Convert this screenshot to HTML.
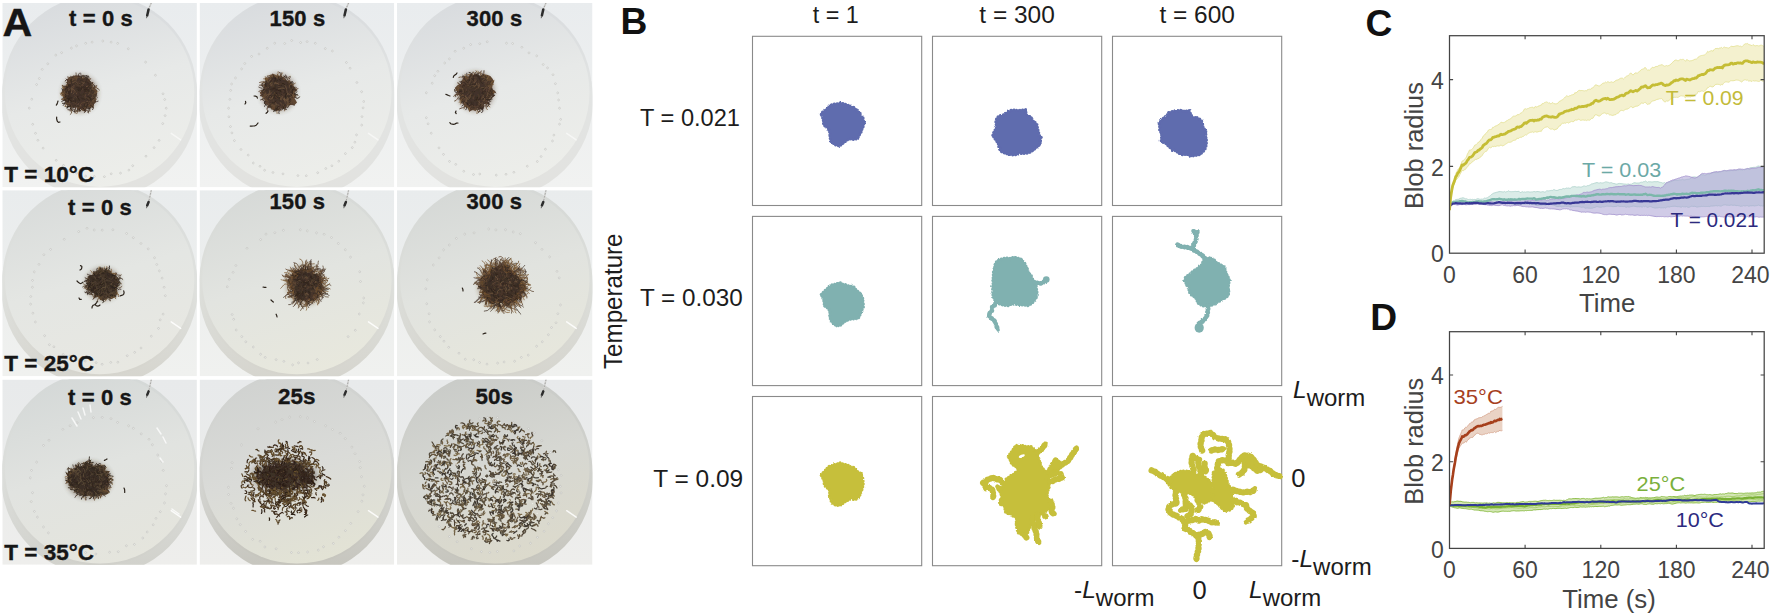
<!DOCTYPE html>
<html lang="en"><head><meta charset="utf-8"><title>Worm blob figure</title>
<style>
html,body{margin:0;padding:0;background:#fff;}
body{width:1772px;height:616px;overflow:hidden;}
svg{display:block;font-family:"Liberation Sans", Arial, Helvetica, sans-serif;}
</style></head><body>
<svg width="1772" height="616" viewBox="0 0 1772 616">
<defs>
<filter id="soft" x="-10%" y="-10%" width="120%" height="120%"><feGaussianBlur stdDeviation="0.45"/></filter>
<filter id="rough" x="0" y="0" width="100%" height="100%" filterUnits="userSpaceOnUse"><feTurbulence type="fractalNoise" baseFrequency="0.28" numOctaves="2" seed="4" result="n"/><feDisplacementMap in="SourceGraphic" in2="n" scale="2.2" xChannelSelector="R" yChannelSelector="G"/></filter>
<filter id="blur2" x="-30%" y="-30%" width="160%" height="160%"><feGaussianBlur stdDeviation="2"/></filter>
<filter id="blur3" x="-30%" y="-30%" width="160%" height="160%"><feGaussianBlur stdDeviation="5"/></filter>
<linearGradient id="cell0" x1="0.3" y1="0" x2="0.6" y2="1"><stop offset="0" stop-color="#d8dbde"/><stop offset="0.5" stop-color="#e7e9e8"/><stop offset="1" stop-color="#edeeea"/></linearGradient>
<linearGradient id="cell1" x1="0.3" y1="0" x2="0.6" y2="1"><stop offset="0" stop-color="#d8dbde"/><stop offset="0.5" stop-color="#e7e9e8"/><stop offset="1" stop-color="#edeeea"/></linearGradient>
<linearGradient id="cell2" x1="0.3" y1="0" x2="0.6" y2="1"><stop offset="0" stop-color="#d8dbde"/><stop offset="0.5" stop-color="#e7e9e8"/><stop offset="1" stop-color="#edeeea"/></linearGradient>
<linearGradient id="cell3" x1="0.3" y1="0" x2="0.6" y2="1"><stop offset="0" stop-color="#d8dbda"/><stop offset="0.5" stop-color="#e4e6e3"/><stop offset="1" stop-color="#e8e8e2"/></linearGradient>
<linearGradient id="cell4" x1="0.3" y1="0" x2="0.6" y2="1"><stop offset="0" stop-color="#d6d9d7"/><stop offset="0.5" stop-color="#e2e4e0"/><stop offset="1" stop-color="#e8e8dd"/></linearGradient>
<linearGradient id="cell5" x1="0.3" y1="0" x2="0.6" y2="1"><stop offset="0" stop-color="#d5d8d6"/><stop offset="0.5" stop-color="#e1e3df"/><stop offset="1" stop-color="#e7e7dc"/></linearGradient>
<linearGradient id="cell6" x1="0.3" y1="0" x2="0.6" y2="1"><stop offset="0" stop-color="#d4d8d7"/><stop offset="0.5" stop-color="#e1e3e0"/><stop offset="1" stop-color="#e5e5dd"/></linearGradient>
<linearGradient id="cell7" x1="0.3" y1="0" x2="0.6" y2="1"><stop offset="0" stop-color="#d0d2d0"/><stop offset="0.5" stop-color="#dadbd8"/><stop offset="1" stop-color="#e3e3d5"/></linearGradient>
<linearGradient id="cell8" x1="0.3" y1="0" x2="0.6" y2="1"><stop offset="0" stop-color="#c9cbc8"/><stop offset="0.5" stop-color="#d6d7d2"/><stop offset="1" stop-color="#dcdacc"/></linearGradient>
<linearGradient id="rim0" x1="0" y1="0" x2="0" y2="1"><stop offset="0" stop-color="#d8dbde"/><stop offset="0.5" stop-color="#e2e4e3"/><stop offset="1" stop-color="#e2e2df"/></linearGradient>
<linearGradient id="rim1" x1="0" y1="0" x2="0" y2="1"><stop offset="0" stop-color="#d8dbde"/><stop offset="0.5" stop-color="#e2e4e3"/><stop offset="1" stop-color="#e2e2df"/></linearGradient>
<linearGradient id="rim2" x1="0" y1="0" x2="0" y2="1"><stop offset="0" stop-color="#d8dbde"/><stop offset="0.5" stop-color="#e2e4e3"/><stop offset="1" stop-color="#e2e2df"/></linearGradient>
<linearGradient id="rim3" x1="0" y1="0" x2="0" y2="1"><stop offset="0" stop-color="#d8dbda"/><stop offset="0.5" stop-color="#dfe1de"/><stop offset="1" stop-color="#d5d4cd"/></linearGradient>
<linearGradient id="rim4" x1="0" y1="0" x2="0" y2="1"><stop offset="0" stop-color="#d6d9d7"/><stop offset="0.5" stop-color="#dddfdb"/><stop offset="1" stop-color="#d5d4cd"/></linearGradient>
<linearGradient id="rim5" x1="0" y1="0" x2="0" y2="1"><stop offset="0" stop-color="#d5d8d6"/><stop offset="0.5" stop-color="#dcdeda"/><stop offset="1" stop-color="#d5d4cd"/></linearGradient>
<linearGradient id="rim6" x1="0" y1="0" x2="0" y2="1"><stop offset="0" stop-color="#d4d8d7"/><stop offset="0.5" stop-color="#dcdedb"/><stop offset="1" stop-color="#d0d0ca"/></linearGradient>
<linearGradient id="rim7" x1="0" y1="0" x2="0" y2="1"><stop offset="0" stop-color="#d0d2d0"/><stop offset="0.5" stop-color="#d5d6d3"/><stop offset="1" stop-color="#c5c4bc"/></linearGradient>
<linearGradient id="rim8" x1="0" y1="0" x2="0" y2="1"><stop offset="0" stop-color="#c9cbc8"/><stop offset="0.5" stop-color="#d1d2cd"/><stop offset="1" stop-color="#c5c4bc"/></linearGradient>
<linearGradient id="bg0" x1="0" y1="0" x2="0" y2="1"><stop offset="0" stop-color="#e9ecee"/><stop offset="1" stop-color="#f1f2f1"/></linearGradient>
<linearGradient id="bg1" x1="0" y1="0" x2="0" y2="1"><stop offset="0" stop-color="#e9eced"/><stop offset="1" stop-color="#f0f1ef"/></linearGradient>
<linearGradient id="bg2" x1="0" y1="0" x2="0" y2="1"><stop offset="0" stop-color="#e8eaeb"/><stop offset="1" stop-color="#eeeeec"/></linearGradient>

<clipPath id="clip0"><rect x="2.3" y="2.9" width="194.6" height="184.3"/></clipPath>
<clipPath id="clip1"><rect x="199.6" y="2.9" width="194.6" height="184.3"/></clipPath>
<clipPath id="clip2"><rect x="397" y="2.9" width="195.5" height="184.3"/></clipPath>
<clipPath id="clip3"><rect x="2.3" y="190.2" width="194.6" height="186"/></clipPath>
<clipPath id="clip4"><rect x="199.6" y="190.2" width="194.6" height="186"/></clipPath>
<clipPath id="clip5"><rect x="397" y="190.2" width="195.5" height="186"/></clipPath>
<clipPath id="clip6"><rect x="2.3" y="379.6" width="194.6" height="185.2"/></clipPath>
<clipPath id="clip7"><rect x="199.6" y="379.6" width="194.6" height="185.2"/></clipPath>
<clipPath id="clip8"><rect x="397" y="379.6" width="195.5" height="185.2"/></clipPath>
</defs>
<g id="panelA">
<g clip-path="url(#clip0)">
<rect x="2.3" y="2.9" width="194.6" height="184.3" fill="url(#bg0)"/>
<circle cx="99.6" cy="100.5" r="98.3" fill="url(#rim0)"/>
<circle cx="99.6" cy="91.9" r="97.1" fill="url(#rim0)"/>
<circle cx="99.6" cy="92.2" r="94.7" fill="url(#cell0)"/>
<g fill="#f6f6f4" stroke="#b4b4b0" stroke-width="0.55" opacity="0.85"><circle cx="166.2" cy="108.2" r="0.9"/><circle cx="165.1" cy="115.6" r="0.9"/><circle cx="162.7" cy="123.6" r="0.9"/><circle cx="159.1" cy="140.4" r="0.9"/><circle cx="154.1" cy="147.6" r="0.9"/><circle cx="146" cy="156.2" r="0.9"/><circle cx="132.7" cy="165.7" r="0.9"/><circle cx="128.9" cy="170.1" r="0.9"/><circle cx="120.5" cy="173.1" r="0.9"/><circle cx="111.2" cy="173.8" r="0.9"/><circle cx="104.4" cy="176.7" r="0.9"/><circle cx="94.3" cy="176.5" r="0.9"/><circle cx="85.7" cy="176.1" r="0.9"/><circle cx="76.6" cy="173.1" r="0.9"/><circle cx="69.2" cy="170.6" r="0.9"/><circle cx="63.5" cy="165.4" r="0.9"/><circle cx="56.2" cy="160.3" r="0.9"/><circle cx="43.1" cy="148.1" r="0.9"/><circle cx="37.9" cy="140.3" r="0.9"/><circle cx="35.5" cy="133.3" r="0.9"/><circle cx="32.7" cy="124.3" r="0.9"/><circle cx="29.3" cy="108.1" r="0.9"/><circle cx="31.8" cy="99.2" r="0.9"/><circle cx="36.6" cy="84.6" r="0.9"/><circle cx="39.3" cy="78.5" r="0.9"/><circle cx="42.2" cy="69.4" r="0.9"/><circle cx="47.8" cy="63.8" r="0.9"/><circle cx="55.8" cy="55.1" r="0.9"/><circle cx="61.6" cy="52.7" r="0.9"/><circle cx="71.4" cy="48.1" r="0.9"/><circle cx="76.5" cy="45.9" r="0.9"/><circle cx="85.7" cy="43.3" r="0.9"/><circle cx="92.1" cy="42.1" r="0.9"/><circle cx="102.8" cy="41" r="0.9"/><circle cx="111.1" cy="42.1" r="0.9"/><circle cx="117.7" cy="43.4" r="0.9"/><circle cx="128.3" cy="48.8" r="0.9"/><circle cx="145.6" cy="62.1" r="0.9"/><circle cx="155.4" cy="75.2" r="0.9"/><circle cx="163" cy="93.8" r="0.9"/><circle cx="164.7" cy="99.5" r="0.9"/></g>
<path d="M151.3 2.9 L148.9 8.4" stroke="#d4d4d2" stroke-width="1.6" fill="none"/>
<path d="M151.3 2.9 L148.9 8.4" stroke="#9a9a98" stroke-width="0.8" fill="none" stroke-dasharray="1.5 1.5"/>
<path d="M148.6 9.4 L147.2 15.5" stroke="#2c2c2c" stroke-width="2.5" fill="none" stroke-linecap="round"/>
<path d="M147 16 l-0.5 2.2" stroke="#6a6a68" stroke-width="1" fill="none"/>
<path d="M171.2 133.4 l9.5 6.5" stroke="#ffffff" stroke-width="1.5" opacity="0.55" fill="none" stroke-linecap="round"/>
<g filter="url(#soft)">
<ellipse cx="80" cy="93.5" rx="18.3" ry="19.3" fill="#5e4632" opacity="0.4" filter="url(#blur2)"/>
<path d="M96.7 93.5 L95.8 96.1 L95.9 98.9 L96 102.1 L94 104.3 L93.6 107.9 L89.3 107.1 L86.8 107.6 L85.7 112.1 L82.6 110.8 L80 109 L77.6 109.7 L76 106.6 L73.5 107 L70.5 107.3 L68.3 105.8 L66.2 104.1 L65.3 101.4 L63.2 99.3 L63.2 96.3 L60.7 93.5 L62.5 90.6 L62.6 87.5 L65.5 85.7 L67.2 83.7 L67 79.8 L68.8 77.2 L71.8 76.4 L74.6 76 L77.3 75.8 L80 76 L82.3 78 L85.1 77.1 L87.3 78.3 L88.7 80.8 L90.3 82.6 L92.2 84.2 L92.9 86.5 L95.3 88.3 L97.3 90.6Z" fill="#5e4632"/>
<path d="M93.5 93.5 L93.3 95.7 L93 98 L91.9 99.9 L90.5 101.6 L89.7 103.8 L88.3 105.6 L86.3 106.5 L84 106.5 L82.2 107.9 L80 108.9 L78.1 106.4 L75.6 107.8 L73.1 107.8 L71.1 106.4 L68.9 105.2 L67.6 103.1 L66.9 100.6 L63.7 99.1 L65.3 96 L64.3 93.5 L65 91 L68.1 89.4 L69.2 87.7 L68.8 84.9 L70.5 83.4 L72.9 83.2 L74.5 82.1 L76.2 81.2 L77.7 78 L80 77.9 L82 79.9 L84.9 77.4 L87.7 77.4 L89.4 79.8 L90.3 82.6 L91.9 84.4 L91.3 87.4 L91.4 89.6 L95 91Z" fill="#42322a"/>
<path d="M70.7 80 70.4 78.5 69.7 77.2 M65.4 90.9 64.3 91.9 63.7 93.3 M70.7 108.4 70 109.7 70.2 111.2 M67.1 99.8 65.6 99.9 64.1 99.8 M76.1 75.9 76.2 74.4 76 72.9 M94.1 86.9 95.4 86.1 96.8 85.6" stroke="#5a4430" stroke-width="0.75" fill="none" stroke-linecap="round"/>
<path d="M63.7 88.6 62.8 87.4 62.2 86 M65.8 87.9 64.3 87.7 62.8 87.5 M78.6 108.4 79.2 109.7 79.7 111.2 M95.3 92.9 96.8 92.5 97.9 91.4 M63.2 93.4 61.7 93.3 60.2 93.2 M83 78.2 82.8 76.7 83 75.2" stroke="#86663f" stroke-width="0.75" fill="none" stroke-linecap="round"/>
<path d="M89.9 104.7 90 106.2 90.5 107.7 M75.5 78 74.7 76.7 73.8 75.5 M65.1 86 63.6 86 62.3 85.3 M68.5 83.7 67.2 83 66 82.1 M65.9 98.8 64.4 98.9 63 99.3 M67.9 106.6 66.4 106.6 64.9 106.4 M77.9 110.9 77.4 112.4 76.7 113.7 M90 108.5 89.8 110 90 111.5" stroke="#6a4c2c" stroke-width="0.75" fill="none" stroke-linecap="round"/>
<path d="M66.5 97.9 65.1 98.5 64.1 99.5 M89.1 80.9 89.9 79.7 90.7 78.4 M78 109.1 77.1 110.2 76.4 111.6 M93.8 88.1 95.2 87.6 96.2 86.5" stroke="#5e4228" stroke-width="0.75" fill="none" stroke-linecap="round"/>
<path d="M62.9 96 61.4 95.6 60.6 94.4 M70.5 80.8 69.4 79.8 68.3 78.9 M64.6 99.3 63.1 99.6 61.7 99.2 M93.2 87.4 94.7 87.2 96.1 87 M66.3 103.3 65.6 104.6 65.5 106.1 M75.1 110.3 75.2 111.7 75.2 113.2 M64.2 96.3 62.7 95.9 62 94.6" stroke="#7a5a36" stroke-width="0.75" fill="none" stroke-linecap="round"/>
<path d="M66.7 101.6 65.5 102.6 64.8 103.9 M78.3 75.8 78.7 74.3 79.5 73.1 M73.3 77.7 71.9 77.2 70.6 76.4 M65.4 90.4 64 89.9 62.6 90.4 M95.2 101.9 96.7 101.6 98.1 101.2" stroke="#3e3028" stroke-width="0.75" fill="none" stroke-linecap="round"/>
<path d="M88.2 107.4 89.5 108.1 91 107.9 M72.7 106.5 71.6 107.5 70.7 108.7 M94.9 95.7 96.2 96.5 97.4 97.5 M81.5 76.1 80.9 74.7 80.7 73.2 M78.8 77.8 78.1 76.5 78.3 75 M74.6 109.4 74.7 110.9 74.8 112.4 M63.7 97.3 62.5 98.2 61.8 99.5 M86.7 78.4 87.9 77.5 88.3 76 M92.5 102 93.1 103.3 93.6 104.8" stroke="#4a3a30" stroke-width="0.75" fill="none" stroke-linecap="round"/>
<path d="M88.7 85.2 87.5 86.2 86.1 86.7 M84.9 82.9 83.4 82.8 81.9 82.5 M73.5 89.2 72.1 89.6 71.6 91.1 71.5 92.6 M89.2 92.3 89.3 93.8 88.3 95 M87.9 81.4 89.2 80.8 89.6 79.3 88.8 78 M68.4 103.3 69.5 102.3 69.7 100.8 M84.3 103.3 85.7 102.7 86.8 101.7 88.1 100.9 M73 86.1 72 87.2 71.5 88.6 71.1 90.1 70.3 91.4 M71.5 108.9 71.4 110.4 71.6 111.9 71.4 113.3 70.2 114.4 M91.8 86 93 85.2 93.9 83.9 M89.9 82.3 89.9 83.8 89.5 85.3 M65.6 87.5 66.6 86.3 66.6 84.8 M91.5 97.8 92.5 96.6 92.7 95.1 91.7 94 90.4 93.3 M73.2 100.2 73.4 98.7 74 97.4 75.3 96.6 M92.9 82.4 92.2 83.8 91 84.7 M67.9 92.1 66.8 93.2 65.6 94 64.6 95.1 M86.6 90.6 87.8 89.8 89.3 89.4 M87.9 109 87.7 107.5 86.7 106.3 85.6 105.3 M78.7 102.8 78.4 104.3 77.3 105.3 75.9 105.8 M72.8 82.6 73.9 81.6 75.4 81.4 76.6 82.2" stroke="#6c543c" stroke-width="0.9" fill="none" stroke-linecap="round"/>
<path d="M87.1 97.7 85.9 98.6 84.8 99.6 84.4 101.1 M82.1 80.9 80.7 80.4 80.3 79 M82.8 100.1 82.6 98.6 82.8 97.1 83.9 96.1 85.4 96.6 M85.2 110.2 85.7 108.7 86.8 107.7 86.6 106.2 M94.1 98.2 94.5 96.7 95.7 95.9 96.5 94.6 96.7 93.1 M86.7 105.4 87.6 106.6 89 107.3 90.5 107.4 M69.8 84.4 69.8 82.9 70.2 81.4 70.3 79.9 M69.2 95.3 67.7 95.1 66.4 95.9 M79.4 88.3 79.5 86.8 80.9 86.1 81.5 84.8 M72.7 99.9 74.1 100.5 74.4 102 74 103.4 M72 100.5 70.7 99.7 69.9 98.5 70.2 97 M75.3 96.5 74 97.1 73.6 98.6 74.5 99.8 M83.9 105.5 83.4 106.9 82.5 108 81.7 109.3 M84.6 94.4 83.1 94.7 81.6 94.8 80.1 94.9 79 95.8 M86 97.4 87.2 98.2 88 99.4 88.2 100.9 M84.1 89 82.7 88.7 81.2 88.8 79.9 89.6 M85.2 91.1 85.8 89.8 87.3 89.3 88.6 90 89.9 90.8 M77 87.2 77.2 85.7 76.5 84.4 75.1 83.7 73.6 83.6 M77.3 89.4 78.7 88.9 80.2 88.7 81.7 89 M84.7 79.6 83.2 79.8 81.7 79.8 80.2 80.2 M85.4 98.5 83.9 98.4 82.7 99.3 81.4 100 80.3 101.1 M73.4 89.4 74.8 88.8 75.9 87.8 75.5 86.3 M81.1 76.7 82.3 75.7 83.8 75.8 85.1 76.4 85.9 77.7 M80.5 100.9 79.1 100.5 78.1 99.3 77.4 98 76 97.3 M87.8 95.4 88.2 96.8 89.3 97.8 90.8 97.7 M83.3 94.3 81.9 94.8 80.5 95.4 79 95.2 M79.4 111 79.3 109.5 80.4 108.4 M91.1 89.1 89.8 88.4 88.4 87.8 87.1 88.4 86.8 89.9 M75.9 86.3 76.6 85 76.8 83.5 M92.9 97.1 93.6 95.8 94.5 94.6 95.9 94.1" stroke="#3e3028" stroke-width="0.9" fill="none" stroke-linecap="round"/>
<path d="M84.6 110.5 84.2 109 83.1 108.1 M89.4 100.9 90.4 99.8 90.2 98.4 89.3 97.2 87.8 96.9 M63.8 91.2 62.9 90 61.8 89 M86.3 77.2 87.7 76.6 89.1 77.1 M65.7 90.5 66.6 89.4 66.8 87.9 66.3 86.4 M85.2 86.5 83.9 85.9 82.6 85.1 81.5 84.1 80.1 83.5 M77.8 96.3 77.8 97.8 78.9 98.8 79.3 100.3 M67.9 101.8 68.6 100.5 68.9 99 M81.2 90.7 79.8 90.2 78.3 90.4 M71.7 101.8 70.8 100.6 69.5 99.8 68.2 99.1 M67.3 101.2 65.9 100.7 64.4 100.3 63 100.7 61.7 101.5 M71.9 97.8 70.5 98.1 69 98.3 67.5 98.2 M78.7 76.1 80.2 76.1 81.5 76.9 81.8 78.3 M66.3 89.9 66.8 88.5 67.7 87.4 68.1 85.9 69.3 85 M89.6 108.1 89 109.5 88.9 111 88.2 112.3 M84.3 89.2 85.6 89.8 87.1 89.7 88.6 89.5 M65.9 96.9 64.9 95.8 65.5 94.4 66.9 93.8 M86.5 107.9 88 108.1 89.3 108.8 M65 93.8 64.9 92.3 65.6 90.9 66.1 89.5 66.6 88.1" stroke="#2e221b" stroke-width="0.9" fill="none" stroke-linecap="round"/>
<path d="M67.6 82.7 68.2 81.3 67.2 80.2 66.2 79 M79.8 77 80.5 78.3 80.6 79.8 80.3 81.3 M78 94.7 78.7 93.4 80 92.7 81.3 91.9 81.9 90.6 M82.6 96.5 83 95 83.5 93.6 M67.7 100.1 66.9 101.3 67.6 102.7 68.9 103.5 M69.2 79.8 67.7 79.5 66.3 79.8 65.2 80.9 M64.7 96.6 65.8 95.6 66.5 94.3 66.9 92.8 M79.6 86.1 79.5 84.6 80.1 83.3 79.7 81.8 M83.3 105.4 83.1 103.9 82.6 102.5 M70.4 82.8 71.8 83.2 73.2 83.9 74.4 84.7 M90.3 105 89.3 103.8 89.1 102.4 90.3 101.5 91.8 101.6 M69 95 68.4 93.6 67.2 92.8 66.1 91.8 M70.2 91.5 68.7 91.3 67.3 90.8 65.8 90.5 M68.2 88 66.8 87.5 65.4 87 63.9 86.7 62.7 85.8 M81.2 99.6 80.8 101.1 79.8 102.2 78.5 102.8 M67.1 83.4 68.2 84.4 69.7 84.4 71.1 83.9 72.4 84.6 M85 100.1 84.3 98.8 83.4 97.6 M83.2 90.9 82.4 92.2 81.1 92.8 80.1 93.9 M84.9 99.7 84.4 101.2 83 101.6 81.5 101.6 M73.4 103.3 74.1 104.6 74 106.1 73.4 107.5 M84.4 109.4 85.7 110.2 85.4 111.7 84.2 112.5 M88.7 97.5 89.6 98.7 89.4 100.2 M77.8 87.4 76.8 86.2 75.3 86.2 74.4 87.4 M85.2 95.6 86.7 95.9 88.1 95.4 89.5 95 90.8 94.1 M84.9 102.9 83.4 102.7 82 102.5 80.7 101.8 M86.2 76.8 85.4 78.1 84.1 78.9 M75.8 89.1 75.9 90.6 75.1 91.8 73.6 92 M82.4 94 83.1 95.3 84.3 96.3 85.6 96.9 M77.9 82.7 78.9 81.6 80.3 81.1 M75.3 85.8 73.9 85.6 72.9 86.7 72.9 88.2 73 89.7 M82.3 103.9 80.8 103.9 79.3 103.5 78.4 102.3 77.3 101.3" stroke="#46342a" stroke-width="0.9" fill="none" stroke-linecap="round"/>
<path d="M67.4 104.1 68.7 103.4 70.2 103.5 71 104.8 71.5 106.2 M69.2 94.7 67.9 94 66.4 94.2 65.4 93.1 64.8 91.7 M84 83 82.9 84 82 85.2 M85.6 94.7 85 96.1 85 97.6 86.4 98.2 M71.9 89.2 70.4 89.1 69.1 89.9 67.8 90.6 M80.5 104.8 80.6 106.3 79.8 107.6 78.3 107.7 M82.2 81.4 81.6 82.8 80.4 83.7 78.9 83.8 77.4 83.6 M71.1 104.4 69.7 105 68.3 105.5 67.1 106.4 M73.3 89.2 74 90.5 75.3 91.3 76.2 92.4 76.6 93.9 M94.5 86.8 95.9 87.3 97 88.2 98.3 89 99.4 90 M89.3 104.4 88.1 103.4 88.1 101.9 M64.6 91.8 65.4 90.5 66.8 89.8 M88.4 86 88 87.4 88.2 88.9 M80.3 86.4 79.5 85.2 78.5 84 77.9 82.6 M70.9 82.9 69.6 83.6 68.2 83.5 M74.5 90 74.1 91.4 74.1 92.9 73.1 94 M91.3 100.8 92.8 101.1 94.2 100.5 95.5 99.9 96.7 98.9 M63.8 96 64.5 94.6 64.6 93.1 64.5 91.7 63.5 90.5 M71.6 78.7 70.4 79.5 68.9 79.5 68.2 78.1 67.9 76.7 M68.6 89.1 70 89.7 71.4 90.3 72.7 89.5 M92.5 87.5 92.8 89 91.7 90.1 90.3 90 M71.8 88.8 73.2 88.2 73.8 86.8 74 85.3 M81 106.1 80.7 104.6 81.4 103.2 82.8 102.7 84.3 102.6" stroke="#624a36" stroke-width="0.9" fill="none" stroke-linecap="round"/>
<path d="M74.8 95.6 75.8 96.6 76.8 97.8 M82.6 88.3 81.3 87.5 80.8 86.1 79.7 85.1 M85.8 110.2 87.3 110.3 87.9 111.6 88.5 113 M79.8 106.6 79.2 105.3 78 104.4 76.5 104.4 75.3 103.6 M66.8 94.5 68.2 94.9 69.6 95.5 M72.1 101.9 73.4 102.5 74.8 103.1 76.2 103.6 77 104.9 M86.1 80.8 87.6 81.2 89.1 81 M81.9 90.2 82.6 88.8 82.8 87.4 82.5 85.9 82.7 84.4 M73.9 87.3 72.4 87.2 71.5 85.9 71.5 84.4 M86 103.7 86.2 105.2 85.5 106.5 84.4 107.5 M89.2 101.4 90.3 102.5 91.1 103.7 91.2 105.2 M84.6 86.6 83.5 85.6 82.3 84.8 80.8 85.1 M96.7 95.9 96.5 94.4 96 93 95 91.8 M75.6 83.7 76.3 85 77.6 85.6 79.1 85.8 M89.9 101.9 90.1 100.4 89.1 99.3 88 98.3 86.6 97.8 M66 88.7 67.5 89.1 69 89 70.4 89.6 70.9 91 M95 98.5 93.7 97.8 92.3 97.4" stroke="#584232" stroke-width="0.9" fill="none" stroke-linecap="round"/>
<path d="M83.1 94.3 84.3 93.4 84.8 92.1 M78.9 108.6 79.5 110 80.7 110.8 M76.8 110.3 78.3 109.9 79.6 109.2 M68.1 84 69.4 84.7 70.9 85 72.4 85 M83.5 86.8 82.3 87.7 81.4 88.9 M84.7 99.7 83.5 98.9 82 98.8 81.2 97.6 M71.1 101 72.5 101.4 74 101 M68.8 92 69 93.5 69 95 68.6 96.5 M87.7 104.3 87.1 105.7 86 106.7 84.5 106.9 M82.7 76.4 84.2 76.1 85.7 75.8 87.1 75.5 M75.7 102.7 75.5 101.2 75.7 99.7 M67.8 87.4 66.3 87.6 65.3 88.6 65.4 90.1 M81.6 89.4 80.2 88.8 78.7 88.7 77.3 89.3 M87.1 87.6 88.5 87.2 88.8 85.7 88.1 84.4 M84.7 105.7 84.3 104.2 85.1 103 86.5 102.5 88 102.7 M70.5 89.6 70.8 91 69.7 92.1 68.5 93.1 M70.1 91.6 68.6 91.7 67.7 90.6 67.1 89.2 M79.5 87.9 78.1 87.4 76.6 87.6 M84.6 92.2 85.9 91.5 87.1 90.7 88.6 90.4 89.7 91.5 M70.9 104.5 70.3 105.9 70.5 107.4 70.5 108.9 M87.4 89 86 89.5 84.7 90.2 M86.6 89.9 86.2 88.5 85 87.6 83.6 87.1 82.1 86.9 M66 88.3 67.4 88.1 68.3 86.8 69.6 86.1 71.1 86.1 M81.6 86.8 81.2 88.3 79.9 89 78.4 89.3" stroke="#36281f" stroke-width="0.9" fill="none" stroke-linecap="round"/>
<path d="M86.6 79.3 86.5 80.8 87.4 82 88.1 83.4 M68.9 85 70.4 85 71.6 84.1 M93.8 88.2 94.2 86.8 94.4 85.3 M91.7 90.1 91.2 91.5 90.8 92.9 91.2 94.4 M83.1 79.7 81.7 80.2 80.3 80.6 M69.5 93.4 69.7 94.9 69.7 96.4 69.9 97.9 70.7 99.1 M67.4 105.3 66.7 104 65.4 103.2 63.9 103.4 62.4 103.3 M81.9 82.5 82.8 81.4 84.3 81.4 85.8 81.5 M76.4 92.4 77.9 92.3 79.3 91.8 M91.6 87.3 90.4 88.2 89.6 89.5 M92.7 83.3 91.3 83.8 90.1 84.7 89.4 86 M87.9 84.7 88.5 83.3 87.6 82.1 86.1 82.2 84.8 83 M80.5 86 79.6 84.8 78.5 83.8 M78.6 99.2 77.5 100.3 77.6 101.8 78.6 102.8 M81.7 83.2 80.5 84.1 79.1 84.6 M91.2 100.5 89.7 100.4 88.3 100.3 87.2 99.2 86.2 98.1 M70.3 79.6 71.1 80.8 71.6 82.2 M79.9 88.1 80.1 89.5 80.2 91 M65.7 101.5 64.8 102.7 64.2 104.1 63.3 105.4 M83.1 88 84 86.8 85.5 86.6 86.6 87.6 M66.1 92.7 66.6 91.3 67.4 90 M79.1 106.7 78 105.8 76.6 105.2 75.1 105.7 73.8 106.3 M64.3 99.7 65.8 99.4 66.9 98.4 M88.3 81.6 89.3 82.8 89.7 84.2 89.4 85.7 89.1 87.1 M84.2 90.6 85.2 91.8 86.7 92 88.1 91.7 88.6 90.2 M81.3 95.5 80 94.7 79.2 93.5 M94.3 98 93 98.8 92 99.9 90.7 100.7 M88.3 80.3 89.6 80.9 90.7 82 90.7 83.5 89.6 84.6 M88.2 93.2 88.2 91.7 87.9 90.2 87.6 88.8 M72.4 107.9 71.7 109.2 72.3 110.5 73.6 111.3 75.1 111.6 M90.2 105.7 91.7 105.9 92.9 106.8 93.3 108.2 92.6 109.6 M72.4 81.7 73.6 80.8 75 80.2 M71.6 78.9 71.4 80.4 71.2 81.9 71.5 83.3" stroke="#3a2c24" stroke-width="0.9" fill="none" stroke-linecap="round"/>
<path d="M73.5 91.5 75 91.7 76.3 92.3 77.8 92.3 M74.8 106.4 75.5 107.7 75.5 109.2 74.9 110.5 M91.6 82.5 90.4 81.6 89.3 80.6 88.1 79.7 M89.5 86.7 91 86.4 92.3 85.8 M80.2 110.6 78.7 110.9 77.2 111.3 M77.9 84.5 76.4 84.4 75.3 83.3 74.4 82.2 M77.2 76 75.7 75.8 74.3 76.3 72.8 76.5 M82.8 104.5 82.6 103 83.4 101.8 84.7 101 M77.7 109.9 77.8 108.4 78.5 107 80 106.7 81.4 106.8 M92.7 95.7 92 94.3 90.9 93.3 M92.6 103.6 94.1 103.1 94.7 101.7 94.5 100.2 M77.2 81.7 75.8 81 74.3 81 72.9 81.4 M73.6 109.1 72.4 110 70.9 110 69.4 109.9 67.9 109.7 M74.9 78.6 75.2 80.1 74.2 81.2 M71.9 104.9 71.9 106.4 71.5 107.9 M83.3 77.5 82.9 79 83.4 80.4 84.6 81.2 M93.8 90.5 93 91.7 91.5 92 90 91.7 M79.2 80.7 78.3 81.9 78.1 83.4 78.2 84.9 M90.1 92.7 88.7 93.1 87.5 92.1 86 92.4 84.6 92.9 M91.3 103.1 90.7 101.8 90 100.4 M84 81.1 84.7 79.8 85.6 78.5 M76.8 102 75.9 103.2 74.5 103.7 73.2 104.4 M92.5 82.5 92.5 84 93.4 85.2" stroke="#4e3a2c" stroke-width="0.9" fill="none" stroke-linecap="round"/>
</g>
<path d="M58 101 57.6 102.4 57.1 103.9 56.3 105.1 M60 122 58.5 122.4 57.4 121.4 56.9 120 56.6 118.5 56.7 117 M67 108 67.8 106.7 69.3 106.6" stroke="#2c241c" stroke-width="1.2" fill="none" stroke-linecap="round"/>
</g>
<g clip-path="url(#clip1)">
<rect x="199.6" y="2.9" width="194.6" height="184.3" fill="url(#bg0)"/>
<circle cx="296.9" cy="100.5" r="98.3" fill="url(#rim1)"/>
<circle cx="296.9" cy="91.9" r="97.1" fill="url(#rim1)"/>
<circle cx="296.9" cy="92.2" r="94.7" fill="url(#cell1)"/>
<g fill="#f6f6f4" stroke="#b4b4b0" stroke-width="0.55" opacity="0.85"><circle cx="363.1" cy="107.9" r="0.9"/><circle cx="362" cy="116.6" r="0.9"/><circle cx="361.7" cy="125.1" r="0.9"/><circle cx="356.5" cy="134.9" r="0.9"/><circle cx="354.9" cy="142.2" r="0.9"/><circle cx="352.3" cy="147.6" r="0.9"/><circle cx="345.4" cy="153.6" r="0.9"/><circle cx="338.8" cy="161.2" r="0.9"/><circle cx="331.9" cy="165.8" r="0.9"/><circle cx="325.8" cy="168.5" r="0.9"/><circle cx="317.7" cy="172.7" r="0.9"/><circle cx="306.3" cy="175.8" r="0.9"/><circle cx="297.9" cy="175.6" r="0.9"/><circle cx="283" cy="173.9" r="0.9"/><circle cx="273" cy="172.5" r="0.9"/><circle cx="264.6" cy="170.2" r="0.9"/><circle cx="260" cy="166.3" r="0.9"/><circle cx="253.3" cy="163" r="0.9"/><circle cx="248.2" cy="155.1" r="0.9"/><circle cx="241" cy="149.5" r="0.9"/><circle cx="234.4" cy="140.6" r="0.9"/><circle cx="231.9" cy="132.9" r="0.9"/><circle cx="230.5" cy="126.6" r="0.9"/><circle cx="228.9" cy="116.8" r="0.9"/><circle cx="228.6" cy="108.2" r="0.9"/><circle cx="229.9" cy="99.4" r="0.9"/><circle cx="230.7" cy="90.4" r="0.9"/><circle cx="231.6" cy="84" r="0.9"/><circle cx="235.5" cy="78" r="0.9"/><circle cx="241.6" cy="68.9" r="0.9"/><circle cx="244.8" cy="63.5" r="0.9"/><circle cx="251.6" cy="56.4" r="0.9"/><circle cx="259" cy="54" r="0.9"/><circle cx="267.2" cy="48.3" r="0.9"/><circle cx="274.7" cy="43.2" r="0.9"/><circle cx="284.7" cy="43.5" r="0.9"/><circle cx="291.7" cy="40.5" r="0.9"/><circle cx="300.6" cy="42.6" r="0.9"/><circle cx="307.1" cy="41.6" r="0.9"/><circle cx="315.3" cy="43.3" r="0.9"/><circle cx="325.3" cy="48.6" r="0.9"/><circle cx="332.4" cy="51" r="0.9"/><circle cx="346.4" cy="62.5" r="0.9"/><circle cx="350.1" cy="68.2" r="0.9"/><circle cx="356.9" cy="82.5" r="0.9"/><circle cx="361.6" cy="91.7" r="0.9"/><circle cx="363.8" cy="101.5" r="0.9"/></g>
<path d="M348.6 2.9 L346.2 8.4" stroke="#d4d4d2" stroke-width="1.6" fill="none"/>
<path d="M348.6 2.9 L346.2 8.4" stroke="#9a9a98" stroke-width="0.8" fill="none" stroke-dasharray="1.5 1.5"/>
<path d="M345.9 9.4 L344.5 15.5" stroke="#2c2c2c" stroke-width="2.5" fill="none" stroke-linecap="round"/>
<path d="M344.3 16 l-0.5 2.2" stroke="#6a6a68" stroke-width="1" fill="none"/>
<path d="M368.5 133.4 l9.5 6.5" stroke="#ffffff" stroke-width="1.5" opacity="0.55" fill="none" stroke-linecap="round"/>
<g filter="url(#soft)">
<ellipse cx="278.5" cy="92.5" rx="18.3" ry="19.3" fill="#5e4632" opacity="0.4" filter="url(#blur2)"/>
<path d="M294.7 92.5 L295.7 95.4 L294.4 97.9 L297 102.5 L294.6 104.9 L290.2 104.9 L287.4 105.5 L285.7 107.4 L283.6 109.1 L280.8 108.2 L278.5 111 L275.8 110.6 L273 110.3 L270.9 108.3 L269 106.3 L267 104.7 L264.3 103.4 L264.6 100 L263 97.8 L261.2 95.4 L259.7 92.5 L263.4 90 L264.4 87.6 L263.4 84.4 L265.8 82.8 L264.6 77.8 L268.5 78 L270.3 75.5 L272.7 73.6 L275.9 75.3 L278.5 76.1 L281.1 75.4 L283 77.8 L285.3 78.4 L286.4 81 L289.8 80.6 L291.6 82.5 L293.2 84.6 L293.7 87.3 L297.3 89.4Z" fill="#5e4632"/>
<path d="M293.8 92.5 L291.7 94.7 L293.1 97.5 L290.8 99.1 L290.1 101.4 L287.8 102.4 L286.5 104.2 L286.1 108.2 L283.1 107.5 L280.9 108.3 L278.5 110.1 L276.4 106.4 L274.8 104.6 L273.2 103.5 L271.2 103.1 L268.5 103.1 L268.3 100.3 L266.6 98.9 L265.2 97.1 L267.1 94.4 L265.6 92.5 L264.5 90.2 L263.7 87.4 L265.4 85.4 L265.1 82.2 L267.1 80.5 L269.8 79.8 L271.3 77.5 L273.9 77.5 L276.3 78.1 L278.5 79.3 L280.7 77.8 L282.4 79.8 L284.3 80.5 L287 80.2 L286.9 83.6 L290.2 83.5 L289 86.9 L292.4 87.7 L293.3 90Z" fill="#42322a"/>
<path d="M277.8 74.9 278.1 73.4 278 71.9 M263.4 95.5 261.9 95.5 260.4 95.7 M292.4 96.1 293.9 95.8 295.4 95.5 M267.2 81.9 267.1 80.4 266.8 78.9 M281.2 75.6 281.8 74.2 282.5 72.9 M292.8 95.6 294 96.6 295.2 97.4 M263.2 97.3 262.6 98.7 262.8 100.2" stroke="#86663f" stroke-width="0.75" fill="none" stroke-linecap="round"/>
<path d="M275.8 77.7 275.4 76.3 275.1 74.8 M266.4 79.8 265.1 79 263.6 78.8 M267.4 78.6 266.1 77.9 265.3 76.6 M263.9 87.9 263.2 86.6 262.1 85.5 M292.7 84.7 294 84 295.3 83.2 M268.5 79.2 267.6 78 266.1 77.7 M272.7 77.2 271.8 76.1 270.6 75.1 M276.5 110.6 277 112 277.1 113.5 M264 94.3 262.6 94.9 261.1 95.2" stroke="#7a5a36" stroke-width="0.75" fill="none" stroke-linecap="round"/>
<path d="M264.7 86.1 263.2 85.6 261.7 85.6 M290 101.6 290.3 103.1 290.1 104.6 M295.3 89.8 296.5 89 298 88.6 M293.1 86.9 294.4 87.8 295.4 88.8 M293.6 95.4 295 95.8 296.2 96.7 M278.8 76.7 277.9 75.5 277.2 74.2 M272.7 106.8 273.3 108.2 274.6 108.9" stroke="#5e4228" stroke-width="0.75" fill="none" stroke-linecap="round"/>
<path d="M293.9 90.5 295.3 90.9 296.8 90.5 M262.5 93.1 261.8 94.4 261 95.7 M264.3 90.3 262.8 90 261.3 90.3 M287.5 80 287 78.6 286.1 77.4 M264.6 97.9 263.5 99 262.1 99.3 M291.8 104.2 293.1 105 294.6 105.2 M281.7 77.6 281.5 76.1 280.4 75" stroke="#4a3a30" stroke-width="0.75" fill="none" stroke-linecap="round"/>
<path d="M295.1 95.6 296.5 95 298 95.4 M287.6 79.2 288.4 77.9 289.1 76.6 M290 102.2 291 103.4 291.8 104.6 M290.2 103.5 291.7 103.6 293.1 103.4 M293.4 87.2 294.9 87.1 296.4 87.5" stroke="#5a4430" stroke-width="0.75" fill="none" stroke-linecap="round"/>
<path d="M266.4 104.3 265.1 105.1 264.5 106.5 M261.6 88.2 260.2 87.7 258.8 87.1 M263.3 99.1 261.9 99.4 260.5 99.9 M263 86.3 262.2 85.1 262.4 83.6 M280.8 75.4 281.3 74 281 72.5 M290.5 83.6 291.6 82.7 292.4 81.4" stroke="#3e3028" stroke-width="0.75" fill="none" stroke-linecap="round"/>
<path d="M264.6 82.6 263.1 82.6 261.8 83.3 M284.5 107.9 285 109.3 284.6 110.8 M280.5 77 279.2 76.1 277.8 75.6 M270.8 79.4 269.7 78.3 269.1 77" stroke="#6a4c2c" stroke-width="0.75" fill="none" stroke-linecap="round"/>
<path d="M272.1 106.5 271.1 107.7 271.4 109.1 M279.2 94.6 277.9 93.7 276.5 93.3 275.1 93.8 M265.9 81.9 264.4 82.3 263.1 83 262.2 84.2 261.3 85.4 M282 90.6 281.8 92.1 282.3 93.5 282.8 95 283.5 96.3 M282.4 93.5 283.6 94.4 285.1 94 M288.7 97.4 290.2 97.6 291.7 97.5 292.5 96.2 M269.9 78.4 268.9 77.4 267.4 77 M273 96.7 274.4 96.4 275.8 97 276.8 98.1 M277.8 108.7 276.9 109.9 275.4 110 273.9 109.7 M269.9 99.9 270.2 98.4 271.1 97.2 M274.7 77 273.4 76.1 272.1 75.4 M279.6 84.2 281 83.9 282.4 83.2 283.6 82.3 M287.9 81.9 288.1 83.4 289 84.6 290.1 85.6 291.6 85.8 M271.6 101.1 270.3 101.7 268.8 102.1 267.4 101.7 M270.9 91.1 269.7 92.1 268.4 92.7 M294.6 97.6 294.9 96.1 294.8 94.6 M271.1 81.9 271.9 83.1 273.4 83.5 M266.3 90 267.6 89.3 269.1 89.7 269.6 91.1" stroke="#4e3a2c" stroke-width="0.9" fill="none" stroke-linecap="round"/>
<path d="M289.1 79 290 77.8 290.1 76.3 M279 107 280.5 106.8 281.9 106.2 282.1 104.7 M292.7 95.4 291.7 96.6 290.3 97 M284.1 78.7 282.9 77.8 281.6 77 280.1 77.4 279 78.4 M265.5 87.9 264.9 89.2 263.5 89.6 M268 105.3 267.2 104.1 267.2 102.6 M290.4 88.1 291 89.5 290.4 90.9 289.9 92.3 288.7 93.1 M264 84.9 262.5 85.2 261.1 85 259.6 85.2 M294.3 88.4 293.7 87.1 292.4 86.3 M292 101.8 292.9 103 292.7 104.5 M276.6 92.9 275.2 93.5 273.7 93.9 272.4 94.6 M292 97.2 291.6 98.6 290.2 99.3 288.8 98.8 M283.3 106 283 107.5 281.5 107.8 280 107.6 M266.9 102.2 268.4 102.1 269.1 100.7 M270 103.2 270.9 104.3 272.4 103.9 M265.2 88.6 266.7 88.1 267.2 86.7 M273.6 96.8 273.3 98.3 273.2 99.8 273.2 101.3 M280.8 102.6 281.6 103.9 282.1 105.3 M284.6 100.4 286.1 100.3 287.1 99.2 287 97.7 M281.3 99.5 279.8 99.7 278.4 99.2 277.2 98.4 275.9 97.5 M277.8 86.4 279.3 86.5 280.3 85.3 281.1 84 282.4 83.4 M269.4 77.7 269.9 79.1 271.1 79.9 272.5 80.4 M283.2 91.1 282.5 89.8 282 88.4 282.2 86.9 M269.4 95.8 270 94.4 270.4 92.9 M285.6 106.9 286.9 106.2 288.4 105.9 M266.4 86.7 265.6 88 264.8 89.3 M287.6 98.5 287 97.1 287.3 95.6" stroke="#584232" stroke-width="0.9" fill="none" stroke-linecap="round"/>
<path d="M278.7 85 280.2 85.1 281.6 85.2 M275.6 83.8 275.1 82.4 275.6 81 275.6 79.5 275.1 78.1 M281.7 94.6 281 96 279.9 97 278.8 97.9 M263.8 89.6 265.3 90 266.7 90.3 M275.4 77.5 275.4 79 274.6 80.2 M280.7 90.9 279.3 90.5 277.9 89.9 M286.6 92.3 286 93.7 285.7 95.2 285.7 96.7 285.4 98.1 M282 83.5 283.5 83.4 284.6 84.4 285.6 85.5 M277.8 96 276.3 95.7 274.9 95.2 M279.4 109.1 278 109.2 276.5 109.2 M276.1 90.4 277.6 90.3 279.1 90.3 280.5 90.9 281.4 92.1 M264.6 101.6 264.3 103.1 265.2 104.3 266.4 105.2 M279.3 98.5 277.8 98.2 277 96.9 277.8 95.7 M285.2 96.5 286.2 95.4 286.9 94.1 286.3 92.7 285.1 91.8 M280.5 80.7 279.6 79.5 278.7 78.3 278.9 76.8 M276.3 93.2 274.8 93.1 274.2 91.7 274.1 90.2 M275 94.7 276.4 94.1 276.6 92.6 275.3 91.9 273.8 91.7 M282.8 109.2 283.5 107.9 283.3 106.4 M274 78.5 273.8 77 273.6 75.5 M266.3 86.4 265.9 84.9 265.3 83.6 M265.4 85.4 265.4 83.9 265.6 82.4 266.2 81.1 M294.5 93.9 295.8 94.8 297.3 94.5 M275.1 98.4 273.7 97.8 272.3 98 M261.7 91.1 263.1 90.6 263.9 89.3 M272.4 89.7 273.2 88.4 274.7 88.3 M278.1 107.5 276.9 108.4 275.5 109 274.7 110.3 273.6 111.3 M276.2 91.3 276.5 89.8 275.4 88.8 273.9 88.6" stroke="#2e221b" stroke-width="0.9" fill="none" stroke-linecap="round"/>
<path d="M271.7 83.5 270.7 84.6 269.7 85.6 268.2 85.8 266.7 85.7 M289.3 100.2 290 98.9 290.1 97.4 M288.7 88.1 287.7 86.9 286.8 85.8 285.9 84.6 M283.3 77.4 284.7 78.1 285.5 79.3 285.9 80.8 M289.6 92.3 290.6 91.2 291.9 90.5 293.4 90.3 M269 79.5 269.2 81 268.9 82.5 M269.4 103.5 270.4 104.6 270.7 106.1 269.9 107.3 268.4 107 M278.8 98 277.6 98.9 276.1 99.1 274.7 98.8 M266.6 92.3 266.3 90.8 267.4 89.8 M282.5 104.7 282 106.1 282.2 107.6 282.4 109.1 M283.7 108.6 285.1 109.3 286.6 109.3 M286.1 81.1 285.1 82.3 283.7 82.5 282.6 81.4 M272.7 79.1 271.9 80.3 271.5 81.7 271.2 83.2 M277.1 90.3 276.5 91.6 275.7 92.9 274.9 94.2 M285.5 82.8 284 82.7 282.5 82.3 282 80.9 282.1 79.4 M276.7 97.8 277.2 96.4 276.7 95 M287.1 77.4 286.5 76 285.4 75 M274.7 85.7 273.2 85.7 271.8 85.3 270.6 86.2 M275 94.6 274.7 96.1 274.1 97.4 272.8 98.1 271.3 98.2 M293.5 87.6 292.4 86.5 291 86.1 289.6 86.7 M273.7 78.9 274.9 79.8 275.6 81.2 275.2 82.6 M289.3 89.1 288.5 87.8 288.6 86.3 289 84.9" stroke="#46342a" stroke-width="0.9" fill="none" stroke-linecap="round"/>
<path d="M269.1 94.7 270.5 94.2 271.2 92.9 272.2 91.8 273.5 91 M284.1 98.6 285.3 99.4 286.8 99 M281.4 95.8 280.1 96.5 278.6 96.3 277.2 95.6 M280 99.3 281.5 99 282.2 97.7 282.6 96.3 M267.7 106.1 267.4 107.6 266.9 109 267.5 110.4 M274.3 102.6 275.8 102.8 276.4 104.1 M285 106.7 283.6 106.1 283.4 104.6 M281.8 97.4 283 98.1 284.4 98.9 285.5 99.9 286.7 100.7 M287.4 81.7 288.4 80.6 289.9 80.1 M272 99.3 272.4 97.9 273 96.5 274.1 95.5 M287.2 98.1 288.6 97.5 290.1 97.7 291.5 98.3 M276.5 95 275.6 93.8 274.7 92.6 273.6 91.6 273.2 90.1 M273.3 87 272.6 85.7 273.2 84.4 M279.3 77 280.5 76 280.7 74.6 280 73.2 279 72 M261.8 90.7 260.3 90.8 258.9 91.4 M268.3 96.3 269 95 270 93.8 M278.7 107.5 278.9 108.9 279.8 110.2 281.3 110.2 M274.5 83.8 276 83.7 277.5 83.6 278.8 82.9 M269.5 82.6 268.4 83.6 268.1 85.1 269.1 86.2 268.6 87.6 M287.1 104.6 287.2 103.1 287.1 101.6 286.9 100.1 M271.6 84.4 272.9 85.2 273.6 86.5 M265.2 89.6 264.6 90.9 263.6 92.1 M279.3 101.4 280.2 102.6 281.1 103.8 M271 96.8 269.8 96 268.3 95.9 267.1 96.8 267 98.3 M264.8 97.5 263.9 96.3 262.5 95.8 M285.3 103.3 285.1 101.9 286.1 100.8 287.6 100.5 288.9 101.3" stroke="#624a36" stroke-width="0.9" fill="none" stroke-linecap="round"/>
<path d="M269.5 87.5 268.6 88.7 267.8 90 266.4 90.3 M281.8 87 280.6 87.9 279.2 87.6 277.8 87.1 M287.6 89.7 289 89.2 290.3 88.4 291.6 87.7 M281.6 109 280.2 109.6 279.3 110.8 278.8 112.2 279.1 113.7 M285.4 88.7 284.6 87.4 284.8 86 M284.6 90.4 286 89.8 287.5 89.7 M272 92 272.4 90.6 272.3 89.1 M288.4 98.4 289.7 99.2 291 99.8 M289.6 84.7 290.1 83.3 290.9 82 292.4 81.9 293.4 83 M273.6 90.3 274.8 89.5 275.4 88.1 275.7 86.6 M276.8 110.1 275.5 110.9 274 111 M279.4 90.7 279.8 92.1 279.9 93.6 M286.6 97.5 287.9 96.8 289.4 96.5 290.7 97.3 M287.3 95.1 286.1 94.3 285 93.3 M276.2 82.1 274.7 81.8 273.4 82.6 M271.1 107 269.6 106.9 268.3 106.2 M279.2 97.9 278.3 96.7 277.6 95.4 277.4 93.9 278 92.5 M280.5 97.8 279.4 98.8 279.3 100.3 279.7 101.8 M289.4 102.7 290.2 101.5 289.6 100.1 M287.5 84.9 287.8 83.4 287.8 81.9 M273.7 88 273.3 86.6 272.6 85.2 272.4 83.8 271.7 82.4 M280.5 78.4 282 78.3 283.3 77.6 284.5 76.8 285.6 75.7 M262.1 92.1 263.5 92.6 264.7 91.7 M284.1 75.8 285.1 77 286.4 77.6 M272.7 89.2 274 88.4 274.8 87.1 275.4 85.8 M285.8 107.9 284.7 108.9 283.3 108.3 M272.9 95 273.6 96.3 273.8 97.8 273.1 99.2" stroke="#3a2c24" stroke-width="0.9" fill="none" stroke-linecap="round"/>
<path d="M270 81.4 271.4 80.7 272 79.4 272 77.9 M284.2 93.2 285.1 92 285 90.6 284 89.4 282.6 89.7 M294.8 93.9 295.9 92.8 296.8 91.7 M294.9 96.6 295.8 97.8 297.2 98.4 298.6 98 299.5 96.8 M276.4 89.3 274.9 89.2 273.4 88.8 271.9 88.9 270.5 89.5 M271.3 81.3 270.1 82.3 270.4 83.8 270.3 85.2 M294.3 93.6 292.8 93.4 291.5 94.1 291.6 95.6 M271.4 82.8 269.9 83 269 84.2 268.8 85.7 269.4 87 M271.7 96.4 270.4 95.6 269 95.9 M275.5 81.2 277 81.2 277.9 80 M290.3 104.1 289.2 105.1 288.4 106.4 287.6 107.7 M269.3 105.4 268.7 106.8 267.8 108 M269.6 82.4 270.9 83 272.1 84 273.6 84.1 275.1 84.3 M276.1 108.6 275.5 107.3 276.4 106.1 277.8 105.8 279.2 106.6 M291.9 93.7 292.1 92.2 292.6 90.8 292.6 89.3 M275.3 79.2 275.1 80.7 274.7 82.2 275.4 83.5 M289.4 85.5 290.9 85.8 292.2 86.6 293.5 87.3 294.8 88 M283.9 105.4 285 106.4 286 107.5 M275.9 100.7 275.2 102 273.9 102.9 272.5 102.6 M291.4 88.4 292.7 89.2 294.2 89.4 295.6 90.1 M292.9 83.5 292.7 85 291.7 86.1 290.3 86.4 M292.7 89.3 292.3 87.9 290.8 87.5 M275.8 98.7 274.9 97.6 274.5 96.2 274.7 94.7 275.7 93.5" stroke="#36281f" stroke-width="0.9" fill="none" stroke-linecap="round"/>
<path d="M294.4 95.9 292.9 95.4 291.8 94.4 290.8 93.3 M275.8 82.1 274.6 82.9 273.1 83 271.6 83.1 270.2 83.6 M284.1 79.4 284.1 77.9 283.3 76.6 M284.2 88.3 282.7 88.1 281.2 88.1 279.8 88.6 278.3 89 M269.7 94.1 268.2 94.3 266.9 95.1 266 96.3 M293.6 94.2 293.7 92.7 293.9 91.2 M268.8 82.2 269 80.7 270.4 80.1 271.2 78.8 M291.9 88.5 293.1 87.5 293.1 86 292.6 84.6 M273.3 83.7 272 84.3 271.7 85.8 M290.7 97 289.7 98.1 288.5 99 287.1 99.7 M287.8 101.9 287.7 100.4 288.2 99 287.8 97.5 M285 85.4 285.8 86.7 286.2 88.1 286.8 89.5 287.1 91 M281 100.2 280.7 98.7 281.1 97.3 M284.5 98.1 284.4 99.6 284.5 101.1 M277.5 75.6 276.1 76 274.6 75.6 M272.8 96.9 272.1 98.3 270.8 99.1 269.4 98.6 M265.3 82.4 264 81.6 262.5 81.8 261 82.1 259.6 82.5 M273.1 75.8 271.6 75.5 270.1 75.4 268.7 75.8 267.2 76.1 M272 81.9 270.7 82.6 269.9 83.8 270.4 85.2 M274 84.4 275.1 83.4 276.6 83.1 278 83.6 279 84.7 M286.4 100.1 285 99.6 283.5 99.5 M289.1 88 289.2 86.5 289.7 85.1 290.7 84 M275.8 104.1 277.1 104.9 277 106.4 275.9 107.4 M290.2 95.4 289.5 94.1 288 93.9 286.9 95 M275.9 104.8 277.4 104.9 278.9 105.2 M269.8 90.9 269.7 92.4 269.1 93.7 268.7 95.1 M288 93.7 286.9 92.7 286.7 91.2" stroke="#6c543c" stroke-width="0.9" fill="none" stroke-linecap="round"/>
<path d="M288.8 97.5 289.6 96.2 290.4 95 M285.9 93.6 285.2 92.2 284.3 91 M270.6 82 269.6 83.2 268.2 83.7 266.7 84.1 265.5 85 M273.5 93.2 273.7 91.7 273.1 90.4 271.7 90 270.6 91 M262.3 94.6 263.7 94.1 264.5 92.8 M281.3 101.2 280.4 100 278.9 99.6 277.4 99.7 276.2 100.7 M271.6 78.9 271.9 80.3 271.9 81.8 M263.1 89.1 263.4 87.6 262.7 86.3 M288 86.2 288.8 87.5 288.4 88.9 287.6 90.2 286.7 91.3 M283.5 80.3 284.8 81.1 286.2 81.6 287.5 82.2 M274.9 85.7 274 84.5 273.5 83.1 M277 105 277.1 106.5 276 107.5 275.6 108.9 275.4 110.4 M288.5 97.2 289.8 98.1 289.9 99.6 M275.1 91.7 274.6 90.3 275 88.9 M268.2 92.6 267.7 91.2 266.2 90.8 265 89.9 M294.2 88.9 292.9 88.1 293 86.6 M263.4 95.4 262.1 96.1 260.7 95.7 M285.7 98.7 285.9 97.2 287.2 96.5 288.7 96.3 M272.9 83.9 273.3 82.4 274.2 81.2 M275.7 91.5 274.2 91.5 272.9 92.3 M266 101.6 264.5 101.6 263.6 100.4 M270 104.4 271.3 103.8 272.8 103.5 274.1 104.2 M282.3 86.9 282.6 85.4 283.7 84.4" stroke="#3e3028" stroke-width="0.9" fill="none" stroke-linecap="round"/>
</g>
<path d="M245 104 245.8 102.8 245.5 101.3 M258 123 257.1 124.2 256.1 125.3 254.7 125.8 253.2 126 251.7 126.1 250.2 126.1 M254 96 255.5 96.2 256.9 96.7 257.4 98.1 M268 111 267.3 112.3 266.1 113.3" stroke="#2c241c" stroke-width="1.2" fill="none" stroke-linecap="round"/>
</g>
<g clip-path="url(#clip2)">
<rect x="397" y="2.9" width="195.5" height="184.3" fill="url(#bg0)"/>
<circle cx="494.8" cy="100.5" r="98.3" fill="url(#rim2)"/>
<circle cx="494.8" cy="91.9" r="97.1" fill="url(#rim2)"/>
<circle cx="494.8" cy="92.2" r="94.7" fill="url(#cell2)"/>
<g fill="#f6f6f4" stroke="#b4b4b0" stroke-width="0.55" opacity="0.85"><circle cx="559.5" cy="108.2" r="0.9"/><circle cx="560.7" cy="119.4" r="0.9"/><circle cx="559.5" cy="124.1" r="0.9"/><circle cx="553.9" cy="135.1" r="0.9"/><circle cx="552.5" cy="141" r="0.9"/><circle cx="545.4" cy="149.2" r="0.9"/><circle cx="541.1" cy="156.5" r="0.9"/><circle cx="537.3" cy="161.5" r="0.9"/><circle cx="527.3" cy="166.2" r="0.9"/><circle cx="513.9" cy="172.3" r="0.9"/><circle cx="506" cy="174.3" r="0.9"/><circle cx="496.3" cy="175.1" r="0.9"/><circle cx="479.8" cy="174" r="0.9"/><circle cx="473.5" cy="174.5" r="0.9"/><circle cx="463.8" cy="171.3" r="0.9"/><circle cx="455.8" cy="164.4" r="0.9"/><circle cx="449.5" cy="161.4" r="0.9"/><circle cx="443.5" cy="154.4" r="0.9"/><circle cx="439" cy="147.9" r="0.9"/><circle cx="431.2" cy="133.2" r="0.9"/><circle cx="428.1" cy="123.8" r="0.9"/><circle cx="426.3" cy="117.7" r="0.9"/><circle cx="426.3" cy="92.8" r="0.9"/><circle cx="432.2" cy="83.2" r="0.9"/><circle cx="434.7" cy="75.7" r="0.9"/><circle cx="437.9" cy="71.3" r="0.9"/><circle cx="444.7" cy="63" r="0.9"/><circle cx="449.4" cy="58.9" r="0.9"/><circle cx="455.1" cy="51.3" r="0.9"/><circle cx="463.7" cy="48.2" r="0.9"/><circle cx="470.6" cy="44.6" r="0.9"/><circle cx="479.8" cy="43.7" r="0.9"/><circle cx="487.2" cy="41.8" r="0.9"/><circle cx="506.5" cy="43.2" r="0.9"/><circle cx="512.6" cy="43.5" r="0.9"/><circle cx="521.9" cy="47.3" r="0.9"/><circle cx="529" cy="52.9" r="0.9"/><circle cx="536.7" cy="55.9" r="0.9"/><circle cx="543.2" cy="64.5" r="0.9"/><circle cx="547.5" cy="67.9" r="0.9"/><circle cx="553" cy="74.7" r="0.9"/><circle cx="555.4" cy="83.7" r="0.9"/><circle cx="557.7" cy="92.9" r="0.9"/><circle cx="558.6" cy="100" r="0.9"/></g>
<path d="M546 2.9 L543.6 8.4" stroke="#d4d4d2" stroke-width="1.6" fill="none"/>
<path d="M546 2.9 L543.6 8.4" stroke="#9a9a98" stroke-width="0.8" fill="none" stroke-dasharray="1.5 1.5"/>
<path d="M543.3 9.4 L541.9 15.5" stroke="#2c2c2c" stroke-width="2.5" fill="none" stroke-linecap="round"/>
<path d="M541.7 16 l-0.5 2.2" stroke="#6a6a68" stroke-width="1" fill="none"/>
<path d="M566.7 133.4 l9.5 6.5" stroke="#ffffff" stroke-width="1.5" opacity="0.55" fill="none" stroke-linecap="round"/>
<g filter="url(#soft)">
<ellipse cx="475.5" cy="91.5" rx="19.3" ry="20.3" fill="#5e4632" opacity="0.4" filter="url(#blur2)"/>
<path d="M495.5 91.5 L493.7 94.5 L490.2 96.5 L489.5 99 L488 101.1 L487.3 103.9 L484.1 103.9 L482.8 106.7 L480.6 108.1 L477.9 107.5 L475.5 111.3 L472.8 109.8 L469.3 111.8 L467.6 107.8 L464.9 106.9 L463.4 104.3 L462.6 101.3 L459.1 100.3 L460.5 96.7 L458.1 94.4 L457 91.5 L454.7 88 L457.5 85.3 L461 83.7 L461.9 81.1 L462.9 78.2 L464.7 75.8 L468.5 77 L470 73.6 L473 75.1 L475.5 75 L477.8 75.9 L480.2 76.1 L483.9 74.2 L487 74.8 L490.3 75.9 L492.4 78.5 L494.2 81.5 L492.5 85.7 L492 88.7Z" fill="#5e4632"/>
<path d="M487.6 91.5 L489.4 93.8 L488.2 95.9 L486.7 97.5 L487.4 100.6 L486.5 103.1 L484.2 104.1 L483.8 108.7 L481 109.2 L478.2 109.2 L475.5 106 L473.1 107.4 L471.2 105.4 L468.4 106.3 L466.5 104.6 L465.2 102.3 L464.2 100.2 L464.9 97.2 L464.2 95.4 L462.8 93.6 L459.3 91.5 L459.1 88.8 L460.8 86.5 L462.9 84.7 L462.6 81.6 L466.2 81.7 L467.3 79.5 L469.5 79 L470.1 74.1 L473.1 75.4 L475.5 73.8 L478.1 74.2 L480.3 76 L483.1 75.8 L484.9 77.9 L487.2 79.2 L489 81.2 L487.3 85.2 L489.7 86.6 L487.8 89.4Z" fill="#42322a"/>
<path d="M468.2 106.6 468.8 108 469.4 109.4 M489.6 84.8 490.5 83.7 491.1 82.3 M477.4 110.5 477.1 112 476.8 113.4 M480.4 75.7 481.1 74.4 481.6 73 M483.5 77 483.9 75.6 484.6 74.2 M461.1 100.3 460 101.2 459.2 102.5 M487.4 78.9 488 77.5 488.9 76.3 M484.7 77.9 485.2 76.5 486.5 75.7 M489.4 97.8 490.8 97.6 492.3 97.4 M488.1 104.7 488.7 106 489.9 106.9 M479.5 73.7 478.7 72.5 478 71.1" stroke="#86663f" stroke-width="0.75" fill="none" stroke-linecap="round"/>
<path d="M491 92.2 492.5 92.5 494 92.1 M461.3 101.2 461.2 102.7 460.5 104.1 M467.2 78 465.8 77.4 464.3 77.6 M461.9 99.8 461 101 460.5 102.4 M467.1 78.3 465.9 77.4 464.8 76.4 M490.5 84.7 491.9 84.2 493.4 84.6 M491.8 82.4 492.8 81.2 494.1 80.5 M477.5 73.3 476.9 72 476 70.7 M460.2 88.2 458.7 88.3 457.2 88.1 M469.3 108.2 469.4 109.7 469.5 111.1 M470.6 75.1 469.2 74.5 467.7 74.5 M465.9 77.1 465.4 75.7 465.1 74.3" stroke="#7a5a36" stroke-width="0.75" fill="none" stroke-linecap="round"/>
<path d="M490.4 95.2 491.8 95.6 493.2 96 M477.6 73.9 478.8 73.1 480.1 72.3 M489.3 82.1 490.7 81.6 491.7 80.6" stroke="#4a3a30" stroke-width="0.75" fill="none" stroke-linecap="round"/>
<path d="M466.8 76.2 466.6 74.7 466.8 73.2 M485 78.8 485.4 77.4 485.7 75.9 M483.1 106.4 482.5 107.8 481.2 108.6 M459.9 92.3 458.7 91.5 457.2 91.2 M464.4 104.2 463.1 105 461.9 106" stroke="#3e3028" stroke-width="0.75" fill="none" stroke-linecap="round"/>
<path d="M460.5 87.3 459.4 86.3 458.8 84.9 M482.1 76.9 482.8 75.6 483.7 74.4 M458.6 90.1 457.1 90.1 455.7 90.6 M488.1 80.3 489.5 79.7 491 79.5 M459.7 84.6 458.7 83.5 457.4 82.8 M474.6 74.8 474.2 73.4 473.5 72 M486.1 106.9 486.4 108.4 487.3 109.6 M488.2 99.6 489.7 99.5 491.1 98.9" stroke="#6a4c2c" stroke-width="0.75" fill="none" stroke-linecap="round"/>
<path d="M457.8 88.6 456.4 89.2 455.7 90.5 M464.8 77.6 463.9 76.4 462.8 75.4 M487.1 102.4 488.4 103.2 489.5 104.2 M468.4 105.6 468 107 468.5 108.4" stroke="#5a4430" stroke-width="0.75" fill="none" stroke-linecap="round"/>
<path d="M485.4 103.2 486.2 104.4 486.8 105.8 M464.8 106 464.4 107.5 464 108.9" stroke="#5e4228" stroke-width="0.75" fill="none" stroke-linecap="round"/>
<path d="M481.3 107.7 482.5 108.6 482.9 110.1 482.6 111.6 481.6 112.7 M490.4 99.6 491.4 98.4 492 97.1 492.6 95.7 M461.9 102.3 462 100.8 462.8 99.6 463.7 98.3 465 97.5 M481.4 88.2 482.9 88.1 484.2 88.9 485.6 89.3 M492.3 96.8 493.5 96 494.7 95 M484.5 76.3 483.4 75.2 482.7 73.9 M475.2 108.6 474.3 107.4 472.9 106.8 471.5 107.2 470.3 108.2 M476.3 79.3 474.8 79.5 473.6 80.4 M487.4 95.6 487.7 94.1 488.5 92.8 M472.5 75.4 472.3 76.9 471.7 78.3 470.5 79.1 M477.5 97.3 476.9 98.7 476.8 100.2 477.9 101.2 479.3 101.4 M461.4 97.8 459.9 97.9 458.7 98.8 M462.2 102.2 463 100.9 463.6 99.5 464.6 98.4 M466.2 102.2 467.4 103.1 467.8 104.6 M462.1 91 460.6 91.2 459.2 91.8 M476.3 88.6 477.5 87.8 479 87.6 480.5 87.6 M461.5 81.1 461.1 82.6 461.8 83.9 M472.1 91.4 473.5 92.1 474.8 91.4 M469.1 81 469.9 79.7 469.6 78.2" stroke="#2e221b" stroke-width="0.9" fill="none" stroke-linecap="round"/>
<path d="M479.6 87.2 480.9 87.9 482.4 87.6 483.8 87.2 M481.7 80.4 483.2 80.5 484.7 80.7 M471 109.7 472.4 109.3 473.5 108.3 M487.6 103.7 488.3 102.4 489.4 101.4 490.9 101.1 M479.3 89.6 477.8 89.6 476.5 90.4 475.5 91.5 M490.1 90.6 491.1 91.7 491.8 93 491.5 94.5 M484.7 97.8 486 97.2 487.5 97.5 488.9 97.1 490.3 97.7 M486.8 92.5 485.3 92.7 483.8 92.5 482.3 92.2 480.8 92.1 M471.8 91.1 470.6 92 470.1 93.4 M474.5 89.9 475 88.4 474.8 87 474.6 85.5 M487 84.1 488.4 84.6 489.8 84 490.3 82.6 490.2 81.1 M478.7 104.5 477.4 103.9 476.3 102.9 475.5 101.6 M482.7 85.9 484.2 86.1 485.7 85.9 487 85.1 M483.1 89.6 483.4 91.1 482.7 92.4 481.9 93.7 M464.6 77.6 463.9 76.2 462.4 76.4 M479.5 96 478 96 476.6 96.6 475.6 97.7 475.4 99.2 M467.6 92 466.3 91.4 464.8 91.8 463.4 92.3 462.1 93 M464.4 96.4 462.9 96.5 461.4 96.5 460.1 95.7 M473.5 81 474.2 79.6 473.6 78.2 472.4 77.3 470.9 77.5 M484.3 94.8 484.4 96.3 484.3 97.8 485.1 99 486.5 99.5 M479.7 79 478.4 78.2 477.8 76.8 478 75.4 M472.2 89.1 471.8 87.7 471.8 86.2 471.2 84.8 470.1 83.7 M489.7 99.1 488.8 100.3 487.3 100.7 486.1 99.8 M487 94 487.5 92.6 487.7 91.1 M469.5 95.2 469.5 93.7 469.3 92.2 469.8 90.8 470.8 89.7 M478.1 73.1 478 74.6 478.7 75.9 479.9 76.9 M476.9 85.4 476 86.6 475.4 88 474.7 89.3 M470.2 78.9 471.7 79 473 79.7 M479.9 95.6 479.7 94.1 479.4 92.7 478.2 91.7 477.7 90.4 M460.7 95.3 461.1 93.9 461.6 92.5 462.7 91.4 463.9 90.5 M482.3 74.7 481.3 75.8 480.6 77.2 480 78.5 479.7 80 M476.1 95.1 476.2 96.6 476.4 98.1 476.2 99.6" stroke="#3e3028" stroke-width="0.9" fill="none" stroke-linecap="round"/>
<path d="M466.7 89.1 466.2 90.5 465.5 91.8 M473 87.4 474.4 87 475.1 85.7 M471.4 85.3 470.3 86.3 468.8 86.3 467.6 85.5 467.4 84 M458.1 94.7 456.6 94.4 455.6 95.5 M478.4 105 479.7 104.3 480.7 103.2 M460.9 95.1 459.6 94.4 458.1 94.1 456.7 94.7 M485.2 106.7 484.1 105.6 482.6 106 481.2 105.6 479.7 105.4 M473.1 106.2 471.6 106.1 470.1 105.7 469.5 104.3 M457.9 92.3 457.1 93.6 455.7 94 454.7 95.2 453.7 96.3 M489.8 87.4 489 86.1 489.5 84.7 M477.8 108.9 477.4 110.4 478.4 111.5 479.9 111.5 481 110.5 M466.3 76.9 467.5 76 469 76.3 469.7 77.6 470.2 79.1 M474 96.1 473.2 97.4 473.2 98.9 M475.1 79.4 474.4 80.7 474.1 82.2 M478.9 87.6 478.9 86.1 478 85 476.5 84.9 M471 94.7 469.6 95.4 468.9 96.7 468.8 98.2 M458.7 96.8 457.9 98.1 457 99.3 456 100.5 454.6 101 M477.3 106.6 477.8 105.2 478 103.7 M480.3 106.7 478.8 106.8 477.3 106.5 475.8 106.5 M480.9 75.2 480.6 73.7 480.6 72.2 481.4 70.9 M482.3 81.2 483 79.9 484.4 79.4 485.4 78.3 M489 96.6 487.7 95.8 486.3 96.5 M464.3 87.6 462.9 86.9 462 85.8 M470.6 78.2 469.1 78.3 467.9 77.5 466.8 76.5 M482.7 96.2 483.7 95 484.8 94 486.2 94.6 M481.8 77.4 483.3 77.3 484.7 77.1 M469.9 81.4 469.5 82.8 468.8 84.1 468.5 85.6 469.1 87 M479.7 103.9 479.6 102.4 478.3 101.7 477.6 100.3 477.6 98.8" stroke="#624a36" stroke-width="0.9" fill="none" stroke-linecap="round"/>
<path d="M489.9 96.2 488.4 96 486.9 95.8 485.8 94.7 M476.9 87.1 476.1 85.9 475.2 84.6 M457.9 91.3 456.9 92.4 455.4 92.2 454.6 90.9 454.7 89.4 M478 80.4 477.6 81.8 476.5 82.9 475.3 83.7 M486.5 94.7 488 94.6 489.3 95.4 490.6 96.2 491.3 97.5 M470.9 75.2 469.9 76.4 469.4 77.8 M463.7 90.3 463.8 88.8 463.3 87.4 461.8 87.2 M476.9 104.5 478.3 103.9 479.5 103 M474.2 91.6 473.9 93 473.2 94.3 472.2 95.4 470.7 95.8 M476.6 100.2 477.4 99 477 97.5 475.5 97.4 M491.4 88.8 492.3 89.9 491.7 91.3 M463.4 81.3 464.2 82.5 465.7 82.4 466.6 81.2 M464.3 92.4 465.7 91.7 467.1 91.5 468.6 91.2 M472.9 79.8 471.4 79.8 470.5 78.5 469.2 77.9 M473.2 102.5 473.1 104 473.8 105.3 474.6 106.6 M473.6 96.2 472.4 95.2 471.3 94.3 469.8 93.9 468.4 93.6 M471.3 98.1 469.9 98.3 468.7 99.3 467.8 100.5 M464.4 86.4 464.3 84.9 465.2 83.8 466.7 83.8 468.2 84.3 M464.8 90.9 463.9 92.2 462.9 93.3 461.6 94.1 460.4 94.9 M473.3 76.1 473 74.7 471.8 73.7 470.6 72.9 469.1 72.5 M470.3 84.2 470.1 85.6 468.8 86.4 467.3 86.5 M471.9 80.6 471.8 82.1 472.4 83.5 472.7 85 M480.8 106.3 480.5 107.8 481 109.2 482.5 109.4 M470.3 98.8 469 99.4 467.8 100.4 M478.9 77.8 480.1 78.8 481.2 79.7 M470.2 100.9 470.2 102.4 471.4 103.3 M474 86.1 473.5 87.5 472.9 88.9 M475.2 107.2 476.6 106.8 477 105.3 477 103.8 477.4 102.4 M488.6 97.9 487.3 98.7 486 99.4 M481.6 98.2 480.7 99.4 479.2 99.4 M486.2 77.5 486.2 79 486.5 80.4 487.5 81.6" stroke="#3a2c24" stroke-width="0.9" fill="none" stroke-linecap="round"/>
<path d="M460.7 85.9 460.7 87.4 461.5 88.7 463 88.7 M482.8 76.6 483.1 75.1 483.7 73.7 483.9 72.2 484 70.7 M479.4 102.3 480.2 103.6 481.1 104.8 M484.3 87.2 485 85.9 485.6 84.5 486.4 83.3 M465.2 88.5 466 89.8 467.1 90.8 M487.9 86 486.7 87 485.8 88.2 484.8 89.3 483.7 90.3 M491 95.1 489.9 94.1 488.5 93.6 487.2 94.5 M490.7 93.8 490.9 95.3 492 96.4 493.4 96.1 494.8 95.4 M479.5 79.8 478.6 81 478.5 82.5 479.3 83.8 M471.2 88.8 469.7 88.7 468.4 88 467.7 86.7 M463.4 86.1 461.9 86.2 460.9 85.1 M487.8 94.2 489 93.4 490.1 92.4 M463.9 99.5 464.5 100.9 463.8 102.2 463.7 103.7 M459.4 94.4 458.1 93.7 456.7 94.3 455.6 95.3 455.2 96.8 M481.2 92.6 481.2 91.1 480.3 89.9 M471.8 94.3 470.9 93.1 470.2 91.7 468.8 91.2 M481.3 94.2 482.3 95.4 482 96.8 481 98 M480.7 103.8 480.8 105.3 481 106.8 482.1 107.8 M486.9 90.5 486.2 91.8 485.9 93.3 486.5 94.6 M469.3 92.9 469 91.4 468.5 90 M459.9 89.3 460.2 87.9 459.8 86.4 M466.5 85.8 465.6 87 464.5 87.9 463.5 89 462.2 89.8 M486 84.3 487.5 83.9 488.7 83 490 82.3 M482.9 102.8 484 101.8 484.1 100.4 483.9 98.9 483.3 97.5 M487.3 83.2 485.8 83.1 484.5 83.8" stroke="#4e3a2c" stroke-width="0.9" fill="none" stroke-linecap="round"/>
<path d="M461.6 88.4 460.1 88 459.3 86.8 457.9 86.2 M478.2 87.8 479 86.5 479.3 85 478.7 83.7 M485.9 87.2 485.1 88.4 484.1 89.5 483.4 90.9 M459 93.7 457.9 94.8 457.1 96 M483.2 104.1 481.7 104 480.3 103.4 479.3 102.2 479.2 100.8 M483.7 87.6 482.2 87.7 480.8 88 M463 92.6 463.2 91.1 462.8 89.6 462.5 88.2 M466.6 101.5 466.6 100 466.2 98.6 467 97.3 M467.7 99.1 466.2 99.2 465.7 100.6 466.2 102 M464.7 103.7 464.5 102.2 465.3 101 466.8 100.9 M490.7 84.2 491 85.7 490.5 87.1 489 87.3 488.3 86 M485.1 100.5 485.6 99.1 486.9 98.3 488.2 99.1 488.9 100.4 M473.5 76.3 473.1 74.9 471.9 74 M471.7 74.3 473 75 473.7 76.3 M465.2 96.2 466.4 97.2 467.3 98.4 468.4 99.4 M469.6 98.3 470.1 96.9 470.5 95.4 471 94 M471.9 83.5 473.4 83.1 474.7 82.4 475.6 81.2 476.2 79.9 M482.8 100.9 484.3 100.6 484.7 99.2 484.2 97.8 483.1 96.8 M487.1 95.9 487.7 94.6 487.7 93.1 M476.7 82.9 476.6 84.4 475.7 85.6 474.3 86.1 472.9 85.7 M483.6 96.9 482.6 97.9 481.4 98.9 M486.1 82.2 487.3 81.4 487.2 80 486.4 78.6 M463.8 99.1 465.2 98.5 466 97.3 465.6 95.9 M470.5 79.1 471.1 77.7 471.9 76.4 472 74.9 M464.3 78.3 462.8 78 461.8 77 460.3 77 458.9 77.5" stroke="#6c543c" stroke-width="0.9" fill="none" stroke-linecap="round"/>
<path d="M472.7 76.5 474 75.9 475.1 74.8 476 73.7 M492 93.8 492.5 92.4 492.2 90.9 M485.1 105.3 486.5 104.9 487.6 103.8 M473.9 107.8 474.7 106.6 476.1 106 477.6 106.1 478.8 107 M470.4 106.5 471.1 105.2 472.5 104.6 473.8 105.3 474 106.7 M474.1 76.1 472.7 76.5 471.4 75.6 471.1 74.2 M473.4 87.3 473.1 88.8 472.5 90.2 471.3 91 M479.1 105.6 477.7 106.1 476.6 107.1 475.8 108.3 M489.1 83.2 489.6 84.6 491.1 84.8 M476.6 82.5 477.6 81.4 479 81.2 480.5 81.2 482 81.4 M487.6 99.2 487 97.8 485.8 97 M462.6 82.7 461.3 82.1 459.8 81.7 M460.1 89.9 459 90.9 458.4 92.3 459.1 93.6 460.5 94.3 M488 87.7 487.8 89.2 486.6 90 485.1 89.9 M484.1 87.9 483.8 86.4 482.8 85.3 482.9 83.8 M474.4 89.2 473.5 90.4 473.1 91.8 474.2 92.9 M471.2 75.3 471.6 73.9 472.5 72.7 M488.9 101.8 488.7 103.3 488.4 104.8 488.1 106.2 486.7 106.7 M479.3 107.6 479.8 109.1 479.6 110.5 479 111.9 477.9 113 M479.3 109.8 477.9 109.2 476.4 109.3 M466.5 88.9 465 89 463.9 88 464 86.5 465.1 85.5 M481 90.9 482.5 91 483.9 91.4 M482.7 102.6 482.6 101.1 481.3 100.4 480 101.1 M471.8 109 472.4 107.7 471.9 106.2 470.6 105.5 469.3 106.3 M460 87 460.4 85.6 459.7 84.2 458.6 83.2 M488.9 89.8 487.4 89.3 486 89.1 M485.7 100.5 486.4 101.8 487.7 102.6 489.2 103" stroke="#46342a" stroke-width="0.9" fill="none" stroke-linecap="round"/>
<path d="M458.4 94.3 459.9 94.1 461.2 93.4 M474.7 106 475.1 107.4 475.7 108.8 M474.7 90.1 475.9 89.1 477 88.1 478.5 88.1 M475.4 74.6 474.8 73.3 476 72.3 M466.9 81 467.2 82.5 467 83.9 M472.1 76.6 473 77.8 474.5 77.7 M476 77.2 475.8 78.7 474.9 79.9 473.5 80.5 472.1 80.9 M463 83.4 464.4 84 465.2 85.3 M468.6 92.8 467.9 94.1 466.9 95.2 M469.3 83.4 470.2 82.2 471 80.9 471.1 79.4 470.2 78.2 M486.5 82.6 485.3 81.6 483.9 81.3 M472.6 105.6 474 106.1 475.3 106.9 476.8 106.8 478.3 106.6 M466 99.4 464.5 99.3 463.1 98.6 M462 89.3 461.4 87.9 461.1 86.5 M471.2 79.9 470.1 80.9 468.9 81.7 M464 79.3 465.4 78.7 466.7 78 M492.7 89.9 493.9 90.8 495.1 91.7 495.8 93 M459 90.9 457.8 91.8 458.1 93.3 459.6 93.5 460.5 94.7 M484.6 102.5 485.3 101.1 486.8 101 487.6 102.3 M486.4 100 486.8 101.5 487.1 102.9 488.2 103.9 M462.4 103.8 461.5 102.5 462 101.1 463.3 100.2 464.6 99.5 M462.6 97.6 461.3 97 459.9 96.5 M478.1 94.6 479 95.7 479 97.2 478.1 98.4 M482.6 102.5 481.2 103.2 479.8 103.7 478.3 103.8 M486.5 90.5 486.8 89 487.1 87.5 486.5 86.2 485.6 85 M465.1 106.4 463.8 107.2 462.5 107.8 461 108.2 459.7 108.8 M474.3 109.4 472.9 109.9 471.7 109.1 470.7 107.9 470.5 106.4 M484.9 88.2 486.1 87.3 487.6 87.6 488.6 88.7 M485.4 91.4 486.8 92 488.1 92.8 488.9 94.1 M485.8 80.5 485.1 81.9 485 83.4 M463.1 81.4 464.5 81.7 465.8 82.5 467.1 83.3" stroke="#584232" stroke-width="0.9" fill="none" stroke-linecap="round"/>
<path d="M465 84.9 463.7 85.5 462.4 86.3 M489.6 100.6 488.4 99.7 487 99.1 485.6 99.7 M459.8 90.8 459.7 92.3 460.7 93.4 M492.2 93.8 493.5 94.6 493.3 96 M466.6 107.1 466.6 108.6 465.7 109.8 M482.4 92.6 482.8 91.2 484.2 91 485.7 91.5 M462.3 102.1 463.8 102.2 464.6 101 M487.6 103 489 103.6 490 104.7 M468.9 106.1 470.2 105.3 471.4 104.4 M473.8 105.6 472.5 104.7 471.6 103.6 471.6 102.1 M476 75.6 477.4 76 478.8 76.7 479.5 78 479.4 79.5 M480.8 104.3 480.3 105.7 479.1 106.6 M474.4 84.7 473.4 83.6 471.9 84 M482.6 83.8 481.5 82.7 480.7 81.5 480 80.1 M476.5 99.7 478 99.8 479.4 99.5 480.2 98.2 480.6 96.7 M483.1 98.9 484 97.7 485.2 96.8 M492.1 88.5 491.1 89.5 490.2 90.8 489.8 92.2 490 93.7 M481.5 93 483 93.5 484.3 94.1 485.5 94.9 M487.6 99.7 489.1 99.6 490.6 99.1 492.1 99.1 M467.5 82.6 466.4 81.5 465.7 80.2 464.5 79.3 463.8 78 M474.3 100.8 475.5 99.9 476.7 99 477.9 98.1 M473.4 80.6 473.3 79.1 473.5 77.6 473.7 76.2 474.2 74.7" stroke="#36281f" stroke-width="0.9" fill="none" stroke-linecap="round"/>
</g>
<path d="M450 96 448.6 95.5 447.2 94.9 445.8 94.3 M458 123 456.5 123.2 455.2 123.9 453.7 124.3 452.2 124.2 450.8 123.7 449.8 122.6 M457 73 456.1 74.2 454.9 75.1 453.7 76 453.3 77.4 M456 111 455.4 112.4 456.2 113.6" stroke="#2c241c" stroke-width="1.2" fill="none" stroke-linecap="round"/>
</g>
<g clip-path="url(#clip3)">
<rect x="2.3" y="190.2" width="194.6" height="186" fill="url(#bg1)"/>
<circle cx="99.6" cy="287.8" r="98.3" fill="url(#rim3)"/>
<circle cx="99.6" cy="279.2" r="97.1" fill="url(#rim3)"/>
<circle cx="99.6" cy="279.5" r="94.7" fill="url(#cell3)"/>
<g fill="#f6f6f4" stroke="#b4b4b0" stroke-width="0.55" opacity="0.85"><circle cx="165.3" cy="295.7" r="0.9"/><circle cx="163.1" cy="314.1" r="0.9"/><circle cx="160.2" cy="319.9" r="0.9"/><circle cx="158.5" cy="328.4" r="0.9"/><circle cx="151.3" cy="336.2" r="0.9"/><circle cx="141" cy="348" r="0.9"/><circle cx="134.7" cy="352.4" r="0.9"/><circle cx="127.2" cy="355.7" r="0.9"/><circle cx="117.9" cy="362.2" r="0.9"/><circle cx="110.8" cy="362.4" r="0.9"/><circle cx="102.1" cy="364.3" r="0.9"/><circle cx="96.1" cy="362.6" r="0.9"/><circle cx="85.2" cy="361.1" r="0.9"/><circle cx="79.3" cy="360.4" r="0.9"/><circle cx="69.7" cy="356.2" r="0.9"/><circle cx="63.2" cy="354.4" r="0.9"/><circle cx="53.9" cy="346.8" r="0.9"/><circle cx="49.4" cy="344.7" r="0.9"/><circle cx="44.6" cy="335.7" r="0.9"/><circle cx="35.4" cy="322" r="0.9"/><circle cx="32.9" cy="313.2" r="0.9"/><circle cx="30.6" cy="304.1" r="0.9"/><circle cx="30.8" cy="296.5" r="0.9"/><circle cx="32.4" cy="287.2" r="0.9"/><circle cx="32.5" cy="280.4" r="0.9"/><circle cx="34.3" cy="271.9" r="0.9"/><circle cx="39" cy="264.4" r="0.9"/><circle cx="43.9" cy="254.7" r="0.9"/><circle cx="50.6" cy="249.4" r="0.9"/><circle cx="64.2" cy="239.3" r="0.9"/><circle cx="78.7" cy="231.6" r="0.9"/><circle cx="87" cy="228.3" r="0.9"/><circle cx="94.2" cy="230" r="0.9"/><circle cx="102.2" cy="230.1" r="0.9"/><circle cx="112.9" cy="229.8" r="0.9"/><circle cx="126.6" cy="233.5" r="0.9"/><circle cx="133.3" cy="237.7" r="0.9"/><circle cx="141" cy="243.5" r="0.9"/><circle cx="148.2" cy="248.9" r="0.9"/><circle cx="154.5" cy="257.8" r="0.9"/><circle cx="156.8" cy="264.5" r="0.9"/><circle cx="159.4" cy="270.9" r="0.9"/><circle cx="162.1" cy="278.1" r="0.9"/><circle cx="164.1" cy="287.3" r="0.9"/></g>
<path d="M151.3 190.2 L148.9 201" stroke="#d4d4d2" stroke-width="1.6" fill="none"/>
<path d="M151.3 190.2 L148.9 201" stroke="#9a9a98" stroke-width="0.8" fill="none" stroke-dasharray="1.5 1.5"/>
<path d="M148.6 202 L147.2 205.5" stroke="#2c2c2c" stroke-width="2.5" fill="none" stroke-linecap="round"/>
<path d="M147 206 l-0.5 2.2" stroke="#6a6a68" stroke-width="1" fill="none"/>
<path d="M171.2 321.9 l9.5 6.5" stroke="#ffffff" stroke-width="1.5" opacity="0.85" fill="none" stroke-linecap="round"/>
<g filter="url(#soft)">
<ellipse cx="103" cy="284" rx="18.2" ry="16.7" fill="#54422f" opacity="0.4" filter="url(#blur2)"/>
<path d="M117 284 L118.8 286.3 L116.2 287.9 L117.3 290.7 L117.3 293.5 L116.2 296.1 L113.9 297.7 L111.4 299 L107.9 297.8 L105.7 299.7 L103 300.6 L100.2 300 L98.5 296.7 L95.5 297.4 L94.3 294.9 L93.6 292.5 L92.4 291 L90.7 289.7 L90 287.8 L88.4 286.1 L86.7 284 L87.5 281.8 L87.5 279.4 L87.8 276.9 L90.5 275.7 L92.6 274.5 L93.5 272.1 L95.8 271.2 L98.1 270.1 L100.1 267 L103 269.7 L105.5 269.6 L108.1 269.7 L110.5 270.6 L111.9 272.9 L113.6 274.3 L115.7 275.6 L116 277.9 L117.3 279.8 L117.9 281.8Z" fill="#54422f"/>
<path d="M118.5 284 L117.9 286.2 L114.8 287.5 L113.4 288.8 L114.5 291.6 L112.6 292.8 L111.2 294.3 L109.5 295.6 L107 295.3 L104.9 294.9 L103 295.5 L100.9 296.3 L99.1 295 L96.7 295.2 L96.2 292.5 L92.9 293.2 L90.9 292 L89.2 290.4 L88.5 288.3 L88.5 286.1 L87 284 L89 282 L88.4 279.7 L87.8 276.9 L89.8 275.2 L93.1 274.9 L95.7 274.8 L97.5 274.2 L99.6 274.6 L101.2 273.5 L103 271.9 L104.8 273.5 L107.3 271.8 L109.1 273.1 L111.2 273.7 L113.4 274.5 L114.4 276.5 L116.7 277.6 L116.1 280.1 L118.2 281.8Z" fill="#3a2e26"/>
<path d="M118 289.7 119.4 289.1 120.9 289.3 M114.5 275.2 115.7 274.3 116.8 273.3 M87.6 279.3 86.4 278.4 85.1 277.7 M91.3 276.2 90 275.5 88.7 274.8 87.3 274.2 M110 296.4 110 297.9 109.9 299.4 110.2 300.9 M115.3 277.1 115.6 275.6 115.4 274.1" stroke="#3e3028" stroke-width="0.75" fill="none" stroke-linecap="round"/>
<path d="M88 291.2 87.4 292.6 87.4 294.1 M88.2 287.7 87.2 288.7 86.1 289.8 M102.8 270 102.3 268.6 101.1 267.6 M115.6 275 117.1 274.9 118.6 275.1 120.1 275.2 M104.1 270.6 103.2 269.4 102.8 267.9 M114.4 294.9 114.7 296.4 115.9 297.3 M89.4 292.3 88.5 293.4 87.8 294.8 M114.3 276.7 115.1 275.5 115.8 274.1 115.9 272.6" stroke="#4a3a30" stroke-width="0.75" fill="none" stroke-linecap="round"/>
<path d="M111.4 272 111.6 270.5 111.2 269.1 M112.7 295.5 113.8 296.5 114.7 297.7 115.8 298.7 M112.5 273.4 114 273.3 115.5 273.6 116.8 274.3 M115.8 277.6 117.2 278 118.4 279 M107 271.1 106.9 269.6 106.6 268.1 106.8 266.6 M89.9 290.5 88.4 290.3 87.3 289.3" stroke="#7a5a36" stroke-width="0.75" fill="none" stroke-linecap="round"/>
<path d="M104.5 269.7 105.8 268.9 107.1 268.2 108.6 267.8 M107.9 296.7 109.1 297.6 110.5 298.1 112 298.2 M108.1 298.4 108.9 299.7 110.3 300.3 M117.6 277.5 118.8 276.6 120 275.7 121.3 274.9 M102.8 297.2 103.1 298.6 103.3 300.1" stroke="#5a4430" stroke-width="0.75" fill="none" stroke-linecap="round"/>
<path d="M115.3 278.6 116.7 278.4 118.2 278.9 M100.8 271.1 100.4 269.7 99.9 268.3 99.2 267 M110.4 295.3 111.3 296.6 111.9 297.9 M98.4 269.4 98.7 267.9 99.7 266.8 M103.6 271.4 103.9 269.9 104.1 268.4 104.4 267 M111.2 294.3 112.3 295.4 113.7 295.8 M92.4 273.1 91.7 271.8 90.7 270.7 M116.9 292.3 117.7 293.6 118.7 294.7 M112.8 295.9 113.9 296.8 115.4 297.1" stroke="#86663f" stroke-width="0.75" fill="none" stroke-linecap="round"/>
<path d="M119.3 287.9 120.7 287.3 121.9 286.4 M89 281.5 87.5 281.4 86.2 282 M98.9 297.6 98.1 298.9 97.5 300.3 97.7 301.8 M98.6 295.9 98.9 297.4 99.7 298.7 100.7 299.8 M100.3 270.2 101.5 269.3 102.6 268.3 M116.8 282.4 118.3 282.4 119.7 282 M89.7 287.1 88.4 287.9 87.2 288.7" stroke="#5e4228" stroke-width="0.75" fill="none" stroke-linecap="round"/>
<path d="M94.8 295.6 94.1 297 93.7 298.4 M118.9 282.3 120.2 283 121.5 283.8 M92.9 295.5 93.4 296.9 94.7 297.7 M87.9 288.4 86.5 288.8 85.1 288.2 M88.4 287.6 86.9 287.7 85.4 287.7 84 288.1 M113 273.6 114.5 273.9 115.8 274.7 M87.5 285.8 86 285.4 84.7 284.8 83.5 283.9 M116.7 292.5 117.3 293.9 118.2 295.1 118.4 296.6 M107 298.9 106.2 300.2 105 301.1" stroke="#6a4c2c" stroke-width="0.75" fill="none" stroke-linecap="round"/>
<path d="M104 296.2 104.6 297.6 106.1 297.7 M108.4 290.2 107.3 291.2 106.7 292.6 107 294.1 M95.2 280 94 280.9 92.9 282 92.3 283.3 92.1 284.8 M97.5 295.4 96.8 294.1 95.5 293.2 M103.2 298.6 103.2 300.1 103.6 301.5 102.8 302.8 M98.5 271.2 100 270.8 100.5 269.4 100.2 268 M112 295.9 113 294.8 114.2 293.9 M99.1 284.5 99.7 285.9 100 287.3 99.8 288.8 99.1 290.1 M105.6 290.3 106.9 289.5 107.4 288.1 108.8 287.6 109.8 286.5 M107.2 294.5 107.7 295.9 108.5 297.2 109.9 297.8 M91.5 289.6 91 288.2 90.1 287 89.2 285.8 M101.1 271.4 99.8 272.2 98.7 273.2 M110 280.1 111.2 280.9 112.3 282 112.8 283.4 113 284.9 M112.3 294.5 110.8 294.5 109.4 293.9 M112.4 275.4 113.8 276.1 114.8 277.2 114.3 278.6 M87.9 286.9 86.5 287.2 85.1 286.5 M95.3 282.1 94.8 280.6 95.3 279.2 96.6 278.4 98 278.2 M101.7 274.7 100.4 275.4 99 275.6 97.9 274.6 96.9 273.5 M88.3 286.9 89.7 286.2 91 287 M100.9 284.6 99.5 285 98 284.8 96.5 284.4 M107.6 296.5 109.1 296.6 110.5 296 M93.6 289.7 93.5 288.3 93.6 286.8 93 285.3 M107.5 274 107.7 275.5 109.2 275.9 M102.5 284.6 103 283.1 104.2 282.3 M113.6 293.9 114.6 292.8 116 292.2 M94.1 284.6 95.3 285.4 96.8 285.6 98.3 286 M89.2 284.3 87.9 283.7 86.4 283.6 M95.9 279.9 94.4 280.1 93 279.4 92.2 278.1 M88.6 284.4 87.3 285.3 85.8 285.3 M93.4 273.3 94.5 274.3 95.1 275.7 M93.7 281 92.5 281.8 92.4 283.3 91.9 284.7 M96.5 293.1 95.9 294.5 95.2 295.8 95.6 297.2" stroke="#30261e" stroke-width="0.9" fill="none" stroke-linecap="round"/>
<path d="M100.3 290.3 101 288.9 102.2 288.1 103.6 287.4 105.1 287.3 M105.5 287.9 106.1 286.5 105.9 285.1 105.7 283.6 M102.6 279.3 104.1 279.4 105.4 278.7 106.2 277.4 M102.9 285.1 103.6 283.8 104.8 282.8 M88.6 278.9 87.1 278.5 85.7 278.9 M104.9 276.2 104.9 277.7 103.8 278.7 102.3 278.9 M102.5 289.9 103.9 289.5 105.2 288.8 M110.3 296.2 108.9 296.6 107.8 297.6 M113.7 294.3 112.3 293.6 110.8 293.6 109.4 294.1 108 294.7 M107.5 294.7 108.9 294.3 110.3 293.6 M101.6 284.4 101.9 283 103.1 282.2 M112.2 285.5 113.6 285 114.8 285.8 115.9 286.8 M105.5 286.5 106.9 285.8 108.3 285.4 109.8 285.8 M94.2 281 95.5 281.8 96.9 282.3 97.6 283.7 98 285.1 M104.5 293.9 105.5 292.7 106.9 292.3 M111.4 283.9 112 285.2 113.2 286.2 114.5 286.9 M101.3 294.4 102.4 293.3 103 291.9 103.5 290.5 M86.9 286.4 85.4 286.2 83.9 286.1 82.7 286.9 M104.3 287.8 102.8 287.4 101.3 287.7 100 288.5 99 289.6 M106.5 279 105.4 279.9 103.9 279.8 M110.8 284.4 111.5 283 113 282.6 M92.4 287.9 91.3 286.9 90.6 285.5 91.3 284.2 92.5 283.4 M87.8 283.2 87 281.9 86.8 280.5 M90.2 288.5 88.7 288.5 87.3 287.9 M108.3 288.5 107.6 287.2 106.6 286.1 M92.4 294.6 91 294.1 89.5 294.4 M100.2 279.7 101.7 279.6 102.9 280.4 M103 270.6 104.5 270.4 105.8 271.1 M97.9 289.9 97 288.7 96.5 287.2 96.6 285.7 96.7 284.2 M113 292.6 111.6 291.9 110.2 291.6 109.1 290.6 108.8 289.1 M96.2 273.9 95.1 272.9 94.1 271.7 M93.9 276.6 95.2 277.4 95.8 278.8 96.5 280.1 M104.3 276.7 103 277.4 102.1 278.6 M112.7 289.1 111.7 290.3 110.3 290.8" stroke="#5c4c38" stroke-width="0.9" fill="none" stroke-linecap="round"/>
<path d="M111.8 277.5 111.7 276 110.7 274.9 109.7 273.8 108.3 273.2 M111.5 282.5 110 282.8 108.7 282 M114.1 284.5 113.2 283.3 113.9 282 115.4 281.6 M104.1 280.2 102.7 279.6 101.3 280 M107.1 294 107.8 292.6 108.5 291.3 108.9 289.8 109.4 288.4 M98.5 275.7 97.1 276.2 96 275.2 M97.5 271.2 96.6 272.4 95.1 272.5 93.8 271.8 M102.8 277.2 104.2 277.6 105.7 277.5 M100.5 274.8 101.7 273.8 103.1 274.3 103.4 275.7 104.6 276.7 M100.3 296.2 101.7 295.7 102.3 294.3 M116.5 288.4 116.4 286.9 116.8 285.4 117.7 284.2 118.2 282.8 M113.5 282.5 113.7 284 113.1 285.4 112.5 286.8 M101.6 284.9 100.6 283.9 99.9 282.5 M91 286.2 89.9 285.2 90 283.7 90.3 282.2 M94.1 285.3 94.3 283.8 93.4 282.6 92.6 281.3 M99.2 293.7 100.6 293.4 102.1 293.3 103.2 292.2 M98.1 288 98.7 289.4 99.4 290.7 99.9 292.1 100.7 293.4 M118 279.7 118.8 278.5 120 277.6 M94.9 281.3 96.2 282 97.7 282.3 M92.7 276.9 93.1 278.4 92.6 279.8 M90.8 290.7 91 292.2 91.6 293.6 M101.5 292.3 102.4 291.2 103.3 290 104.3 288.8 M106.6 281.7 107.7 282.7 108.2 284.2 107.6 285.5 106.3 286.2 M99.4 274.6 98 274.9 96.5 275.3 96 276.7 M110.7 291.6 109.5 292.4 108.5 293.5 M89.8 280.4 88.5 279.6 87 279.9 M118.5 283 117.8 284.3 117.8 285.8 M117 278.4 117.2 279.9 117.3 281.4 116.3 282.5 M115.5 289.4 116.9 289 117.8 287.8 M104 290.6 102.6 291.1 101.9 292.4 101.8 293.9 M104.2 273.4 102.7 274 101.4 273.2 M94.9 289.3 95.8 290.4 96.5 291.7 96.9 293.2 97.3 294.6 M94.4 291.9 94.9 293.3 96.3 293.9 M88.3 281.3 87.1 280.4 85.6 280.7 84.3 281.5 M104.7 280.6 103.2 281 102.3 282.2 101 282.9" stroke="#362a20" stroke-width="0.9" fill="none" stroke-linecap="round"/>
<path d="M115.1 278.9 114 277.9 112.8 277 M90.9 285.1 90.5 283.7 90.5 282.2 90.2 280.7 89.4 279.5 M114.1 289.5 113.2 290.7 112 291.5 110.5 291.6 M102.6 292.1 102.1 293.5 100.7 294.1 99.2 294 98 293.1 M96.1 272.1 95.1 273.2 94.5 274.5 M95.5 287.9 94.8 289.2 93.5 289.9 92 290.3 M103 273.8 103.5 272.3 104.5 271.2 105.9 271.4 107.2 272.3 M112 274.8 113.3 275.5 114.8 275.7 M104 273.5 102.9 274.5 102.8 276 M108.3 270.1 109.3 269 109.5 267.5 109.4 266 M106.4 282.5 105.3 281.4 105.5 279.9 106.3 278.7 M97.6 285.2 96.2 284.6 94.8 284 93.7 283 92.6 282 M102 289.6 100.6 289.2 99.1 289.5 97.6 289.4 M118.5 280.5 119.5 281.7 120.1 283 119.7 284.5 118.8 285.7 M115.9 287.3 114.6 288 113.1 288.2 111.8 287.4 M106.8 278.4 105.8 277.3 104.6 276.3 104 275 M101.9 287.1 100.9 288.3 99.4 288.2 98.6 286.9 M104.4 283.4 103 284.1 101.6 284.5 100.1 284.3 M114.6 288.7 114.1 287.4 112.8 286.5 111.4 286.1 109.9 285.9 M90 292.6 88.6 293.1 87.3 293.8 M116.5 280 117.3 278.7 117.1 277.2 115.9 276.3 M110.1 295.3 111.5 295.9 113 295.9 114.5 295.9 115.9 296.3 M107.8 292.6 106.9 291.3 105.7 290.5 M96.7 278.8 98.1 279.1 99 280.3 M96.3 284.6 96.2 286.1 95.2 287.2 94.3 288.3 92.8 288.6 M114.7 290.7 113.2 291.1 112 290.2 M91.1 290.6 92.6 290.6 94.1 290.4 M100.5 290.6 101.5 291.7 101.8 293.1 101.3 294.6 100 295.2 M88.8 286.8 88.4 288.3 88.8 289.7 M93 287.8 94.2 288.6 95.6 289.1 M101.7 278.2 101 279.4 99.5 279.7 98.2 278.8 M105.4 272.2 105 270.7 105.5 269.3 106.8 268.7" stroke="#28201a" stroke-width="0.9" fill="none" stroke-linecap="round"/>
<path d="M97.9 272.4 97.1 271.1 96.8 269.7 97.3 268.2 M95.3 290 95.3 291.5 94.8 292.9 M92.1 291.5 93 290.3 94.2 289.5 95.7 289.2 97.2 289.2 M113 277 114.4 277.5 115.3 278.7 114.6 280.1 M109.9 286.7 110.9 285.6 112.4 285.4 M109.1 288.8 110.6 288.9 112 289.3 113.4 289.9 114.7 290.5 M104.2 275.6 102.8 275 101.3 274.6 M96.5 280 98 279.7 99.4 279.1 M103.5 288.8 102.9 290.2 101.6 291 M117.1 280.1 118.5 279.6 119.1 278.2 120.4 277.3 M98 278.9 97.3 280.2 95.9 280.7 94.4 280.8 M118.2 278.9 118.7 280.3 118.4 281.8 118.7 283.2 M99.2 282.4 97.9 283.1 96.5 283.6 95.5 284.7 94 284.7 M109.4 284.5 108.8 285.9 109.2 287.3 M101.8 286.2 100.3 286.4 98.9 285.9 98.7 284.4 99.4 283 M107.5 294.4 106.1 295 104.6 294.8 M98.7 272.6 98.5 274.1 99.7 275 M97.7 282.9 99.2 282.5 100 281.3 100.9 280.1 M95.2 280.4 96.4 281.3 96.6 282.8 M107.3 275.2 105.9 275.5 104.5 276.2 103.1 276.8 M105.2 272.1 104 273.1 102.5 272.9 102 271.5 101 270.4 M93.7 278.6 92.2 278.4 90.7 278 89.8 276.8 90.6 275.5 M87.5 288.8 87.3 290.3 86.7 291.7 85.6 292.7 M94.1 288.4 94.4 289.8 95.9 290.3 97.4 290.3 M115 282.6 114.3 283.9 113.2 284.9 M107.8 271.8 106.9 270.7 106.2 269.3 M103.2 281.7 104.2 282.9 104.6 284.3 M88.7 285.4 88.4 284 87.5 282.8 86.3 282 85.4 280.8 M95 287.5 95.2 286 96.3 285.1 97.6 284.2" stroke="#3a2e24" stroke-width="0.9" fill="none" stroke-linecap="round"/>
<path d="M117.3 282.5 116.3 281.4 114.8 280.9 M107.3 280.3 108.6 280.9 110.1 280.8 M109.7 294.6 110.7 293.4 111.1 292 111.2 290.5 111.2 289 M100.9 274.7 100.8 276.2 99.8 277.3 98.3 277.2 M101.8 289.2 102.2 290.6 101.5 291.9 101.4 293.4 100.3 294.5 M91.4 282.8 92.9 282.5 94.3 282.8 M102.1 275 103.6 275.1 104.7 276.1 M89.3 281.7 90 280.4 89.3 279 88.5 277.7 88.2 276.3 M98.2 282.9 97.2 283.9 96.1 284.9 M102 280.6 102.5 279.2 102.3 277.7 101.4 276.5 99.9 276.4 M104.8 280.6 104.3 279.2 103.6 277.8 102.3 277.1 M104.4 293.6 105.5 292.5 106.3 291.3 106.1 289.8 M100.3 270.1 98.9 270.4 97.7 271.3 96.3 271.9 95.1 272.8 M93.9 282.2 94 283.7 93.7 285.1 92.6 286.2 M114.2 293.9 114.8 292.5 116.1 291.7 M91.4 293.3 91.1 291.8 90.3 290.5 88.9 290 87.7 289.1 M109.9 291.7 111.2 292.5 112.6 292.1 114 291.5 M109.1 295.2 108.2 294 106.9 293.2 M95.6 281.5 96.1 282.9 95.3 284.2 M103.8 292.6 102.3 292.7 101 293.5 M107.5 294.3 108.8 295.1 109.8 296.2 110.1 297.7 M97.2 291.8 98.1 293 99.1 294.1 98.4 295.5 M113.2 276.7 112.8 278.1 111.9 279.3 110.4 279 109.1 278.4 M93.6 272.2 94.9 272.8 96.1 271.8 M105 297.6 106.3 296.8 106.9 295.5 106.9 294 106 292.8 M93 294.6 91.5 294.5 90.2 293.7 89.1 292.7 M100 289 99.4 290.4 98.9 291.8 99.8 293 M99.4 287.5 98.2 288.4 96.8 288.8 95.5 289.6 94.3 290.4 M103.9 281.5 105.3 281 106.6 280.2" stroke="#524232" stroke-width="0.9" fill="none" stroke-linecap="round"/>
<path d="M96.3 287 95.9 285.5 96.7 284.3 M95.5 286 96.9 286.5 98.4 286.8 99.8 286.4 100.6 285.1 M107 292.6 107.8 293.8 109 294.7 110.5 294.6 M97.5 283.3 96.2 283.9 95.1 285 M110.4 281.5 111.9 281.5 113.3 282.1 114.4 283.1 M94.2 276.7 92.7 276.9 91.3 276.2 90.4 275 M107.4 286 107.9 287.4 108.5 288.8 109.4 289.9 110.9 290 M113.5 289.9 112.4 290.9 111 291.5 109.6 291.3 108.4 290.4 M105.6 278.3 104.1 278.5 103.1 277.4 103.6 276 104.2 274.6 M110.4 289.6 109.5 288.4 109.4 286.9 M98.2 284.3 99 283 99.9 281.8 101.1 280.9 M89.1 291.8 87.7 292.3 86.3 292.6 84.8 292.1 M105.1 296.2 105.9 297.5 107.4 297.9 108.6 296.9 109.3 295.6 M90.2 293.2 89.1 292.2 88.7 290.7 88.5 289.2 M94.4 295.6 94.8 297 94.1 298.4 92.9 299.2 M104 297.8 103.4 299.2 103 300.7 M100.3 273.9 101 275.2 102.3 276.1 103.8 276.3 M118.4 281 119.1 279.7 120.2 278.6 121.7 278.5 122.8 279.4 M101.7 278.7 102.4 280 102.7 281.5 M113.4 276.5 112.5 277.7 111.8 279 110.9 280.2 M88.5 284.5 89.6 283.5 90.7 282.5 91.4 281.2 M105.5 282.8 105.7 281.3 104.9 280.1 103.9 279 M105.4 292.1 105 293.5 104 294.6 M107.7 279.9 108.9 280.9 110.3 281.4 111.8 281.3 M103 297.5 102.6 299 102.9 300.5 103.9 301.6 M104 271.5 103.2 270.3 102 269.4 M87.4 285.7 86.3 286.7 84.9 287.3 M118.7 285.1 117.2 285 116.3 283.8 116 282.3 117 281.2 M108.8 272.6 107.4 272 106.7 270.7 105.7 269.6 104.6 268.5" stroke="#46382c" stroke-width="0.9" fill="none" stroke-linecap="round"/>
</g>
<path d="M92 308 92.2 306.5 93.1 305.3 94.5 304.7 95.7 303.8 96.6 302.6 97.3 301.3 M100 305 98.8 305.9 97.3 306.1 96 305.5 95.1 304.3 M77 281 78 282.1 79.3 283 80.5 283.7 81.9 283.1 83 282.1 M80 270 81.3 269.2 81.8 267.8 81.8 266.3 80.5 265.6 M120 296 121.4 295.4 122.8 295 123.8 293.9 124.1 292.4 123.7 290.9 M79 298 79.7 299.3 81.2 299.4" stroke="#2c241c" stroke-width="1.2" fill="none" stroke-linecap="round"/>
</g>
<g clip-path="url(#clip4)">
<rect x="199.6" y="190.2" width="194.6" height="186" fill="url(#bg1)"/>
<circle cx="296.9" cy="287.8" r="98.3" fill="url(#rim4)"/>
<circle cx="296.9" cy="279.2" r="97.1" fill="url(#rim4)"/>
<circle cx="296.9" cy="279.5" r="94.7" fill="url(#cell4)"/>
<g fill="#f6f6f4" stroke="#b4b4b0" stroke-width="0.55" opacity="0.85"><circle cx="363.7" cy="298" r="0.9"/><circle cx="363.4" cy="302.9" r="0.9"/><circle cx="359.3" cy="314" r="0.9"/><circle cx="355.3" cy="330.3" r="0.9"/><circle cx="348.1" cy="336.6" r="0.9"/><circle cx="317.2" cy="359.5" r="0.9"/><circle cx="308" cy="363" r="0.9"/><circle cx="298.5" cy="362.9" r="0.9"/><circle cx="292.6" cy="364.9" r="0.9"/><circle cx="283.9" cy="361.4" r="0.9"/><circle cx="276.1" cy="359.6" r="0.9"/><circle cx="265.2" cy="357.4" r="0.9"/><circle cx="260.6" cy="354.2" r="0.9"/><circle cx="253.3" cy="347" r="0.9"/><circle cx="245.8" cy="341.8" r="0.9"/><circle cx="241.8" cy="336.6" r="0.9"/><circle cx="236.2" cy="330" r="0.9"/><circle cx="233.7" cy="319.3" r="0.9"/><circle cx="232.1" cy="314.5" r="0.9"/><circle cx="227.2" cy="286.8" r="0.9"/><circle cx="229.2" cy="279.3" r="0.9"/><circle cx="233.1" cy="272.4" r="0.9"/><circle cx="235.9" cy="265.5" r="0.9"/><circle cx="247" cy="248.3" r="0.9"/><circle cx="260.6" cy="239.6" r="0.9"/><circle cx="266" cy="234.1" r="0.9"/><circle cx="274.9" cy="232.7" r="0.9"/><circle cx="283.4" cy="230.3" r="0.9"/><circle cx="300.3" cy="229.8" r="0.9"/><circle cx="307.3" cy="230.9" r="0.9"/><circle cx="316.5" cy="232.9" r="0.9"/><circle cx="324.1" cy="234.3" r="0.9"/><circle cx="331.5" cy="237.5" r="0.9"/><circle cx="338.3" cy="243.5" r="0.9"/><circle cx="345.3" cy="249.8" r="0.9"/><circle cx="350.5" cy="257.1" r="0.9"/><circle cx="359.7" cy="271.8" r="0.9"/><circle cx="360.5" cy="281.5" r="0.9"/></g>
<path d="M348.6 190.2 L346.2 201" stroke="#d4d4d2" stroke-width="1.6" fill="none"/>
<path d="M348.6 190.2 L346.2 201" stroke="#9a9a98" stroke-width="0.8" fill="none" stroke-dasharray="1.5 1.5"/>
<path d="M345.9 202 L344.5 205.5" stroke="#2c2c2c" stroke-width="2.5" fill="none" stroke-linecap="round"/>
<path d="M344.3 206 l-0.5 2.2" stroke="#6a6a68" stroke-width="1" fill="none"/>
<path d="M368.5 321.9 l9.5 6.5" stroke="#ffffff" stroke-width="1.5" opacity="0.85" fill="none" stroke-linecap="round"/>
<g filter="url(#soft)">
<ellipse cx="305.5" cy="284.7" rx="19.3" ry="20.3" fill="#66482c" opacity="0.4" filter="url(#blur2)"/>
<path d="M321.5 284.7 L323.6 287.7 L323 290.7 L321.8 293.5 L319.1 295.2 L317.9 297.8 L315.8 299.8 L313.2 300.8 L310.1 299.7 L307.9 300.5 L305.5 300.9 L303.5 298.2 L301.3 298.2 L299.7 296.8 L296.2 298.2 L295.2 295.6 L292.4 294.8 L292.1 291.9 L291.8 289.4 L288.8 287.5 L290.8 284.7 L288.4 281.8 L289.3 279.1 L290.4 276.5 L292 274.3 L293.3 271.8 L295.2 269.7 L298.8 270.8 L300.6 268.6 L303.2 269 L305.5 269.1 L307.8 269.3 L310.6 268.1 L312.8 269.4 L313.5 273 L314.3 275.4 L315.7 276.8 L317.7 278.1 L319.8 279.8 L323.4 281.7Z" fill="#66482c"/>
<path d="M317.8 284.7 L317.2 286.7 L315.4 288.1 L315.5 290.1 L315.4 292.3 L314.4 294.2 L312.4 294.8 L310.6 295.4 L309.5 297.8 L307.4 297.3 L305.5 297.4 L303 301.3 L300.7 300.3 L298.1 300 L297.5 296.4 L295.2 295.6 L294.1 293.5 L293.9 291 L294.8 288.4 L293.3 286.7 L292.5 284.7 L292.3 282.5 L292.5 280.2 L294.8 278.9 L296 277.4 L297.8 276.6 L298.5 274.4 L300.4 274 L301.8 272.6 L303.7 272.6 L305.5 269.7 L307.4 272 L309.5 271.5 L311.7 271.8 L312.8 274.1 L315.9 273.7 L318.5 274.7 L318.1 277.9 L319.8 279.8 L319.7 282.3Z" fill="#3a2e26"/>
<path d="M292.2 279 291.1 278 290.2 276.8 288.9 276 287.6 275.2 286.1 275.2 M313.8 297 314.7 298.2 315.6 299.3 316.1 300.8 316.8 302.1 317.5 303.4 317.6 304.9 M306.1 301.2 305.8 302.6 305.8 304.1 305.4 305.6 M291.6 283.9 290.1 283.9 288.8 283.1 287.6 282.2 286.5 281.2 285.1 280.6 M313.4 272.4 314.6 271.6 316.1 271.3 317.6 271.1 319.1 271.3 M317.4 274.8 317.9 273.4 319.1 272.5 320.1 271.4 321.4 270.6 322.9 270.6 324 271.7 M311.4 298.2 311.8 299.6 311.7 301.1 312 302.6 312.8 303.8 M319.6 289.7 321 290.2 322.5 290.5 323.6 291.4 324.3 292.8 325.6 293.6 M317.2 291.6 318.6 292.3 319.6 293.3 320.9 294.2 M307.3 267.9 307.5 266.4 308.5 265.2 309.9 264.6 311.3 264.1 312.8 263.9 314.3 263.8 M319.3 277.7 320 276.4 320.6 275 320.9 273.5 321.5 272.1 321.7 270.7 M319.8 285.5 321.2 286 322.7 285.6 323.8 284.7 325.1 283.9 326.3 282.9 327.2 281.7 327.6 280.3 M314.4 299.3 315.7 300.1 317.1 300.4 318.5 301.1 M291.8 277.3 290.3 277 289 276.2 288.3 274.9 M318.4 279.7 319.7 279.1 321.2 279.3 322.3 280.3 322.6 281.8 323.5 283 324.7 283.9 325.4 285.2 M318.2 295.1 319.3 296 320.8 296.1 322.1 295.4 322.9 294.1 323.3 292.7 M294.1 273.4 293.2 272.2 292.7 270.8 292.3 269.3 291.3 268.1 290.2 267.1 M291.7 288.5 290.5 289.3 289.4 290.3 288.9 291.7 288.2 293 287.9 294.5 M317.6 293.6 319.1 293.8 320.6 293.7 322.1 293.7 M299.7 297.6 299 299 298.1 300.2 297.3 301.4 297.2 302.9 297.9 304.3 298.7 305.5 299.4 306.9 M289.2 284.8 287.8 284.6 286.4 284.1 284.9 284 283.7 285 282.7 286.1 281.8 287.3 280.7 288.3 M307.1 299.8 307.3 301.3 307.1 302.8 306.2 304 305.2 305.1 M316.9 294.4 318.1 295.3 319.1 296.4 319.3 297.9 319.3 299.4 319 300.9 318.8 302.3 318.4 303.8 M303.4 268.1 303.5 266.6 303.2 265.1 302.7 263.7 302.7 262.2 302 260.9 301.2 259.6 299.8 259.1 M320.1 286.4 321.6 286.2 323.1 286.1 324.6 286.2 326 285.8 327.3 285 328.7 284.4 329.8 283.4 M297.3 297 296.1 297.8 294.6 298.2 293.1 298.2 291.8 297.6 290.5 296.7 289.8 295.4 M300.2 299.5 300.7 300.9 301.6 302.2 302.4 303.4 303.6 304.3 304.8 305.2 M313.4 296.8 313.7 298.3 313.4 299.8 312.3 300.7 310.8 300.8 309.5 300 308.1 299.4" stroke="#7a5a36" stroke-width="0.75" fill="none" stroke-linecap="round"/>
<path d="M318.1 276.9 318.8 275.6 319.5 274.2 320 272.8 320.6 271.4 320.1 270 M296 271.6 294.5 271.1 293 271 291.7 270.4 290.2 270.4 288.7 270.6 287.4 271.3 M294.4 294.2 293.2 295.1 291.8 295.8 290.3 295.6 289 295 288.1 293.8 287.5 292.4 M307.2 299.5 307.8 300.9 308 302.4 308.1 303.9 307.3 305.2 306.3 306.2 M314.1 273.8 314.4 272.3 314.4 270.8 313.8 269.4 313.3 268 312.3 266.9 M320.2 287.3 321.5 288.1 322.8 288.8 324.3 288.9 325.7 288.3 327.2 288.2 328.7 288.2 330.1 288.9 M317 295.5 318.5 295.7 320 296.2 321.4 296.7 322.5 297.7 M305.9 270.6 305.8 269.1 305.5 267.6 305.2 266.2 304.7 264.7 M321.3 280.1 322.8 280.1 324.1 280.7 325.4 281.5 M290.4 278.3 289.1 277.7 287.9 276.7 286.5 276.2 285 276.3 283.6 275.8 M319 279.6 320.2 278.6 321.7 278.7 323.2 278.7 324.6 278.4 326 278.9 327.5 278.9 328.9 278.3 M296.1 272.9 294.9 272 293.4 271.7 291.9 271.5 M290.2 281.3 288.7 281.3 287.3 280.7 285.9 280.2 284.9 279 M320.3 281.3 321.8 281.4 323.3 281.1 324.6 280.5 326.1 280.3 327.6 280.5 M291.9 283.2 290.7 282.3 289.3 281.8 287.8 281.3 286.4 280.9 285 280.4 283.5 280 M292.2 292 290.7 292.4 289.3 292.9 288.2 293.9 286.8 294.6 285.8 295.7 285.5 297.2 285.9 298.6 M312.6 297.6 313.3 299 313.6 300.4 312.8 301.7 311.5 302.4 310 302.6 M292.2 292 290.8 292.5 289.3 292.7 287.8 292.6 M294.4 275.7 293.9 274.3 292.7 273.3 291.7 272.2 M298 273 298 271.5 298.4 270.1 298.9 268.7 299.1 267.2 300.1 266.1 301.6 265.8" stroke="#6a4c2c" stroke-width="0.75" fill="none" stroke-linecap="round"/>
<path d="M294.7 274.5 293.3 273.8 292.2 272.8 M291.6 279.2 290.2 278.7 289.1 277.7 287.8 276.8 286.8 275.7 285.9 274.5 M296.6 296.2 296.3 297.6 295.7 299 294.8 300.2 294.4 301.6 293.8 303 292.6 304 M304.8 268.1 305.5 266.8 306.8 266 307.9 265 309.2 264.2 M306.9 301.4 306.7 302.9 306.5 304.3 306.4 305.8 306.6 307.3 306.8 308.8 306.3 310.2 M289.5 282.5 288.1 282 286.6 281.7 285.4 280.9 283.9 280.7 282.5 280.1 281.1 279.7 M294 295.9 293.3 297.2 293.2 298.7 293.4 300.2 293.3 301.7 M317.9 277.2 319.3 276.7 320.8 277 322.2 277.4 323.7 277.5 325.2 277.8 326.6 277.3 M305 270.2 304.8 268.8 303.9 267.5 303.1 266.3 301.8 265.5 M294.6 294.1 293.4 295 292.4 296.2 291.1 296.8 289.6 297.2 288.1 297 M312.3 298.8 312.7 300.3 313.6 301.4 314.7 302.4 M320.9 290.4 322.4 290.5 323.6 291.4 325.1 291.6 326.6 291.6 328.1 291.6 M293.7 291.9 292.3 292.6 290.8 292.8 289.6 291.9 288.5 290.9 M294 276.3 292.7 275.8 291.5 274.9 290.2 274.1 288.8 273.5 287.5 272.7 286 272.6 284.5 272.7 M293.5 272.8 292.5 271.8 291 271.3 289.6 271.8 288.5 272.8 288 274.2 287.3 275.6 286.2 276.6 M311.1 269.3 312 268 313.1 267.1 M318.4 292.8 319.8 293.4 321 294.2 322.5 294.3 M296.1 271.5 295.6 270.1 295.8 268.6 295.8 267.1 295.4 265.7 M305.1 267.3 305.3 265.8 305.8 264.4 306.7 263.2 307.6 262 M292.2 285.1 290.8 284.6 290 283.3 289.6 281.8 289.7 280.3 290.3 279 290.8 277.5" stroke="#86663f" stroke-width="0.75" fill="none" stroke-linecap="round"/>
<path d="M321.1 289.3 322.3 290.1 323.2 291.3 324.4 292.1 325.6 293.1 326.8 293.9 328.2 294.6 329.1 295.7 M318.5 288.4 320 288.8 321.3 289.5 322.7 290.1 324.2 290.4 325.7 290.4 327 289.8 328.5 289.3 M291.7 293.3 291.3 294.7 291.1 296.2 291.9 297.5 M318.4 279.6 319.6 278.8 321.1 278.9 322.3 279.8 322.9 281.2 M319.3 291.4 320.7 292.1 321.9 293 323.3 293.6 324.7 294.2 326.2 294.2 327.6 293.7 M313.8 269.9 315.2 269.4 316.6 269 318 269.6 319.5 270 320.9 270.1 322.3 269.6 323.7 268.9 M311.8 297.7 313.3 297.9 314.6 298.6 315.8 299.5 M312.5 297.3 312.9 298.7 313.4 300.2 313.3 301.6 312.6 303 311.3 303.8 310.4 304.9 309.1 305.8 M320 282.1 321 283.2 321.8 284.5 322.6 285.8 323.3 287.1 323.3 288.6 323.1 290.1 M294.6 294.7 293.1 295 291.7 295.6 M296.4 272.2 296.1 270.8 295.2 269.5 294.1 268.5 292.7 268 M310.7 269.8 310.3 268.4 309.9 266.9 310.1 265.5 310.7 264.1 310.5 262.6 310.5 261.1 311.1 259.7 M296.6 299.1 295.5 300.1 294.7 301.3 293.3 302 291.8 302.2 M308.3 269.9 308 268.5 307 267.3 306.1 266.2 304.8 265.5 303.3 265.1 301.8 264.9 M305.8 300.3 306.2 301.8 307 303 307.7 304.3" stroke="#3e3028" stroke-width="0.75" fill="none" stroke-linecap="round"/>
<path d="M292.1 287.4 290.7 287.9 289.4 288.6 288.4 289.8 M316.2 275.2 317.6 275.6 318.9 276.4 320.1 277.3 321.5 277.7 322.7 278.7 323.8 279.7 324.8 280.8 M305.6 267.3 305.7 265.8 305.7 264.3 305.6 262.8 305.7 261.3 306.4 260 M295.8 271.7 294.4 271.2 292.9 271.1 291.4 271.1 290.1 270.4 288.6 270 287.1 269.8 285.8 269.1 M305.6 269.7 305.5 268.3 305.5 266.8 305.8 265.3 306.3 263.9 305.9 262.4 306.4 261 M318 277.7 319.5 278 321 278.2 322.5 278 323.9 278.3 325.3 278.9 326.5 279.8 M308.7 269.6 308.4 268.2 308.4 266.7 308.2 265.2 308 263.7 307.8 262.2 M319.4 277.9 320.7 277.1 322.1 276.5 323.3 275.6 324 274.3 M319.8 277.2 320.6 276 321 274.5 321.1 273 321.6 271.6 322.8 270.7 323.9 269.7 325 268.7 M290.4 281.2 289.2 282.1 288.3 283.3 287.7 284.7 287.7 286.2 287.7 287.7 M309.5 271 309.4 269.6 308.9 268.1 M292 285.1 290.6 285.4 289.2 286.1 288.1 287.1 287.7 288.5 288.1 289.9 289 291.1 289.5 292.5 M309 269.4 309.2 267.9 309.4 266.4 M291.5 277.8 290 277.7 288.6 277.2 287.1 276.7 285.6 276.7 284.2 277 282.9 276.3 282.2 274.9 M314.5 295.5 315.2 296.9 316.1 298.1 317.1 299.1 318.2 300.2 318.8 301.5 318.9 303 M311.2 298.1 312.5 298.9 314 299.3 M289.5 280.8 288.1 280.3 286.7 279.7 286 278.3 285.8 276.9 285.5 275.4 286.1 274 M321.1 289.9 322.5 290.1 324 289.9 325.3 289.2 326.6 288.4 M295 272.8 294 271.8 292.8 270.8 291.5 270.1 290.7 268.8 M292.7 280.2 291.3 279.7 289.8 279.6 288.4 279.4 M292.9 277.9 291.5 277.5 290 277.8 288.5 277.9 287.2 277.2" stroke="#5e4228" stroke-width="0.75" fill="none" stroke-linecap="round"/>
<path d="M295.9 272.7 295.4 271.3 294.4 270.1 M318 290.6 319 291.7 320 292.8 321 294 321.7 295.3 322.4 296.6 322.3 298.1 321.7 299.4 M299.3 299.4 299.2 300.9 299.7 302.3 300.3 303.7 301.2 304.9 302.3 305.9 M298.9 299.4 297.7 300.3 296.8 301.6 296.1 302.9 295.2 304 294.5 305.4 M311.5 272.1 312.9 271.6 314.3 271.2 315.3 270.1 316.6 269.3 317.9 268.6 319.4 268.4 320.7 269.1 M295 293.6 293.8 294.5 292.8 295.6 291.3 296.1 290.1 296.9 288.6 297.1 M317.6 275.1 319 274.6 320.5 274.2 321.8 273.5 323.2 272.9 324.2 271.8 324.6 270.3 325.5 269.1 M295.6 297.9 295.1 299.3 294.6 300.7 293.9 302.1 292.8 303.1 291.5 303.8 290.2 304.6 288.7 304.6 M291.2 292.9 289.9 293.8 288.5 294.3 287 294.6 285.8 295.4 284.7 296.5 283.5 297.4 M320 278 321.3 277.3 321.8 275.9 322.2 274.4 321.8 272.9 322.4 271.6 323.3 270.4 324.8 270.1 M309.3 269.8 309.9 268.5 310.3 267 310.9 265.6 311.2 264.2 311.1 262.7 311.2 261.2 M316.5 292.7 317.5 293.8 317.9 295.3 317.4 296.7 317 298.2 316.3 299.5 M292.9 279.7 291.5 279.1 290.1 278.5 289.1 277.4 288 276.4 287 275.3 286.4 273.9 M318.8 287.4 320.3 287.7 321.8 288.1 323.2 288.4 324.6 289.1 326.1 289.2 327.3 288.3 M316 296.4 317.4 296.9 318.3 298.1 319.4 299.1 320.6 300.1 321.1 301.5 M318.9 294.1 320.4 294.4 321.7 295.1 322.8 296.2 323.4 297.5 M317 295 318.5 295.3 319.9 294.8 321.4 294.3 322.8 294 324.1 293.3 325.5 292.6 M291.8 281.2 290.5 280.3 289.8 279 289.9 277.5 290 276" stroke="#4a3a30" stroke-width="0.75" fill="none" stroke-linecap="round"/>
<path d="M315.1 271 315.7 269.6 316.2 268.1 316.6 266.7 317.4 265.4 318.1 264.1 318.1 262.6 318.4 261.1 M320 280.3 321.4 280.2 322.8 279.6 M317.6 273.4 318.7 272.3 320 271.7 321.5 271.4 322.6 270.4 323 268.9 323.3 267.5 322.9 266 M319.9 289.2 321.4 289.1 322.8 288.9 324.3 288.8 M299.2 300.1 298.5 301.5 297.3 302.4 296.2 303.4 295.3 304.6 294.1 305.6 293.2 306.7 M290.9 284.2 289.5 284.1 288 283.6 286.8 282.8 M306.9 302.1 307.3 303.5 307.5 305 307.9 306.5 308.8 307.7 M295.2 295.9 293.7 296 292.2 296.4 290.7 296.2 289.3 296.4 287.8 296.9 M309 270.9 309.6 269.6 310.8 268.7 312.1 267.8 M311.7 299.4 310.7 300.5 309.4 301.3 308 301.7 306.5 301.4 305 301.4 303.8 300.5 302.4 300.1 M310.8 271.4 311.2 270 311.2 268.5 311.6 267 311.4 265.5 310.5 264.4 309.9 263 309.7 261.5 M316.6 271.8 317.2 270.4 317.6 269 317.3 267.5 316.9 266.1 316.4 264.7 M300.3 300.4 300.5 301.9 301.3 303.2 301.7 304.6 301.9 306.1 302.6 307.4 303.2 308.8 M321.6 287.3 323.1 287.4 324.6 287.5 326 286.8 327 285.7 328.1 284.7 329.6 284.6 330.9 285.4 M307.4 301 307.4 302.5 306.9 303.9 306.4 305.4 305.4 306.5 303.9 306.7 302.4 306.8 301.1 306.1 M305.6 270.3 305.6 268.8 305.7 267.3 305.4 265.8 M319.6 281.3 320.8 280.4 322.1 279.6 323.3 278.8 324.3 277.6 324.4 276.1 M311.1 270.2 312.2 269.2 313.1 267.9 314.2 266.9 315.5 266.2 317 266.1 318.4 266.7 M319.4 286.6 320.6 287.4 322 287.9 323.5 287.5 324.9 287 M319.9 284.1 321.4 284 322.9 283.8 324.2 283.1 325.5 282.3 M306.6 301.9 305.9 303.3 304.9 304.4 303.8 305.4 303.2 306.8 302.3 308 301.4 309.2 300.6 310.5 M317.7 274.6 319 274 320.3 273.2 321.8 273.3 322.8 274.4 323.9 275.4 324.8 276.6 M308.1 269.2 308.2 267.7 308.4 266.3 308.5 264.8 309.3 263.5 310.8 263.2 M299.9 271.1 298.9 270 297.6 269.3 296.3 268.5 295.6 267.2 294.6 266 294.4 264.5 294.8 263.1 M301 269.8 300.2 268.5 299.3 267.3 298.3 266.2 297.6 264.9 296.7 263.6 295.3 263.2 293.8 262.7 M291 284.5 289.5 284.5 288.3 283.6 287.8 282.2 288.1 280.7 288.7 279.3 289.9 278.5 M318.9 292.8 320.1 293.7 321.4 294.5 322.7 295.1 324.2 295.6 325.3 296.6 326.8 296.9 328.3 297 M302.5 300.2 301.6 301.4 300.9 302.7 299.9 303.8 299.1 305.1 298.7 306.5 298.3 308" stroke="#5a4430" stroke-width="0.75" fill="none" stroke-linecap="round"/>
<path d="M297.4 290.1 298.9 290.2 300 289.2 300.5 287.8 M319 286.7 317.5 286.2 317.3 284.7 M305.1 289.4 303.7 288.7 302.2 288.7 301.5 290 302.1 291.4 M292.8 283 294.3 282.8 295.8 283 M296.9 280.1 295.6 280.8 294.1 280.6 M297.5 292.6 296.1 293.2 295.5 294.6 M293.9 288.5 294.7 289.7 295.2 291.2 295.4 292.7 294.2 293.6 M313.1 290 312.9 291.4 311.8 292.5 M300.5 277.1 299.3 278.1 298.1 279 296.7 278.6 296 277.3 M295.6 277.9 296.8 277 298 276.1 M320.1 286.2 320.8 287.6 322.2 288.2 323.7 287.9 M293 282.3 293.7 283.6 294.1 285 293.7 286.5 293.2 287.9 M306.3 291.8 307.2 293 307.7 294.4 307.2 295.8 M309.3 272.5 310.8 272.9 311.8 274 312.4 275.4 M315.6 287.3 314.5 286.2 313.1 286 M305.9 277.2 304.8 278.3 303.6 279.1 M303.3 287 304.8 286.6 305.9 285.6 306.1 284.2 M315.4 288.6 315.3 290.1 315.6 291.5 M308 286.6 308.1 288.1 307.2 289.3 M320.8 283.8 319.4 284.2 318.1 285 M319.9 282.3 320.1 280.8 320.1 279.3 318.9 278.4" stroke="#584232" stroke-width="0.9" fill="none" stroke-linecap="round"/>
<path d="M295.3 275.4 294.6 274.1 294.4 272.6 M306.5 297.1 305.8 298.5 304.5 299.1 303 299.4 M304.9 300.2 305.2 301.7 306.3 302.7 306.5 304.2 M292.7 294.5 292 293.2 291.8 291.7 M296 298.3 297.3 297.6 298.7 296.9 M305.5 294.2 306.7 295.1 306.9 296.6 307.4 298 M309.7 295 308.3 294.3 307 293.6 305.5 293.5 M313.2 280.4 314.5 281.2 315.9 281.7 317.2 282.5 M308.3 278.9 309.4 277.8 310.1 276.5 M317.3 292.7 317.2 294.2 315.9 294.9 M305.5 281.7 306.2 283 305.9 284.5 M311.7 297.6 313.2 297.8 314.4 297 M295.9 274.2 294.7 273.3 294.1 271.9 M310 284.2 311.5 284.1 312.6 283 M307.3 295.1 308.8 295.3 309.8 296.5 311.3 296.8 M311.1 291.1 311.5 292.6 311.9 294 M290.8 281.6 291.1 280.2 291.6 278.8 291.4 277.3 291.8 275.8 M315.1 296.4 316.1 297.5 317.2 298.6 318.4 299.3 319.9 299.5 M305.2 299.2 306.7 299.1 308 299.8 M302.8 273.5 301.3 273.5 299.8 273.5 298.3 273.5 M315.2 289.6 314.4 288.3 314 286.9 313.9 285.4 312.5 284.8 M299.6 283.2 299.8 284.7 300.5 286 301.7 286.9 M290.3 283.8 288.8 284 287.9 282.8 287.5 281.3 287 279.9 M306 276.7 307.3 277.5 308.7 276.9 M309.1 280.8 308.2 279.6 306.9 278.8 M299.3 293.4 298.7 294.8 298.4 296.3 M299.7 298.2 299.4 299.6 298.3 300.7 M302.4 282.7 301.5 281.5 300.4 280.5 298.9 280.4 297.7 281.3 M304.3 278.2 305.8 277.9 307.2 278.5 M308.3 272.4 306.8 272.3 305.7 271.2" stroke="#6c543c" stroke-width="0.9" fill="none" stroke-linecap="round"/>
<path d="M308.4 275.2 309.8 275.6 311 276.6 311.5 278 M299.1 286.9 300.4 287.6 301.2 288.9 M309.5 279.8 309.8 278.3 309.9 276.8 310.6 275.5 M300.9 297.6 300.1 296.3 298.8 295.5 297.5 294.8 M306.2 279 306.7 280.4 306.7 281.9 306 283.3 M301.2 288.5 300.2 287.4 300.2 285.9 M305.4 269.2 306.6 270 308.1 269.6 M298.3 271.6 296.8 271.5 295.5 272.2 294 272.2 M295.3 280.7 296.3 279.6 297.8 279.3 299.3 279.4 300.7 278.8 M312.6 298.9 313.8 299.8 314.7 301 M297.6 295.1 298.1 296.5 298.3 298 297.2 298.9 M297 285.7 297.4 287.2 298.3 288.3 299.5 289.3 M304.1 282.6 302.9 283.6 302 284.8 300.8 285.6 299.3 286.1 M309.2 280 310.2 281.1 310.6 282.5 M301.8 271.7 302.6 273 303.8 273.8 305.3 273.8 306.5 272.8 M303 279.5 301.7 280.1 300.2 279.9 298.7 279.7 297.5 278.8 M308.5 301.3 309.4 302.5 308.5 303.7 M293.1 290.2 291.9 291.1 290.4 291.5 M297.8 299.3 296.4 298.8 294.9 298.7 M312.7 288 313.5 289.3 314.3 290.6 314.2 292.1 M308.6 273.8 308.6 275.3 308.8 276.8 309.7 278 311.2 278 M305.7 279.7 304.7 280.8 303.3 281.3 M306.2 301.3 305.1 300.2 303.9 299.4 M315.5 280.5 315.6 279 316.8 278.2 318.1 279.1 M295.6 296.3 294.8 297.6 295.1 299.1 295.2 300.6 M302.4 301 301.2 301.9 300.4 303.2 300.5 304.7 M299.7 289.7 301.1 290 302.1 291.1 M305.3 292.5 303.9 292.9 303 294.1 302.4 295.5 M311.2 286.1 312.4 287 313.7 286.2" stroke="#3a2c24" stroke-width="0.9" fill="none" stroke-linecap="round"/>
<path d="M316 282.6 314.5 282.4 313.8 281.1 313.3 279.7 314.3 278.6 M312.9 291.3 314.4 291.1 315.8 291.7 M314.4 296.9 312.9 296.6 311.4 296.5 M315.9 285 316.8 283.8 318.3 283.4 319.8 283.6 320.9 284.5 M302.9 272.6 302.3 274 302.1 275.5 302.2 276.9 302.9 278.3 M318.3 279 319.3 280.1 320 281.5 M308.6 287.7 309.9 286.9 311.3 286.3 312.8 286.3 M293.5 282 294.1 283.4 295.3 284.3 M314.2 291.7 315.5 292.4 316.9 291.8 318 290.8 318.9 289.6 M305 292.7 305 294.2 305.4 295.6 M318.1 291 319.6 290.7 321 290.2 322.4 289.5 322.9 288.1 M306.8 288.3 305.7 287.2 305.2 285.8 M303.5 272.5 303.7 271 304.8 270 306.3 269.6 307.5 270.5 M309.7 285.2 310.5 283.9 310.2 282.5 309.1 281.5 M310.2 300.6 309.7 302.1 309.2 303.4 307.8 304.1 M295.9 282 294.4 281.9 293.3 280.9 292.2 279.9 290.9 279.2 M306.6 278.2 306.9 279.7 306.9 281.2 M299.1 272.5 300.6 272.6 301.6 271.5 302.3 270.1 M297.5 270.4 296 270.4 294.5 270.3 293.3 269.5 M321.1 285.4 320.1 284.3 318.9 283.4 317.4 283.5 316.3 284.5 M298.7 281.9 297.9 283.1 296.9 284.2 M294.9 284 296 285 297.5 284.9 298.7 284 M311.8 282.6 311.8 281.1 312.3 279.7 M293.7 273.3 294.6 274.5 295.9 275.2 M313.5 298.5 313.3 297 312.5 295.7 M293.3 288.2 294.3 287 295.1 285.8 295.5 284.3 295.8 282.8 M294.1 287.1 293.1 286 292.3 284.7" stroke="#624a36" stroke-width="0.9" fill="none" stroke-linecap="round"/>
<path d="M301 271 301.9 269.7 301.8 268.2 301.4 266.8 300.2 265.9 M310.7 296.3 311.6 295.2 312.1 293.7 312.2 292.2 M302.5 290.7 301.9 292.1 301.2 293.4 299.8 294 298.4 293.4 M302.4 288 301 288.3 299.7 289.1 M311.8 296.3 310.4 296.9 308.9 297.2 307.4 297.4 306.1 296.7 M312 287.7 310.5 287.6 309.1 287 307.6 286.8 306.1 286.5 M297.5 296.9 296.1 296.6 294.6 296.4 293.5 295.4 M320.3 279.3 319.9 277.8 319.9 276.3 320 274.8 319.4 273.4 M311.4 299.3 310.6 300.6 309.2 301.2 307.7 301.1 306.6 300 M311.6 298.6 313.1 298.2 314.6 298.2 M319.9 279 320.5 280.4 321.2 281.6 M320.6 283.3 320.6 284.8 321.1 286.2 322.4 287 323.9 287.3 M314.7 291.9 313.3 291.8 312.2 290.7 310.8 290.1 M301 269 301.4 270.4 302.1 271.8 M302.7 291.7 302.2 290.3 302.3 288.8 303.3 287.7 M300.3 298.1 301.8 298.5 303 297.6 303.1 296.2 M306.2 279.5 304.9 280.1 303.7 281 302.3 281.4 300.8 281.3" stroke="#4e3a2c" stroke-width="0.9" fill="none" stroke-linecap="round"/>
<path d="M296.3 295.1 297.3 296.2 297 297.7 M317.7 280.3 318.6 279.1 318.7 277.6 318.3 276.2 M316.9 282.9 315.8 283.9 314.6 284.8 M308 279.4 309.4 278.8 310.5 277.8 311.4 276.6 M308.8 291.3 309.3 292.8 309.4 294.2 309.4 295.7 309.7 297.2 M307.6 269.1 307.1 267.7 307.9 266.4 M308.6 297.2 310 297.8 310.8 299 311.1 300.5 M317.3 277.9 316.7 279.3 317.5 280.6 319 280.6 M313.7 280.2 312.6 279.2 311.6 278.1 310.9 276.7 309.7 275.9 M302.8 268.5 303.1 267.1 303.9 265.8 M295.1 296.3 295.7 294.9 296.8 293.9 298.3 293.7 299.8 293.5 M293.2 274.9 294 276.2 294.1 277.7 293.8 279.2 M292.3 288.6 291.1 289.6 290 290.5 M295.4 275.6 296.8 275 298 274 298.9 272.8 M298.7 282.2 299.8 283.2 299.7 284.7 298.3 285.1 296.9 284.6 M298.4 294.7 298.1 293.2 297.2 292 M305.7 282.9 307.2 282.6 308.5 281.9 309.5 280.8 M303.4 284.9 302.7 286.3 303.3 287.7 304.6 288.3 305.9 287.6 M303 296.1 301.8 295.2 300.3 294.9 M316.7 284.7 315.2 284.5 313.9 283.8 313.7 282.3 314.9 281.4 M309.2 284.3 307.7 284.1 306.3 283.7 M299.9 298.7 298.5 299.4 297 299.6 296.5 301 M315.2 284.7 313.8 285 312.3 285.4 310.8 285.7 309.4 285.2 M305.8 282.5 304.3 282.5 302.8 282.2 301.4 282.4 M305.3 293.1 306 291.7 305.5 290.3 304.2 289.6 M302.7 291.3 302.8 292.8 301.8 293.9 M298.8 279.7 297.6 280.5 296.1 280.8" stroke="#2e221b" stroke-width="0.9" fill="none" stroke-linecap="round"/>
<path d="M317.7 284.8 316.2 285.1 315 286 313.7 285.4 313.1 284 M299.4 275.4 300.1 274 300.2 272.5 299.8 271.1 300.4 269.7 M311 296.7 311 298.2 310.8 299.7 310.2 301 M299 271.5 297.5 271.5 296 271.5 M312 295.9 311.8 297.4 312.1 298.9 312.6 300.3 M308.4 298 307.4 299.1 305.9 299.4 304.5 300 M308.5 295.7 307 295.5 305.7 296.2 304.3 296.7 M310.5 296.3 310.7 294.8 309.7 293.7 308.2 293.4 M299.5 271.4 300.2 272.8 301.5 273.5 302.9 273 M304.5 290.3 304.3 288.8 305.4 287.7 306.6 286.8 M317.5 280.8 318.1 282.2 317.7 283.6 316.5 284.5 315 284.8 M302 288.1 301.5 289.5 300.1 290.1 M298.6 275.8 298.6 274.3 297.5 273.4 M297.8 290.3 297.3 288.9 296.8 287.5 297.1 286 M301 293.9 301.4 295.3 302.4 296.5 M308.6 296.8 307.8 298 306.3 298.4 304.8 298.6 303.3 298.4 M308.8 297 310 296 310.2 294.6 311.1 293.4 311.9 292.1 M301.6 283.9 300.2 283.4 298.8 283.7 297.4 284.2 295.9 284.6 M312.6 283.3 311.3 284.1 310 284.7 308.5 285.2 M304.4 275.7 302.9 275.5 301.4 275.7 300.1 276.5 M298.4 273.3 299.9 273.3 301.4 273.1 302.6 274.1 302.3 275.5" stroke="#3e3028" stroke-width="0.9" fill="none" stroke-linecap="round"/>
<path d="M316.2 293.6 317.2 294.7 318 296 317.8 297.5 M298 294.9 297.5 293.4 298.4 292.2 299.8 291.7 M317.9 283.6 319.2 282.8 320.4 282 M301.4 271 302 272.4 301.7 273.8 300.6 274.9 299.2 274.4 M305.4 269.2 305.4 267.7 304.4 266.6 M298.9 296.3 299.6 297.6 300.9 298.4 302.1 299.2 303.6 299.4 M309.2 301.1 308.1 302.1 308.4 303.6 309.7 304.3 M295.9 276.4 294.5 276.1 293 275.6 291.6 275.3 290.1 275 M298.1 269.8 299 271.1 300 272.2 301.5 272.1 M296.8 279.7 295.4 280 293.9 279.9 M311.8 285.7 312.5 287 312.6 288.5 M318.9 291.9 320 292.9 320.8 294.2 M299.2 275.1 297.9 274.2 296.8 273.3 295.4 272.7 M320.9 287.3 320.7 285.8 321.6 284.5 M301.7 271.3 302.6 270.1 304.1 269.9 305.6 269.9 M290.1 283.7 289.2 282.5 289 281 288.3 279.7 M307 282.1 307.7 283.4 308.6 284.6 309.3 285.9 M319.5 284.1 319 285.5 319.4 287 320.7 287.8 321.2 289.2 M305.6 284.8 305.4 283.3 304.4 282.1 303.4 281 302 280.7 M297.6 279.6 297.5 278.1 297.8 276.6 M303.1 286.3 304.4 285.4 304.7 284 303.6 282.9 M306.6 274.8 305.2 274.4 304.2 273.2 304.9 271.9 M301.9 281.4 303.3 280.9 304.7 280.5 M299.1 299.1 299.2 297.6 298.6 296.2 297.6 295.2 296.4 294.2 M302.9 293.9 301.5 293.4 300.1 292.7 298.9 292 M314.9 275.2 316.2 276 317.5 276.6 319 276.4 320.1 275.3 M304.7 272.6 304 273.9 303.1 275.1 M315.2 294 316.6 293.4 317.6 292.4 318 290.9" stroke="#36281f" stroke-width="0.9" fill="none" stroke-linecap="round"/>
<path d="M314.1 292.4 312.7 292.9 311.9 294.2 312 295.7 M304.6 272.6 303.2 272.9 301.7 272.9 M314.9 295.1 315.1 296.6 316.2 297.6 317.7 297.4 319.1 297.1 M298 270.3 299.5 270.4 300.5 271.5 M314.8 277.2 313.6 276.3 312.3 277 M306.3 280.4 307.5 279.5 308.9 279 310.3 278.7 M293.5 288.5 294.9 288.2 296.4 288.1 297.9 287.8 299.3 287.2 M310.7 272.5 312.1 271.9 313.6 271.7 M317.7 294.1 316.3 293.6 315.2 292.6 314.1 291.7 M310.9 272 312 271 313.5 271 314.3 272.3 M318.3 285.9 316.8 285.8 315.7 284.8 314.6 283.7 M316.2 273.3 317.2 274.4 317.4 275.9 317.1 277.3 316.9 278.8 M291.4 283 290.8 284.4 289.6 285.2 288.2 285.8 M301.8 278.7 303 277.9 303.8 276.6 305 275.6 M311.1 273 312.4 273.8 313.2 275 313.2 276.5 M309.9 287.9 310 286.4 310.9 285.2 M296.8 298.3 297.9 299.3 298.4 300.7 298.7 302.2 M293.3 279 293.8 277.6 293.8 276.1 293.1 274.8 292.4 273.5 M313.8 279 315.3 279.1 316.8 279.3 M294.2 281.1 295.6 280.8 296.9 281.5 298 282.5 M316.1 279 317.1 277.9 318.4 277.1 M302.6 283.7 301.7 284.9 301.9 286.4 300.8 287.4 299.3 287.4 M303.2 278.4 304.7 278.7 306.2 278.8 M303.6 268.4 302.1 268.2 301 269.1 300.1 270.4 M311.3 296.5 312.8 296.1 313.2 294.6 M299.9 292.5 300 291 298.7 290.1 297.2 290.3 296 291.2 M291.3 288.2 291.9 286.8 292.6 285.5 M311.2 298 309.7 298.1 308.4 298.9 306.9 299.1 305.4 298.8 M299.1 272 300.6 271.5 302 271.7 303.5 271.9 M307.9 279.7 308.3 278.2 308.4 276.7 309.5 275.7" stroke="#46342a" stroke-width="0.9" fill="none" stroke-linecap="round"/>
</g>
<path d="M263 287 264.5 287.3 266 287.3 M271 300 272.1 301 273.3 302 M277 317 276.7 315.5 276.1 314.2" stroke="#2c241c" stroke-width="1.2" fill="none" stroke-linecap="round"/>
</g>
<g clip-path="url(#clip5)">
<rect x="397" y="190.2" width="195.5" height="186" fill="url(#bg1)"/>
<circle cx="494.8" cy="287.8" r="98.3" fill="url(#rim5)"/>
<circle cx="494.8" cy="279.2" r="97.1" fill="url(#rim5)"/>
<circle cx="494.8" cy="279.5" r="94.7" fill="url(#cell5)"/>
<g fill="#f6f6f4" stroke="#b4b4b0" stroke-width="0.55" opacity="0.85"><circle cx="560.5" cy="305" r="0.9"/><circle cx="557.9" cy="313.7" r="0.9"/><circle cx="556" cy="322.7" r="0.9"/><circle cx="551.5" cy="327.5" r="0.9"/><circle cx="548.4" cy="334.8" r="0.9"/><circle cx="542.3" cy="341.8" r="0.9"/><circle cx="536.6" cy="346.2" r="0.9"/><circle cx="528.3" cy="355.1" r="0.9"/><circle cx="521.3" cy="357.4" r="0.9"/><circle cx="514.6" cy="361.2" r="0.9"/><circle cx="504.1" cy="362" r="0.9"/><circle cx="497.6" cy="363.1" r="0.9"/><circle cx="487" cy="364.1" r="0.9"/><circle cx="479.6" cy="362.5" r="0.9"/><circle cx="473.7" cy="359.8" r="0.9"/><circle cx="465.3" cy="359.2" r="0.9"/><circle cx="459" cy="353.2" r="0.9"/><circle cx="448.7" cy="347.3" r="0.9"/><circle cx="444" cy="341.2" r="0.9"/><circle cx="440.3" cy="336.6" r="0.9"/><circle cx="434.7" cy="329.9" r="0.9"/><circle cx="429.5" cy="321.9" r="0.9"/><circle cx="429.1" cy="313.8" r="0.9"/><circle cx="426.7" cy="303.8" r="0.9"/><circle cx="425.8" cy="288.8" r="0.9"/><circle cx="427.3" cy="279.9" r="0.9"/><circle cx="433.3" cy="265" r="0.9"/><circle cx="439.1" cy="257.9" r="0.9"/><circle cx="443.6" cy="249.9" r="0.9"/><circle cx="449.3" cy="245" r="0.9"/><circle cx="456.4" cy="238.4" r="0.9"/><circle cx="464.7" cy="234.1" r="0.9"/><circle cx="474.1" cy="232.9" r="0.9"/><circle cx="488.7" cy="229" r="0.9"/><circle cx="495.9" cy="229.9" r="0.9"/><circle cx="505.5" cy="229.8" r="0.9"/><circle cx="513.2" cy="232" r="0.9"/><circle cx="520.3" cy="233.7" r="0.9"/><circle cx="535.5" cy="242.7" r="0.9"/><circle cx="542" cy="249.4" r="0.9"/><circle cx="549.6" cy="256.9" r="0.9"/><circle cx="557" cy="271.4" r="0.9"/><circle cx="559.2" cy="277.9" r="0.9"/></g>
<path d="M546 190.2 L543.6 201" stroke="#d4d4d2" stroke-width="1.6" fill="none"/>
<path d="M546 190.2 L543.6 201" stroke="#9a9a98" stroke-width="0.8" fill="none" stroke-dasharray="1.5 1.5"/>
<path d="M543.3 202 L541.9 205.5" stroke="#2c2c2c" stroke-width="2.5" fill="none" stroke-linecap="round"/>
<path d="M541.7 206 l-0.5 2.2" stroke="#6a6a68" stroke-width="1" fill="none"/>
<path d="M566.7 321.9 l9.5 6.5" stroke="#ffffff" stroke-width="1.5" opacity="0.85" fill="none" stroke-linecap="round"/>
<g filter="url(#soft)">
<ellipse cx="502" cy="285.5" rx="24.3" ry="24.3" fill="#66482c" opacity="0.4" filter="url(#blur2)"/>
<path d="M525.6 285.5 L526.2 289.3 L523.8 292.6 L521 295.2 L520.5 298.9 L515.6 299.1 L514.7 302.9 L510.7 302.5 L508.5 305.5 L505.2 305.6 L502 302.2 L499.2 303 L496.4 302.7 L492.7 303.8 L489.1 303.2 L486.9 300.6 L484 298.6 L483.6 294.9 L481.2 292.3 L483.7 288.4 L481 285.5 L481.3 282.2 L480.2 278.4 L482.9 275.8 L486.8 274.5 L487.9 271.4 L489.5 268.2 L493.7 269.2 L496.1 267.4 L498.8 265.1 L502 266.1 L505.5 263.6 L508.4 265.9 L510.8 268.3 L513 270.4 L515.7 271.8 L516.5 274.9 L517.6 277.6 L522.5 278.9 L521 282.5Z" fill="#66482c"/>
<path d="M518.2 285.5 L521 288.5 L519.6 291.2 L517.1 293.2 L514.5 294.6 L513.5 297 L511.1 298 L507.8 297 L506.4 298.9 L504.2 299.5 L502 303.1 L499.2 303 L496.9 301.1 L493.5 302.1 L490.7 301.1 L490.8 296.7 L489.8 294.4 L486.7 293.3 L485.4 290.9 L484.8 288.2 L484.9 285.5 L484.5 282.7 L486.2 280.4 L488.6 278.7 L490.1 276.8 L491.1 274.6 L491 270.3 L493.9 269.6 L496.3 267.9 L499.3 268.4 L502 269.9 L504.2 271.8 L506.1 273 L508.1 273.5 L511.2 272.8 L513.1 274.4 L515.4 275.7 L518.8 276.9 L519.3 279.9 L522.1 282.3Z" fill="#3a2e26"/>
<path d="M505.6 303 504.9 304.3 504.4 305.7 503.8 307.1 502.7 308.1 502.3 309.5 502.7 311 503.7 312.1 504 313.6 M498.9 302.9 498.9 304.4 499.3 305.8 499.4 307.3 499.2 308.8 499 310.3 498.6 311.7 M518.3 291.6 519.8 291.5 521.3 291.6 522.8 291.8 524.1 292.6 524.7 293.9 525.7 295 526.3 296.4 M519.6 284.9 520.6 283.8 521.3 282.5 522.5 281.5 523.5 280.4 524.2 279.1 525.1 277.9 526 276.7 527.3 275.9 M501.4 266.5 501.9 265.1 502.2 263.6 502.9 262.3 503.1 260.8 503.1 259.3 502.8 257.8 501.6 256.9 500.2 256.5 498.8 257 M520.2 284.2 521.7 283.9 522.9 283.1 524.3 282.4 525.7 282.8 M485.7 277 484.9 275.7 484.1 274.5 483.9 273 483.5 271.5 483.4 270.1 483 268.6 M513.3 298.6 514.7 299 516.2 299.4 517.7 299.4 519.1 298.9 520.5 299.4 521.3 300.7 521.7 302.1 M484.5 293.8 483.5 295 482.8 296.3 482.2 297.7 481.3 298.8 480.6 300.2 479.7 301.4 479.2 302.8 M485.8 274.8 484.4 274.3 482.9 274.4 481.8 275.4 M505.6 268.8 505.2 267.4 505 265.9 505.1 264.4 504.7 263 504.1 261.6 M521.8 291.3 523.2 292 524.5 292.7 525.2 294 526 295.3 526.9 296.5 526.9 298 M487.7 299.8 486.7 300.9 485.9 302.2 485.4 303.6 485 305 M490.1 271.3 490.2 269.8 490.8 268.4 491.4 267.1 491.8 265.6 492.6 264.4 494 263.9 495.5 263.8 497 263.7 M499.3 265.6 499.2 264.1 499.4 262.6 500 261.2 501 260.1 501.4 258.7 M484.2 292.7 482.8 292.3 481.3 292.1 479.9 292.5 M486.4 278.8 484.9 278.8 483.4 278.6 481.9 279 481 280.2 480.6 281.7 480.4 283.1 480.2 284.6 479.8 286.1 M522.3 281.8 523.2 283.1 523.9 284.3 524.9 285.5 526.1 286.3 M495.1 269.8 495.9 268.5 497.3 268 498.7 267.5 500.2 267.3 501.7 267.1 502.9 266.2 504.2 265.4 M482 288.6 480.7 287.8 479.6 286.7 478.5 285.7 477.6 284.5 477.2 283.1 476.5 281.8 M518.2 297.3 519.3 298.4 519.8 299.7 520.8 300.9 521.4 302.3 522.2 303.5 522.7 305 M502.7 267 503.5 265.7 504.4 264.6 505 263.2 506 262.1 507.5 261.7 M521.6 284.6 523.1 284.8 524.6 284.7 526.1 284.6 527.6 284.3 529 284.5 M484 282.6 482.5 282.6 481.1 282.1 480.1 281 479.3 279.7 M517 293.9 517.8 295.2 517.5 296.7 517.4 298.2 M512.1 301.6 513.4 302.3 514.8 302.7 516.3 303.1 M500.6 266.3 500.8 264.8 501.3 263.4 502.5 262.5 504 262.2 505.4 262.5 506.9 262.9 508.3 263.4 M513.1 299.7 514.2 300.7 515.6 301.2 517.1 301.6 518.2 302.6 518.8 304 519.5 305.3 520 306.7 520.9 307.9 M518.1 292.6 519.6 292.7 521.1 292.8 522.6 292.9 524.1 292.9 M508.7 269.1 507.9 267.8 507.7 266.3 507.8 264.8 507.8 263.3 508.3 261.8 508.9 260.5 509.6 259.2 511 258.5 M490.9 268.3 490.4 266.9 490 265.4 490.3 263.9 490.8 262.5 491.4 261.1 492.4 260.1 493.5 259 494.8 258.3 496.2 257.7" stroke="#5e4228" stroke-width="0.75" fill="none" stroke-linecap="round"/>
<path d="M489.5 298.3 488 298.8 486.7 299.4 485.5 300.3 484.1 300.9 482.8 301.7 481.3 301.7 479.8 301.7 478.5 302.5 M519.9 287.8 521.3 288.2 522.8 288.1 524.3 288.3 525.8 288.1 527.2 288.6 M521.3 287.2 522.7 287.6 524.2 288 525.5 288.5 526.9 289.3 M519.1 293 520.1 294.1 521.2 295.1 521.6 296.5 521.4 298 520.7 299.3 519.9 300.6 M482 287.4 480.7 288.2 479.2 288.5 477.7 288.7 M506.7 302.1 507.5 303.4 508.5 304.4 509.1 305.8 510.2 306.9 511.4 307.8 M484.9 296.7 483.4 296.6 482.1 297.4 481 298.4 M494.1 304.9 492.9 305.7 491.8 306.7 490.6 307.7 489.5 308.6 488.5 309.8 487.3 310.6 485.8 310.8 484.3 311.1 M520.8 291 522.1 291.7 523.5 292.3 524.9 293 M513.2 302.9 512.5 304.2 511.1 304.8 509.6 305 508.4 305.8 507.3 306.9 506.4 308.1 505.3 309.1 504.2 310.2 502.9 310.8 M483.3 293.4 481.9 293.9 480.8 295 480.4 296.4 479.5 297.7 478.5 298.7 477.3 299.6 476.2 300.6 475.1 301.7 M513.3 298.8 514.5 299.7 515.8 300.5 517.3 300.8 518.8 301 520.1 301.7 M509.1 267 510.4 266.2 511.5 265.2 512.8 264.4 514.2 263.9 515.6 263.3 517.1 263.4 M493.9 270.7 492.7 269.8 491.7 268.7 491.4 267.2 491.2 265.7 491.1 264.2 491.4 262.8 491.5 261.3 491.4 259.8 M496.3 304.7 496.7 306.2 497.2 307.6 497.7 309 497.7 310.5 497.8 312 M513.5 303 514.4 304.2 514.9 305.7 515.2 307.1 516 308.4 517.1 309.5 517.9 310.7 518.9 311.9 519.7 313.1 520.8 314.1 M511.4 301.1 512.5 302 513.3 303.3 514.2 304.5 515.3 305.6 516.6 306.4 M521.2 289.8 522.1 290.9 522.9 292.2 523.7 293.5 524.2 294.9 M485.2 295.1 484.1 296 483.2 297.2 482.8 298.7 481.8 299.8 480.9 301 480.6 302.5 479.6 303.6 M485.4 288.3 484.1 287.4 482.8 286.7 481.4 286.3 479.9 286.6 478.4 286.9 M487.1 296.3 485.9 297.2 484.5 297.7 483 297.8 481.5 297.6 480.1 297.3 478.6 297.1 M483.9 290 482.5 289.6 481.5 288.4 481.1 287 480.9 285.5 481.1 284 M514.8 301.9 515.7 303 516.8 304 518.3 304.2 519.7 304.9 521.1 305.4 522.4 306.1 523.5 307.1 M496.8 269.3 497.3 267.9 498 266.5 498.2 265.1 497.5 263.7 496.8 262.4 496.4 261 M508.7 269.5 508.8 268 509 266.5 509.6 265.1 510.6 264.1 511.3 262.7 512.3 261.6 M515.3 271.7 516 270.4 517.3 269.6 518.8 269.6 520.2 269.1 521.7 268.8 522.7 267.7 523.7 266.5 524.7 265.4" stroke="#3e3028" stroke-width="0.75" fill="none" stroke-linecap="round"/>
<path d="M486.3 278.4 484.8 278.5 483.5 279.2 482.1 279.6 480.6 279.7 M485.1 288.7 483.6 288.9 482.3 288.2 481.3 287.1 481 285.6 480.4 284.2 M493 300.4 492.6 301.8 492.9 303.3 493.6 304.6 494.9 305.4 496.3 305.5 497.8 305.1 M515 270.8 516.1 269.8 517.4 268.9 518.6 268.1 M502.7 265.9 502.1 264.5 500.9 263.6 499.7 262.7 M484.2 275.7 483.3 274.6 482.3 273.4 481.2 272.4 480.8 271 479.9 269.7 478.8 268.7 477.5 268 M517.1 297 517.1 298.5 516.8 300 516.1 301.3 515 302.3 513.9 303.3 513 304.5 511.9 305.5 510.5 306 M501.9 264.6 501 263.4 500.4 262 499.2 261.1 497.9 260.5 496.6 259.6 495.3 259 M522.6 284.7 524 284.2 525.2 283.4 526.2 282.3 527.6 281.6 M484 275.6 483.9 274.1 483.7 272.6 483.8 271.1 484.4 269.8 485.1 268.4 485.9 267.2 486.1 265.7 486.7 264.3 M484.4 283.1 483.1 282.4 481.9 281.4 481 280.2 479.6 279.6 478.2 279.1 476.9 278.4 475.4 278.1 474 277.7 M512.4 299.4 512.1 300.9 511.7 302.3 511.3 303.8 511.4 305.3 M495.2 265.9 495.1 264.4 495.5 262.9 495.4 261.4 495.6 260 495.4 258.5 M519.8 275.7 520.6 274.4 520.6 272.9 520.3 271.5 520.1 270 519.3 268.8 518.2 267.7 M487 296.9 486.8 298.4 486.1 299.7 486 301.2 485.5 302.6 485.5 304.1 486.1 305.5 M520.8 285 522.3 285.2 523.7 284.6 524.8 283.5 526.1 282.9 527.5 282.3 M496.8 269 496 267.7 494.9 266.6 493.5 266.1 492 265.9 M492.1 300.1 490.7 300.6 489.2 300.6 487.9 299.9 486.4 299.6 485.1 300.2 483.6 300.6 482.3 301.3 M518.8 292.2 520.1 292.8 521.6 293.2 522.7 294.2 523.6 295.4 M484.3 284 482.9 283.8 481.6 283 480.1 282.5 478.6 282.4 M518.7 296.1 520.2 296.2 521.5 296.9 523 296.9 524.2 296 524.8 294.6 525.2 293.1 M516.9 272.3 517.9 271.2 519.2 270.4 520.7 270.6 522.1 271.1 523.6 271 525.1 271.4 526.5 271.9 M518.5 280.7 520 280.7 521.5 280.8 523 281 524.5 281.3 525.9 280.6 527.2 280.1 M483.7 293.4 482.5 294.4 481.7 295.6 481.2 297 480.3 298.2 479 299 478 300.2 476.9 301.2 475.8 302.2 474.3 302.5 M485.3 279 483.8 279.1 482.4 279.7 481.1 280.4 479.6 280.7 478.1 280.6 476.8 281.3 M502.8 265.4 503.1 263.9 503.4 262.4 504.4 261.3 505.5 260.3 506.7 259.4 507.9 258.5 508.9 257.4 M505.5 302.7 504.6 303.9 503.5 304.9 502.3 305.9 501.5 307.1 500.7 308.4 500 309.7 499.6 311.2 M483.8 278.9 482.8 277.7 481.5 276.9 480.4 275.9 479.2 275 478.3 273.9 477.1 273 475.9 272.1 474.4 271.8 M484.9 282.4 483.7 281.5 482.8 280.3 482.3 278.9 482 277.4 482.1 275.9 M496.9 303.1 496.2 304.4 494.8 305.1 493.7 306 492.3 306.6 490.8 306.6 489.4 305.9 M507.4 301.8 507.5 303.3 508.3 304.6 509.1 305.9 M484.3 281.1 483 280.4 481.7 279.7 480.3 279.2 478.9 278.6 477.7 277.7 M518.9 276.3 520.2 275.6 521.7 275.2 523.1 274.8 524.5 274.3 525.4 273.1 525.7 271.6 525.4 270.2 524.7 268.9 M494.4 303.4 494.3 304.9 494 306.4 493.3 307.7 492.7 309.1 491.7 310.2 490.7 311.3" stroke="#4a3a30" stroke-width="0.75" fill="none" stroke-linecap="round"/>
<path d="M521.1 285.6 522.2 284.6 522.5 283.1 522.7 281.6 522.1 280.2 521.9 278.7 521 277.5 519.5 277.1 M520.9 287.3 522.4 287.6 523.9 287.6 525.3 287.9 526.7 288.5 528.1 289.1 529.4 289.8 530.7 290.6 532 291.3 533.5 291.5 M482.4 284.4 480.9 283.9 479.5 283.6 478 283.9 476.5 283.7 475.1 283.4 473.7 284 M504.3 266.2 503.1 265.3 501.8 264.5 500.5 263.8 499.4 262.8 M496.6 268.9 496.4 267.4 496.1 266 496.2 264.5 497 263.2 497.2 261.7 496.9 260.2 497.2 258.8 M513.6 269.5 513.9 268 514.4 266.6 515.1 265.3 M518 278.5 519.3 279.4 520.7 279.9 521.9 280.8 522.8 282 523 283.5 M505.4 267.7 505.6 266.2 505.3 264.7 505.4 263.2 506.2 262 507 260.7 M488.9 298.1 487.6 298.9 486.1 299.1 484.8 298.5 M509.6 304.6 510.3 305.9 510.7 307.4 511.1 308.8 511.7 310.2 511.7 311.7 511.5 313.2 M485.1 283.3 483.6 283.4 482.1 283.8 480.6 283.9 479.2 284.4 477.8 284.7 476.3 284.5 M497.3 268.3 497.6 266.8 498.5 265.6 499.9 265.1 501.4 265.2 M486 274.9 484.9 273.8 484.1 272.5 484.2 271 484.8 269.6 485.8 268.5 M506.3 305.6 507.6 306.3 508.5 307.5 510 307.8 511.4 308.3 M521.9 288.3 523.4 288.2 524.9 288.3 526.4 288.1 527.9 287.8 M483.5 283.6 482 283.7 480.6 283.1 479.6 281.9 479.8 280.4 480.1 279 480.9 277.7 M482.1 280.1 480.6 280 479.1 279.7 477.7 280.1 476.5 281 475.5 282.1 474.8 283.4 473.7 284.5 M504.5 267.1 504.7 265.6 505.2 264.2 504.9 262.7 504.3 261.4 503 260.6 501.6 260.1 500.3 259.3 M514.3 272.5 515.6 271.8 517 271.2 518.3 270.5 519.8 270.3 521.1 269.5 522.5 269 M517.6 272.1 519.1 271.9 520.6 272.2 522.1 272.1 523.5 272.5 524.7 273.3 525.6 274.6 M484.3 293.8 482.8 293.6 481.7 292.6 480.3 291.9 M501 306.3 501.4 307.7 501.6 309.2 502.1 310.6 M484.8 283.2 483.5 282.3 482 282.4 480.6 282.7 479.1 282.9 477.6 283 476.1 282.6 474.7 282.4 M518.6 277.5 520 277.1 521.5 277.3 523 276.8 524.5 276.9 525.8 277.6 527.2 278 M508.3 305.3 508.9 306.7 510.1 307.5 511.6 308 512.9 308.6 514.4 309 515.7 309.8 517.1 310.1" stroke="#5a4430" stroke-width="0.75" fill="none" stroke-linecap="round"/>
<path d="M484.1 287.7 482.9 286.7 482.5 285.3 481.9 283.9 482 282.4 482.8 281.2 M485 289.5 483.5 289.5 482.1 289.2 480.9 288.2 480.1 287 479.7 285.5 479.8 284 480.1 282.6 M522.5 283.1 524 283.3 525.4 282.8 526.5 281.8 527.1 280.4 527.4 279 527.2 277.5 M492.4 301.9 491.8 303.2 491.8 304.7 491.9 306.2 491.5 307.6 490.6 308.9 M520.1 285.5 521.5 285.9 523 286.1 524.4 286.6 M511.4 268 512.3 266.8 513.4 265.8 514.8 265.3 516.2 264.7 517.4 263.9 518.4 262.7 518.6 261.2 M502.5 303.7 503.6 304.8 505 305.4 506.3 306.1 507.8 306.3 509.3 306.3 M520.7 294.9 522 295.6 523.2 296.5 524.7 296.5 525.8 295.4 526.8 294.3 527.6 293 M510 269.6 511 268.4 511.9 267.2 512.7 266 M519.9 289.8 521.4 289.9 522.8 289.7 524.1 288.9 525.2 287.9 526.6 287.2 527.5 286 528.8 285.3 530.3 285 M518.7 277.4 519.4 276.1 519.6 274.6 519.2 273.2 518.5 271.9 517 271.4 M515.4 298.6 516.2 299.8 516.4 301.3 516.1 302.8 516.2 304.3 517.1 305.5 518.5 305.9 519.9 306.5 M492.4 303.1 492.1 304.5 491.3 305.8 490.4 307 M513.7 269.3 514.9 268.3 516.3 268 517.8 268.3 519.1 269.1 520.5 269.6 521.8 270.3 523.1 271 M516.6 293.9 518 294.5 518.9 295.7 519.2 297.2 519.9 298.5 M520.3 283.6 521.7 283.7 523.2 284.1 524.7 284.3 526.2 284.2 527.7 284.1 529 284.7 M489.4 297.1 489.2 298.5 488.6 299.9 487.6 301.1 486.6 302.1 485.8 303.4 M500 305.1 500.3 306.6 500.5 308.1 500.8 309.5 501.8 310.7 502.3 312.1 M496.5 302.7 496.3 304.1 497.2 305.4 498.6 305.9 500.1 306 M520.8 278.3 522.3 277.9 523.8 278 525.3 278.1 M503.8 265.5 503.4 264 503.1 262.5 503.8 261.2 505.1 260.5 506.6 260.4 508.1 260.2 M482.4 289.6 481 290 480.1 291.2 479.9 292.7 M521.2 289 522.5 289.8 523.7 290.6 525.2 291 526.7 291 528.2 290.8 529.4 289.9 530.2 288.7 531 287.4 M485.6 272.9 485 271.6 484.9 270.1 485.5 268.7 486.7 267.9 488.2 267.6 489.6 267 490.7 266 M488.1 274.6 486.9 273.6 485.6 272.8 484.6 271.8 483.7 270.6 483.2 269.1 482.2 268 481.3 266.8 480.3 265.7 M483.4 286 481.9 286.1 480.4 286.4 479.1 287 477.8 287.8" stroke="#6a4c2c" stroke-width="0.75" fill="none" stroke-linecap="round"/>
<path d="M498.7 302.1 498.7 303.6 499 305.1 499 306.6 498.2 307.9 497.4 309.1 496.5 310.4 M488.4 298.9 486.9 298.7 485.4 298.7 483.9 298.8 482.4 298.7 480.9 298.8 M485.8 295.9 484.4 296.3 482.9 296.4 481.7 297.4 M508.7 269.9 509.1 268.5 509.7 267.1 510.3 265.7 511.1 264.5 511.8 263.1 511.9 261.6 511.3 260.3 510.9 258.8 M518.2 275.1 519.7 274.9 521.1 274.5 522.5 273.7 523.6 272.7 523.9 271.3 523.9 269.8 M486.1 275.5 484.9 274.6 484 273.4 483 272.3 M509.3 268.2 509.8 266.8 509.4 265.3 508.9 263.9 507.9 262.8 506.8 261.8 505.5 261 M498.8 303.3 498.3 304.7 498 306.2 498.1 307.7 498.2 309.1 M520.3 289.7 521.8 289.5 523.2 290.2 524.6 290.5 526.1 290.5 527.4 291.3 528.4 292.4 529.3 293.6 M499.3 268.2 498.7 266.8 498.5 265.3 497.4 264.3 496.2 263.4 494.7 263 493.4 262.2 M520.2 281.9 521.3 282.9 521.5 284.4 521 285.8 520.6 287.3 520.2 288.7 M520.6 293.4 521.6 294.5 522.7 295.5 523 297 523.5 298.4 524.2 299.8 M503.4 306.3 503.7 307.8 504.2 309.2 504.5 310.7 505.3 312 506.7 312.5 508.2 312.6 509.6 312.1 M489.7 272.4 488.2 272.2 486.7 272.2 485.2 272.1 M495.7 301.2 494.7 302.3 493.6 303.3 492.2 303.8 491 304.8 489.9 305.8 488.5 306.2 487 306.3 485.5 306.6 484.1 306.1 M494.1 304.2 493.2 305.4 491.9 306.2 490.5 305.8 M498.6 303.2 497.8 304.5 497.4 305.9 496.4 307 494.9 307.2 M514.4 269.3 515.9 269 517.3 268.8 518.8 268.3 520.3 268.3 521.7 268.1 M512.6 270.9 513.8 270 514.7 268.7 515.8 267.7 516.3 266.3 516.4 264.8 516.8 263.4 M502.4 305.8 503.2 307.1 504.4 307.9 505.6 308.8 506.7 309.8 508.1 310.4 509.6 310.5 M486.6 296.5 486.1 297.9 485.5 299.3 485.2 300.8 485.9 302.1 486.4 303.5 486.5 305 M483.4 276.9 481.9 276.9 480.4 277.1 479 277.7 477.5 277.6 476 277.3 M514.4 301.4 515.6 302.2 517 302.8 518.5 302.8 520 302.7 521.5 302.6 M521.3 281.4 522.8 281.6 524.3 281.5 525.8 281.9 527 282.7 528.1 283.7 529.5 284.3 530.7 285.1 M494.5 268.3 494.6 266.8 495.3 265.5 495.7 264 495.5 262.6 495 261.2 494.2 259.9 M498.4 306.2 498.4 307.7 498.4 309.2 499.1 310.5 498.9 312 498.1 313.2 M485.4 276.5 484.5 275.3 483.2 274.6 482.1 273.5 481.9 272 481.9 270.5 480.9 269.4 479.9 268.3 478.9 267.2 M517.4 278.5 518 277.1 517.6 275.6 516.8 274.4 515.5 273.6 514.1 273.2 512.7 272.5 M515.2 301.2 516.4 302 517.5 303.1 518.4 304.3 519.4 305.4" stroke="#86663f" stroke-width="0.75" fill="none" stroke-linecap="round"/>
<path d="M484.4 291.7 483.4 292.9 482.7 294.2 482.6 295.7 482 297.1 481.4 298.5 481.1 300 480.2 301.2 478.9 301.8 477.4 302.3 M485.4 273.1 485.4 271.6 485.7 270.2 485.8 268.7 485.4 267.2 485 265.7 485 264.2 484.4 262.9 483.4 261.8 482.1 260.9 M514.4 269.5 514.9 268.1 514.8 266.6 514.6 265.1 513.4 264.2 512 263.9 510.6 263.3 509.1 263 507.6 262.8 M512.9 300.7 514.4 300.6 515.9 301 517.1 301.8 M513 268.9 514.1 267.9 515.6 267.5 517 267.1 518.2 266.2 519.2 265 519.8 263.7 M516.9 295.8 518.1 296.8 519.2 297.8 520.3 298.8 521.7 299.3 M492 271.9 491.3 270.6 490 269.8 488.7 269.1 487.3 268.4 486.2 267.4 486.2 265.9 485.9 264.5 M513.4 303 514 304.4 514.2 305.8 514.5 307.3 514.7 308.8 515 310.3 515.2 311.8 516 313 M489.8 273.9 488.4 273.3 487.3 272.2 486.2 271.2 485.2 270.1 M502.1 304.5 502 306 502.8 307.3 503.7 308.4 M504.6 266.1 505 264.7 506.2 263.7 507.1 262.6 508.4 261.8 M518.2 290.8 519.7 291.2 521.1 290.8 522.6 290.8 M485.4 293.8 483.9 293.6 482.5 293.2 481.2 292.4 M510.6 269.3 510.7 267.8 509.9 266.5 509.5 265.1 508.9 263.7 508.5 262.3 508.7 260.8 509.7 259.7 510.8 258.7 M504.9 268.3 505.2 266.8 504.8 265.4 504.7 263.9 505 262.4 505.2 260.9 505.1 259.4 505.2 257.9 M496.2 265.9 494.9 265.1 493.9 263.9 492.6 263.3 491.2 262.8 489.9 262 488.7 261.1 487.8 259.9 M491.9 269.2 491.4 267.8 490.6 266.5 490.5 265 490.5 263.5 M509.1 301.7 510.3 302.6 511.1 303.9 511.3 305.3 511.4 306.8 511.4 308.3 511.7 309.8 512.3 311.2 513.4 312.1 M495.3 269 494.7 267.6 493.6 266.7 492.1 266.3 490.7 265.9 489.2 265.6 487.7 265.3 486.2 265.5 484.8 265.8 M497 268 495.9 267.1 494.5 266.4 493 266.4 491.6 266 490.2 265.3 488.8 264.9 487.3 264.7 M489.8 298.2 489.4 299.7 489.1 301.2 488.8 302.6 488.4 304.1 488.2 305.6 487.7 307 M520.6 279.1 521.9 278.4 523.2 277.6 524.7 277.7 526.2 277.9 527.4 278.8 M518.5 276.8 519.8 276 521.2 275.6 522.7 275.2 524.1 275.5 525.6 275.4 527.1 275 528.5 274.6 M485.8 280 484.3 279.9 483 279.2 481.5 279 480.2 278.2 478.8 277.7 478 276.5 477.2 275.2 476.6 273.8 476.2 272.4 M508 302.7 509.2 303.6 510.6 303.9 512.1 304 513.6 304.5 515.1 304.5 M488 275.9 486.8 275 485.6 274.1 484.1 273.9 M489.5 270.9 489.6 269.4 489.3 268 489 266.5 488.5 265.1 487.3 264.1 486.7 262.8 485.6 261.8 M487.4 271.6 486.5 270.4 485.2 269.8 483.9 269.1 482.4 269.3 M498.4 304.1 498.3 305.6 498 307.1 497.8 308.6 496.8 309.7 496 311" stroke="#7a5a36" stroke-width="0.75" fill="none" stroke-linecap="round"/>
<path d="M497.9 284.8 499.4 285 500.7 285.7 502.1 286.1 503.5 286.8 M495.5 283.5 494.1 283.9 492.8 283.1 M508.2 280.1 509.6 279.6 511 279.1 512 278 512.8 276.8 M487.1 276.6 488.1 277.7 489.6 278 M505 299.3 506.4 298.9 507.1 297.5 507.1 296 M508.1 268.1 507.8 269.5 507.4 271 508.3 272.2 M505.1 285.1 503.8 285.7 502.8 286.9 M498.2 305.3 499.6 306 500.8 306.9 M493.4 292 493.6 290.5 494.1 289.1 495.2 288 495.3 286.5 M500.3 275.1 501.8 275.3 503.2 274.9 M497.6 274.7 497.4 276.2 496.7 277.6 495.6 278.6 M497.9 287.5 499.4 287.7 500.2 289 501.2 290.1 501.6 291.5 M500.3 279.1 498.9 278.5 497.4 278.9 496.1 279.6 M484.6 275.2 484.6 276.7 484.2 278.2 M490.4 300.3 489.8 298.9 490.3 297.6 491.8 297.1 493.3 297.1 M501.6 290.4 502.7 289.3 504 288.7 505.5 288.7 M511.7 296.9 513.1 297.6 514.4 298.3 M501.2 284.4 500.1 283.3 498.9 282.5 M502.3 272.8 501.4 271.6 500 271.3 498.5 271.4 497 271.7 M508 303.1 506.7 302.3 505.8 301.1 504.9 300 M484.8 296 483.4 295.4 481.9 295.6 480.5 295.1 479.3 294.1 M504.5 275.6 504.8 277 506.2 277.6 M499 269.1 500.5 269 502 269.1 M510.4 290.8 508.9 290.7 507.4 291 506 290.7 504.7 289.9 M494.3 299.2 494.2 297.7 495.2 296.6 496.6 296 M495.7 268.5 494.5 269.4 493.9 270.8 493.5 272.2 M514.1 276.1 513.7 277.6 513.4 279 M495.5 292 494.1 291.8 492.6 291.3 M495.9 279.2 494.7 280.2 493.3 280.8 491.9 280.4 M508.9 285.9 508.5 284.4 507.4 283.4 506.9 282 M492 271.3 492.7 270 493.6 268.8 494.8 267.9 M498 273.8 496.5 273.8 495.1 273.4 M496 271.3 495.7 272.8 494.3 273.4 M519.4 295 519.5 296.5 519.5 298 520.2 299.3 M490.2 294.2 489.2 293.1 487.8 292.5 486.7 293.4 M505.6 275.8 504.8 277 504.3 278.5 503 279.3 501.5 279.2 M516.6 293.3 515.3 292.6 514 291.8 512.5 291.8 M498.9 265.6 500.1 264.7 500.1 263.2 M496.1 285.4 497.4 284.7 498.9 284.6 500.1 285.5 501.1 286.6 M517.5 290.5 518.7 289.6 519.4 288.3 520.1 287 M499.2 299.1 500.7 299.2 502.1 298.7 M498.8 286.3 500.3 286 501.8 286.2 503.3 286.1" stroke="#584232" stroke-width="0.9" fill="none" stroke-linecap="round"/>
<path d="M493.3 281.8 494.7 282.2 495.1 283.7 495.6 285.1 M493 282.6 494.1 283.7 495.3 284.5 495.7 285.9 M511.8 280 510.4 279.6 509.5 278.4 508.9 277 M495.4 268.1 495.9 266.7 496 265.2 495.7 263.7 495.6 262.2 M517.4 288.1 516.6 289.3 515.6 290.4 515 291.8 514.5 293.2 M511.5 287.2 512.2 288.5 511.8 289.9 M510.6 302.4 509.2 302.7 507.9 303.4 506.6 304.3 M502.4 301.1 502.2 302.6 502.8 304 503.8 305.1 504.3 306.5 M518 282 519.4 281.4 520.7 280.8 M495.7 269.8 494.2 269.7 492.9 269 M498.2 299.8 499.4 300.6 499.6 302.1 499.2 303.6 497.7 303.9 M493.7 280.4 495.2 280.6 496 279.4 497.3 278.7 M517.4 277.5 518.5 278.5 519.2 279.8 M488.9 276.8 487.6 277.7 487.1 279.1 M495.3 283.2 496.7 282.8 497.7 281.6 499 280.9 500.5 280.6 M499.3 301.8 499.5 303.3 500.1 304.7 500.5 306.1 500.3 307.6 M517.7 296.1 518.3 294.7 519.6 293.9 521 293.4 M496.7 304.9 497.9 304.1 499.4 304.4 M488.7 289.5 489 288.1 489 286.6 M501.1 295.6 500.7 297.1 500.2 298.5 500.7 299.9 M505.4 305 506.7 305.7 508.2 305.5 509.3 304.4 M491.9 284.2 492.9 283 494.1 282.1 M515.8 270.9 517.2 270.4 518.2 269.2 518.9 267.9 519.5 266.6 M487.6 278 488.2 276.7 489.3 275.6 490.8 276.1 492 276.9 M495.2 303.3 494.2 302.2 493.1 301.1 492.2 299.9 491.1 298.8 M498.1 266.8 496.7 267.3 495.5 268.2 M495.3 280.6 494.4 281.8 493.3 282.8 M495.5 270.2 496.2 268.8 497.2 267.7 M502.3 267.3 501.6 266 501.2 264.6 M511.3 279.3 509.8 279.1 509 277.8 509.4 276.4 M503.8 267.6 505 266.7 506.3 267.6 506.8 269 505.9 270.2 M507.6 267.7 507.7 269.2 506.9 270.5 505.5 271 M484.4 287.2 482.9 287.5 481.4 287.4 480 287.2 478.6 286.6 M512.1 300.8 511.5 302.2 510.3 303.1 508.9 303.7 M496.6 280.9 497.7 279.9 499.1 279.3 500.6 279.3 M499.7 293.9 501 294.7 502 295.8 503.4 296.3 504.8 296.8 M512.1 296 512 294.5 511 293.3 M500.4 295.5 501.4 296.6 501.3 298.1 M486.7 274.8 485.8 276 484.4 276.6 M511.1 272.3 510 271.3 508.7 270.6 M496.9 267.7 495.6 268.4 494.2 268.9 M486.5 273.9 485.5 272.9 484.6 271.6 483.3 270.9" stroke="#3e3028" stroke-width="0.9" fill="none" stroke-linecap="round"/>
<path d="M506.8 281.7 507.1 283.2 508.2 284.2 509.6 283.7 M519.9 291.9 519.4 293.3 518.8 294.7 518.9 296.2 517.7 297 M505.4 297 504.2 296.1 503.3 295 502.5 293.7 501.7 292.5 M483.3 277.7 484 279.1 485.1 280.1 486.3 280.9 M507.1 270.4 505.6 270.7 504.3 271.5 503.9 272.9 M483.5 278 484 279.4 485.3 280.2 486.8 280 M484.3 280.5 485.7 280.8 486.7 281.9 M507.1 277.2 508.5 276.7 509.6 275.7 M515.5 279.7 516 281.1 516.6 282.4 M511.6 299.1 510.2 299.6 509.9 301.1 M506.5 303.2 507.3 304.5 508.2 305.7 M506.1 281.6 507.4 282.4 508.8 283 510.2 282.5 510.8 281.1 M488.1 272.9 486.8 272.1 486.8 270.6 487.7 269.4 M506.2 285.6 506.3 284.1 507.3 283 M508.2 299.6 509.5 300.4 511 300.1 511.9 298.9 M497.2 292.3 497.2 293.8 495.9 294.6 494.5 294.3 493.1 293.7 M501.8 275 501.6 273.5 501.6 272 M491.5 292.4 492.9 291.8 494.1 290.9 M494.9 269.1 496.4 268.7 497.3 267.5 M506.2 300.7 507.4 301.7 508 303.1 M498 281.7 496.5 281.7 495.1 282.3 493.9 283.2 492.6 283.8 M482.7 289.7 481.2 289.5 480.1 288.5 M516.1 288.2 517.6 288.3 518.9 287.6 M509.7 269 508.2 268.6 506.8 269 505.3 269 503.8 269.4 M508.5 279.1 510 279 511.5 279.1 M519.9 293.9 518.9 294.9 519.2 296.4 519.6 297.9 521 298.4 M505.4 287.1 504.6 285.8 504.4 284.4 504.9 283 M521.3 284.5 522.7 284.8 524.1 285.5 525.4 286.1 M509.8 281.4 509.8 282.9 509 284.1 507.5 284.4 506 284 M497.6 297.1 497.1 298.5 496.5 299.8 M504.9 297 506.2 297.7 507.6 298.4" stroke="#624a36" stroke-width="0.9" fill="none" stroke-linecap="round"/>
<path d="M510 301.4 508.9 300.3 507.4 300.3 M515.4 294.8 515.5 293.3 515.5 291.8 M499.3 277.4 500.4 278.5 501.5 279.4 M515.8 286.1 514.3 286.1 512.8 285.7 511.5 285 M513.4 300.5 512.2 299.6 511.6 298.2 511.8 296.8 511.6 295.3 M493.5 287.3 493.2 288.8 493.9 290.1 495.3 290.6 M506.3 290.9 506.9 292.3 507.5 293.7 M493.9 294.8 494.1 293.3 494 291.8 492.6 291.2 M514.5 300.1 515.9 299.5 515.9 298 515.1 296.7 M487.2 286.9 486.4 285.6 485.6 284.3 M518.8 297.1 520.3 297.2 520.6 298.7 519.7 299.9 M514.2 286 513.8 284.6 513.1 283.2 M502.5 293.8 503.8 293.1 504.4 291.7 505.9 291.4 M499.7 298.1 500.8 297 501.7 295.8 M507.7 272.1 506.8 270.9 507.5 269.6 M498.8 273.5 497.9 274.6 496.4 274.7 495.4 273.6 495.8 272.2 M518.6 289.3 518.7 287.8 518.4 286.3 518 284.9 M496.9 268.9 495.4 268.9 494 269.4 492.6 268.9 492.6 267.4 M495 297.7 493.9 296.7 493.5 295.2 M489.2 301.2 490.4 302.1 491.5 303.1 492.9 303.6 494.3 303 M502.7 299.8 501.2 299.6 499.9 298.8 498.6 298.1 M521.3 279.8 522.8 280 524.1 280.6 525.3 281.5 526.5 282.4 M508.2 298.6 509.5 299.2 511 299.3 M507.9 297.8 507.9 296.3 507.5 294.9 M492.8 276.8 492.9 278.3 492.3 279.7 491.2 280.7 489.9 281.3 M507.9 278.7 506.9 277.6 506.1 276.3 M500.2 301.9 499.4 303.2 499.2 304.7 499.5 306.2 M510.2 273.4 511.5 274.2 512.9 273.7 M495.7 296.7 496.5 298 497.4 299.2 M490.9 299.4 490 298.1 488.5 297.8 M483.8 289.9 485.3 290 486.6 289.2 M516.7 293.9 517 295.4 516.8 296.8 516.8 298.3 517.5 299.7 M487.6 298.7 487.4 297.2 485.9 296.9 M489.4 291.8 490.6 290.9 491.4 289.6 490.5 288.4 M491.7 271.1 492.2 269.6 493.3 268.6 M510.4 290 511.7 290.8 512.8 291.8 M489 293.6 488.8 292.2 488.2 290.8 M492.3 289 491.8 290.4 492.6 291.7 493.9 292.3 M503.8 289.8 503.9 291.3 503.4 292.7 502 293.4 500.5 293.4" stroke="#2e221b" stroke-width="0.9" fill="none" stroke-linecap="round"/>
<path d="M504.5 301.6 505.7 302.5 506.8 303.5 508.2 304.1 M509.5 284.2 508.1 284 506.7 283.3 505.2 283.2 M488.3 278.1 487 278.7 485.7 279.5 M485.7 280.7 484.9 279.5 483.5 278.8 M512.7 300.1 511.4 299.3 510.1 298.6 M490.1 292.6 491.5 293.1 492.1 294.5 M490.8 273.1 490.9 271.6 491.5 270.2 492.2 268.9 493.2 267.8 M506.7 270.9 508.2 270.6 509.7 270.8 511.2 271.2 M514.8 279.3 514.9 277.8 513.9 276.7 M501.2 275.9 501.6 274.4 502.8 273.5 M507.5 282.9 506.5 281.8 506.3 280.3 506.3 278.8 M520.5 285.4 521.9 285 523.4 285.3 524.6 286.2 M483.8 288.2 482.3 288.3 481.1 287.5 479.7 286.8 478.4 286.1 M487.7 299 488.9 300 489.8 301.2 490.2 302.6 490 304.1 M502.2 280.2 500.7 280.1 499.4 279.4 499.1 277.9 M488.9 290.5 489.4 289.1 490.5 288.1 M519.2 280.1 520.4 281 521.8 280.9 M501.9 283 502.2 284.5 502.5 286 502.3 287.5 M494.7 273.1 493.3 273.4 492.1 274.3 491.6 275.7 491.7 277.2 M507.1 290.7 506.4 292.1 505.8 293.5 506.5 294.8 506.1 296.3 M489.6 291.4 488.2 291.8 486.7 292.2 485.2 291.9 484 291.1 M502.7 268.1 501.3 268.7 500.5 269.9 M503.3 279.9 504.8 280.2 506.2 280.6 M489.4 288 489.4 286.5 489.2 285 M518.4 286.5 518.9 287.9 519.3 289.4 M494.4 285.4 495.5 286.4 497 286 M502.1 296 501.1 294.9 500.1 293.8 499.4 292.4 500.3 291.2 M495 294.1 496.4 293.6 497.4 292.5 497.4 291 M503.6 295 504.7 296 506 296.7 507.1 297.7 508.6 297.6 M497.9 298.3 499.1 299.2 499.1 300.7 M485 274.7 484 275.8 482.8 276.8 482 278 480.9 279.1 M487.5 289.8 488.9 290.2 490.4 290.4 491.4 291.5 490.6 292.8 M483.2 291.8 483 293.3 483.4 294.7 M517.4 276.4 516 276.1 514.5 276.3 513.5 277.4 M492.7 298.2 491.2 298.3 489.9 298.9 M496.9 268.9 498.4 268.4 499.6 267.5 500.9 266.9 M486.8 276 488.2 275.5 489.4 274.5 M518.8 274.3 517.4 274.8 515.9 275.1 M501.3 273.8 500.7 275.2 500.2 276.6 M503.8 272.4 503.4 271 501.9 270.5 500.4 270.6 M518.1 290.4 518.6 291.7 520.1 292.1 521.6 292 523 291.6 M507.5 267.7 509 267.6 509.7 266.3 508.6 265.2 507.1 265 M510.3 296.2 511.7 295.9 513.2 295.6 514.6 296.3" stroke="#3a2c24" stroke-width="0.9" fill="none" stroke-linecap="round"/>
<path d="M500.2 305.4 499 306.3 497.5 306.1 M522.3 286.9 521.8 288.3 522.8 289.5 523.4 290.8 M516.5 286.4 515.1 286.9 513.8 286.2 513.2 284.8 513.2 283.3 M500.9 300.4 499.6 299.7 498.2 299 M494.4 272.4 495.6 273.4 497 273.8 498.5 273.6 499.9 273 M482.8 288.9 481.3 289 480.2 287.9 479.9 286.5 481.1 285.5 M495.8 304.4 495 305.6 494.1 306.9 493.9 308.4 M495.4 301.9 496.5 302.9 497.6 303.9 M494.9 300.2 495.1 298.8 494.7 297.3 M494.8 298.7 496 297.7 497.4 298.1 498.7 298.9 M496.6 299.6 497.9 299 499.4 298.8 500.9 299.2 502.2 300 M509.3 278.3 510.3 279.5 511 280.8 M503.1 295.1 504.4 294.3 505.6 293.5 507 292.9 508.5 293.2 M501.4 283.7 500.4 282.6 500.4 281.1 501.6 280.2 M512.1 295.2 510.6 294.8 509.3 295.3 508.2 296.4 506.9 297.2 M515.7 277.9 515.4 276.5 515.9 275 516 273.5 M518.4 277.3 517 277 515.6 276.3 M502.4 284.1 503.9 283.9 505.4 284.3 M483 286.1 483.7 284.8 484.9 283.8 486.3 283.3 487.8 283 M492.9 285.5 494.2 286.2 495.5 286.9 497 286.7 498.5 286.4 M512.1 274.4 511.3 275.7 509.8 275.7 509.1 274.4 M515.8 282.3 514.4 281.7 512.9 281.5 511.6 282.2 M510.8 299.5 512.2 300.1 513.3 301.1 M498.3 296.4 499.7 296.6 501.2 296.5 M509.8 273 508.3 273.2 507 274 505.8 274.8 M504.9 271.7 505.2 270.3 505.6 268.8 506 267.4 504.9 266.3 M498.7 266.2 498.9 267.7 500.1 268.5 501.5 268 502.2 266.7 M500.6 266.4 500.7 267.9 501.5 269.2 503 269.6 M495.3 293.2 494.1 294 492.6 294.1 M508.2 285.2 507.3 284 506 283.3 504.5 283.2 503.2 284 M499.5 298.3 498.8 297 497.5 296.1 496 295.9 494.8 295.1" stroke="#36281f" stroke-width="0.9" fill="none" stroke-linecap="round"/>
<path d="M495.2 284.3 493.7 284.4 492.2 284.6 491 285.5 M498.4 270.6 498.5 269.1 499.2 267.8 499.9 266.4 499.9 264.9 M495.3 285.7 494.1 286.7 493.2 287.8 492.8 289.3 M503.3 305.2 502.4 306.4 501.1 307.2 500.2 308.4 M486.5 298 486.4 299.5 486.9 300.9 486.6 302.4 486.4 303.8 M486.3 286.6 484.9 287.2 483.5 287.7 482.2 288.4 480.8 288.9 M504.5 278.7 504.4 277.2 504.4 275.7 M497.8 268.6 497.6 267.1 497 265.7 M488.5 279.6 487.9 281 486.8 281.9 486.7 283.4 486 284.7 M506.2 293.8 505.5 292.5 506 291.1 M504.8 292.8 503.3 293 501.9 293.6 501.1 294.8 M498 284.4 498.5 283 498.9 281.5 499.2 280 499.7 278.6 M508.8 284.9 509.2 286.4 509.3 287.9 509.9 289.2 509.6 290.7 M512.7 297 513.8 296 515.2 295.7 M498.3 287 498.1 285.5 497.2 284.3 M500.6 267.5 500.4 266.1 501.4 265 M502.7 290.8 502.9 292.3 501.9 293.4 500.4 293.3 M515.3 289 514.9 287.5 513.6 286.8 M494.1 294.8 495.5 294.4 496.4 293.2 M490 298.6 491.5 298.9 492.6 297.9 M486 284.5 484.5 284.8 483.2 285.5 481.9 286.2 M517.1 295 515.8 295.8 514.3 296.2 513.2 295.2 M506.1 304.3 506.3 302.8 505.8 301.4 505.3 300 M489.5 295.7 488 295.5 486.5 295.4 485.2 296.1 483.7 296.5 M499.2 283 500.2 284.1 500.4 285.6 M498.8 298.1 500.1 297.4 501 296.1 501.2 294.6 500.5 293.3 M492.7 284.7 494 285.5 494 287 M513.8 296.2 515 297.1 516.4 297.5 M514.5 276.8 516 277 517.5 277.1 M487 272.3 485.7 271.7 484.2 271.8 482.9 272.6 M497.1 299.5 497.8 300.9 499 301.8 500.4 302.1 501.9 301.7 M503.2 270.1 502.2 268.9 500.8 268.5 499.3 268.3 M508 286 509.4 286.4 510.8 287.1 511.7 288.2 511.5 289.7 M495.9 276.9 495 278.1 495.2 279.6 496 280.9 M512.1 294.4 513.6 294.3 515 294.9 M488.8 288 487.7 289 486.4 289.7 484.9 289.9 M518.1 282 516.6 282.5 515.3 283.2 514.2 284.2" stroke="#4e3a2c" stroke-width="0.9" fill="none" stroke-linecap="round"/>
<path d="M521.5 289.7 522.1 288.4 523.1 287.3 522.9 285.8 M497.2 299.5 498.3 298.5 499.7 298.1 501.2 297.8 M498 293 497.5 291.6 498.3 290.3 499.7 289.6 501.2 289.5 M517.3 280.9 516 281.6 514.5 281.9 M495.8 271.6 495 270.3 493.6 269.7 492.2 269.2 M497.5 279.7 497.5 278.2 496.2 277.5 495.4 276.2 M508 290.1 509.4 289.4 510.7 288.7 511.6 287.5 M488.2 293.1 489.7 293.1 491.2 293.4 492.6 293.7 M512 288.1 510.5 288.1 509.2 287.2 508.7 285.8 M508.3 297.2 506.9 296.5 505.4 296.6 504 296.3 M511.5 301.9 512.9 302.4 514.2 303.2 513.9 304.6 512.8 305.6 M514.9 274.8 515.8 273.6 516.1 272.1 516.3 270.6 M503.4 281.4 502.1 282 500.9 282.9 500.6 284.4 501.1 285.8 M501.3 267 500.6 268.3 499.2 268.8 M496.3 302.7 496 301.2 496.4 299.8 495.2 298.8 M510.9 270.8 511.5 269.4 511.7 267.9 512.2 266.5 M506.8 292.7 505.7 291.6 505.9 290.1 506.6 288.8 505.9 287.5 M509.9 298.7 511.4 298.5 512.4 299.6 512.9 301 M505.3 301.4 506.8 301.2 507.5 299.9 M511.1 283.8 510.6 282.4 509.4 281.5 M504.7 271.4 505.7 272.4 506.7 273.6 507.1 275 506.8 276.5 M488.1 289.6 487.2 288.4 487.5 286.9" stroke="#6c543c" stroke-width="0.9" fill="none" stroke-linecap="round"/>
<path d="M518.7 294.4 520.1 294.8 521.2 295.8 M506.5 298.4 507.5 299.6 507.6 301.1 506.3 301.8 504.8 301.8 M493.3 276.7 492.7 275.3 492.3 273.9 M503.7 271.8 502.2 271.9 500.7 271.8 499.2 272.2 M484.4 285.9 485.2 284.6 486.3 283.6 487.8 283.3 M517.2 291 518.2 289.8 519.7 289.7 521.2 289.6 M514.4 297.7 513.6 298.9 512.5 300 512.7 301.5 M512.7 274.2 511.6 273.2 511.2 271.8 510.7 270.4 M498.8 279.6 499.7 278.5 500.6 277.2 500.7 275.7 499.6 274.7 M498.2 271.2 498.9 272.5 498.7 274 M504.6 267.1 504.6 265.6 503.7 264.4 502.7 263.2 M499.8 279.3 498.9 278.1 498.7 276.6 499.1 275.2 M490.7 273.9 492.1 273.3 493.5 272.8 494.8 272 496.3 272.2 M499.6 291.7 499.3 293.2 500.1 294.4 500.2 295.9 499.9 297.4 M490.1 289.7 490.6 291.1 489.7 292.3 488.3 293 M513.3 284.6 512.5 283.3 511.6 282.1 511 280.7 511.1 279.2 M504.2 273.8 503.2 272.6 502.3 271.4 502.2 269.9 M500.1 274.7 500 276.2 500.4 277.7 501.1 279 M514.4 270.7 514.3 272.2 513.4 273.4 511.9 273.4 M509.2 286.3 510.2 287.4 510.7 288.8 M500.9 290.1 501.4 291.5 502.1 292.9 M519.3 294 520.3 295.1 521.2 296.3 M512.3 298.6 512.1 297.1 511.1 296 M519.2 290.5 520.1 289.2 520.5 287.8 520.2 286.3 519.3 285.1 M502.7 292.3 504.2 292.2 505.7 292 M503.8 287 502.5 286.4 501 286.4 499.7 287.3 M512.9 281.6 513.9 282.8 514.2 284.2 M512.5 285.3 513.2 286.7 514.2 287.7 515.7 288.2 516.8 287.2 M509.1 267.4 508.1 268.6 507.3 269.8 M507.4 294.4 505.9 294.7 504.8 295.7 504.6 297.2 505.9 298 M515.1 291.6 513.8 290.8 512.6 291.7 M508.8 292.3 510.3 292.6 511.7 293.1 513.2 293 M496.4 271.3 497.7 272 499.2 272 500.7 271.5 502 270.9 M490.9 302.2 489.9 301.2 489.1 299.9 488.6 298.5 M486.7 274.3 486.1 273 485.4 271.6 485.1 270.1 M508.2 276.9 508.3 275.4 509.6 274.7 511.1 274.5 511.7 273.1 M485.1 288.1 485.3 289.5 486.4 290.5 487.7 291.4 M499.3 299.3 500.8 299.3 502.3 299 503.4 297.9 M500.3 296.3 499.5 295 499.5 293.5 500.8 292.7 502.3 292.7 M506.4 280.6 505.3 279.6 504.4 278.3 503.5 277.2 502 276.8 M507.7 276.6 508.1 275.1 508 273.6 M512.3 289.3 513 288.1 513.3 286.6 M498.9 274.9 499.6 273.6 499.8 272.1 499.2 270.7" stroke="#46342a" stroke-width="0.9" fill="none" stroke-linecap="round"/>
</g>
<path d="M463 291 462.9 289.5 462.3 288.1 M483 334 484.4 333.4 485.9 333.2" stroke="#2c241c" stroke-width="1.2" fill="none" stroke-linecap="round"/>
</g>
<g clip-path="url(#clip6)">
<rect x="2.3" y="379.6" width="194.6" height="185.2" fill="url(#bg2)"/>
<circle cx="99.6" cy="477.2" r="98.3" fill="url(#rim6)"/>
<circle cx="99.6" cy="468.6" r="97.1" fill="url(#rim6)"/>
<circle cx="99.6" cy="468.9" r="94.7" fill="url(#cell6)"/>
<g fill="#f6f6f4" stroke="#b4b4b0" stroke-width="0.55" opacity="0.85"><circle cx="166.5" cy="485.7" r="0.9"/><circle cx="165.5" cy="493.9" r="0.9"/><circle cx="164.5" cy="503" r="0.9"/><circle cx="160.3" cy="511.7" r="0.9"/><circle cx="156" cy="518.4" r="0.9"/><circle cx="153.2" cy="524.8" r="0.9"/><circle cx="147.2" cy="532" r="0.9"/><circle cx="142.8" cy="538" r="0.9"/><circle cx="134.4" cy="544.4" r="0.9"/><circle cx="126.4" cy="545.8" r="0.9"/><circle cx="118.2" cy="551.7" r="0.9"/><circle cx="109.6" cy="552.2" r="0.9"/><circle cx="95.9" cy="554" r="0.9"/><circle cx="85.7" cy="552.5" r="0.9"/><circle cx="76.3" cy="549.3" r="0.9"/><circle cx="69.1" cy="546.4" r="0.9"/><circle cx="48.4" cy="532.9" r="0.9"/><circle cx="43.5" cy="527" r="0.9"/><circle cx="37.4" cy="517.1" r="0.9"/><circle cx="34.4" cy="511.4" r="0.9"/><circle cx="31.2" cy="501.6" r="0.9"/><circle cx="32.5" cy="492.7" r="0.9"/><circle cx="30.3" cy="477.9" r="0.9"/><circle cx="31.5" cy="470.4" r="0.9"/><circle cx="36.6" cy="462.1" r="0.9"/><circle cx="43.5" cy="445.4" r="0.9"/><circle cx="49" cy="440.2" r="0.9"/><circle cx="62.9" cy="429.4" r="0.9"/><circle cx="70.1" cy="425.8" r="0.9"/><circle cx="77" cy="422.6" r="0.9"/><circle cx="93.4" cy="417.7" r="0.9"/><circle cx="102.2" cy="417.4" r="0.9"/><circle cx="111" cy="418.6" r="0.9"/><circle cx="117.6" cy="422.4" r="0.9"/><circle cx="128.6" cy="425.8" r="0.9"/><circle cx="133.4" cy="428.3" r="0.9"/><circle cx="141.2" cy="433.9" r="0.9"/><circle cx="149" cy="439.3" r="0.9"/><circle cx="152.4" cy="444.8" r="0.9"/><circle cx="157.8" cy="455" r="0.9"/><circle cx="161.7" cy="461.1" r="0.9"/><circle cx="163.2" cy="470.4" r="0.9"/></g>
<path d="M151.3 379.6 L148.9 390.4" stroke="#d4d4d2" stroke-width="1.6" fill="none"/>
<path d="M151.3 379.6 L148.9 390.4" stroke="#9a9a98" stroke-width="0.8" fill="none" stroke-dasharray="1.5 1.5"/>
<path d="M148.6 391.4 L147.2 394.9" stroke="#2c2c2c" stroke-width="2.5" fill="none" stroke-linecap="round"/>
<path d="M147 395.4 l-0.5 2.2" stroke="#6a6a68" stroke-width="1" fill="none"/>
<path d="M171.2 510.7 l9.5 6.5" stroke="#ffffff" stroke-width="1.5" opacity="0.85" fill="none" stroke-linecap="round"/>
<g filter="url(#soft)">
<ellipse cx="89" cy="480" rx="23.1" ry="19.1" fill="#54422f" opacity="0.4" filter="url(#blur2)"/>
<path d="M110.2 480 L108.4 482.5 L108.2 485.1 L107.3 487.6 L109.8 492.4 L106.7 494.5 L102.5 495.2 L98.4 495.2 L95.1 495.4 L92.3 497 L89 495.8 L85.9 496.1 L82.8 495.6 L80.4 493.9 L77.8 492.6 L74.1 492.2 L74.7 488.5 L71.4 487.3 L68.4 485.5 L68.6 482.6 L67.7 480 L67.8 477.3 L67.5 474.3 L68.1 471.3 L73.2 470.6 L76 469.3 L78.5 468.2 L80.6 466.4 L83.3 465.7 L85.5 461.7 L89 463.8 L91.8 465.7 L94.8 465.4 L98.2 465.3 L101.5 465.9 L105.3 466.7 L105.1 470.4 L110 471.3 L107.3 475.1 L108.5 477.5Z" fill="#54422f"/>
<path d="M106.6 480 L109.1 482.6 L108.8 485.3 L104.7 486.6 L102.8 488.2 L100.6 489.5 L99 491.2 L97.3 493.2 L95.1 495.3 L91.8 494.3 L89 494.9 L86.5 493.1 L84.3 491.8 L81.6 491.9 L81.1 488.9 L77.2 489.6 L77.5 486.8 L74.1 486.2 L70.1 485 L70.7 482.4 L70.8 480 L72.3 477.8 L70 474.9 L73.5 473.5 L73.9 471 L75.1 468.6 L79 468.8 L80.5 466.4 L83.7 466.5 L86.3 466 L89 467.5 L91.3 467.9 L94.2 467 L97.6 466.3 L99.5 468.2 L100.9 470.3 L103.4 471.4 L105.2 473.3 L105.3 475.7 L108.2 477.5Z" fill="#3a2e26"/>
<path d="M76.4 468.6 75.7 467.3 75.1 465.9 M106.5 475.7 107.7 474.8 109 474.2 M84.7 465.3 84.1 463.9 83.5 462.5 M94 497.2 94.2 498.7 94.4 500.2 M76.5 469.1 75.1 468.6 73.7 469.1 M67.8 479.2 66.3 478.7 65.1 477.8 M99.4 495 100.1 496.3 100.3 497.8 M68.1 475.7 67.2 474.5 66.4 473.3 M100 467.1 100.5 465.7 100.8 464.3 M73.7 470.2 72.4 469.5 71.6 468.2 M100.7 493.6 101.3 494.9 101.9 496.3 M91 464.8 91.6 463.4 93 462.8" stroke="#5e4228" stroke-width="0.75" fill="none" stroke-linecap="round"/>
<path d="M69.8 481.8 68.3 481.4 67.1 480.6 M105.5 485.9 106.9 486.6 108.3 486.9 M68.5 482.1 67.2 482.9 65.8 483.4 M90.9 495.6 90.9 497.1 90.4 498.6 M76.6 490.8 75.4 491.7 74 492.3 M106 483.7 107.4 483.2 108.9 483 M68.1 474.7 67.2 473.5 66.1 472.5 M79.4 467.2 78.4 466.1 77.9 464.7 M72.7 473.2 71.7 472 71.3 470.5 M69.9 482.2 68.4 482 66.9 482.1 M80.2 464.9 79.7 463.5 78.5 462.6 M72.6 488.7 71.1 488.7 69.7 488.1" stroke="#5a4430" stroke-width="0.75" fill="none" stroke-linecap="round"/>
<path d="M72.9 469.9 71.4 469.8 70 469.2 M104.8 469.9 105.5 468.5 106.3 467.3 M83 495 83.2 496.5 83.8 497.8 M90.9 463.3 90.6 461.8 90.2 460.4 M89.7 462.9 88.6 461.9 87.2 461.5 M108.9 480.3 110.1 479.4 110.9 478.1 M104.6 489 105.5 490.2 106.6 491.1 M95.2 495.9 95.4 497.4 95.2 498.9 M98.3 495.4 98.4 496.9 98.2 498.4 M71 474.1 70 472.9 69.4 471.5 M102.9 490 104.2 490.7 105.7 491 M109.9 479.2 111.3 479.6 112.8 479.8 M107.5 476.3 109 476.4 110.5 476.3 M70.2 472.5 68.8 473 67.4 473.4 M110.5 482.2 111.8 483 112.4 484.4 M109 482.6 110.5 482.2 111.9 481.6" stroke="#7a5a36" stroke-width="0.75" fill="none" stroke-linecap="round"/>
<path d="M68.4 481.9 67 481.7 65.8 480.7 M70.3 480.6 68.9 480 67.4 480.1 M101.1 494.8 100.8 496.3 100.5 497.8 M78.5 467.5 77.1 467 76.3 465.7 M71.8 472.9 71.1 471.6 70.7 470.1 M107 488.3 108.5 488.5 110 488.9 M68.6 480.8 67.6 481.8 66.3 482.6 M109.4 477.9 110.9 478.3 112 479.2" stroke="#6a4c2c" stroke-width="0.75" fill="none" stroke-linecap="round"/>
<path d="M78.4 467.2 77.8 465.9 78 464.4 M85.5 497 85.3 498.5 85.4 500 M68.2 477.1 66.9 476.5 65.4 476.7 M77.5 468.7 76.6 467.6 75.4 466.6 M90.4 463 89.4 461.8 88.1 461.2 M106.8 490.5 107.8 491.7 108.8 492.8 M110.6 479.3 111.6 478.2 112.3 476.9 M100.6 467.7 101.1 466.3 101.9 465 M108.2 486.9 109.7 486.9 111.1 487.3 M74.7 470.2 73.3 469.8 71.9 469.3 M101.5 466 102.8 465.3 104.3 465.1" stroke="#86663f" stroke-width="0.75" fill="none" stroke-linecap="round"/>
<path d="M89.2 462.6 88.8 461.2 88.9 459.7 M76.8 494.9 75.8 496.1 75 497.4 M107.6 481.6 109.1 481.9 110.6 481.6 M73.3 472.9 71.9 472.3 70.8 471.3" stroke="#3e3028" stroke-width="0.75" fill="none" stroke-linecap="round"/>
<path d="M86.5 497 85.9 498.4 86.1 499.9 M80.3 492.7 80 494.2 80.1 495.6 M98.1 495.2 99.5 495.7 100.8 496.3 M74.1 467.5 73.2 466.3 72.9 464.8 M108.6 485.2 109.9 486.1 111 487 M103.8 468.3 104.8 467.2 104.9 465.7 M106.5 490 107.8 490.7 109.2 491.3" stroke="#4a3a30" stroke-width="0.75" fill="none" stroke-linecap="round"/>
<path d="M97.7 473.1 99.1 473.7 99.8 475 M95.2 493.5 96.7 493.9 98.1 494.4 99.4 495.1 M103.7 481.6 104.8 480.5 105 479.1 M86.5 463.3 85.8 464.6 85.5 466.1 84.9 467.5 M87.6 476.8 86.1 477 84.6 476.8 M94.2 479.8 93.7 481.2 94.2 482.6 95.6 483.2 M100.8 476.6 99.8 475.4 100.6 474.1 M78.3 483.6 76.8 483.7 75.5 482.9 74.3 482.1 M101.7 466.1 103.2 465.9 104.7 465.7 105.6 466.9 M78.7 468.2 80 467.5 81.3 466.7 82.5 465.8 M95.1 484.8 96.3 483.9 96.7 482.5 M92.9 480.7 91.9 479.5 90.9 478.4 M68.7 481.9 69.1 480.5 68.6 479 68.8 477.6 69.2 476.1 M84.8 481.9 84.6 480.4 84.3 478.9 M69.4 482.7 68.4 481.5 67.2 480.7 65.7 480.2 M83.9 495.5 83 496.7 81.8 497.6 81.5 499.1 M76.4 482.5 75.7 481.3 74.5 480.3 74.7 478.8 75.2 477.4 M74.7 490.6 73.4 489.9 72 489.5 70.5 489.4 M72.2 469.8 71.6 471.2 72.4 472.5 73.3 473.7 74.4 474.7 M84.2 467.5 84.7 468.9 85.3 470.3 86.7 470.8 M107.6 480.4 107.4 481.9 108.2 483.1 109.3 484.2 110.3 485.3 M100.7 485.7 101.4 487 102.9 487.5 104.3 487.1 M86.2 480.5 87.1 481.8 87.3 483.3 86.8 484.7 M84.2 489 84.2 490.5 83.1 491.6 M74 479 73.9 477.5 74.1 476 74.4 474.5 M100.8 479.1 100.4 477.7 99.8 476.3 M83.9 490.1 85.4 490.3 86.8 489.8 88.2 489.4 89.7 489.1 M73.4 485.9 72.1 485.2 70.7 484.7 69.8 483.5 69.5 482 M97.8 481.2 99.3 481.8 100.8 481.8 102.2 481.9 M90.3 466.4 91.6 467.1 92.5 468.3 M91.4 482.6 91.2 481.1 90.3 479.9 89.4 478.7 89.2 477.2 M96.8 476.3 97.7 475.1 98.3 473.7 98.1 472.2 98.3 470.7" stroke="#28201a" stroke-width="0.9" fill="none" stroke-linecap="round"/>
<path d="M81.4 475.2 80.7 473.9 81.5 472.6 82.9 472 M79.5 486.6 78.8 485.2 77.3 485.1 75.9 485.4 M72.5 473.3 73.9 473.6 75 474.6 75.7 476 74.9 477.2 M77.7 482.7 76.4 483.4 74.9 483.5 74 484.7 M73.6 478.1 74.9 477.3 75.6 476 M101.4 484.2 101.3 485.7 100.2 486.7 M102.2 479.9 101.5 481.3 101.9 482.7 102.5 484.1 M85.6 465.6 85.4 467.1 86.2 468.3 87.3 469.4 88.7 469.9 M94.1 469.4 94.7 468 95.8 466.9 97.3 466.7 M95.9 485.3 94.6 484.6 94.1 483.2 M87.8 492.4 88.2 490.9 89.4 490 M87.2 495.5 85.8 495.1 84.4 494.6 M101.1 479.8 99.7 480.4 98.9 481.6 M91.7 466.4 91.1 465.1 89.6 465 M99 465.6 100.5 465.9 101.8 466.7 M86 471.6 86.7 472.9 88.2 473 M91.5 492.4 91.6 493.9 92.8 494.8 94.3 495.2 M74.7 481.9 76.1 481.7 77.4 480.8 M98.4 466.7 97.9 465.2 98.7 463.9 100.2 463.6 M100.3 469.9 101.7 470.5 103.1 470 104.5 469.3 105.1 468 M84.9 466.7 83.4 466.4 81.9 466.5 M79.1 467.9 80 469.1 80.5 470.5 80.5 472 M93.7 490.2 93.3 488.8 93.8 487.3 M77.8 489.5 79.1 490.3 79.2 491.8 M68.5 476.3 67.6 475.2 67 473.8 65.9 472.7 M103.5 477.6 102 477.8 100.5 477.5 M101.4 486.2 100.1 485.5 98.6 485.1 M100.8 466.3 99.3 465.9 98.3 464.8 96.9 464.3 M84.7 465.2 85.1 463.8 85.5 462.4 86.7 461.4 88.1 460.9 M69.2 476.4 70.5 477.2 71.9 477.5 M84.4 479.1 85.6 480 86.7 480.9 M107.3 478.8 107.9 477.4 108.7 476.2 M108.7 475.5 110.2 475.6 111.6 476 113.1 476.3 M76.4 472.4 75.1 471.5 74.9 470 75.4 468.6 76.6 467.8 M78 493.9 79.5 494.3 80.9 493.9 M96.6 493.3 96 494.7 95 495.8 93.5 496 92 495.9 M79.1 469.3 78.8 467.8 77.8 466.7 76.5 466 75.9 464.6 M81.7 475.9 82.2 477.3 82.3 478.8 M97.9 482.5 96.7 481.7 96.2 480.2 96.2 478.7 95.6 477.4 M69.8 473.1 68.9 471.9 68.3 470.5 68.1 469 68.4 467.6 M87.6 478.2 88.1 479.7 88.7 481 89.9 481.9 91 482.9 M87.6 462.7 88.3 464 89.8 464.1 91.3 464.4 92.7 464.8 M87.2 484.3 88.7 484.5 90.2 484.2 91.7 484.1 92.7 485.2 M92.7 481.4 93.2 479.9 94.4 479.1 95.5 478.1 M99.1 479.4 100 478.1 101.3 477.4 M101.9 470.2 100.7 471.1 99.2 471 M95.3 474.9 95.6 473.4 95.1 472 94.3 470.7 M110 478.6 111.5 478.9 112.9 479.4 M82.6 481 83.2 482.4 84.5 483.2 85.9 483.8 87.4 483.8 M98 484.4 99.5 484.4 101 484 M107.6 486.7 108 485.3 108.6 483.9" stroke="#3a2e24" stroke-width="0.9" fill="none" stroke-linecap="round"/>
<path d="M76.2 474.8 77.3 473.8 78 472.5 M92.7 478.8 94.2 478.8 95.6 479.5 M93.1 467.8 94.3 468.7 95.5 469.6 M95.3 494.8 95.4 493.3 95.8 491.9 96.6 490.6 M84.7 485.8 84.1 484.5 84.7 483.1 M90.8 465.2 91.9 466.2 93.1 467.1 M96.6 485.4 96.9 483.9 97.4 482.5 M89.4 494.2 89.4 492.7 88 492.1 86.6 492.6 85.5 493.6 M96.8 474.7 96.3 473.3 95.3 472.2 94.8 470.7 M88 489.2 87.7 487.7 86.5 486.8 85 487.1 M96.4 494 96 492.6 96.6 491.2 97.8 490.3 M84.1 494.6 85.4 494 86.5 492.9 M78 480.4 78.9 481.6 78.3 482.9 M72.1 470.8 71.4 469.4 70.1 468.6 68.6 468.5 67.2 469.1 M79.1 477 78.5 475.7 77.2 474.8 M88.7 477.4 87.2 477.1 86.3 478.3 86.5 479.8 87.6 480.8 M87.2 476.5 85.8 477 84.3 477.4 M83.5 489 83.4 490.5 82.7 491.8 82.2 493.2 82.1 494.7 M89.6 480.9 91 481.4 92.4 481.9 93.8 482.5 M71.8 489.9 72.2 488.5 71.5 487.1 70.4 486.1 M103.2 472.3 104.7 472.6 106.2 472.7 107.2 473.9 108.7 473.9 M78.9 488.3 77.7 489.2 76.6 490.2 M74.2 478.7 74.9 477.4 75.6 476 75.3 474.6 M73.3 473.4 72.4 472.2 71.9 470.8 71.6 469.3 M100.4 482.7 101 484.1 102 485.2 102.7 486.5 103.3 487.9 M102.1 480.8 101.9 479.3 102.2 477.8 M88.7 479.4 87.8 480.6 87.4 482.1 M80 478.7 80.4 477.2 79.4 476.1 78 475.5 76.6 476.1 M82 480.6 83.5 480.3 85 480.5 86.4 481 M82.4 493.4 83.5 492.3 84.3 491.1 85.8 490.6 M98.7 471.8 99.2 470.4 100.7 470 102 470.7 M105.2 479.2 103.9 480 102.4 479.9 101.3 478.9 100.7 477.5 M102.1 471.4 103.3 470.5 103.6 469 103.8 467.5 102.8 466.3 M101.8 493.4 102.7 494.6 104 495.4 105.3 496.1 M103.7 483.4 103.8 484.9 103.4 486.3 103.1 487.8 104 489 M100.6 488 99.4 489 98.7 490.3 98.3 491.8 M73.6 484.9 74.9 485.6 76.4 485.9 77.2 487.2 M100.1 485.3 101 484.1 101.4 482.6 101.1 481.1 100 480.2 M99.8 488.7 100.6 487.4 99.9 486.1 98.4 485.8 97.2 486.6 M85.8 488.8 84.9 490 83.8 491 82.7 492.1 81.3 492.6" stroke="#524232" stroke-width="0.9" fill="none" stroke-linecap="round"/>
<path d="M90.4 478.8 91.3 477.6 92.7 477.1 94 477.8 M102.2 474.5 103.7 474.6 105.1 474.1 106.2 473.2 106.9 471.8 M88.7 467.7 87.5 466.7 86.2 466.1 M87.4 477.4 86 477 85.1 475.8 84.6 474.4 84.3 472.9 M95.3 485.9 95.1 487.4 93.8 488.2 92.6 487.4 M80.2 468.9 79.2 467.8 78.5 466.4 78.6 464.9 78 463.5 M99.7 471.4 101.2 471.2 102.2 472.3 103.2 473.4 M72.8 486.6 74.3 486.3 75.4 485.3 76.5 484.3 78 484.1 M92.1 483.7 92.4 485.2 92.3 486.7 M77.3 492.6 78.7 492.3 79.7 491.2 80 489.7 M106.9 484.8 105.5 484.2 104.6 483 M101.3 480.3 100.5 479 99.2 478.2 M98.6 495 97.2 495.5 95.7 495.9 M101.1 474.1 99.8 474.9 98.5 475.5 M102.7 472.1 102.1 470.7 101.8 469.2 M84.7 495.4 84.8 493.9 84.1 492.6 M91.6 497.1 90.7 498.3 89.3 498.7 M91 465 91.1 466.5 92 467.7 93 468.8 93.9 470 M80.2 467.7 81.6 467.2 83.1 467.2 M94.6 467.6 93.4 466.7 92.2 465.8 90.7 465.9 M102.4 467.8 101 467.3 99.5 467.6 M94.2 493.5 95.3 492.5 95.7 491.1 95.1 489.7 M86.9 466.6 85.7 465.8 84.7 464.6 83.8 463.5 M100.2 488.8 98.9 489.7 98.1 491 98.7 492.4 M86.4 468.3 87.9 468.4 89.3 467.9 90.6 467.1 M78.3 466.3 79.6 466.8 80.9 467.6 M93.9 468.8 93 467.6 92.1 466.4 90.7 465.8 M79.6 476.9 78.2 477.4 76.9 476.7 M93.8 489.4 92.4 489.1 90.9 489.1 M78.8 477.6 78.2 476.3 77 475.4 M109.2 482.9 110.7 482.9 112.2 482.9 M83.9 463.4 84.9 464.5 86.2 465.2 M69.4 482 70.9 482.2 71.9 483.4 71.2 484.7 70.3 485.9 M89.6 487.5 90.4 488.8 90.7 490.2 91 491.7 M88.4 471.1 89 469.8 89.5 468.3 91 468.3 92.3 468.9 M91.7 465.8 93 466.5 94.2 467.4 94.6 468.9 94.5 470.4 M79.7 495.6 81 494.9 82.5 494.7 83.8 495.5 85 496.4 M85.1 466.9 84.6 468.3 84.2 469.7 83.5 471.1 82.5 472.2 M76.9 474.1 78.4 474.3 79.9 474.3 81.4 474.5 M98.1 479.6 99.2 480.5 100.5 481.3 101.9 481 M104.7 476.7 103.2 476.7 101.7 476.8 100.2 476.7 98.8 476.3 M96.2 494.9 96.4 496.4 96.2 497.9 M97.3 492.7 98.7 493.2 100.2 492.9 101.7 492.6 103 493.3 M91.4 472.3 90 472.4 88.6 473 M78.2 465.6 77.7 467 76.9 468.3 75.4 468.3 74.3 469.2 M96.5 492.8 97.2 494.1 98.7 493.8 99.9 492.9 M76.9 486.4 76.7 487.9 77.6 489.2 79.1 489.2 M84.4 493.4 85.7 492.6 87 491.9 87.5 490.4" stroke="#362a20" stroke-width="0.9" fill="none" stroke-linecap="round"/>
<path d="M96.9 479.9 95.6 480.7 94.2 481.3 93.3 482.5 M97 495.5 97.6 496.9 98.7 497.9 M80.2 466.3 80.3 464.8 81.3 463.7 82.8 463.5 M104.2 475.3 103.8 476.8 103.2 478.1 102.6 479.5 102.1 480.9 M85.9 466 87.4 466.5 88.2 467.7 88.3 469.2 M73.5 468.4 74.9 469 76.1 470 M102.7 484.5 104.1 485 105 486.2 106.2 487 107.7 487.1 M108.2 484 108.3 485.5 107.9 486.9 106.9 488.1 106.3 489.5 M102.9 475.8 102.9 477.3 104 478.4 105.4 478.8 M102.8 493.3 104.3 493.7 105.8 493.8 107.1 493.1 M86.5 481.4 87.8 482 89.3 482.3 90.3 481.1 90.7 479.7 M99.1 483.8 97.7 484.1 96.2 484.2 M82.9 484.2 84.3 483.6 85.8 483.7 87.2 484.3 88.4 483.5 M81.3 495.3 80 494.5 79.2 493.2 79.6 491.8 80.6 490.6 M101.4 475.1 101.6 473.6 101.9 472.1 M85.6 478.3 86.5 477.1 88 477 89.4 477.4 90.4 478.5 M90.2 483.4 91.3 484.4 92.7 484.7 M95 465.9 95.5 464.5 96.7 463.5 M79 482.3 78 481.2 77.1 480 77.6 478.6 78.4 477.3 M94.2 494.4 95.6 493.8 97.1 493.5 97.8 492.2 M94.6 480.9 94 479.5 93 478.4 91.5 478.8 M85.2 463.3 84.2 464.4 83.4 465.7 M90.9 494.2 92.1 493.2 93.2 492.2 94.5 491.5 M86.1 469.7 86.5 471.2 87.5 472.3 88.9 472.7 M72.3 483.3 73.6 482.6 74.7 481.5 75.3 480.2 M86.6 477.5 87.4 478.8 88.7 479.6 89.7 480.6 90.3 482 M82 467.9 82.2 469.4 82.4 470.9 81.7 472.2 81.2 473.6 M72.7 487.4 71.3 487.6 69.8 487.8 68.3 487.7 M76.6 475.6 75.2 474.9 73.8 474.7 72.7 473.6 M77.5 488 78 489.4 79.2 490.3 80.3 491.3 81.8 491.7 M96.6 484.9 95.2 485.2 93.7 485.1 92.2 485.2 90.9 486 M94.7 492.9 94.1 494.2 95.2 495.3 M94.1 482.6 93.3 481.3 93.8 479.8" stroke="#46382c" stroke-width="0.9" fill="none" stroke-linecap="round"/>
<path d="M84.4 482.4 83.8 483.7 82.6 484.6 81.1 484.8 M78 474.4 78.3 472.9 79.5 472.1 80.8 471.2 M73.2 471.9 74.1 470.8 75.6 470.4 M77.9 493.3 77.7 494.7 76.3 495.4 M92.5 480 92.3 481.4 91.2 482.5 90.8 483.9 90.9 485.4 M79 469.2 77.7 470 76.2 470 75 470.8 M109.4 482.6 110.6 481.7 111.6 480.5 113 480.3 M93.8 491.1 94.6 492.4 96 493 96.8 494.3 M80.2 478.7 80.8 477.3 80.6 475.9 80.2 474.4 M85 472.4 84.7 470.9 84.4 469.5 83.5 468.3 M101.3 488.6 99.8 488.2 98.4 487.8 M97.9 487.1 96.4 487 94.9 486.6 M91.5 472.9 90.7 471.7 89.6 470.7 M101.5 483.9 100.1 484.5 98.8 483.8 M80.4 472.1 80 470.7 78.6 470.1 77.1 470.1 76.5 471.5 M98.1 494.3 97.9 495.8 98 497.3 98.5 498.7 M83.7 473 83.5 474.5 83.5 476 84.1 477.4 M95.5 484.2 96 482.8 97 481.6 M101.2 476.4 101.9 475.1 101.5 473.7 100.4 472.7 M76.9 490.9 76.7 489.4 75.6 488.5 74.2 489.1 72.7 489.3 M105.4 489.5 104 489.2 102.5 488.9 M80.8 479.3 80.8 480.8 80.1 482.2 78.9 483 78 484.2 M90.4 481.2 88.9 481.4 88.3 482.8 88 484.3 M72.9 482.4 71.7 481.6 70.6 480.5 M107.9 486.2 109 487.2 110.4 487.6 M104.5 472.7 103.1 473.4 101.9 474.3 101.1 475.5 M87.8 495.4 87.8 493.9 87.9 492.4 88.7 491.1 M95.4 467 93.9 466.7 92.4 466.7 90.9 467 M75.6 491.6 75.5 490.1 76.3 488.8 77.6 488.1 79 488.7 M89.9 492 91.3 492.6 92.1 493.9 M100.4 466.9 99 467.6 97.6 468.1 96.3 467.5 M86.1 470.2 87.1 469.1 87.4 467.6 87.6 466.2 M98 490.3 99.4 490.5 100.9 490.3 M89.5 476.2 90.5 475.1 91.6 474.1 93.1 474 M82.5 467.1 82.3 465.7 83 464.4 84 463.2 85.2 462.3 M101.2 474.7 99.7 474.5 98.2 474.3 96.8 474.8 M99.2 480.1 99.8 478.7 99.6 477.2 99.1 475.8 M107.7 473 106.5 474 105 474 103.5 473.9 M90.4 465.8 90.5 467.3 89.2 468.1 87.9 467.4 M74.2 470.1 74.7 471.5 75.3 472.9 76.4 473.9 77.6 474.8 M85.2 482.9 83.7 483.1 82.6 482.1 81.6 481 81.5 479.5 M100.2 471 99.5 469.7 99.6 468.2 M73.9 469.6 74.5 471 75.6 472 76.7 473 78 473.8" stroke="#5c4c38" stroke-width="0.9" fill="none" stroke-linecap="round"/>
<path d="M84.3 483 85.5 482.1 85.8 480.6 85 479.3 M96.1 482.5 96.9 481.3 97.6 479.9 M82 468 83.4 467.4 84.8 467 M94.8 472.6 93.3 472.8 91.8 472.5 M102.1 489 101.5 487.6 101.9 486.2 M94.2 492.6 94.4 494.1 94.3 495.6 93.7 497 93.4 498.4 M104.5 483.7 103 484 101.8 484.8 101.1 486.2 101.3 487.6 M68.8 478.1 70.3 477.8 71.7 477.2 71.8 475.7 71.2 474.4 M86.2 478.5 87.4 479.4 88.5 480.4 89.2 481.7 90.1 482.9 M88.4 463.8 87.5 462.6 86.1 462 85 463 M82.8 480.8 82.2 479.5 82.7 478.1 84.2 477.9 M90.9 480.8 91.8 482 93.2 482.2 94.6 481.6 M90.5 471.1 89.6 472.3 89 473.7 88.2 475 87.2 476 M104.4 489.6 104.1 488.2 103.3 486.9 M89.8 462.8 89.8 461.3 89.3 459.9 89.3 458.4 89.4 456.9 M83.8 471.9 83 473.2 82.4 474.6 81 475.2 M105.4 482.1 105 483.5 103.9 484.6 102.7 485.4 101.3 486.1 M91.6 488.6 90.6 489.7 89.1 490 87.6 489.9 86.4 489 M75.1 469.6 76.6 469.3 77.1 467.9 76.6 466.5 75.4 465.6 M72.6 482.1 74.1 481.7 75 480.6 74.9 479.1 M81.9 485.3 80.7 484.3 79.2 484.6 78.5 485.8 M85.5 496 86 494.6 86.2 493.2 85.4 491.9 83.9 491.8 M77.5 489.2 76.1 489.9 74.6 490.1 M95.1 467.7 93.6 467.8 92.2 467.4 90.9 466.7 89.4 466.6 M94.2 492.2 93 491.3 91.7 490.4 90.5 489.6 89 489.7 M86.2 487.5 87.1 486.3 87.5 484.8 87.3 483.4 86.6 482 M77.8 494.2 76.4 493.5 76.2 492.1 76.2 490.6 76.8 489.2 M107.8 475 106.9 476.2 107.3 477.7 106.8 479.1 M90.1 462.8 91.6 462.4 93.1 462.4 M77.4 481.6 77.5 483.1 77.4 484.6 M93.1 479.6 93.4 478.2 93.8 476.7 94.2 475.3 94.7 473.9 M107.4 474.8 108.8 474.4 110.2 473.9 M84.8 477.4 86 478.3 87.5 478.6 88.6 477.6 M89.9 473.7 89.7 475.2 89.4 476.6 89.4 478.1 M72.6 479.5 73 481 72.6 482.4 71.3 483.2 M96.5 489.7 96.3 491.2 97 492.5 98.3 493.4 M97.5 473 97.1 471.6 97.1 470.1 M92.6 485.6 92.2 484.2 93.1 482.9 M95.8 479.2 95.3 480.7 95.9 482 97.4 482.2 98.7 482.9 M71 476.7 70.2 477.9 68.8 478.3 67.3 477.8 M98.6 485.7 97.1 485.5 95.7 486.1 95.1 487.5 M104 475.2 104 473.7 103.2 472.5 101.7 472.6 M86.2 472.9 87.5 472.1 89 472.1 90.1 473.1 M83.5 496.4 84.5 495.3 85.8 494.6 M87.1 488.9 85.9 488 85.6 486.5 85.5 485 86.6 484 M88.4 483.5 89.8 483.4 91.2 482.8 92.1 481.6 92 480.1 M78.8 487.5 77.4 487.1 75.9 487 74.4 487.1 M93.5 487.8 92.7 486.5 92.6 485 92.6 483.5 M86.5 463.5 87.2 464.8 88.2 465.9 88.6 467.4 89.2 468.7 M71.5 484.2 72.9 484.7 74.4 485 M108 479.8 109.5 480 110.3 478.7 M71.4 472.2 70 471.7 68.7 472.3 68.1 473.7 68.1 475.2 M89.6 464.2 89.6 462.7 90 461.3 90.9 460.1" stroke="#30261e" stroke-width="0.9" fill="none" stroke-linecap="round"/>
</g>
<path d="M124 488 124.6 489.4 124.7 490.9 124.7 492.4 M107 459 105.7 459.8 104.4 460.4" stroke="#2c241c" stroke-width="1.2" fill="none" stroke-linecap="round"/>
<path d="M72 418 l5 8 M78 412 l3 7 M83 408 l2 7 M90 405 l1 7 M157 428 l4 6 M163 437 l3 6 M160 458 l3 4 M172 509 l7 5" stroke="#ffffff" stroke-width="1.5" opacity="0.75" fill="none" stroke-linecap="round"/>
</g>
<g clip-path="url(#clip7)">
<rect x="199.6" y="379.6" width="194.6" height="185.2" fill="url(#bg2)"/>
<circle cx="296.9" cy="477.2" r="98.3" fill="url(#rim7)"/>
<circle cx="296.9" cy="468.6" r="97.1" fill="url(#rim7)"/>
<circle cx="296.9" cy="468.9" r="94.7" fill="url(#cell7)"/>
<g fill="#f6f6f4" stroke="#b4b4b0" stroke-width="0.55" opacity="0.85"><circle cx="364.3" cy="486.2" r="0.9"/><circle cx="363" cy="494.9" r="0.9"/><circle cx="361.9" cy="501.2" r="0.9"/><circle cx="358.1" cy="511.6" r="0.9"/><circle cx="350.8" cy="523.4" r="0.9"/><circle cx="345.4" cy="530.7" r="0.9"/><circle cx="338.9" cy="537.2" r="0.9"/><circle cx="333.3" cy="543.4" r="0.9"/><circle cx="323.5" cy="546.8" r="0.9"/><circle cx="318.3" cy="550.1" r="0.9"/><circle cx="307.6" cy="552" r="0.9"/><circle cx="298.5" cy="552.8" r="0.9"/><circle cx="291.4" cy="552.5" r="0.9"/><circle cx="276.1" cy="548.8" r="0.9"/><circle cx="264.9" cy="547" r="0.9"/><circle cx="260.1" cy="541.3" r="0.9"/><circle cx="252.7" cy="539.4" r="0.9"/><circle cx="245.6" cy="531.4" r="0.9"/><circle cx="240.2" cy="524.6" r="0.9"/><circle cx="236.8" cy="518.8" r="0.9"/><circle cx="233.5" cy="508.2" r="0.9"/><circle cx="231" cy="503.4" r="0.9"/><circle cx="228.6" cy="494.5" r="0.9"/><circle cx="228.4" cy="487.2" r="0.9"/><circle cx="231.5" cy="468.3" r="0.9"/><circle cx="232.1" cy="462.6" r="0.9"/><circle cx="241.5" cy="445" r="0.9"/><circle cx="258" cy="428.8" r="0.9"/><circle cx="275.6" cy="422.1" r="0.9"/><circle cx="282" cy="419.6" r="0.9"/><circle cx="289.6" cy="417.1" r="0.9"/><circle cx="300.3" cy="416.8" r="0.9"/><circle cx="307.5" cy="418" r="0.9"/><circle cx="314.4" cy="421.5" r="0.9"/><circle cx="325.6" cy="425.8" r="0.9"/><circle cx="332.5" cy="429.5" r="0.9"/><circle cx="340.1" cy="433.3" r="0.9"/><circle cx="345.2" cy="438.6" r="0.9"/><circle cx="351.9" cy="447.1" r="0.9"/><circle cx="355" cy="453.7" r="0.9"/><circle cx="359.7" cy="461.5" r="0.9"/><circle cx="360.2" cy="467.6" r="0.9"/><circle cx="361.5" cy="476.8" r="0.9"/></g>
<path d="M348.6 379.6 L346.2 390.4" stroke="#d4d4d2" stroke-width="1.6" fill="none"/>
<path d="M348.6 379.6 L346.2 390.4" stroke="#9a9a98" stroke-width="0.8" fill="none" stroke-dasharray="1.5 1.5"/>
<path d="M345.9 391.4 L344.5 394.9" stroke="#2c2c2c" stroke-width="2.5" fill="none" stroke-linecap="round"/>
<path d="M344.3 395.4 l-0.5 2.2" stroke="#6a6a68" stroke-width="1" fill="none"/>
<path d="M368.5 510.7 l9.5 6.5" stroke="#ffffff" stroke-width="1.5" opacity="0.85" fill="none" stroke-linecap="round"/>
<g filter="url(#soft)"><ellipse cx="285" cy="476" rx="30" ry="13" fill="#33261e" opacity="0.85" filter="url(#blur3)"/>
<path d="M303.2 506.4 302.8 505.2 302.9 503.9 303.7 502.8 304.9 502.3 M291.2 469.6 290.3 468.7 289.8 467.5 289 466.5 287.7 466 M310.8 495.5 309.9 496.5 309.1 497.5 308.2 498.4 307 498.8 M287.1 482.4 288.4 482.1 289.5 482.9 290.1 484 289.7 485.3 M282.5 448.9 283.2 449.9 284.5 450 285.4 451 285.2 452.2 M270.5 491.6 270.2 490.3 269 489.7 267.8 490.1 266.8 490.9 M275.2 494.4 275.3 495.7 274.3 496.5 273.1 496 M310.2 469.1 310.8 468 310.8 466.7 309.9 465.8 M292.3 479.9 291.8 478.7 291 477.7 M325.7 488.1 325.2 486.9 323.9 487.1 323.4 488.3 322.5 489.3 M267.9 507 266.6 507.1 265.4 506.5 264.4 505.7 M254 496.5 253.2 495.5 252.1 494.8 251.8 493.5 M285.4 458.8 284.8 459.9 284.5 461.2 283.5 462 M283.3 473.5 282.2 472.8 281.8 471.5 M254.7 461.8 253.6 461.1 252.5 461.8 251.8 462.9 M321.6 471.5 322.4 470.4 323.6 470.2 324.9 469.8 M251.1 498.1 251.9 499.2 252.7 500.1 253.9 500.8 255 501.4 M269.5 464.2 268.8 463.1 268.2 462 267.2 461.1 265.9 460.9 M305.6 480.3 304.3 480.7 303.1 480.3 M285.6 480.4 284.7 481.4 284 482.4 283.3 483.5 282.8 484.7 M260.2 492.8 260.5 491.5 261.7 491 262.7 491.9 263.5 492.8 M280.3 449.9 279.1 449.4 277.8 449.1 276.8 449.8 M296.2 496.4 294.9 496.4 293.7 496.8 292.7 497.6 M293.4 454.8 294.3 455.6 295.6 455.9 296.9 455.6 298.1 456 M309.7 474 310.6 473 311.6 472.2 312.5 471.3 313 470.1 M293.7 504.5 295 504.4 296.3 504.3 297.6 504 M257 481.2 258 481.9 258.6 483.1 259.5 484.1 260.6 484.7 M301.5 469 302.8 468.7 304 469.2 304.1 470.5 M250.4 476.9 249.7 475.9 248.6 475.1 247.5 474.4 246.4 473.8 M251.1 490.7 251.1 492 250 492.6 248.7 492.3 M289.1 511.5 287.9 511.1 286.8 510.4 286.7 509.1 287.3 508 M311 489.9 309.7 489.8 309.2 491 309.8 492.1 311.1 492.4 M275.6 483 276.7 483.7 277.7 482.9 279 482.8 280.3 482.8 M259 451 257.8 450.5 257.1 449.4 255.9 449.7 M283.9 448.5 282.6 448.5 282.1 447.3 282.6 446.1 M291.6 476.5 292.7 477.2 294 477.2 294.7 476.1 294.7 474.8 M293.8 469.1 292.9 468.2 292.6 466.9 292.5 465.6 M302.8 463.2 303.8 462.4 304.2 461.2 304.2 459.9 M275.3 500.8 276.1 501.8 276.8 502.9 M275.3 514.4 276.5 514 277.7 514.4 278.8 515.1 279.5 516.2 M262 480 262.7 481.1 263.2 482.3 263.5 483.5 M271 483.1 272.3 483.2 273.5 482.9 274.7 482.4 M304 497.8 305.3 497.6 306.4 496.8 M269.2 467 268.1 466.3 266.8 466.1 266.3 464.9 M273 463.8 273.5 462.6 274.6 461.8 275.8 461.4 277.1 461.7 M291.8 494.1 290.5 493.8 289.6 494.8 288.6 495.6 287.3 495.3 M307.8 463.7 309 464.1 310.2 464.6 311.5 464.3 312.7 463.9 M289.3 495.5 288.1 496.1 287 496.7 285.7 496.7 M294.8 497.1 294.5 495.9 294.5 494.6 294.4 493.3 M256 463.6 254.8 463.2 254 462.1 254.2 460.8 255.3 460.2 M263.5 501 264.7 501.4 266 501.4 267.1 500.6 268.4 500.6 M278.8 499.6 279.4 500.7 279.7 502 279 503 277.7 502.9 M280.6 488.9 280.4 490.2 279.1 490.5 M278.9 469.3 278.4 470.5 277.2 471 M295.3 469.6 294 469.3 292.9 468.7 292.2 467.6 M294 495.7 293.2 496.7 293.2 498 292.3 499 291 499.1 M265.7 506.5 265.9 505.3 266.1 504 266.5 502.7 M268.2 499.2 269.1 500.2 269.1 501.5 267.9 502 267.2 500.9 M253.5 459.2 254.7 459.6 255.6 460.5 255.4 461.8 M253 487.7 254.2 488.2 254.8 489.3 254.1 490.4 252.8 490.6 M312.7 466.6 311.6 467.3 311.2 468.6 312 469.6 M310.6 483.1 311.4 482.1 312.7 482.2 313.4 483.3 M305.6 496.3 306.5 495.3 306.1 494 305.4 492.9 M252.7 477.3 254 477.2 255.2 477.8 255.9 479 M282.5 473.9 282 472.7 282 471.4 283 470.5 M277.6 476.4 276.7 477.4 276.4 478.6 M325.2 485.3 324.4 484.2 324.4 482.9 325 481.8 326.2 481.3 M318.8 464.8 318.5 463.5 317.5 462.6 316.8 461.5 315.5 461.1 M272 493.3 270.7 493 269.5 493.5 268.5 494.3 M305.5 504.1 304.2 503.9 303.1 503.3 302.3 502.3 M262.7 461.1 261.4 461.2 260.1 460.8 258.9 461.2 M292.5 517.8 291.2 517.6 290.3 518.5 M284.4 474.1 283.2 473.5 282.5 472.5 283.1 471.3 284.1 470.5 M275.8 483.4 274.5 483.2 273.2 483.5 272.1 484.2 M305.2 463.5 305.8 464.6 306 465.9 306.7 467 307.3 468.2 M294.3 488.3 293.1 487.9 292.2 488.9 291.9 490.2 M277.4 502.9 277.6 504.2 278.5 505.2 279.7 505.6 M267.8 484.3 269.1 484.3 270.2 483.6 270.6 482.4 M266.9 451.4 268.1 450.7 269.3 451 270.5 450.5 271.6 449.7 M277.8 464.3 279.1 464.6 280.4 464.5 281.6 464.3 282.7 463.6 M276.7 470.2 275.5 469.6 274.4 469 273.4 468.1 273.1 466.9 M268.9 481 270.2 480.9 271.3 481.6 271.5 482.9 M284.3 461.8 284.2 463.1 284.3 464.4 284.6 465.7 285.8 466.2 M292.7 508 292.1 506.8 290.9 506.2 289.9 507 289.1 508 M280 520 278.9 520.7 279.1 522 278.2 522.9 278 524.2 M286.5 457.8 286.6 459.1 287.6 459.9 288.9 460 M264.3 505.2 263.9 506.4 262.8 507.2 261.5 507 260.4 506.4 M273.9 477.5 275.2 477.8 276.5 477.9 277.5 478.8 278.7 478.9 M285.1 511.8 286.4 511.7 286.9 512.9 287.1 514.2 286.2 515.1 M305.5 459.6 305.5 460.9 305.1 462.1 304.1 463 303.2 464 M287.3 476.1 286.2 475.4 285 475 283.9 475.6 283.7 476.9 M302.3 496.8 303.4 497.4 303.6 498.7 303.5 500 M269.9 491 269.5 492.2 269.2 493.5 268.8 494.7 M272.6 471.2 271.3 471 270 471 269.1 471.9 268.2 472.8 M286.6 477.1 286.3 475.8 285.4 474.9 284.3 475.4 M258.8 495.4 257.6 495.9 256.3 495.9 255.5 494.9 M262.3 458.5 263 457.4 263.9 456.4 264.7 455.4 265.8 454.7 M286.3 491.5 286.2 492.8 285.8 494 286.9 494.6 M271.5 511 272.8 511.1 273.7 512 274.3 513.2 275.2 514.2 M324.8 479.6 324.2 480.7 324.5 482 325.6 482.6 326.9 482.3 M304.7 493.8 303.8 492.9 303.2 491.8 M251.2 496.1 250.6 494.9 249.5 494.2 248.2 494.2 M284.3 488.4 285.5 488.8 286.7 489.2 287.7 490 M281.6 487.5 282.4 486.5 283.1 485.4 284.3 484.9 M268.8 474.5 267.5 474.7 266.2 474.8 265.1 475.5 264.6 476.7 M242.1 488.1 241.3 487 241.2 485.7 242.1 484.8 243.4 484.7 M285.9 479.7 284.9 480.5 284.7 481.8" stroke="#4a3822" stroke-width="1.2" fill="none" stroke-linecap="round"/>
<path d="M273.6 492.3 274.9 492.1 276.2 492.5 M297.5 503.4 298.7 503.1 300 502.9 301 502.1 M292.4 449.4 293.5 450.1 294.4 449.2 294.7 448 M261.5 480.5 262.6 479.9 263.3 478.7 M298.4 473.8 297.7 474.9 297.1 476 296.1 476.9 M291.9 482.3 293.2 482.2 294.3 481.6 294.6 480.4 M310.9 488.1 309.9 487.3 308.9 486.5 307.7 486.1 306.6 485.4 M272.9 488.9 273.6 490 274.6 490.8 M285.6 498.6 286.1 499.8 287.4 499.9 288.5 500.6 M256.8 458 255.5 458.2 255 459.4 254.6 460.6 M293.5 472.7 294.7 472.2 295.9 471.7 296.8 470.8 297.7 469.8 M284.4 484.4 284.5 483.1 283.7 482.1 282.6 481.4 281.4 480.9 M279.3 470 280.6 469.8 281.9 470 283.1 470.5 M316.7 490.3 315.8 489.4 314.7 488.8 M312.5 481.7 313.1 482.9 313.2 484.2 M260 500.1 259.8 498.8 259.7 497.5 260.4 496.4 M263.7 469.3 264.6 468.4 265.9 468.2 266.5 469.4 M323.8 486 323 487 321.7 486.7 321 485.6 M281.5 497.6 280.2 497.3 278.9 497.4 M270.2 473.5 270.6 472.3 270.4 471 M264.3 504.9 263 504.8 261.8 504.2 260.7 503.5 259.8 502.5 M248.8 470.3 248.3 471.4 247.3 472.3 246.2 471.6 244.9 471.9 M288.3 500.2 287.4 501.2 287.2 502.5 M291.3 503 290 503.3 288.7 503.1 M302.5 502.5 303.7 502.7 305 502.2 M295.1 465.9 296.3 466.3 297.5 467 M265.6 493.3 264.3 493.7 263.3 494.6 262.8 495.7 263.4 496.9 M300.7 492.1 301.9 492.5 303.2 492.8 M265.3 492 265.3 490.7 265.7 489.4 265.8 488.1 265 487.1 M267.3 475.6 267.9 476.7 267.7 478 267.3 479.2 266.9 480.4 M257.4 474.1 258.7 474.3 259.8 474.9 260.7 475.9 261.7 476.7 M265.4 494.9 265.9 493.7 267.2 493.4 268.4 493.9 269.1 495 M281.9 494.9 283.2 495.3 283 496.6 281.7 496.9 280.5 496.4 M272.7 463.5 273.7 464.3 274.9 463.8 274.9 462.5 273.7 462 M307.2 465.2 306.3 464.3 306.8 463.1 307.9 462.4 309.2 462.7 M302.8 469.7 301.6 469.5 300.5 468.8 M321.1 499.8 321.7 498.7 321.3 497.4 M260.9 478.4 261.1 479.7 262.4 480 263.6 479.5 M310.3 473.9 309 474.1 308.4 475.2 308.3 476.5 M260.8 501.9 259.5 501.9 258.6 500.9 258.3 499.7 M294.6 457.6 295.9 457.7 297.2 457.3 297.9 456.2 M297.8 442.9 299 442.4 299.8 441.4 301 441.9 M276.4 468.5 276.9 469.7 277.9 470.5 279.2 470.9 M288.4 499.1 287.6 500.1 287.1 501.3 286.7 502.5 M296.9 499.8 297.1 498.5 296.7 497.2 295.7 496.5 294.4 496.6 M248.8 468 247.6 467.6 246.4 468 245.3 468.7 M316 492.7 315.8 494 316.5 495 M273.3 491.4 272.5 490.4 271.3 490.9 M285.1 463.7 286.1 464.6 287.4 464.6 288.7 464.5 M258.5 472.4 258.3 473.7 258.5 474.9 258.1 476.2 M287.7 471.3 287.4 470.1 286.2 470.2 M274.9 479 273.7 479.7 272.5 479.3 272.4 478 M297.4 478.6 298.1 477.5 299.4 477.2 299.9 476 M306.3 513.8 306.5 512.5 306.7 511.2 306.6 509.9 M278.7 455.2 279.2 454 279.9 452.9 M263.4 465 264.1 466.1 265.1 466.9 266.2 466.2 266 464.9 M274.6 450 275.9 449.8 276.9 450.6 276.4 451.8 275.1 451.6 M257.6 483.1 257.4 481.8 256.7 480.7 255.6 480 M303.1 486.5 303.7 487.7 302.7 488.6 M251.2 480.1 250.2 479.4 249.2 478.5 248.1 477.8 M280.4 505.6 279.1 505.4 277.9 504.9 276.7 504.5 M304.4 474 303.3 473.2 302.2 472.7 M266.5 496.1 266.9 494.8 265.8 494.2 264.7 493.5 263.6 492.8 M303.1 482.4 303.6 483.6 304.6 484.4 305.9 484.7 M253.8 498.4 254.6 499.4 254.4 500.7 254.8 501.9 M288.9 459.7 289.1 461 288.5 462.1 287.2 461.9 286.2 461 M304.2 486.9 302.9 487 302.2 485.9 302 484.6 302.8 483.6 M308.2 496.4 307.1 495.7 306.5 494.5 306.5 493.2 305.6 492.4 M298.2 477.9 299.1 477 298.8 475.7 297.7 475.1 M305.8 513.5 305.4 512.3 305.9 511.1 305.4 509.9 304.7 508.8 M289.1 482.7 290.2 481.9 291.4 482.2 291.2 483.5 289.9 483.4 M283.9 499.9 284.3 501.1 285.4 501.8 286.5 501.1 M274.2 474.6 274.6 475.9 273.8 476.9 272.5 477.2 M288.7 494.3 289.5 495.3 289.6 496.6 M276 488.9 277.1 489.7 277.2 491 276 491.5 275.2 490.4 M284.7 499.8 284 498.7 282.7 498.8 281.9 499.8 M311.9 457.5 313.1 458 314.2 458.7 315 459.7 315.1 461 M272 495.4 271.2 496.3 270.5 497.5 M278.7 478.3 279.1 477 278.4 475.9 277.3 475.3 M290.7 457.7 290 458.8 289.7 460.1 288.9 461.1 288.4 462.3 M299.2 468.3 300.2 467.4 301.4 467 302.4 466.1 M295.1 463.1 294.1 463.9 293.2 464.8 292.6 466 292.9 467.2 M256.4 470.6 255.5 469.7 255.5 468.4 256.2 467.3 256.7 466.1 M298.9 466.7 297.8 466.1 297.4 464.9 298.4 464 M277.4 471.5 276.4 472.4 275.2 472.7 274.1 472 273.7 470.8 M281.8 479.8 280.6 479.3 279.4 479.7 278.4 480.6 M260.4 464.8 261 463.7 260.6 462.4 M272.3 472.6 271.5 471.6 271.3 470.3 270.6 469.2 270.1 468 M290.1 475 289.3 474 288.2 473.3 287.4 472.3 M286.6 475.2 286.7 476.5 286.3 477.7 287.4 478.3 M289.7 463.5 288.5 462.9 287.9 461.8 287.3 460.6 M288.2 491.3 289.4 491.8 290 493 291.2 493.5 292.5 493.8 M301 507.7 299.8 508.3 299.7 509.6 300.6 510.5 M273.1 474.6 272.7 473.4 271.7 472.6 270.4 472.9 269.5 473.9 M283.3 499.3 282 499.6 280.7 499.9 279.8 500.8 279.2 502 M269.2 467.9 268.1 468.5 267.1 469.3 267.1 470.6 M290.7 465 290.2 463.8 288.9 463.9 M293.2 472 294.3 471.3 294.3 470 294.6 468.7 295.7 467.9 M276.5 474.2 277.8 474.2 278.4 475.3 277.6 476.4 276.7 477.3 M281.8 486 282.5 487.1 283 488.3 284 489.1 285 489.9 M266.8 477.6 268.1 477.7 269.2 478.5 270.1 479.4 271.4 479.7 M281.8 489.4 283 489.8 284.3 490.1 285.6 490 M268.4 469.6 267.9 470.8 268.6 471.9 269.5 472.9 270.7 473.3 M259.1 478.3 260.4 478.1 261.7 478 262.7 477.1 M320.5 478.6 319.6 477.7 320.2 476.6 321.1 475.6 M244.1 476.8 245.2 476.1 246.4 476.5 247.2 477.6 M282.4 479.8 282.1 478.5 281.9 477.2 280.6 476.8 M278.8 468.2 280 468.7 280.5 470 280.1 471.2 M279.2 449.3 280.1 448.3 281.4 448.6 281.5 449.8 280.5 450.7 M302 487.5 303.3 487.3 304.2 486.4 304.9 485.3 M269 460.3 267.9 459.6 267.3 458.5 267.1 457.2 267.5 456 M326.2 476.6 327.4 477 328.6 477.6 329.8 478.2 330.7 479 M309.6 460.6 308.6 459.7 308.5 458.4 309.1 457.2 M277.9 504.8 279.1 504.2 279.1 502.9 278.2 501.9" stroke="#44301c" stroke-width="1.2" fill="none" stroke-linecap="round"/>
<path d="M278.2 476 276.9 476 275.6 476.4 274.7 477.3 M302 490.6 300.7 490.6 299.7 489.9 299.2 488.7 299.9 487.6 M312.4 472.5 311.2 471.9 310 471.5 309 470.7 M262.1 488.5 261.5 489.7 260.2 489.9 259 489.5 258.4 488.3 M280.7 485.6 282 485.2 283 484.4 283.7 483.3 284.3 482.2 M292.2 488.1 293.4 487.7 294.1 488.8 294.1 490.1 M293.5 477.3 292.3 477.7 291.1 477.2 290.3 476.2 289.4 475.3 M319.9 485.6 319.1 486.7 318.3 487.7 317.1 488.3 315.9 488.5 M264.8 470.3 264 469.2 264.6 468 265.9 468 266 466.7 M308.9 459.4 309.9 458.6 309.8 457.3 308.8 456.4 M269 493.8 269.9 492.9 269.8 491.6 270 490.3 271.3 490.1 M304.2 481.9 303.9 483.2 302.9 484 302.1 483 M280.8 489.2 281.6 488.2 282.9 488.2 284.1 488.7 284.9 489.8 M268.9 460.5 269.3 461.8 269.9 463 270.8 463.9 272.1 464.1 M278.8 502.6 280 502.2 280 500.9 M300.1 449 301.3 448.5 302.4 449.2 M279.7 478.6 279.4 479.9 278.8 481.1 277.8 482 276.6 482.5 M279.6 493.9 279.6 495.2 280.4 496.2 281.7 496.3 282.6 495.4 M266.4 484.1 265.2 483.5 265.2 482.2 266.2 481.3 M285.5 473.6 284.3 473.2 283.2 473.8 282.3 474.7 M271.2 494.2 271.2 492.9 270.5 491.8 269.4 491.1 268.1 491.1 M291.6 473.9 292.9 474.1 293.9 474.8 294.8 475.8 M285.5 493.3 286.6 492.6 287.6 493.4 288.1 494.6 288.1 495.9 M328.8 484.2 329.1 485.4 327.9 486 326.6 485.9 325.4 485.6 M321.1 502.2 321.8 501.1 322.1 499.9 321.9 498.6 321.8 497.3 M322.3 466.7 323 467.8 322.9 469.1 M288.7 467.6 289.8 466.8 291 467.2 M261.7 509.7 261.9 511 261.9 512.3 261.4 513.4 M255.9 481.7 257.2 481.8 258 480.8 M283.8 446.6 283.4 445.3 282.3 444.7 281.1 445 M280.9 470.2 282.1 469.7 283.4 469.6 284.1 470.7 M274 483.6 274.6 482.5 274.5 481.2 274.1 479.9 274 478.6 M291.3 490.3 291.2 491.6 290.1 492.1 289 491.4 M262 460.4 263.2 460 264.1 459.1 264.2 457.8 M283.4 486.2 282.1 486.2 281.5 487.4 280.6 488.3 279.5 488.9 M279.9 484.6 279 485.5 279.5 486.7 280.7 487 281.9 486.5 M278.3 499.8 279.6 499.8 279.9 501 281.1 501.5 282.2 500.9 M306.5 468.8 307.7 469.3 309 469.7 310.1 470.2 M304.5 517 305.5 516.2 306.5 515.4 307.7 515 M304.4 475.6 304.8 474.4 304.3 473.2 303.5 472.1 302.2 472.1 M290.9 504.1 290.9 505.4 290.2 506.5 M290.5 501.7 289.5 502.5 288.8 503.7 288.2 504.8 287.1 505.6 M287.2 443.2 287.1 441.9 285.9 441.3 M280 492.4 278.7 492.4 278.5 493.7 279.7 494.1 281 493.7 M280.3 483.7 281.5 484.3 282.7 483.9 283.8 483.1 M270.7 478.4 269.8 479.4 268.8 480.2 267.6 480.8 266.3 480.9 M288.8 484.5 289 485.8 288.1 486.7 287 487.5 M287.1 462.5 286.5 461.4 285.2 461.3 284.7 462.5 285.1 463.7 M291.4 514.3 292.7 514.1 294 514.3 295 515 M286.1 494.3 285.7 495.5 285.7 496.8 284.6 497.5 283.3 497.1 M273 490.7 272.2 489.6 271.5 488.6 270.5 487.7 269.9 486.6 M283.1 481.1 281.8 481 280.6 481.6 279.9 482.7 280.4 483.9 M287.7 492.3 286.4 492.2 285.1 492.4 284.1 491.7 M282.8 503.4 283.9 504.1 284.2 505.4 285 506.4 286.3 506.5 M299.7 472.6 298.7 473.4 297.8 474.3 M302.8 484.1 303.7 485 304.2 486.2 M251.4 480.8 251.3 479.5 250.2 478.9 249.1 479.5 M308.3 480.9 307 480.5 306.8 479.2 M284.8 474.5 284.5 473.3 285.4 472.4 286.7 472.2 M258.3 482.5 258.3 483.8 259.6 484.1 260.2 483 259.1 482.3 M270.1 482.8 270.9 483.8 271.6 484.9 272.6 485.7 M280.4 475.8 280.8 477 281.3 478.2 282.4 479 M299 452.7 298.6 451.5 298.3 450.2 298.6 449 M289.6 448.5 288.4 448.1 287.1 447.7 285.9 448 M307 493.4 307.9 492.4 307.7 491.1 306.9 490.1 305.6 490.4 M271.4 507.7 270.2 508.3 268.9 508.1 267.6 507.7 M303.3 486.8 304.3 487.6 305.6 487.4 306.7 488 M274.1 482.8 272.8 482.4 271.6 482.7 270.6 483.5 270.1 484.7 M285.1 487.7 284.9 486.4 284.1 485.3 M308.3 461 308.7 459.7 309 458.4 309.3 457.2 M244.8 482.9 244 481.8 244.7 480.7 245.9 480.2 247 480.9 M283.3 459.4 283.5 458.1 284.2 457 284.1 455.7 M275 485.9 273.8 486.2 272.6 485.6 271.8 484.6 M302.1 477 303.3 476.7 304.5 476.2 305.8 476 M267.3 452.6 266 452.3 265.2 451.4 264.9 450.1 M272 480.9 271.7 482.1 271.4 483.4 M322.4 489.6 321.8 488.4 321.2 487.2 320.1 486.6 318.9 486 M322 473 322.5 474.2 323.8 474.5 324.8 475.3 M281 501.4 281.1 500.1 281.6 498.9 282.7 498.2 283.9 498.8 M268.9 476.6 268.8 477.9 268.2 479 267.4 480 M311.3 475.7 312.3 474.7 312.9 473.6 313.7 472.6 314 471.3 M279.7 495.8 279.3 494.6 278 494.2 276.7 494.1 M277.7 480.4 276.7 479.7 275.4 479.9 274.3 480.6 M287.2 474.8 288.1 473.9 288.4 472.6 288.2 471.4 288.4 470.1 M288 490.4 288.3 491.6 289.2 492.5 290.2 493.4 M279.9 473.8 281 474.4 282.2 475.1 283.3 474.5 M294.1 511.9 293.2 512.9 292 513.3 291.1 512.3 291.5 511.1 M269.3 517.8 269.6 519.1 269.3 520.4 M306.7 484.7 307 485.9 306.9 487.2 306.8 488.5 307.1 489.8 M278 452.2 278.1 450.9 278.8 449.8 280 449.3 M286.9 454.5 287.7 453.5 287.9 452.3 288.1 451 287.8 449.7 M293.6 489.6 294.5 488.7 294.7 487.4 M253.1 507 253.1 505.7 253.3 504.4 252.9 503.2 253.2 501.9 M299.3 459.3 300.4 460.1 301.4 460.9 302.7 461.1 303.9 461.6 M314.2 483.1 315 484.1 314.4 485.3 313.2 485.7" stroke="#2e2218" stroke-width="1.2" fill="none" stroke-linecap="round"/>
<path d="M265 471.1 265.5 469.9 265.6 468.6 265.5 467.3 265.5 466 M301 479.4 301.2 480.6 302.2 481.5 303.3 480.7 M295.7 505.6 295.1 506.8 295.4 508.1 296.7 508 M296.2 493.3 297.5 493.7 297.7 495 296.5 495.4 295.4 494.6 M270.2 492.5 271.4 493 272.4 493.9 273.5 494.5 274.8 494.5 M315.1 498 314 497.4 312.7 497.6 311.4 497.6 M289.7 461.7 288.5 461.6 287.3 461 286.8 459.8 286.6 458.5 M290 474.7 289.1 475.7 288.5 476.8 M268.9 460.8 270.1 461.1 271.4 461.2 272.6 460.6 M303.7 484.6 304.1 483.4 305.4 483.2 306.2 484.2 306.2 485.5 M262.5 457 261.3 456.4 260.1 456.1 258.8 455.8 M303.3 460.3 303.5 459.1 304.3 458 303.9 456.8 302.6 456.4 M304.3 514.5 305.6 514.4 305.8 513.1 304.9 512.1 M285.7 465.6 285.8 464.3 286.7 463.3 287.8 462.6 M287.3 461.3 288.1 460.2 288.5 459 289.6 458.2 290.9 458 M288.4 499.4 289.6 498.9 290.8 499.3 291.7 500.3 M284.8 467.9 283.7 468.6 282.9 469.6 282.2 470.7 M263 459.5 264.2 460 265.2 460.9 265.8 462 M315.4 461.2 314.2 461.7 313.7 462.9 313.3 464.1 314.4 464.8 M253.1 495.6 253.8 494.6 253.8 493.3 254 492 M285.2 460.9 286.4 461.1 287.7 461.5 288.5 462.5 M287.6 490.7 288.3 491.8 289.3 492.7 M282.6 459.1 282.8 460.4 282.8 461.7 282.2 462.9 M296.2 452.7 294.9 452.5 293.8 451.8 292.6 451.3 291.5 450.6 M260 458.7 261.1 459.4 262 460.3 262.9 461.3 264.2 461.7 M284.9 461.2 285.9 460.3 286.7 459.4 287.8 458.6 288.8 457.9 M264.7 451.9 265.2 453.1 266.4 453.6 267.5 454.4 268.4 455.3 M285 497.3 286.1 496.7 285.5 495.5 284.4 496.1 283.2 495.4 M283.9 477 282.8 476.2 281.9 475.2 280.8 474.5 M249.3 477.8 248.1 478.3 247.5 479.5 248.3 480.5 M309 474.6 307.9 475.4 307.4 476.6 307.7 477.9 M284.8 460.1 286 460.4 287.3 460.6 288.4 461.3 M277.1 475.2 275.8 475.6 274.8 476.4 274.2 477.6 273.5 478.7 M305.9 473.3 304.8 473.9 303.5 474.1 M301.9 455.9 302 454.6 302.3 453.3 301.4 452.3 M275.5 474.4 275.8 475.7 275.1 476.8 274 477.4 M277.1 461.8 276.5 460.6 276 459.4 275.1 458.5 273.8 458.2 M281.8 487.2 281.5 488.4 282.6 489.1 283.9 488.8 284.1 487.5 M293.2 475.7 293.2 474.4 293.5 473.1 293.1 471.8 292.1 471 M286.7 463.9 285.4 463.9 284.5 464.8 284.6 466.1 285 467.3 M280.2 467.3 280.1 466 279.1 465.2 278.8 463.9 279.7 463 M273.5 445.8 274.5 444.9 275.8 445.1 277 445.6 277.4 446.8 M311.6 481.5 311.6 480.2 312.5 479.2 312.5 477.9 312.3 476.6 M302.9 454.4 302.6 453.2 303.6 452.4 304.6 453.2 M269.1 498.6 268.3 499.6 268.4 500.9 269.6 501.3 M304.3 494.7 304.2 493.4 304 492.1 304.2 490.8 305 489.8 M263.1 508 264.2 508.6 264.8 509.7 264.2 510.9 264.8 512 M270.2 459.4 269.3 458.5 268.2 458 266.9 458.4 265.9 457.6 M283 448.2 282.7 446.9 282.4 445.6 282.1 444.4 282.4 443.1 M298.1 446.7 296.9 446.4 295.6 446.2 294.3 445.8 M280.3 503 280.1 501.7 278.9 501.3 277.7 501.6 M297.7 512.8 297 511.7 297.3 510.5 298.6 510.2 299.9 510.4 M248.6 487 247.4 486.5 247.7 485.3 248.9 485 M306.2 502.6 305 502 303.7 502.1 302.7 502.9 301.8 503.8 M290.1 465.8 288.8 466 287.9 466.9 287.4 468.1 M287.4 482.5 287.1 481.3 286.8 480 287.3 478.8 M288.3 483.1 287.3 482.4 286 482.4 M299.2 505.2 300.2 504.4 300 503.2 298.7 502.9 M263.3 480.6 264.2 479.6 265.3 478.9 266.5 478.7 M281.8 493.3 280.6 493.9 279.3 494 278.1 493.7 277.4 492.6 M248.5 481 247.6 480 246.6 479.2 245.4 478.8 244.1 478.8 M269.7 472.7 270.6 471.9 271.8 472.4 272 473.7 M309.3 493.8 308.1 493.3 307.4 492.2 307.9 491 308.3 489.8 M275.5 472 275.2 470.8 273.9 470.5 273.3 471.6 M271.4 459.6 272.7 459.3 274 459.7 275.1 460.4 M262.4 481 263 482.2 261.9 482.9 260.7 482.5 M247.3 481.3 248.5 480.8 249.8 481.2 250.6 482.2 250.8 483.5 M275.9 504.8 275.3 503.6 275.9 502.5 M289.8 482.7 289.9 481.4 290 480.2 289.6 478.9 288.9 477.8 M264.3 507.5 265.6 507.4 266.8 507.9 268.1 508.3 M290.1 466.5 291.1 465.6 290.5 464.4 M278.7 499.1 279.9 499.4 280.7 500.4 280.8 501.7 M283.2 513.1 282.2 512.3 281.1 513 280 513.7 279.1 514.7 M300.8 467.3 301.7 468.3 302.1 469.5 302.5 470.7 M298.1 455.3 298.6 454.1 299.4 453 299.5 451.8 300.7 451.2 M271.5 501.6 272.7 502.1 273.1 503.4 M294.8 482.2 295.2 480.9 294.6 479.7 293.3 479.6 292.2 480.2 M316.8 477.3 317.9 476.6 319.1 476.2 M263.4 472.3 262.5 473.3 262.7 474.5 263.6 475.5 M245 493.5 246.3 493.5 246.8 492.3 246.4 491.1 245.2 490.7 M304.4 498.4 305 497.2 306.1 496.4 M263.2 474.6 261.9 474.3 260.6 474.4 M278.4 515.4 277.5 516.3 276.7 517.3 M308.3 506.3 307.1 506 306 505.2 M289.4 485.7 288.2 485.9 287.5 484.8 287.8 483.5 M294.9 457.9 296 458.6 295.4 459.7 294.1 459.9 M280.6 487.9 281.5 488.8 282.2 489.9 283.2 490.7 283.7 491.9 M286.8 473.9 285.6 474.2 284.7 475.2 285.1 476.5 M276.4 504.1 276.3 505.4 277 506.5 277.6 507.7 M304.7 495.6 304.6 496.9 304 498.1 304.2 499.4 304.6 500.6 M287.7 505.1 288.2 503.9 288.7 502.7 289.1 501.4 288.9 500.1 M296.2 449.2 296.3 450.5 295.7 451.6 294.4 452 293.3 451.3 M277.9 481.6 279 482.1 280.3 482.4 281.5 482 M303.4 507.4 304.3 508.4 304.7 509.6 305.5 510.6 306.8 510.4 M277.1 473.9 276.2 474.8 275.2 475.7 274.1 476.4 M271.1 504.8 271.2 506.1 271.5 507.4 M292 484.3 293.1 485.1 294.4 485.4 295.6 485.7 296.3 486.8 M267.1 491.6 266.1 492.4 265.9 493.7 266.8 494.6 M284.5 495.2 283.2 495.4 282.2 496.3 281.1 496.9 279.9 496.4 M247.2 462.7 247.2 461.4 247.5 460.1 248.4 459.3 M277.5 473.2 277.2 471.9 276.8 470.7 277.1 469.5 M269.9 446.5 268.9 447.3 267.7 446.9 M267.5 472.9 268.7 473.3 270 473 270.9 473.9 M286.1 466.5 284.9 466 283.7 466.4 M312 479.3 312.9 480.3 313.3 481.5 313.2 482.8 312.5 483.9 M269 464.1 268.8 465.4 268.9 466.7 268 467.6 M267.9 482.3 266.8 483 266 481.9 267 481.1 268.2 480.6 M292.8 474.6 293.8 473.7 294.5 472.6 294.4 471.3 293.8 470.1 M266.2 486.5 266 485.2 265.7 483.9 265.6 482.6 266.7 481.9 M283.1 448.7 283.2 447.4 283.6 446.2 M320.5 475.5 321 476.7 320.4 477.9 M263.1 473.7 264.3 473 265.6 473.2 M289.7 478.2 289.3 476.9 289.9 475.8 M308 462.6 308.3 463.9 309.4 464.7 309.1 465.9 308 466.6 M275.2 506.2 274.1 506.9 273.5 508.1 274.3 509.1 275.4 508.4 M262.2 485.6 262.7 486.8 262.1 488 260.9 488.3 259.7 487.7 M286.7 457.9 286.5 456.6 287.3 455.5 287.9 454.4 287.1 453.4 M273.2 474.2 272.1 473.4 272.3 472.2 272.1 470.9 272.5 469.6 M282.8 492.5 283.8 493.3 284.9 494 286.1 494.4 M276.8 511.8 275.6 511.4 274.3 511.8 274.1 513 274.6 514.2 M264.3 502.9 263.3 503.8 262.5 504.7 261.6 505.7 M282 467 280.8 467.7 279.7 467.1 279.5 465.9 M276.8 461 275.7 461.7 275 462.8 275.2 464.1 M263.3 477.6 263.6 478.9 263.1 480.1 M281.9 476.6 281.1 475.6 280.6 474.4 280.6 473.1 280.9 471.9 M286 501.5 284.9 500.7 283.6 500.6 282.8 501.7 M292.2 481.9 293.5 482 294.7 481.7 296 481.5 M291.4 475.9 292.6 475.5 292.8 474.2 292.4 473 M277 455.1 275.7 454.8 274.4 455 273.2 455.4 272.2 456.3 M275.1 480.1 274.2 481 273.1 480.4 273.3 479.1 274.6 479" stroke="#3a2a1c" stroke-width="1.2" fill="none" stroke-linecap="round"/>
<path d="M279.9 460.7 280.4 461.9 281.7 461.6 282.2 460.5 282 459.2 M280.5 485 279.4 485.7 278.6 486.7 277.6 487.6 M262.8 485.5 261.9 484.5 262.6 483.4 263.5 482.5 M302.7 488 302.9 489.3 303.5 490.4 304.6 491.1 M285.8 490.1 284.8 489.3 283.6 488.8 M295.1 479.9 296 478.9 296.1 477.6 295 477 M289.4 468.9 288.1 469 286.8 468.7 285.8 467.8 285.4 466.6 M265.9 469.9 264.6 470 263.3 470.2 262.6 471.3 M287.8 498.4 287.3 499.6 286.2 500.3 285.3 501.2 284 501.2 M267.3 479.8 267.1 478.6 266.3 477.5 265.1 477.1 264 477.8 M267.1 482.4 265.8 482.2 264.5 482.2 263.6 483.2 263.7 484.5 M291.6 500.5 290.4 501.1 289.7 502.2 290.1 503.4 M258.9 490.4 259.2 489.1 258.9 487.8 258.6 486.6 M279.5 485.9 278.4 486.7 278 487.9 276.9 488.4 275.8 487.7 M308.1 494.3 309.4 494.2 310.7 494.2 311.9 493.8 M271.5 473.7 270.8 474.8 270.8 476.1 271.6 477.1 M252.5 486.7 251.4 487.5 250.1 487.6 248.9 487.2 M288.4 472.7 289.1 473.8 290.3 474.2 291 473.1 M281.3 447.7 280.6 446.6 281 445.3 M279.8 471.2 280.4 470 281.4 469.2 282.6 468.6 283.9 468.7 M296.2 473.7 296 475 294.9 475.7 293.6 475.5 M289.1 492.3 290.3 491.7 290.6 490.4 290.1 489.2 M278 472.8 277 472 275.9 472.7 275.3 473.9 276.1 474.9 M269.6 447.4 270.9 447.2 272.2 447.3 273.5 447.2 M295.6 480.5 296.1 479.3 295.2 478.5 293.9 478.1 M290.3 496.3 289 496.4 287.8 496.6 286.6 496 287.1 494.8 M270.5 495.3 271.3 494.3 272.6 494.1 273.9 494.3 275.2 494.2 M278.1 509.7 278.4 508.4 278.7 507.2 279.1 506 280.4 505.5 M272.4 481.6 271.1 481.7 269.8 481.6 268.5 481.6 M287.3 464.5 288.6 464.7 289.9 464.8 291.2 464.8 292.4 464.2 M270.6 451.6 269.5 452.3 268.3 452.7 267 452.5 266.2 451.4 M269.6 478 270.8 478.3 271.9 479 272.8 479.9 M292.1 463.2 291.8 464.5 291.1 465.6 M266.5 491.2 266.3 492.5 267.1 493.5 268.1 494.2 268.9 495.3 M278.8 477.6 277.7 478.1 276.4 478.3 M289.9 500.7 289.4 499.5 288.1 499.1 286.8 499.1 M285.3 485.9 284.8 487.1 285 488.4 284.7 489.7 M292.2 481.4 290.9 481.1 290.6 479.9 291 478.6 M282.9 485.2 283.9 484.4 284.8 483.5 285.2 482.2 284.3 481.2 M303.5 470.9 302.5 470 302.1 468.8 302.5 467.5 303.6 466.9 M268.7 452.3 267.4 452.1 266.3 452.8 266.4 454 267.1 455.1 M290 500.2 290.7 499.1 291 497.9 291 496.6 290.6 495.3 M314.2 473.4 313.5 472.3 312.2 472.1 310.9 471.9 309.6 471.6 M263.3 479.5 263.2 480.8 261.9 480.9 261.1 479.9 M278 483.6 278.8 484.6 277.9 485.5 276.9 484.7 M269.1 496.2 270.1 497 270.9 498 271.6 499.1 272.5 500 M292.8 483.9 292.6 485.2 291.8 486.2 290.5 486.4 M288.6 506.7 289.7 506.1 291 506.5 291.4 507.7 M287.7 473.4 286.8 472.5 285.5 472.5 284.2 472.8 M291.7 470.7 292 471.9 292.4 473.2 292.3 474.4 M287.7 479.4 289 479 290 478.2 290.6 477.1 M304 480.7 303.1 481.6 302.3 482.6 301.7 483.8 300.6 484.4 M289.9 461.7 290.5 462.9 289.6 463.9 288.4 463.7 287.8 462.5 M287.6 489.6 286.5 490.4 285.3 490.1 284.3 489.2 M292.1 505.7 292 507 292.9 508 294.2 508.2 M289 465.4 290.3 465.8 291.5 465.3 292.6 464.6 M283.9 502 285 502.6 286.2 503 287.4 503.5 M287.8 486.9 289 486.5 290.3 486.1 M267.8 471.1 267.1 472.1 267 473.4 268.2 474.1 M289.8 453.3 288.8 452.5 287.8 451.7 286.6 451.1 M300.2 468.1 299.6 467 298.3 467.3 297.5 468.2 297.5 469.5 M270.8 492.1 271.7 493.1 272.9 493.3 274.2 493 275.4 492.5 M262.8 496.7 261.6 496.2 260.8 495.2 259.9 494.2 M294 466.2 295.1 467 296.3 467.3 297.6 467.8 M294 460.5 292.9 461.2 291.6 461.2 290.3 461 M292.9 469.4 291.6 469.6 290.3 469.4 290 468.2 M294.7 487.4 293.4 487.4 292.2 487.8 291.1 488.4 290.6 489.7 M269.5 468.7 270.5 469.5 271.8 469.6 M302.7 448.9 302.6 447.6 302.2 446.3 301.1 445.6 299.9 446 M263.1 492.5 263.5 491.3 263 490.1 262 489.4 261.1 490.4 M266.8 481.8 265.6 481.2 264.3 481 263.1 480.7 262.4 481.8 M280.4 453.1 279.5 454 278.5 454.9 277.3 455.2 M299.9 474.2 300.3 475.4 299.5 476.4 298.2 476.1 M261.7 459.1 261.2 460.3 260.5 461.3 260.2 462.6 259.5 463.7 M282.7 469.8 282.1 470.9 280.9 471.3 279.6 471.3 M268.1 480.8 269.4 480.8 270 479.7 269.7 478.4 M283.4 449.4 283.5 448.1 282.5 447.3 281.3 446.8 280 446.6 M287 475.5 285.7 475.3 284.9 474.3 283.7 474.6 282.9 475.6 M279.4 491.6 280.6 492 281.7 491.2 281.2 490 M282.7 486 281.8 486.9 280.5 487.2 279.6 486.3 M271.8 463.6 272.6 462.6 273.7 461.9 274.4 460.8 274.6 459.5 M270.1 451.6 270.9 452.6 272.1 452.1 272.5 450.8 M266.3 507.5 267.6 507.8 268.7 508.4 269.9 508.9 271.2 508.5 M305.4 459.5 305.6 460.8 304.6 461.7 303.4 462.1 M303.4 482.1 302.6 483.1 301.3 483.2 300.6 482.2 M254.2 461.8 255.4 461.3 255.6 460 M299.7 478.9 301 478.9 301.6 477.7 301.1 476.5 300.1 475.7 M287.2 516.8 288.3 516.2 289.5 516.7 289.5 518 289.6 519.3 M301.5 469.8 300.3 470.2 299.8 471.4 300.1 472.7 301.1 473.5 M290.6 475.5 289.3 475.5 288.1 475.6 287.6 476.9 287.8 478.1 M297.6 458.8 298.9 458.8 300.1 458.2 300.1 456.9 299 456.1 M294.9 480.5 295.1 481.8 295.2 483.1 296.1 484 M278.6 450.9 277.5 450.3 276.5 449.5 275.8 448.4 M305.8 462.5 305.2 463.7 304.9 464.9 304.8 466.2 304.8 467.5 M286.7 500.8 287.6 501.8 288.6 502.6 M308.2 497.2 307.6 496 306.6 495.2 305.9 494.1 M307.9 462.5 306.8 463.2 305.6 463.7 305.5 465 M301.3 462.4 300.5 461.3 299.2 461.5 298.8 462.7 M284 474.2 282.7 474.2 281.8 475.1 280.8 474.2 280.7 472.9 M319.1 475.1 320.4 475.2 321.7 475.2 322.7 475.9 M270.6 505.1 271.5 505.9 272.8 506 M272.3 459.2 273.5 458.6 274.8 458.5 M277.5 495.8 276.6 494.8 275.7 493.9 274.9 492.8 275.7 491.8 M266.9 495.5 268.2 495.5 269.5 495.3 270.8 495.3 M252.5 476.9 252.8 475.7 252.1 474.6 251.3 473.5" stroke="#54422a" stroke-width="1.2" fill="none" stroke-linecap="round"/>
<path d="M269.1 482.5 270.4 482.7 271.7 482.8 M290.5 472.6 289.3 472 289.1 470.7 288.1 469.9 287.1 470.7 M266.7 479.8 266.1 478.7 265.3 477.7 264.2 477 M294.1 511.7 294.6 510.5 295.6 509.6 M282.4 510.3 282.4 509 282.8 507.8 283.9 507 M264.8 465.4 264.4 464.1 265.1 463 M280.5 451.3 281.8 451.4 282.7 452.4 282.1 453.5 M285.5 485.7 284.2 486 283 486.5 281.7 486.4 M296.2 498.2 295 497.6 294.1 498.4 294.6 499.6 295.9 499.5 M308.5 464.9 307.6 464 308.5 463 309.8 463.1 M283.2 490.2 282.7 489 282.3 487.7 281.2 487 M281.9 501.5 280.9 500.6 280.3 499.5 280.5 498.2 280.7 496.9 M289.9 466.7 291.2 467 292.4 466.6 293.5 465.8 M302.9 464 302 463 300.8 463.4 299.7 464.1 M287.7 481.6 287.6 480.3 288.6 479.6 289.9 479.9 290.2 481.2 M297.4 492.6 298.5 491.9 299.8 491.9 300.9 491.2 300.2 490.1 M260.4 471.2 259.1 471 257.8 470.9 M270.9 489.9 270.5 488.6 270.5 487.3 270.8 486.1 271.3 484.9 M251.8 496.8 253.1 497.1 253.1 498.4 252.1 499.4 M288.7 464 288 462.9 287.3 461.8 286 461.7 284.7 461.6 M290.1 471.8 290.8 470.7 290.2 469.5 289.3 468.5 288.3 467.7 M297.4 451.6 298.6 452.2 299.9 452 300.2 450.8 M277 458.6 278.3 458.9 279 460 279.2 461.3 M307.9 472.9 307.5 471.7 307.6 470.4 308.5 469.4 M328.4 485.9 327.6 484.9 326.6 484 325.9 482.9 325 482 M269.3 503.5 269.5 502.2 270.6 501.6 M307 466.8 305.7 466.6 304.5 466.1 303.3 465.6 302 465.6 M308.9 492.1 309.6 493.2 309.9 494.4 310.1 495.7 M298 489.5 297.6 488.2 297.2 487 M300.4 491 299.6 489.9 299.5 488.6 299 487.4 298.1 486.5 M260.5 487.9 259.3 487.4 258.5 486.4 258.7 485.1 M277 475.5 275.7 475.9 274.8 476.7 274.2 477.9 M274.2 487.1 275.5 486.8 276.7 486.3 277.4 485.2 M311.4 489.2 311.8 490.4 311.3 491.6 310.4 492.5 M295.5 496.2 295.6 494.9 295.9 493.6 296.6 492.5 296.9 491.3 M265.4 477.4 264.2 477.9 262.9 477.6 M306.3 460.2 307.1 461.3 307.9 462.3 308.5 463.5 M286.2 442.7 287.1 443.6 287.7 444.8 287.5 446 288.5 446.9 M270.7 498.3 271.3 499.4 271.2 500.7 271.5 502 271.2 503.3 M246.3 465.6 246.8 466.8 248.1 467 249 466 249.4 464.8 M258 460.7 257.1 461.7 256.8 462.9 257.5 464 M280.1 477.7 278.9 477.2 277.8 477.8 276.7 478.5 275.7 479.3 M288.2 502.9 288.9 501.8 289.9 501.1 291.2 501.1 M300.7 485.6 299.6 484.9 298.3 484.7 297 484.5 295.7 484.2 M286.2 462.9 287.4 463.3 287.8 464.5 287.6 465.8 M256.8 479.2 256.6 477.9 257 476.7 258 475.9 M282.9 484 284.1 484.2 284.9 485.3 284.6 486.6 M292.7 500.3 293.9 500.8 295.2 501.2 M299.3 490.9 300.3 491.8 301 492.8 302.3 493.3 303.6 493.3 M274.8 506.9 274.1 505.7 272.9 505.2 271.7 505.7 M278 460.8 276.9 460.2 275.6 460.7 275.1 461.9 M264.8 482.5 266.1 482.5 267.4 482.3 268.5 482.8 269.2 484 M274.4 473.1 275.2 472 275.2 470.7 274.4 469.7 273.4 469 M291.8 482.2 291.5 483.5 291.4 484.8 291.5 486.1 M278.7 480 278.4 478.7 278.9 477.5 M286.7 460.2 286 459.1 285.3 457.9 285 456.7 M299.4 497.4 299.9 498.6 299.1 499.6 298.3 500.6 M278.8 480.8 279.7 479.8 281 480.1 282 480.9 281.4 482.1 M277.1 463.3 278.3 462.8 278.9 461.6 279.3 460.4 279.2 459.1 M274.9 468.6 275 467.3 276.2 466.8 277.5 466.7 278 467.9 M264.3 456.3 263.1 456.6 262.2 457.6 260.9 457.6 259.6 457.3 M246 496.1 245.5 497.3 245.2 498.6 245 499.9 245.8 500.9 M264 475.4 263.2 476.4 262.4 477.4 261.3 478.2 M285.4 444.4 285.7 445.7 285.6 447 285.1 448.2 M323.3 501.4 323.6 500.1 322.9 499.1 M293.9 476.5 295.2 476.2 296.3 475.6 296.7 474.4 296.5 473.1 M299.5 485.6 298.6 486.5 298.3 487.8 297.5 488.8 297 490 M253 476.1 254 475.2 253.5 474 252.4 473.2 M282.8 472.7 281.7 473.5 280.5 473.4 279.6 474.3 M294.8 469.9 296 470.4 297.2 471 298.3 471.7 M266.9 459.3 266 460.2 265.7 461.5 266.2 462.7 266.3 464 M289.3 469.4 288.4 468.5 287.3 467.8 M309.9 480.3 308.7 479.8 307.8 478.8 306.6 478.5 M314.4 460.9 315.4 460 316.6 459.5 317.9 459.8 318.9 460.7 M245.4 468.9 246.5 468.4 247.5 467.5 248.8 467.8 248.9 469.1 M281.5 473.4 280.2 473.1 278.9 473.1 278.6 471.8 279.8 471.2 M250.1 475.1 250.2 473.8 251.3 473.1 252.5 473.4 252.6 474.7 M279.7 495.7 279 494.7 279.4 493.4 278.6 492.4 M291.6 506.4 292.4 507.4 293.6 508 293.6 509.3 M275 496.2 276.1 495.5 276.9 494.5 276.7 493.2 275.4 492.8 M288.8 461.6 288.1 462.7 288.8 463.8 290.1 463.6 M264.6 477.4 263.3 477.4 262.5 476.4 262.6 475.1 263.6 474.3 M264.9 460.4 263.8 459.8 262.5 460.1 261.3 460.6 M267.4 473.7 268.5 474.4 269.3 473.4 M284.6 479.2 283.8 480.2 283.4 481.4 283.3 482.7 283 484 M289.4 464.1 290.1 463 289.9 461.7 288.9 460.9 M294.8 476.5 294.6 475.2 294.8 473.9 293.6 473.5 293.1 474.8 M286.3 479.1 285 478.8 284.4 479.9 284.4 481.2 M267.3 481.6 268.3 480.8 269.5 480.3 270.8 480.2 272.1 480 M264.6 492.6 265.8 493.1 266.9 493.8 268 494.5 268.3 495.7 M280.9 465.3 282.1 465.9 282.6 467.1 M311.9 479.6 312.7 480.6 313.3 481.7 313.1 483 M303.3 499.4 304.1 500.4 303.9 501.7 302.7 502.2 M293.2 505.6 294.3 504.8 295.5 504.2 296.7 504.6 297.7 505.4 M299.9 464 298.8 463.3 297.9 462.3 296.7 462 295.4 462.1 M265.1 487.3 266.4 487.5 267.1 486.4 267.1 485.1 267.6 483.9 M303.7 483.8 303 482.7 302.1 481.7 301.3 480.7 M287.8 487.9 287.6 486.6 288.6 485.9 M283.8 494.1 283.5 492.9 284 491.7 284.9 490.7 285.3 489.5 M276.4 488 275.3 488.7 274.1 489.3 M310.7 455 311.6 454.1 311.7 452.8 310.7 451.9 309.5 452.1 M266.3 490.8 266.4 489.5 266.8 488.3 267.2 487 268.2 486.2 M295.3 489.8 296.6 489.9 297.6 490.7 297.5 492 296.7 493 M277.6 482.8 276.3 483.1 275.1 483.7 274.1 484.5 274.2 485.8 M283 471.3 282 472.1 280.9 472.8 279.6 472.8 M301.4 464 300.7 462.9 299.4 463 299.3 464.3 300.5 464.8 M273.2 476.2 273.9 475.1 274.7 474 274.4 472.8 273.4 471.9 M286 479.1 286.8 480.1 287 481.4 287 482.7 286.7 483.9 M281.2 494.2 280.1 493.5 279 492.8 278.1 491.9 M241.9 473.9 242.4 475.1 242.8 476.3 M266.7 470.3 266.7 471.6 267.5 472.6 267.8 473.9 M289.8 463.5 289.5 464.7 289.7 466 289.8 467.3 290.2 468.5 M301.2 471.7 302.3 472.5 303.5 472.7 304.8 472.6 M270.7 468.7 269.5 468.1 268.3 468.5 268.4 469.8 M292.6 481.3 291.8 480.3 290.7 479.6 289.5 479 M290.4 492.1 290.4 493.4 289.4 494.2 288.1 494 286.9 493.7 M259.4 469.2 258.7 468.1 259.7 467.2 260.7 468 261.1 469.2 M294 456.3 293 457.1 291.7 456.7 290.8 455.7 290.7 454.4 M300.7 483.5 300.3 484.7 300.8 485.9 301.9 486.6 303.1 486 M282.3 468.5 283.5 469.2 284 470.3 284.4 471.6 284.7 472.8 M279.6 468.3 280.5 467.3 280.9 466.1 281.4 464.9 M299.3 512.7 300.5 512.1 301.6 511.4 301.8 510.1 301.7 508.8 M314.2 486.2 313.1 486.9 311.8 486.7 310.8 485.8 309.9 484.9 M267.6 475 268.4 476.1 269.7 476.4 270.8 475.7 271.3 474.5 M268.2 483.8 267.1 483 266 482.4 265.2 481.3 264 480.8 M299.7 472.4 298.5 472.8 297.2 472.6 M298.1 486.2 297.4 485.1 296.5 484.2 295.5 483.4 294.2 483 M289.7 458 291 457.6 291.6 456.5 290.7 455.6 M269.5 472.9 268.3 472.5 267.2 473.2 267.3 474.5 268.6 474.9 M284.4 470.7 283.1 470.3 281.8 470.3 280.7 471 M304.6 452.6 304.7 453.9 305.7 454.6 306.6 455.6 M256.9 472.7 256 473.6 254.7 473.5 254.4 472.3 M301.3 453.2 302.2 452.3 303.5 452.3 304.8 452.7 305.5 453.8 M288.7 467.5 288.7 466.2 288.8 464.9 289.5 463.8" stroke="#5e4a2e" stroke-width="1.2" fill="none" stroke-linecap="round"/>
<path d="M273.6 452.5 273.6 453.8 273.7 455.1 274.1 456.3 M317.8 500.3 318.7 499.4 318.9 498.1 M269.9 472.3 269.8 473.6 270.7 474.5 M292.8 500.9 292.8 499.6 292.2 498.5 290.9 498.9 M253.2 485.2 252 484.9 251.1 484 250.4 482.9 249.8 481.7 M311.9 463.6 313 464.3 314.3 464.4 315.6 464.2 M255.7 477 254.4 477.4 253.6 478.4 253.2 479.7 M293.7 446.8 294.7 447.6 294.8 448.9 M271.6 454.4 272.8 454.9 273.9 454.2 273.8 452.9 M280.7 484 279.4 484 278.1 483.6 277.5 482.4 277.1 481.2 M250.2 500.7 249.1 500.1 248.4 499 248 497.8 M288.8 474.8 289.3 475.9 290.5 476.5 291.7 476 M283 499.8 284 500.7 284.2 502 283.6 503.2 282.4 503.7 M289.3 456.3 290.4 455.6 291.4 454.9 292.6 454.4 M261.7 476.7 260.8 477.7 260.9 479 260.8 480.2 261 481.5 M257.9 487.8 258.9 486.9 259.6 485.9 M261.1 490 261.2 491.3 260.7 492.5 259.5 493.1 258.4 493.6 M311.5 449.8 312.8 450.2 314 450.7 315.2 450.4 M295.5 480.1 296 478.9 297 478.1 298.3 477.9 M282.1 483.4 282.5 484.6 281.4 485.2 280.4 484.4 281.1 483.3 M265.7 482.8 265.4 481.6 266.2 480.6 266.9 479.5 266.9 478.2 M297.3 474.4 297.7 473.1 298.3 472 298 470.7 297.8 469.5 M295.7 498.5 294.4 498.1 293.6 497.1 292.7 496.1 M276.5 485.2 277 484 277.3 482.7 278.5 482.3 279.7 482.9 M273.4 453.9 272.1 454.2 271.4 453.1 271.1 451.9 271.8 450.7 M275.7 492.1 274.4 491.7 273.3 492.4 272 492.7 M280.2 475.1 279.2 475.8 278.9 477.1 279.9 477.9 M277.8 460.9 278.9 460.2 280 460.8 279.8 462.1 M293.9 461.3 295.2 461.1 296.4 461.4 297.6 462 M251.3 461.3 250.1 461.8 249.2 462.7 248.9 464 M287.6 489.5 287.9 490.7 288.2 492 288.7 493.2 288.3 494.4 M277.8 479 276.6 479.3 275.4 479.7 274.1 479.4 M253.9 461.7 252.7 462.1 252 461 252.9 460.1 254 460.8 M276.1 487.7 275.2 488.6 274 489.2 M292.5 493.2 292.9 492 291.9 491.3 290.7 490.8 M279.6 442.7 278.4 442.2 278.2 440.9 278.9 439.7 M273 476.3 273.5 475.1 274.7 474.5 M312.2 467.2 311.3 466.3 310.1 466.8 M262.6 456.9 261.4 456.3 260.4 455.5 259.2 455.1 257.9 455 M285 455.4 286.3 455.3 286.8 454.1 286 453.1 M281.9 455.6 280.7 455.6 279.7 454.7 278.5 454.1 M323.8 493.8 322.6 494.1 322.8 495.4 324.1 495.3 M295 450.7 294.5 449.5 293.9 448.4 292.7 447.9 292.2 446.7 M301.3 482.7 302.5 483.2 303.2 484.3 302.9 485.6 301.8 486.3 M269.9 488.8 271.2 488.9 272.5 488.9 273.8 489.2 M286.1 501.7 286.7 502.8 286.3 504.1 285 504.3 283.8 504 M245.3 480.6 244 481 242.8 480.9 241.9 481.9 241.9 483.2 M265.1 481.7 264.7 482.9 265 484.2 265.3 485.4 M306.6 479.8 305.7 480.7 305.8 482 306.9 482.6 M289.4 488.9 290.5 488.3 291.4 489.3 291.9 490.5 291.2 491.6 M265 473.4 266.2 472.9 267.2 473.8 267.5 475 267.4 476.3 M275.8 519.4 276.8 520.2 277 521.5 277.7 522.5 M264.7 507.2 263.5 507 262.2 506.7 260.9 506.8 M266.9 475.7 265.8 474.9 265.7 473.6 266.9 473.1 268 473.8 M280.8 476.1 279.6 476.4 278.3 476.3 277.2 475.6 275.9 475.3 M275.8 460.4 275.6 459.1 276.5 458.2 277.4 459.1 M255.9 497.1 255.6 495.8 256.2 494.7 257.4 494.3 258.5 495 M277.7 480 277.9 481.3 277.2 482.3 276.1 483.1 M289.6 470.5 290.2 471.7 291.2 472.4 292.2 473.3 292.9 474.5 M255.6 511.2 254.3 511 253.2 510.3 251.9 510.4 M264.4 472.1 265.3 471.2 266.2 470.2 267.5 470.2 268.1 471.3 M311.8 451.2 311.2 450 310 449.5 308.9 448.9 307.6 448.8 M281.6 484.9 282.9 484.7 283.6 485.8 282.8 486.8 281.7 487.4 M303.5 499.9 304.5 500.6 305.8 501.1 306.2 502.3 305.3 503.2 M280.4 455.9 280.7 454.6 280.3 453.4 279.3 452.5 M275.1 484.8 275.2 486.1 275.5 487.4 275.4 488.7 275.4 490 M258.3 485.3 258.1 484 257.1 483.2 256.1 482.3 255.2 481.4 M255.1 468.1 256.4 468.2 257.5 467.5 258 466.3 257.6 465.1 M294 497.5 293.7 498.8 292.5 499.2 291.5 500.1 M291.9 471.1 293.1 471.4 294.4 471.7 295.7 471.4 296.9 471 M290 473.8 289.8 472.5 290.3 471.3 291.5 470.8 M251.1 495.3 251.3 494 251.8 492.8 252.4 491.7 M275.2 499.7 275.2 498.4 274.5 497.3 273.2 497.4 272.1 498.2 M246.5 487 245.5 487.8 244.2 487.5 243 487.1 M293.2 471.4 292.4 472.4 291.1 472.4 289.8 472.5 M273.8 478.7 275.1 479 276.4 478.8 277 477.6 M299.1 493.6 298.6 492.4 299.4 491.4 300.6 491.9 300.7 493.2 M296.8 481.4 296.4 480.2 295.6 479.1 294.5 478.5 M280.9 445.4 280.9 444.1 280.1 443.1 278.9 443.6 M279.1 485.8 278.7 484.5 278.8 483.2 277.7 482.5 276.5 483 M297 478.7 295.9 478.1 294.6 478.1 293.3 478.3 M252.7 457 251.4 457 250.2 456.4 249.4 455.4 M308.9 494.8 309.6 495.8 309.2 497 308.4 498.1 M302.4 464.7 302.7 466 303.4 467 304.2 468.1 M294.2 463.8 294.1 465.1 292.9 465.6 291.9 464.7 291.6 463.5 M276 466.3 277.3 466.3 278.4 466.8 278.7 468.1 278.1 469.2 M309.5 460.4 310.2 461.5 310 462.8 309.4 464 308.3 464.7 M254.3 476.9 253.4 477.9 252.1 478 250.8 478 249.7 477.4 M306.4 475.9 307.3 474.9 306.6 473.7 305.3 473.5 304.2 474.1 M301.2 445.8 300 446.1 299.4 447.3 M255.6 468.5 256.6 469.4 257 470.6 256.6 471.9 M274.5 493.2 273.6 492.3 272.8 491.3 271.8 490.5 270.6 489.9 M282.9 492.1 281.6 492.5 280.5 493.2 279.3 493.4 278.9 494.6 M280 486.9 279 486 277.9 485.3 276.7 484.8 M262 490.2 260.8 490.6 259.6 489.9 258.5 489.2 M254 479.6 254.3 478.3 253.2 477.7 251.9 477.8 M319.9 468.6 320.3 469.9 319.8 471 319.7 472.3 320.6 473.3 M293.1 487.3 294.4 487.1 295.3 486.3 295.2 485 294.4 483.9 M262.4 462.1 262.5 463.4 263 464.6 262.1 465.6 M277.3 489.4 278.4 490.1 279.7 490.1 280 491.4 280.3 492.6 M300.3 499 301.6 499.1 302.3 500.1 302.6 501.4 M316.5 464 316.7 465.3 316.2 466.5 316.1 467.8 M300.9 478.4 299.7 478 298.8 477.1 298.1 476 297 475.3 M295.3 481 294.4 482 293.3 482.6 292 482.3 291 483.1 M283.3 471.4 284.6 471.3 285.9 471.3 286.8 470.4 286.9 469.1 M305.1 484.6 305.1 483.3 306.4 483 M270.3 498.2 270 496.9 268.8 496.6 267.6 497.2 267.1 498.4 M259.3 479.5 258.5 478.5 257.2 478.6 256 479 254.8 479.6 M299.4 476.9 300 475.7 301 474.9 M299.5 464.7 299.1 466 297.8 466.2 296.6 465.9 295.6 465 M324.1 493.9 325.2 494.6 325.5 495.8 324.5 496.7 M320.2 467.7 318.9 467.8 318.1 466.8 317.8 465.5 318.5 464.4 M263.1 474.4 263.6 475.6 262.5 476.4 261.3 475.9 261.2 474.6 M316.4 488.3 317.6 488.8 318.8 488.3 319 487 M298.7 466.6 298.6 467.9 298 469.1 296.7 469.4 295.9 470.4" stroke="#66502e" stroke-width="1.2" fill="none" stroke-linecap="round"/>
<path d="M302.8 484.9 303.9 486.2 305.4 486.8 306.9 487.7 M285.6 467.5 284.4 466.3 283.9 464.6 M284.2 481.6 283.3 483.1 283.3 484.8 M274.2 482.9 274.4 484.6 273.8 486.2 273.6 487.9 M307.7 481.1 306.8 482.5 306.2 484.1 M282.7 479.8 281 479.9 279.4 479.3 M267.7 477.3 266.3 478.3 266.2 480 267.3 481.3 M282.9 479.9 282.1 481.4 281.4 483 280.4 484.3 280.5 486 M272 466.2 270.4 465.5 269 464.6 M277.7 472 278.9 470.8 279.6 469.3 279.4 467.6 M285.6 482.9 283.9 482.7 282.3 483.1 280.6 483.2 M266 475 267 473.6 267.6 472.1 M295.3 480.1 293.7 479.7 292.2 480.5 M292.7 472.4 293.6 471 294.1 469.4 294.6 467.7 M287 474.7 285.9 473.4 284.4 472.5 282.7 472.8 M280.4 470.9 280.9 472.5 281.8 473.9 283.3 474.7 M296.4 484.3 297.8 485.3 299.1 486.4 M286.7 468.4 286 470 285 471.4 283.7 472.4 M271.6 474.8 270.4 473.6 268.9 472.8 268.3 471.2 M270.1 477.3 268.6 478.1 267.6 479.4 266.4 480.7 M298.9 480.9 299.1 482.6 298.6 484.2 298.6 485.9 M304.4 480.9 303 481.8 302.7 483.5 303.7 484.9 M268.8 485.6 267.1 485.9 265.4 486 M303.8 467.4 302.4 466.5 301.7 465 302.5 463.5 M286.6 476 285.1 476.9 283.6 477.7 M279 468 278.2 466.6 277.7 464.9 M283.2 468.4 284.7 467.6 285.9 466.4 286.1 464.7 M296.3 477.1 296.3 475.4 296.7 473.7 296.7 472 M262.3 476.8 260.6 477.1 258.9 477 257.3 477.8 M278.8 486.3 278.6 484.6 279.2 483 M300.2 472.5 299.5 474 298 474.8 296.4 475.4 M261.1 474.3 262.1 472.9 262.8 471.3 M266.2 475.3 264.6 474.7 263.2 473.8 M275.2 476.9 276.2 475.5 277.7 474.9 M257.6 474.1 257.8 472.4 258 470.7 258.6 469.1 M285.8 483.4 284.2 484.1 282.7 483.3 281.6 482 M277.1 468 277.6 466.4 278.9 465.3 M289.6 477.6 288.5 476.4 288.5 474.7 289.4 473.3 M309.3 471.7 310.1 470.2 311.4 469.1 313 468.9 M268.9 467.1 270.6 466.8 272.2 466.2 273.7 465.5 M290.8 472.4 289.3 471.6 288.3 470.2 287.2 468.9 M285.1 484.9 285.4 483.2 286.3 481.8 287.4 480.5 M281.7 470.4 282.5 468.9 284 468 285.4 467.1 M281.4 483.3 280.1 484.4 278.7 485.3 277 485.6 M287.6 465.8 286 465.6 285 464.2 M269.3 484.7 269.6 486.3 270.2 487.9 271.9 488.2 273.5 487.5 M275.3 486.3 275.8 484.6 275.7 482.9 275.1 481.3 M286.6 486.1 286.2 487.8 286.2 489.5 285.5 491 284.2 492.1 M276.3 485.3 275.2 484 274.8 482.3 M272 477.2 270.7 478.3 269.3 479.2 267.7 479.6 M292.4 465.8 293.4 464.4 293.9 462.8 293.2 461.3 292.2 459.9 M295.8 484.1 295.5 482.4 296.1 480.8 297.5 479.9 M271.2 472.8 271.4 474.5 272 476.1 M256.4 476.1 258 476.5 259.4 477.4 260.5 478.7 M308.8 479.8 308 478.4 307.2 476.8 307.7 475.2 M289.9 477.6 288.7 476.5 287.8 475 M285.5 474.4 287 473.6 287.8 472.2 288.5 470.6 M291.8 473.2 290.1 473 288.8 474.1 M284 468.5 282.4 467.9 280.7 467.6 M283 471.9 281.6 471 280.4 469.8 279.1 468.7 M279.5 486.8 278.1 485.9 277.3 484.4 M286.9 483.8 285.2 484 284.3 485.4 283.6 486.9 284.2 488.5 M272.7 470.3 273.6 468.9 274.9 467.8 276 466.5 M267 469.5 265.9 468.2 264.4 467.3 M278 486.1 278.5 484.5 278.7 482.8 277.4 481.8 M273.1 470 271.4 469.7 270.5 468.2 M293.1 466 294.4 467.1 296.1 466.9 297.1 465.5 297.3 463.8 M285.2 474.2 284.6 475.8 283.8 477.3 M299.2 486.4 297.5 486.7 296 487.3 M275.8 472.6 277.5 472.3 278 470.6 M274.6 476.6 273.2 475.7 272.1 474.4 M292.9 477.3 294.6 476.9 296.2 476.7 297.4 477.9" stroke="#46342a" stroke-width="1.25" fill="none" stroke-linecap="round"/>
<path d="M291.1 477.7 290.6 476.1 289.3 475 287.7 475.6 M292.9 475.5 293 477.2 294.1 478.5 294.3 480.2 M295.7 477.3 296.4 478.8 295.6 480.3 294 480.7 M299.5 469.1 300.2 470.6 299.9 472.3 299.2 473.9 M290.6 482.8 289 482.2 287.6 481.2 286 480.7 M267.9 473.5 269.5 474.1 270 475.8 M267.3 471.4 268.7 472.4 269.9 473.6 270.2 475.2 M265.1 467.4 263.4 467.2 262.5 465.8 M274 472.4 274.3 470.7 273.6 469.2 272 468.6 M311.8 478.8 311.1 480.4 309.9 481.6 M283 478.4 281.3 478.2 279.9 477.2 M263.1 478.7 262.4 477.1 261.9 475.5 261.8 473.8 M296.7 483.6 296.9 485.2 297.2 486.9 297.7 488.6 M272.7 485.6 272.5 487.3 272 488.9 M264 480 262.4 480.6 260.8 481.1 259.3 481.9 M268.5 477 269 475.4 269.7 473.9 270.9 472.7 M282.6 468.9 283.8 470.1 285.3 470.9 286.7 471.8 288 472.9 M281.4 474.8 280.1 473.7 279.2 472.3 M266.6 478.7 266.5 480.4 265.4 481.8 264.9 483.4 M277.1 485.6 276.9 483.9 277.3 482.2 278.9 481.7 M293.8 485.8 294.7 487.3 294 488.8 292.5 489.7 M273.3 466.1 272.2 467.4 271.4 468.9 270.8 470.5 M295.5 467.3 295.9 465.6 296.2 464 295.8 462.3 M276.4 487 277.5 485.7 278.6 484.4 278.6 482.7 M276 482 274.3 481.7 272.6 481.7 271.2 482.7 269.5 482.9 M296.2 470.1 294.6 470.4 292.9 470.1 291.9 468.7 M300 477.1 299.1 475.6 298.7 474 298.9 472.3 M281.2 476 280 474.8 278.9 473.5 277.4 472.8 M305.5 480.9 307 481.7 307 483.4 M264.8 469.2 265 470.9 265.3 472.6 264.3 474 M278.1 486 279.5 485.1 280.9 484 282.5 483.6 M267.3 475.8 268.8 476.5 270.5 476.3 271.6 475 M286.7 486.2 285.5 485 285.2 483.3 M278.4 467.3 277 466.4 275.3 466.7 273.6 467 M310.2 475.7 308.6 476.2 308.3 477.9 307.1 479.1 M304.2 477.2 303.9 478.9 304.3 480.6 304.9 482.2 M273.1 482 271.8 483.2 270.2 483.7 M280.3 478.8 279.5 477.3 278.5 475.9 277.2 474.8 275.7 474 M284.6 465.9 284.9 467.5 284.4 469.1 M271.7 485.1 270.4 486.1 269.3 487.4 M282.7 469.5 284.1 468.5 285.2 467.3 286.9 467.3 M302.3 472.5 304 472.3 305.7 472.2 307.4 472.5 M276.1 464.6 276 466.3 276.1 468 M302.2 471.2 303 472.7 304.4 473.6 306.1 474 M280.5 482.9 279.2 481.9 277.6 481.3 276.4 480 M286.9 476.8 285.3 477.4 284.6 478.9 M306.9 480 307.9 481.4 309.3 482.4 310.9 482.8 311.6 484.4 M277.1 466.9 278.3 468.1 279.5 469.3 281 470.1 M282.7 469.8 281.6 471.1 280 471.6 278.3 471.7 M277.9 476.9 277.4 478.5 275.9 479.4 M288.5 464.5 288.8 466.1 290.4 466.9 M302.7 475.8 301.7 477.1 301.3 478.8 301.4 480.5 302.4 481.9 M272.2 471.3 271.6 469.7 270.9 468.1 M272.3 475.1 270.8 474.4 270.1 472.8 269.8 471.1 M281.5 473.6 283.2 473.3 284.8 472.8 286.5 473 M305.9 474.9 307 473.6 308 472.3 308.6 470.7 M284 465.7 284.2 467.4 282.9 468.5 281.2 468.9 M299.4 467.3 297.8 468.1 296.3 468.7 294.8 467.9 M285 480.6 283.5 481.5 282 482.3 281.3 483.8 M287.6 467.8 287.5 466.1 286.6 464.7" stroke="#2e221b" stroke-width="1.25" fill="none" stroke-linecap="round"/>
<path d="M283.6 481.6 283.6 483.3 283.9 485 285.1 486.2 M303.4 470.6 303.9 472.3 303.5 473.9 303.3 475.6 M259.1 470.8 258 469.5 257.5 467.8 M292 473.3 290.3 473.5 288.8 474.3 M277.5 484.6 276.4 485.9 274.8 485.5 273.9 484.1 M304.3 478.7 303.8 477 303.9 475.3 M275.5 482.5 276.4 481.1 276.9 479.4 277.4 477.8 278.3 476.4 M261 471.3 259.5 472.1 257.9 471.5 257.5 469.9 M274.4 478 272.7 478.3 271.5 479.4 M280.9 466.6 281.3 465 281.8 463.3 282.2 461.7 M304.2 472 302.8 471 302.1 469.4 301.4 467.9 M282.4 474.3 283.8 473.3 285.2 472.3 286.6 471.3 M263.2 472.5 264.9 472.5 266.1 471.3 M257.5 472.5 255.8 472.5 254.3 471.7 M270.6 476 269.2 476.9 267.5 476.6 M301.2 472.7 302.9 473 304.5 472.8 306.2 472.3 M305.9 478.1 304.8 479.3 303.3 480.2 301.9 479.3 M264.3 483 265.9 483.4 267.3 484.4 269 484.6 M281.4 469.8 279.7 470 278.1 470.6 276.4 470.4 M283.5 476.5 284.5 475.1 285.8 474 287.3 473.2 M282.3 485.2 283.8 486.1 285.4 486.4 286.8 485.3 287.7 483.9 M286.8 466.2 288.4 465.7 289.2 464.2 289.2 462.5 M269.6 470.7 269.3 469 269.8 467.4 270.3 465.8 M300.5 485.1 299.1 484.2 297.4 483.8 296.1 482.8 M304 474 304.3 475.6 305.6 476.7 M291.3 466.6 289.8 467.4 288.3 466.7 M281.1 482.7 280.5 484.3 280.1 486 280.3 487.7 M289.2 486.3 287.7 485.6 286.1 485 M306 480.7 307.4 479.8 309.1 480.1 310.6 480.9 M285.8 469.8 285.3 471.4 284.6 473 284.3 474.7 M276.6 482.1 278.3 482.2 279.6 483.3 279.9 485 M306.9 479.1 308.5 478.6 310.1 478.1 M277.7 468.6 276.8 467.1 276.1 465.6 275.8 463.9 M274.4 474.7 275.1 476.2 275.1 477.9 M306 477.2 306.5 475.5 307.3 474.1 308.4 472.7 M265.7 473 266.9 471.7 268.6 471.6 M305.9 476.5 306 478.2 306 479.9 M273.9 487 272.3 486.5 270.6 486.4 268.9 486.7 M267.6 483.1 267 481.5 267 479.8 M311.1 480.3 312.1 481.7 313.5 482.7 314.2 484.2 M274.6 477.7 273.7 479.2 273 480.8 M262.5 481 263.8 479.9 264.8 478.6 265 476.9 M290 471.3 291.7 471.1 293.4 471.1 M277 474.8 277.6 473.3 278.8 472 279.7 470.7 M305.3 479.7 306.9 480.1 308.6 480.1 M291.9 482.9 293.3 481.9 294.4 480.6 294.8 478.9 M268.2 479.1 269.5 480.2 271.1 481 272.7 481.3 M269 469.6 270.1 470.9 271.4 471.9 273.1 472.2 274.7 472.8 M285.7 467.4 286.1 465.8 287.4 464.7 M306.4 483 308 482.4 309.5 481.6 M288.4 473 287.2 471.8 285.9 470.8 284.3 470.1 M294 468.8 295.6 469.1 297.2 469.7 298.4 471 M288 469.6 287.2 468.2 287.2 466.5 M285 467.5 284.3 465.9 283.9 464.2 284.4 462.6 M282.5 482.9 282.1 481.3 282.5 479.6 283.2 478.1 M308.7 482.5 309.5 481 311.1 480.3 312.6 481 M264.9 475.7 263.9 474.3 262.6 473.2 261 472.5 M287.9 482 286.3 482.3 284.7 483 283.4 484.1 282 485.1 M287.4 473.4 289.1 473.6 290.5 474.6 290.7 476.3 M301.1 476.6 300.1 475.2 299.6 473.6 M265 482.4 265.9 483.9 266.4 485.5 267.2 487 M294.7 465 294.9 463.3 294.4 461.7 M283.4 474.3 282.4 475.7 283.1 477.3 284.3 478.5 M313.3 476.1 312.4 474.6 311 473.7 M297.3 477.1 295.6 477.1 294 477 M304 480.7 302.3 480.4 301 479.3" stroke="#2a1e18" stroke-width="1.25" fill="none" stroke-linecap="round"/>
<path d="M291 473.3 289.9 472 288.5 471 287.1 470 M299.1 467.1 299.8 465.6 299.7 463.9 M271.8 472.9 270.3 473.7 269.6 475.2 M300.5 476.3 300.2 478 299.6 479.6 M285 481.3 285.5 483 286.3 484.5 286.2 486.2 M270.5 480.2 271.7 481.4 273.4 481.2 274.7 480.1 M275.5 472.1 275.6 473.8 275.2 475.4 274.7 477.1 M312.3 473.3 312.4 471.6 312 470 M260 475.7 261.7 475.7 263.3 475.5 264.4 476.8 M256.9 473.5 257.3 475.1 257.3 476.8 M305.2 481.7 306.7 481 307.7 479.6 308.2 478 M305.9 476.2 304.2 476.1 302.8 475.1 301.4 474.2 M287.1 474.2 287.3 475.9 287.8 477.5 M261.9 481.6 262.1 483.3 263.1 484.6 264 486.1 M275.5 465.7 275.4 467.4 275.8 469 276.6 470.5 M265.4 474.7 266.6 473.5 268.2 473.2 269.9 473.1 M280.2 482.3 279.7 480.6 280.7 479.3 282.3 478.7 M266.5 475.6 266.6 473.9 267.7 472.6 268.4 471 M310.9 477.2 311.6 475.7 312 474 M313.3 476.4 314.1 477.9 314.9 479.4 316.5 480 M296.8 486.6 295.2 487.2 293.6 487.5 292.1 488.4 M308.8 479.9 309.9 481.2 309.6 482.8 308 483.5 M280.5 471 282.2 470.7 283.6 469.8 M289.2 482.8 287.6 483.6 286.1 484.2 284.4 483.9 M264.3 473.7 263.8 472.1 263.9 470.4 264.7 468.9 M289.9 482.9 289.5 484.6 289.3 486.3 M269.1 482.1 270.7 481.5 272.2 480.6 273.9 480.6 M300.2 476.6 300.5 478.3 301.2 479.8 M300.5 480.1 300.8 481.7 301.8 483.1 302.8 484.5 M276.7 465.6 277.8 464.3 278.3 462.7 278.7 461 M275.9 475.1 277.5 474.7 279 473.8 279.8 472.3 281.2 471.3 M275.7 484.7 277.1 485.7 277.7 487.3 278.4 488.8 M306.4 483 308.1 483.2 309.8 483.4 311.5 483.6 M297.1 467.7 298.1 466.3 299 464.8 M291.1 479.6 292.1 478.2 293.3 477 293.5 475.3 M309.8 476.9 308.1 476.6 306.4 476.3 M312.2 477.2 311.6 478.7 310.1 479.6 M301.9 472.9 303.4 473.6 305.1 473.4 M290.5 472.7 289.3 471.4 288.9 469.8 288.4 468.2 M312.9 477.3 311.7 478.5 310.3 479.5 308.7 480.1 M306.9 473 305.3 472.4 303.8 471.6 M311.6 476 313.1 476.8 314.8 476.9 M274 469 273 470.4 273.1 472.1 273.9 473.6 M291.5 481.7 292.7 480.5 293.1 478.8 M282.2 465.5 283 467 284.4 468 M295.4 468.5 293.7 468.5 292.5 469.8 M289.5 486.6 289.7 488.3 289.8 490 289.7 491.7 M303 480.7 304.6 480 306.2 480.4 M265.1 475.8 263.8 476.9 262.9 478.3 M281.5 468.2 280.4 467 278.7 466.8 M282.8 472.5 282.6 474.2 281.6 475.5 282.1 477.2 M299.8 474.8 300.9 476.1 302.6 476 303.4 474.5 M281 474.4 281 476.1 281.2 477.8 M297.4 486.2 297.3 484.5 296.9 482.8 295.7 481.6 M298.9 469.9 300.2 471 301.7 471.8 303 472.9 M269.5 473.3 270.9 474.3 272.6 474.5 M308.3 470.2 306.8 469.4 305.5 468.4 M282.4 468.1 284.1 468.3 285.5 467.3 285.9 465.6 M293.8 464.6 292.2 463.9 290.5 464.2 M298.5 470.2 299.1 468.6 299.2 466.9 299.3 465.2 M270.5 468.9 271.9 467.9 273.6 468 275.1 468.8 M291.6 478.2 290.2 477.2 289.3 475.8 288.2 474.5 287.6 472.9 M289.3 470.5 290.3 471.9 289.8 473.6 M281.2 469 280.5 467.4 281.2 465.9 282.6 464.9 M285.2 481.4 286.8 480.8 288.2 479.8 289.7 479 M261.1 478.2 259.4 478.4 257.8 478.9 M282.4 471.5 283.2 473 284.4 474.2" stroke="#36281f" stroke-width="1.25" fill="none" stroke-linecap="round"/>
<path d="M277.9 484.5 278.4 486.1 277.6 487.6 276.5 488.9 M302.5 470 301.4 468.7 300.8 467.1 300.6 465.4 M272.5 474.8 274 475.5 275.4 476.6 M268.8 472.2 270.2 473.1 271.2 474.5 271.9 476.1 M271.8 478.9 273.5 479.2 274.9 480.2 M292.7 475 291.9 473.5 291.1 472 289.8 470.9 288.2 470.6 M300.5 473.5 299.7 472 299.2 470.4 M262.6 482.1 264.3 482.1 265.7 481.1 266 479.5 M286 470.6 287.6 471.1 289.3 471.6 290.9 471.9 M286.9 473 287.5 474.6 286.6 476 285.2 477 M285.9 488 284.5 488.9 282.8 489.2 281.1 489.5 M262.8 476.6 264.1 475.6 265.8 476 266.6 477.5 M306.3 477.5 306 479.2 306 480.9 305.1 482.3 M282.5 486.5 280.9 486.2 279.2 485.9 277.6 486.5 M286.8 465.3 287.9 464 289.3 463.1 M292.6 470.2 291.8 471.7 291.4 473.4 M281.7 483.5 283 482.4 284.7 482.1 M271.1 471.3 272.1 469.9 273.6 469.1 275.3 469.2 M276 481.2 277.7 481.2 279.4 481.5 M312.8 479.2 311.7 477.9 310.8 476.5 M291.5 464.7 290 464 288.4 464.5 287.4 465.8 M266.9 471.4 267.8 469.9 267.6 468.2 267.7 466.5 M282.7 477.7 281 477.6 279.3 477.6 277.6 477.6 M273.2 475.1 274.2 476.5 275.9 476.9 277.6 476.8 279.2 476.3 M292.5 471.5 293.2 473 292.3 474.5 293 476 M288.4 477.7 289.8 478.7 290.9 480 292.5 480.6 M271.9 473.5 273.5 473.6 274.7 474.8 M297.6 468.1 299.2 467.4 300.5 466.3 302.2 466.5 303.9 466.5 M296 486.1 296.4 484.4 295.5 483 M258.8 479.9 257.3 480.7 255.7 481.3 254.1 481.4 M271.7 473.1 271.6 474.8 271.3 476.4 271.6 478.1 M288.3 471.1 288.5 472.8 287 473.6 M267 482.6 265.9 483.8 264.3 484.4 262.6 484.1 M264.3 478.3 264.9 476.7 264.8 475 263.9 473.6 M273.3 483.6 271.6 483.5 270.1 482.6 268.9 481.4 M288.1 473.4 289.7 472.7 291.3 472.9 M309.1 470.5 307.6 471.4 307.7 473.1 307.3 474.8 M275.4 485.7 274.3 487 272.7 487.6 271.2 486.8 270.1 485.5 M290.7 480.6 289.4 481.7 289.2 483.4 289.3 485.1 M275.1 483.4 276.1 484.8 277.4 485.8 M290 481.9 290.4 480.2 289.2 479 M268.7 475.5 268.1 477.1 266.8 478.2 M290 478.8 288.8 480.1 287.3 480.7 M305.9 479.5 305.9 481.2 306.4 482.8 306.3 484.5 M303.1 482.8 301.5 482.3 299.8 482.3 M310.1 480 311.6 479.2 313 478.3 314.2 477.1 M310.5 476.1 311.6 474.8 312.8 473.6 314.2 472.7 M291.3 467.5 289.9 466.5 288.2 466.7 286.9 467.7 M275.6 483.3 274 482.6 272.4 483.1 M276.2 486.2 275.5 484.6 274.6 483.2 273.1 482.4 M289 467.3 289 469 289.9 470.5 291.2 471.6 M284.9 487.5 286.6 487.3 288.1 486.5 M288.2 486.9 287.9 485.3 287 483.9 285.5 483 284.2 481.9 M259.8 478.5 260.9 477.2 261.3 475.6 260.5 474.1 M298.4 476.8 296.7 476.8 295 476.7 293.6 477.6 M277.4 466.4 276.7 464.8 275.3 464 273.6 463.8 M285.1 465.7 285.8 464.2 286.7 462.8 M282.1 466.3 281.4 467.9 279.8 468.4 278.1 468.2 276.5 468.7 M283.6 466.5 284.5 465.1 285.8 463.9 287.5 463.8 M288.4 483.3 290 483.7 291.5 484.6 292.2 486.1 M276.8 465.4 276.3 463.7 275.4 462.3 273.9 461.4 272.4 462.1 M293.3 482.3 291.9 483.2 290.8 484.5 M267.2 469 266.3 470.5 264.8 471.2 263.1 471.1 M295 473.1 296.6 473.6 298.3 474.1 299.6 475.1 300.2 476.7 M275.5 483.1 275.5 481.4 274.8 479.8" stroke="#3e3028" stroke-width="1.25" fill="none" stroke-linecap="round"/></g>
</g>
<g clip-path="url(#clip8)">
<rect x="397" y="379.6" width="195.5" height="185.2" fill="url(#bg2)"/>
<circle cx="494.8" cy="477.2" r="98.3" fill="url(#rim8)"/>
<circle cx="494.8" cy="468.6" r="97.1" fill="url(#rim8)"/>
<circle cx="494.8" cy="468.9" r="94.7" fill="url(#cell8)"/>
<g fill="#f6f6f4" stroke="#b4b4b0" stroke-width="0.55" opacity="0.85"><circle cx="560.3" cy="486.3" r="0.9"/><circle cx="561.1" cy="492.9" r="0.9"/><circle cx="558.3" cy="503" r="0.9"/><circle cx="556.5" cy="510.9" r="0.9"/><circle cx="552.8" cy="517.7" r="0.9"/><circle cx="548.4" cy="523.8" r="0.9"/><circle cx="544.1" cy="531.2" r="0.9"/><circle cx="537.5" cy="537.3" r="0.9"/><circle cx="530.5" cy="543.2" r="0.9"/><circle cx="519.8" cy="546" r="0.9"/><circle cx="513.9" cy="550.9" r="0.9"/><circle cx="497.3" cy="551.5" r="0.9"/><circle cx="489.8" cy="552.5" r="0.9"/><circle cx="481.3" cy="551.7" r="0.9"/><circle cx="471.4" cy="548.8" r="0.9"/><circle cx="457.1" cy="541.8" r="0.9"/><circle cx="449.4" cy="536.6" r="0.9"/><circle cx="439.2" cy="526.6" r="0.9"/><circle cx="429.3" cy="509.4" r="0.9"/><circle cx="429.5" cy="503.8" r="0.9"/><circle cx="426.9" cy="494.8" r="0.9"/><circle cx="424.9" cy="487.2" r="0.9"/><circle cx="427.6" cy="476.7" r="0.9"/><circle cx="426.7" cy="468.8" r="0.9"/><circle cx="429.9" cy="461.4" r="0.9"/><circle cx="435" cy="451.7" r="0.9"/><circle cx="438.1" cy="444" r="0.9"/><circle cx="443" cy="441.4" r="0.9"/><circle cx="448.9" cy="433.4" r="0.9"/><circle cx="458.7" cy="429.2" r="0.9"/><circle cx="463.2" cy="424.5" r="0.9"/><circle cx="470.8" cy="420.6" r="0.9"/><circle cx="479.4" cy="418.9" r="0.9"/><circle cx="487.5" cy="417.8" r="0.9"/><circle cx="497.4" cy="417.4" r="0.9"/><circle cx="513.3" cy="422.8" r="0.9"/><circle cx="528.5" cy="428.7" r="0.9"/><circle cx="534.2" cy="432.7" r="0.9"/><circle cx="541.9" cy="440.8" r="0.9"/><circle cx="550.4" cy="452.4" r="0.9"/><circle cx="558.2" cy="469.8" r="0.9"/><circle cx="561.1" cy="475.4" r="0.9"/></g>
<path d="M546 379.6 L543.6 390.4" stroke="#d4d4d2" stroke-width="1.6" fill="none"/>
<path d="M546 379.6 L543.6 390.4" stroke="#9a9a98" stroke-width="0.8" fill="none" stroke-dasharray="1.5 1.5"/>
<path d="M543.3 391.4 L541.9 394.9" stroke="#2c2c2c" stroke-width="2.5" fill="none" stroke-linecap="round"/>
<path d="M541.7 395.4 l-0.5 2.2" stroke="#6a6a68" stroke-width="1" fill="none"/>
<path d="M566.7 510.7 l9.5 6.5" stroke="#ffffff" stroke-width="1.5" opacity="0.85" fill="none" stroke-linecap="round"/>
<g filter="url(#soft)" opacity="0.92"><path d="M465 500.3 465.4 501.5 465.4 502.8 464.3 503.5 463 503.3 M452.6 475.9 453.6 475.2 454.9 475.2 455.3 476.4 M450.6 500.7 450.9 499.4 449.9 498.6 448.6 498.8 447.3 498.9 M517.5 520.9 516.4 521.6 515.1 521.6 514.9 522.9 M458.3 435.8 457.2 435.2 455.9 434.9 454.6 434.7 453.3 434.6 M521.3 525.8 520.3 526.7 519.8 527.8 518.8 528.7 M438.6 448.2 437.3 448.5 436.4 449.4 436.7 450.6 M483.5 494.9 484.4 493.9 485.7 493.8 486.7 493.1 M472.9 505.6 473.5 504.4 473.9 503.2 474.5 502 474.8 500.8 M472.4 448.5 471.2 448.9 469.9 448.8 M518 450.7 518 452 518.3 453.2 518.6 454.5 518.1 455.7 M441.2 520.5 442.4 520.3 443.1 519.1 442.8 517.9 M553.9 468.5 555.1 467.9 554.7 466.7 553.5 467.1 M524.3 522.6 523 522.9 522.1 523.9 520.9 524.1 520.1 523.1 M461.7 477.2 460.4 477.2 459.4 476.3 459 475.1 458.8 473.8 M515.6 501.5 516.2 502.6 517 503.6 518.2 504.2 519.5 504.1 M435.4 477.8 436.7 477.9 438 477.9 M522.7 505.1 521.9 506.1 520.8 505.5 520.5 504.2 521.5 503.5 M474.6 517.1 475.8 517.6 476.6 518.7 476.3 519.9 475 520 M474.1 434.8 474.9 435.9 475.9 436.7 477.2 436.8 478.5 436.8 M513.2 442.4 512.1 443.1 512.4 444.4 512.9 445.6 M493.5 489.5 492.4 488.9 491.9 487.7 492 486.4 M534.5 508.2 535.6 508.9 536.9 508.8 537.1 507.6 M466.8 459.2 466.3 458 466.5 456.7 466.6 455.4 467.2 454.2 M520.3 526.1 519.3 525.2 519.3 523.9 520.1 522.9 521.4 522.7 M457.2 473.3 457.3 472 458.2 471.1 459.4 471.7 459.4 473 M450.7 473.5 451.2 472.3 451 471 449.9 470.3 M477.4 487.9 478.7 487.6 480 487.8 481.1 488.5 M440.3 497.5 439.3 496.6 438 496.4 436.8 495.9 435.5 495.8 M519 475.4 518.9 476.7 519.2 478 518.9 479.2 517.6 479.4 M485.5 438.3 486.8 438.6 487.6 439.6 488.7 440.4 489.4 441.5 M534.1 522.6 532.8 522.6 531.5 522.8 530.3 522.4 529.1 522 M488.5 428.2 489.7 427.9 490.9 427.4 491.6 426.3 492.2 425.1 M444.2 507.5 443.2 508.3 441.9 508.5 440.6 508.3 M461.3 504 462 505 463.2 504.6 464.5 504.6 M505.3 480.4 506.3 479.5 507.4 478.9 508.2 477.9 M476.2 430.2 477.5 430.2 478.2 431.2 478.3 432.5 M437.5 515.1 436.9 516.3 436.8 517.6 437.4 518.7 437.3 520 M461.6 515.7 462.8 516 463 514.7 M533.7 469.4 532.7 468.6 531.9 467.7 530.8 466.9 M537.5 497.4 538 496.2 538.6 495 539.6 494.2 540.9 493.9 M426.3 499.9 425.6 498.8 424.8 497.7 423.6 497.3 M472.7 442.4 471.4 442.2 470.1 442.2 468.8 441.9 M540.3 519.7 539.7 520.8 538.4 521 537.2 520.4 M545.5 499.1 546.8 499.5 547.7 498.6 548.9 498.2 M548.7 503.8 549.2 504.9 550.5 505 M445.8 468.3 445.1 469.4 444.2 470.3 444.1 471.6 M469.5 456.9 468.5 457.7 468 458.9 467.9 460.2 468.3 461.4 M464.2 479.5 463.6 478.3 463.1 477.1 461.9 476.6 M498.1 474.2 496.8 474.2 495.6 474.5 494.3 474.4 M525.5 456.4 526.3 457.4 526.7 458.6 527.7 459.5 M495.8 529.2 496.6 528.1 497.9 528.4 498.4 529.6 499.2 530.7 M525 478.4 523.9 477.8 522.9 476.9 522.5 475.7 523 474.5 M514.6 478.4 515.3 479.5 516.6 479.2 517.3 478.1 518.1 477.1 M442.7 519.9 444 519.8 445.2 520.1 446.3 519.3 M459.4 441.4 460.6 440.8 460.3 439.5 459.4 438.5 M445.6 476.3 445.5 475 444.4 474.2 M497.5 430 496.7 429 495.5 428.5 M486.6 432.2 485.6 431.4 484.8 430.4 483.9 429.5 482.8 428.8 M457.3 478.3 457.5 479.5 458.3 480.6 459.4 481.3 M484.9 541.3 485.9 542.2 487.2 542.1 488.2 541.3 M489.8 427.3 489 426.2 487.8 425.7 M495.7 457.2 496.3 456.1 497.1 455.1 497.2 453.8 M492.1 525.3 492.5 526.5 493.8 526.8 494.9 526.2 495.1 524.9 M454.3 497.3 455.5 497.6 455.8 498.9 455.1 499.9 M497.2 460.3 498.5 460.2 499.8 460.2 M485.4 481.6 485.4 480.3 484.3 479.7 483 479.6 482 478.7 M503.4 494.6 504.3 495.5 504.4 496.8 503.2 497.1 M482.1 460.2 482.1 458.9 482.6 457.7 481.8 456.6 480.5 456.6 M485.5 530.4 486.2 531.5 487.4 531.1 488.7 531.4 M450.1 503.9 451.4 503.7 452.4 502.8 453 501.7 452.9 500.4 M512.3 494 511.1 494.6 509.9 494.2 508.8 493.5 M507.7 424.7 506.4 425.2 505.1 425.3 504.1 424.5 M547.7 509.6 546.7 508.9 545.4 508.9 544.2 508.4 M521.5 521 522.8 521.3 524 521.7 525.3 522.1 M445.1 472.5 444.8 473.7 443.5 473.6 443.2 472.3 444.1 471.4 M450 478.4 451 479.3 452.3 479.1 453.1 478.1 M465.2 479 466.4 478.5 467.7 478.2 468.7 479 M489.9 511.6 490 512.8 490.6 514 491.3 515.1 M448.7 512.8 447.5 512.2 446.2 512 444.9 512.1 443.8 511.6 M493.7 511.4 492.6 512.1 492.1 513.3 493.1 514.1 M519.8 505.8 519.7 504.5 520.4 503.4 520.9 502.2 M465 482 465.4 483.2 465 484.4 M513.2 486.1 514.3 486.7 515.3 487.5 M542.9 506.2 543.5 507.4 544.7 507.1 545.3 505.9 544.8 504.7 M480.1 507.5 480.9 508.6 482 509.3 483.2 508.8 M448.2 455 449.5 454.8 449.8 453.6 449 452.5 M459.5 441.8 458.6 440.9 457.8 439.8 M502 463.9 502.9 463 504.1 463.5 M459.5 462 459.6 460.7 460.6 459.8 461.5 458.9 462.6 458.2 M498.7 486.2 497.4 485.9 496.2 485.4 494.9 485.2 493.8 484.5 M449.5 476.8 450 475.6 450.9 474.6 452.1 474.2 M452.5 519.4 451.3 518.9 450.1 519.1 448.9 519.6 M462.2 506.6 462.6 507.8 463.6 508.6 464.9 508.9 466.1 508.3 M502.7 444.1 502.5 442.8 502.9 441.6 503.4 440.4 M468.8 439.2 467.6 438.8 466.3 438.9 465.1 439.5 464.3 440.5 M486.6 421 485.5 420.4 485.7 419.1 484.9 418 483.7 417.8 M489.5 475.3 490.4 476.2 491.5 476.9 492.8 477 M458.5 485.8 458.3 484.6 457.2 483.9 456.1 484.5 M449.2 524.6 449.4 525.9 449 527.1 M541.9 471.3 541.9 472.6 541 473.6 539.8 473.9 M527.2 467.7 526.7 468.9 527.1 470.1 527.7 471.3 M443.4 518.4 443.5 517.1 444 515.9 444.9 514.9 M443.7 450.4 444.1 451.6 444 452.9 443.1 453.8 M465.3 499.2 465.4 500.5 466.7 500.7 467.8 500 468.6 499 M526.6 446.8 527 445.6 528.2 444.9 528.9 443.9 529.9 443 M496.2 501.6 497 500.5 498.3 500.7 499.5 500.2 M426 470.3 427.2 469.9 428.1 468.9 M551.6 491.8 552.5 492.7 553.8 492.4 554 491.2 M501.7 499.5 500.9 500.5 500.4 501.7 500.8 503 M522 487.7 522 486.4 523 485.6 M530.3 523.8 529.1 524.4 527.8 524.5 527.2 523.4 M426.2 479.7 427.5 479.4 428.8 479.5 430 479.2 M509.5 527.2 508.5 526.4 507.2 526.6 M478 477.9 476.7 477.8 475.9 476.8 475.7 475.5 476.4 474.4 M440 493 439.5 491.8 440 490.6 439.4 489.4 438.1 489.5 M526.9 477.5 525.9 478.3 525 479.2 M467 428.6 468.2 428.1 469.5 427.8 470.4 426.9 471.5 426.1 M448.4 523.6 448 522.3 448.7 521.2 449.9 520.6 451.1 521 M448.4 435.4 447.1 435.5 445.9 436 M550.7 496.1 552 496.3 552.5 497.5 553.6 498.2 M453 516.1 452 516.9 450.9 517.6 449.7 517.9 M514.8 440.1 513.6 439.7 512.3 439.7 511.1 440.3 M533.7 484 535 484.2 536.2 484.7 537.5 484.9 538.2 486 M510.3 520.1 509.1 520.4 508 521.1 M506.8 535.1 505.7 534.4 504.4 534.3 503.2 534.8 502.2 535.7 M483 486.7 483.7 487.8 484.4 488.9 484.3 490.2 M521.2 450.9 522.5 450.9 523.7 450.5 524.6 449.5 524.9 448.3 M534.1 448.9 533.4 450 533.3 451.3 533.6 452.5 533.1 453.8 M511.8 521.9 512.7 521 513.9 520.6 M534.7 457.2 533.5 456.9 532.2 457 531.4 458 M532.1 449.8 532.5 451 532 452.2 530.7 452 530.3 450.8 M440.3 471.9 441.5 472.5 442.3 473.6 442.3 474.8 M515.6 426 514.4 425.8 513.2 426.4 512.8 427.6 M497.9 456.7 499.1 457.2 500.2 457.9 500.9 459 501.3 460.2 M498.4 514.5 499.6 514.9 500.9 515.2 502 515.8 502.7 516.9 M529.9 488.7 529.3 489.8 528 489.8 526.8 489.4 525.7 488.7 M533.3 475.5 532.4 474.5 531.6 473.6 530.7 472.6 529.5 472.1 M493.4 439.7 494.7 439.8 495.9 439.4 M507 477.5 508.2 477.8 509.5 477.6 510.6 476.9 M474 491.1 473.9 489.8 473 488.9 471.7 488.7 M431.8 488.5 432.1 487.3 432.3 486 433 484.9 433.8 483.9 M471.7 462.9 471.6 461.6 470.9 460.5 469.6 460.6 M544.6 495 545.5 495.9 546.7 496.4 M519.2 491.7 517.9 492 516.9 491.3 516.6 490 M496.3 485.3 496.2 484 496.8 482.8 498.1 482.9 498.9 483.9 M533.4 477 534.6 477.6 535.8 477.8 537.1 477.8 538.4 477.6 M496.7 536 496.2 537.1 495 537.8 493.8 538.3 M495.4 493 495.9 491.7 497.2 491.6 498.4 492 M500.6 531.6 500.5 532.9 501.2 534 502.5 534.1 503.3 533.1 M503.1 468.8 502.9 470.1 502.1 471.1 500.8 471.1 M459 511.1 458.2 510.1 458.2 508.8 M522 454.9 521.4 453.7 522.2 452.6 523.4 452.2 M478.6 523.6 477.7 524.6 477.4 525.9 476.1 526.1 M463.2 536 464 535 465.1 535.7 465.6 536.9" stroke="#3a3228" stroke-width="1.25" fill="none" stroke-linecap="round"/>
<path d="M454.6 528.8 453.9 527.7 454.9 526.9 455.9 527.8 456 529.1 M543.6 482.2 544.9 482.1 546.1 481.6 546.8 480.5 546.4 479.3 M448.2 495.6 447.8 496.9 447.4 498.1 446.8 499.3 M517.2 476.7 515.9 477 514.6 476.8 514.5 475.5 M507.2 453.4 508 454.4 507.9 455.7 506.7 456.2 505.4 456.1 M462.8 481.6 463.7 480.7 464.8 481.4 464.9 482.7 M501.4 465.9 501.2 467.2 501.4 468.5 502.3 469.4 M479.8 447.2 479.8 445.9 480.5 444.9 481.8 444.6 483 444.2 M468.3 527.8 468.1 529.1 467.2 530.1 466.1 530.6 M431.4 472.7 432.3 473.7 433.1 474.7 433.3 476 M458.2 449 457.5 447.9 457.8 446.7 459.1 446.7 M474.7 507.3 475.7 506.4 477 506.3 478 507.2 477.8 508.4 M480.4 492.8 480.1 491.5 479.6 490.3 479.2 489.1 M449.2 445.1 448.2 445.9 446.9 446.1 445.6 445.8 444.3 445.7 M508.6 523.1 508.3 524.4 508.1 525.7 508.2 527 509.2 527.8 M518.9 490.1 517.7 489.7 517.1 488.5 517.6 487.3 518.7 486.6 M521.7 514.4 520.5 514.6 519.3 514.1 518.1 513.6 M520.5 443 519.5 442.2 518.2 442.3 517.1 442.8 M468.2 501.8 467.5 500.7 466.3 500.2 M452.5 431.5 451.3 431.2 450.2 431.9 450.7 433.1 M496 527.2 494.9 526.6 494.8 525.3 494.4 524 493.7 523 M439 501.6 438.6 500.4 439.4 499.3 440.7 499.4 M459 505.6 460.1 504.8 461.3 504.3 462.5 504.8 463.4 505.7 M502.1 473.9 501.8 475.1 502.6 476.2 503.9 476.2 505 475.4 M458.2 453.4 457.5 454.5 456.4 455.1 455.2 455.6 454 455.2 M485.7 524.2 484.5 523.5 483.3 523.7 482.3 524.6 482.2 525.9 M511 457.4 511.8 458.4 513 458.8 514.1 458 514.3 456.7 M464.5 425.1 463.2 425.5 462.4 426.5 462.6 427.8 463.5 428.7 M460.4 525 459.2 525.5 459.1 526.8 M525.7 512.4 526.9 512.9 527.5 514.1 526.9 515.2 525.6 515.2 M539.9 457.4 540.9 456.5 540.3 455.4 539.3 454.5 538.4 453.6 M531 513.6 531.1 512.3 531.5 511 532.4 510.1 532.7 508.8 M465.8 440.3 466.4 441.5 467.7 441.3 468.9 440.9 M442.7 469.8 443.3 471 443.1 472.2 444.1 473 445.4 472.6 M454.3 527.2 453.1 527.8 451.9 527.3 451.4 526.1 M449 444.8 449.9 445.8 451.2 445.6 451.5 444.4 M511.5 520.4 512.7 520.7 514 520.7 515.2 521.2 516.2 522.1 M527.3 516.3 528.6 515.9 529.5 516.8 528.8 517.9 M457.2 502.7 457 504 455.9 504.7 454.8 504.2 454.4 502.9 M511.4 432 511 430.8 510.2 429.8 509 429.3 M532.6 442.8 533.8 443.4 534.3 444.6 533.8 445.8 M505 527.1 503.8 527.5 502.7 526.9 M506 533.7 505.4 534.9 506.3 535.9 507.4 535.2 507.8 534 M440.3 445.1 439.1 444.7 437.8 444.6 436.7 445.2 436.9 446.4 M482.8 443.6 482.8 442.3 482.4 441 482 439.8 M428.9 462.6 430 461.9 430.3 460.7 M493.5 472.9 492.7 473.9 491.6 474.5 490.4 475.2 M433.8 460.3 434.5 459.2 435 458 436.3 457.8 M489 485.3 490.1 485.9 491.2 486.6 492.4 487.3 493.2 488.3 M487.6 452.4 488.2 451.3 488.8 450.2 489.9 449.5 491.1 449.1 M488.8 421.3 488.2 422.5 488.6 423.7 489.9 423.9 M435.7 446.8 434.4 447.2 433.3 446.6 432.8 445.4 M528.5 453.6 528.6 452.4 527.8 451.3 526.7 452 526.3 453.2 M490 527.9 491 528.7 492.3 528.5 493.6 528.5 494.9 528.4 M459.3 520.2 458.2 520.9 458 522.2 456.9 522.8 455.6 522.4 M457.2 529 455.9 529.3 454.8 530 454.1 531 M474.3 469.1 475.4 469.7 476.7 469.3 477.7 468.6 M474.6 495.1 475.8 495.6 476 496.9 475.2 497.9 474.1 497.2 M517.1 495.1 518.3 494.6 519.5 495.1 520.1 496.2 M478.7 446.5 479.4 445.5 479.4 444.2 M457.8 443.2 457.8 441.9 459.1 441.5 459.4 442.8 458.9 444 M499.8 490.6 500.1 489.4 500.7 488.2 501.7 487.4 M462.7 484.3 462.7 485.6 462.2 486.8 460.9 486.8 460.3 488 M546.3 500 546.5 501.3 546.7 502.5 546.2 503.8 M507.4 503.1 508.6 502.6 509.6 501.8 510.2 500.7 509.9 499.4 M533 483.8 533.9 484.7 533.1 485.8 M499 511.3 500.2 510.8 501.5 510.8 502.6 511.4 503.4 512.4 M517.6 428.2 518.9 427.9 519.8 426.9 M441.9 478.3 440.9 479.1 441.5 480.2 442.8 480.4 M455.7 453.1 456.7 453.9 458 453.8 459.3 453.9 M451.4 505 450.2 504.8 449.8 503.6 448.6 502.9 M476.7 430.4 475.5 429.9 474.2 429.8 473 430.3 471.8 429.9 M500.3 472.8 501.2 471.8 501.3 470.5 500.3 469.7 499 469.7 M496 508.3 495.6 509.5 494.7 510.4 493.4 510.5 492.1 510.7 M450.9 458.6 450.2 459.8 450 461.1 450.2 462.3 450.5 463.6 M447.7 508.6 448.9 509.1 450.2 509.1 450.9 508 450.4 506.8 M468.3 449.7 469.5 449.3 470.4 450.2 470.1 451.4 M539.6 445.9 538.3 445.9 537.1 446.3 536 447 M444.2 501.7 445.2 502.4 446.5 502.5 447.4 501.5 M548.5 504.9 548.1 503.6 547.3 502.6 546 502.7 544.8 502.9 M429.9 494.8 428.7 495.4 427.5 495.6 426.7 494.5 M525.8 493.4 525 492.3 525.5 491.1 526.4 490.2 M462.8 426.5 463.7 427.4 465 427.1 465.7 426 464.9 424.9 M440.1 465 440.5 463.8 441.7 463.1 442.8 462.6 M469.4 513.9 470.4 513.1 470.5 511.8 469.8 510.7 468.5 511 M447.9 467.2 447.9 465.9 447.5 464.7 446.4 464 M476 468.3 477.3 468.2 478.5 467.7 479.8 467.7 480.7 468.7 M441 514.4 439.7 514.1 438.4 514.2 437.2 514.5 M479.5 505.7 480.3 506.7 480.8 507.9 480.6 509.2 481.1 510.4 M431.1 474 429.8 474.1 429.2 475.3 429.6 476.6 M490 536.7 489.4 535.5 488.4 534.6 487.2 534.2 M446.9 463.2 447.6 462.2 448.9 462.2 449.8 463.2 M493.2 438 492.7 439.2 493 440.4 M529.6 482.1 530.8 481.5 531.5 482.6 530.9 483.7 M506.6 470.4 507.8 469.8 508.7 468.9 509.7 468.1 510.1 466.8 M443.3 461.1 443.4 462.4 444.5 463.1 444.2 464.4 444.2 465.7 M448.3 516.5 448.8 517.7 450 518.2 451.2 517.8 452.5 517.7 M459.6 497.7 460.4 496.7 460.9 495.5 460.7 494.3 459.6 493.6 M473.9 451.1 473.1 452.1 473.3 453.4 474.2 454.4 475.5 454.5 M521 481.4 521.5 480.2 522.2 479.1 522.8 477.9 523 476.6 M437.1 448.3 438.4 448 439.1 446.8 M434.5 480.7 435.8 480.9 436.5 482 436.8 483.3 436 484.4 M532.1 435.8 531.8 437.1 530.6 437.5 530.3 438.7 M517.9 436.5 517.2 437.5 517.9 438.6 519.1 439.1 520.2 438.4 M526.8 514.3 527.4 515.5 526.3 516.1 M485.2 485 486.4 484.6 487.7 484.3 488.8 483.7 489.7 482.8 M477 450.3 478.3 450.5 479.5 450.9 480.5 451.7 M489.3 444.5 490.3 443.6 491.4 442.9 492.6 443.4 493.7 442.7 M534.2 516.5 535 517.5 534.6 518.7 533.8 519.8 M540.7 498.6 540 499.7 539 500.5 538.2 501.6 538.4 502.9 M444.9 514 443.9 513.3 444.5 512.2 M480.1 507.3 478.8 507.1 478.4 505.9 479.6 505.4 480.1 504.2 M487.6 423.8 486.3 423.6 485 423.5 M513.9 475.9 513.3 474.8 514 473.8 515.3 474.1 M534.6 491.7 535.5 490.7 536.2 489.7 536.2 488.4 536.3 487.1 M430.3 472.3 431.5 472.8 432.8 472.5 M449.5 524.7 448.6 523.8 448.6 522.5 449.7 521.7 M431.6 473.1 432.6 474.1 433.5 473.2 432.9 472 431.6 472 M491.2 438.3 489.9 438.6 488.9 437.8 489 436.5 M529.2 493.6 527.9 493.6 526.7 494.1 525.6 494.8 M458.4 502.9 457.2 502.6 456.2 503.5 456.8 504.6 458.1 504.4 M495.9 515.9 497.2 515.7 498.5 515.6 499.7 515.8 M439 450.1 440 451 441.3 450.9 441.7 449.7 M503.5 438.7 504.5 438 504.8 436.7 504.1 435.7 M430.7 464.5 429.8 463.5 430.5 462.5 431.7 462 M544.8 511.4 545.9 512 547.1 512.6 547.8 513.7 M488.2 452.9 487.1 453.6 486 454.4 485.2 455.3 M476.4 521.2 477.7 521.2 478.5 522.2 479.7 522.6 M509.3 524.1 508.3 524.9 507.5 523.9 M440.8 511.4 441 512.7 440.4 513.8 439.6 514.9 438.6 515.7 M493.1 505.5 493 504.2 494.1 503.5 495.4 503.2 M515.6 453.6 515.3 452.4 515.4 451.1 516.6 450.6 517.8 450.2 M471.5 445.9 472 444.7 473.2 444.2 474.5 444.4 M437.5 500.7 438.7 501.2 439.9 501.7 440.5 502.8 440.7 504.1 M447.6 479.5 447.4 478.3 446.2 477.8 444.9 478 443.9 478.9" stroke="#76633f" stroke-width="1.25" fill="none" stroke-linecap="round"/>
<path d="M472.6 531.9 471.5 531.2 472 530 473.3 530 474.5 530.5 M510.9 516.1 510.3 517.2 511 518.4 512.3 518.5 M553.7 490.4 552.7 489.5 551.5 490.1 551.4 491.4 M532.8 435.9 532.5 434.7 531.8 433.6 532 432.3 M508.2 492.3 507.9 491 506.8 490.4 506 489.4 M466.9 438.7 466.8 437.4 467.4 436.3 468.7 436 M541.6 501.4 542.8 500.9 544 501.3 544.9 502.2 M431.6 461.9 431.5 460.6 430.5 459.8 429.2 459.5 M472.6 461.6 473.2 460.4 473.7 459.2 473.7 457.9 474.5 456.9 M535.3 450.1 536.1 449 537.3 448.5 538.6 448.5 M555.1 475.8 554.1 475.1 553.6 473.9 M519.5 534.7 519.3 536 518.9 537.2 518.4 538.4 M502.3 526.7 502.5 525.4 502.6 524.1 502 523 M464.6 522 463.3 521.7 463.2 520.5 464.5 520.4 M502.4 512 503.1 511 504.4 511.1 505.3 510.1 M485.5 498.5 485.7 499.8 485 500.9 483.9 501.5 482.6 501.8 M481.1 427.5 482.4 427.8 483.3 428.8 484.3 428 484.4 426.7 M555 480.5 553.7 480.9 552.6 481.6 551.7 482.5 M546.2 500.4 546.3 501.7 547 502.8 546.3 503.9 546.5 505.2 M506.1 529.6 505.7 530.8 504.4 531 503.3 530.2 M538.9 507.2 537.8 506.4 537.4 505.2 537 503.9 536.2 502.9 M460.1 504.1 460.6 505.3 461.9 505.3 462 504 M430.9 476.7 430 475.7 429 474.9 428 474.1 427.1 473.1 M515.2 525.6 514.2 526.5 514.7 527.7 M505.6 482.2 506 480.9 506.6 479.8 507.9 479.7 M468.1 424.2 468.4 425.4 468.5 426.7 469.7 427.2 M528.9 461.4 530.2 461.3 531.1 462.3 531.9 463.3 532.3 464.5 M492.9 457.3 493.7 456.3 495 456.5 496.3 456.5 496.6 455.2 M460.3 525 459.1 525.4 457.8 525.5 456.5 525.5 M446.3 452.7 447.2 453.6 448.5 453.5 448.8 454.7 448.4 456 M507.7 465.8 506.4 465.9 505.7 464.8 506.4 463.7 507.7 463.6 M457.9 459.9 458.1 458.6 458.8 457.5 M516.3 447.9 515.8 449.1 515 450.1 514.7 451.4 M549.6 465.6 550.8 466.2 551.8 466.9 552.2 468.2 553.4 468.4 M465.1 501.1 465.9 502.1 465.3 503.2 465.8 504.4 466 505.7 M519.7 519.9 521 520.4 522.2 520.6 523.4 520.1 M495.6 502.2 495.3 501 496.1 500 497.1 499.2 498.3 499.8 M527 456.7 526.4 455.6 525.1 455.7 524 455.1 523 454.3 M447.8 465.7 447.8 467 447.5 468.2 446.4 469 M516 449.3 514.9 448.7 513.8 449.3 M489.3 471.2 490.5 471.6 491 472.8 490.5 474 491 475.2 M445.4 477 445 478.3 446.2 478.9 446.9 477.8 446.5 476.5 M505.9 453.8 504.7 454.3 503.8 455.2 M495 487 493.7 486.7 492.5 487.3 491.6 488.2 M448.7 460.2 447.4 459.8 446.9 458.6 M482.8 531.8 483.9 531.1 484.5 530 484.2 528.7 483.1 527.9 M541.2 445.7 539.9 445.9 538.6 446.2 537.4 446.6 M525.2 532.7 524 533.1 523 533.9 522.1 534.9 521.8 536.2 M443.1 509.6 442.8 510.9 441.5 511 441.1 509.8 439.8 509.4 M474.8 525 473.7 525.7 472.4 525.5 472 524.2 472.6 523 M538.6 500.7 539.2 499.5 540.5 499.2 541.5 500 542.2 501.1 M450.2 452.7 449.1 452.2 448 451.4 M527.9 468.9 529 469.5 530.2 470.1 531.4 470.7 532.6 470.3 M513.1 493.8 513.5 492.6 514.8 492.7 515.2 493.9 M530.9 450 529.6 450.4 529.1 451.6 528.8 452.9 M460.9 448.4 460.9 447.1 459.8 446.3 458.7 447 M511 493.1 510.6 494.3 509.5 495 508.3 495.6 507 495.6 M451.2 435.5 451.9 436.5 453.1 437.2 454.4 437.4 M505.7 495.1 505.6 493.8 504.4 493.3 503.7 494.4 504.1 495.7 M509.6 504.2 510.6 503.4 511.8 502.9 512.9 502.2 M538.6 469.4 539.6 470.3 540.5 471.1 541.7 471.7 542.9 471.7 M527.3 520.2 526.1 519.7 524.9 520.3 M510.5 478.2 509.7 477.1 508.9 476.2 507.6 476 M543.5 453.8 544.7 453.5 545.7 454.4 545.4 455.6 M489 520.9 490.3 521 491.6 521.4 492.7 521.9 M477 445.8 477.6 444.6 478.7 443.9 M454.4 525.3 454.6 524.1 454.7 522.8 454.4 521.5 454.2 520.2 M464.5 425.3 464.5 424 463.4 423.3 462.2 422.9 460.9 423 M484.7 480.4 485.4 481.5 485.4 482.8 485.3 484.1 M525.8 521.3 526.8 520.5 527 519.2 526.6 518 525.8 517 M488 484.2 487.1 485.1 485.8 485.2 484.6 484.7 M550.7 482.8 552 482.9 553.3 483 554.3 483.9 M457.3 475.2 456.6 476.3 457.5 477.3 458.2 478.4 M476 534.6 477.3 534.8 478.5 534.4 479.8 534.3 479.9 533 M499.4 525.8 500.5 526.4 501.3 527.4 501.9 528.6 M439.2 494.8 440 495.8 440.8 496.8 442.1 496.7 443.1 495.9 M451.9 443.9 451.7 445.2 450.9 446.2 450.3 447.4 M477.9 515.7 478.1 514.4 477.2 513.5 476 514.1 475.6 515.4 M494.2 477.1 494.2 475.8 493.7 474.6 492.8 473.7 M497 457.9 496.4 459.1 495.2 459.3 494.5 460.4 M519.8 481.1 520.7 480.2 521 478.9 520.2 477.9 M446.3 507.8 446 509.1 446.4 510.4 447.6 510.6 M486 444.5 486.7 445.6 487.5 446.6 488.8 446.9 490 446.4 M497.2 448.9 496.1 448.2 495.6 447 496.5 446 497.8 445.7 M501.9 530.7 502.4 531.9 503.7 532.2 504.9 531.7 505.3 530.4 M536.9 458.5 535.8 459.2 535.1 460.3 535.5 461.5 M546.7 472.7 548 472.6 549.2 472.1 550.5 472.3 551.7 472 M468.4 520.1 469.5 520.8 470.5 520 470 518.8 469.2 517.8 M435.5 448.5 435.9 447.2 437 446.5 438.3 446.3 M459.4 441.6 460.5 441 461.2 439.9 462.4 439.4 463.6 439 M480.3 473.1 480.3 474.4 479.7 475.6 478.7 476.4 M491.8 540.6 490.7 541.4 489.8 542.4 489.4 543.6 M477.3 426.5 476 426.7 474.8 427.2 474.3 428.4 474.9 429.6 M428.6 496.2 429.6 497 430.8 496.6 431 495.3 429.8 494.6 M482.1 495.1 481.6 496.3 481.6 497.6 480.5 498.4 M489.5 442.9 488.3 442.3 487.5 441.3 M499.2 481.9 500.5 482 501.7 482.4 M448.6 499.1 447.4 498.8 446.1 498.6 445 499.4 M465.9 517.4 464.7 517.8 463.6 518.5 462.6 517.7 462.7 516.5 M511.4 519.8 510.1 519.7 508.9 520.2 508.5 521.4 M473.7 519.4 473 518.3 471.8 517.7 470.5 518.1 M469.8 426 468.5 426 467.4 426.7 467.1 428 M431.5 487.1 432.7 486.6 433.5 485.6 434.7 485.2 434.6 483.9 M473 426.4 472.4 427.5 473.3 428.5 M531.2 498.4 532.2 499.3 533 498.3 532.7 497 531.6 496.3 M501.1 490.3 502.1 489.4 502.8 488.3 502.9 487 502.8 485.8 M453.4 516.9 454 515.7 455 514.9 456.3 514.5 457.6 514.5 M480.5 495.3 479.3 494.7 478.7 493.6 478.2 492.4 476.9 492.4 M495.7 428.6 495.5 429.9 495.3 431.2 494.3 432 M511.4 514.2 512.7 514.1 513.5 513.1 M532.1 522 530.9 521.5 530.6 520.2 531.3 519.1 M532.2 449.9 532.9 448.8 533.5 447.7 533.8 446.4 M497.7 531.1 496.6 530.5 496.7 529.2 497.5 528.1 M477.1 442.3 477.6 443.5 478.9 443.6 479.5 442.4 478.8 441.3 M491.7 475 492.1 473.7 493.3 474.3 493.7 475.6 492.9 476.6 M549.9 460.3 550.3 461.5 550.2 462.8 549.4 463.8 548.3 464.5 M481.3 450.7 480.1 451.4 479 451.9 M510.6 491.5 511.1 490.3 512 489.4 513.2 489 514.4 489.6 M431.7 508.3 432.1 509.6 430.8 510 429.5 510.2 428.7 511.1 M452.8 433.5 451.9 432.6 452.1 431.3 453.1 430.5 M503.7 442.4 502.7 443.2 501.4 443.4 500.2 443.9 M547.6 508.9 546.9 507.8 546.3 506.6 545.2 505.9 544.3 505.1 M429.3 464.9 429.3 463.6 430.2 462.7 431.4 463.3 M453.1 487.1 453 488.4 452.7 489.6 451.7 490.5 M510 480.2 510.5 481.4 511.8 481.4 512.9 480.7 M434.5 469.8 434.8 468.5 435.1 467.3 435.3 466 435.5 464.7 M452.7 472.7 453.7 473.5 454.9 473.1 455.7 474.1 455.5 475.4 M520.6 497.3 519.3 497.4 518 497.7 516.8 498.1 M527.8 517.7 528.3 516.5 529.3 515.8 530.4 516.5 530.3 517.7 M523.2 532.6 523.1 531.3 523.9 530.3 524.7 529.3 M492.6 435.1 491.9 436.2 490.8 436.9 490.1 438 M517.6 483.2 516.3 483.3 515 483.1 514.7 481.8 514.7 480.5 M529.6 453.8 529 452.7 527.7 452.3 526.6 453 525.4 452.4 M450.2 513 451.3 513.7 452.6 513.4 M543.3 475.5 542 475.5 541.6 474.2 542.4 473.2 M470.8 501.1 470 500.2 470.2 498.9 471.2 498 472.4 497.7 M506.3 468.1 506.6 466.9 507.9 466.5 509.1 467 509.5 468.2 M501.8 500.2 501.3 501.4 500 501.6 499.2 500.7 499.4 499.4 M457.9 484.2 457.6 483 457.6 481.7 457.9 480.4 459 479.7 M423.3 469.9 424.4 469.3 425.2 468.2 424.8 467 M526.6 440.4 525.3 440.3 524 440.3 522.7 440 521.4 440 M439.6 497.7 440.1 498.9 439.6 500.1 438.3 500.1 M552.2 466.3 552.9 465.2 553.8 464.3 555.1 464.6 556 465.5 M448.3 487.2 449.5 486.8 450.6 487.4 451.6 488.3 M488.8 521.3 490 521 490 519.7 488.9 519.1 487.6 519.1 M524.2 455.7 525.3 456.2 525.6 457.5 524.6 458.3 523.4 457.8 M472.9 477.4 471.6 477 470.6 477.8 469.8 478.8 M531.7 499.5 530.7 498.6 529.6 497.9 528.3 498.2 M508.9 525.7 509.4 526.9 508.5 527.7 507.3 528.2 506 528 M510 482.5 509.4 481.4 508.2 480.9 506.9 480.9 505.8 481.6 M497.6 513.2 498.6 512.3 499.1 511.1 498.9 509.8 500.1 509.3" stroke="#433626" stroke-width="1.25" fill="none" stroke-linecap="round"/>
<path d="M459.2 429.6 459.1 428.3 458 427.6 457.1 428.5 456.8 429.8 M493.1 496 493.7 497.1 494.8 497.9 496 498.3 M545.4 457.3 544.1 457.6 543 458.3 542.6 459.5 543.3 460.6 M447.3 462.6 446.2 461.9 444.9 461.6 443.8 462.2 M472.8 428.2 474.1 428.6 475.4 428.6 M434 485.3 435.2 485.7 436.5 485.6 M479.2 487.3 479.4 486 478.7 484.9 477.5 484.3 M522.2 501.1 520.9 501.4 520.8 502.7 521.6 503.7 522.9 503.7 M512.2 527.7 513.3 527.1 514.5 527.6 515.7 527 516.2 525.8 M479.1 524.6 478.4 523.5 477.9 522.3 478.5 521.1 M497 422.9 497.5 421.6 498.6 421 499.8 421.4 M491.9 521.3 492.9 520.4 493.4 519.2 493.7 518 492.7 517.2 M489.9 539.9 488.8 539.3 487.6 539.9 486.8 540.9 487.2 542.1 M474.1 511.3 474.9 510.3 476 509.6 M434.1 503.8 435.2 503.1 434.7 501.9 433.4 501.8 M528.5 517.7 527.9 516.5 526.7 516 525.5 516.3 524.3 516.8 M506.9 471.5 506.2 472.6 505.7 473.8 505.3 475.1 M517.1 526.7 517.6 525.5 518.5 524.6 519.8 524.7 M540.4 491.5 541.5 492 542.8 492.2 544.1 492.4 544.7 493.6 M477.4 490.4 478.5 489.7 478.6 488.4 479.9 488.2 M511.2 517.1 511.8 516 512.5 514.9 512.5 513.6 511.6 512.6 M530.6 494.4 531.6 493.6 531.4 492.3 532.6 491.8 533.1 493 M516.2 458.8 516.6 457.5 517.8 457.8 518.2 459 517.1 459.8 M451.7 515.4 451.8 516.6 452.9 517.4 M475.6 443.1 474.3 443.3 473.3 442.4 473 441.2 472.9 439.9 M529.9 519 530.8 519.9 531.9 519.2 M481.4 513.5 482 514.7 483.3 514.8 484 513.8 484.9 512.8 M491.5 523 491.2 524.2 490.7 525.4 489.8 526.4 M444.4 461.2 445.5 461.9 446.1 463.1 M443 487.7 442.8 486.4 442.8 485.1 443.4 484 442.9 482.8 M454.7 530.9 454.7 532.2 454.4 533.5 454.6 534.8 M467.8 424.3 467.1 425.4 466.6 426.6 466.6 427.9 466.3 429.2 M524.2 469.6 525.3 470.2 525.7 471.5 526 472.7 526.1 474 M522.2 462.2 522.9 463.3 522 464.3 520.7 464 520.4 462.7 M542.9 477.5 542.8 476.2 541.7 475.5 540.5 476 M432 466.2 431.2 467.2 431.1 468.5 429.9 469.1 429.7 470.4 M502.6 447 501.3 447 500.2 446.3 M423.1 475.2 423.2 473.9 422.6 472.8 421.3 472.9 420.1 473.4 M503.7 514.8 504.3 515.9 503.4 516.9 502.1 517.2 501.1 517.9 M473.2 536.2 472.8 537.4 472.3 538.7 471.2 539.3 M527.7 479.9 528.6 480.8 529 482.1 530.2 482.5 M429.4 480.4 428.3 479.7 428.9 478.6 430.2 478.5 431 479.5 M532.1 479.9 530.8 480.1 530.2 481.3 530.2 482.6 531.5 482.8 M515.2 454.8 516.5 454.8 517.5 453.9 518.7 453.4 M528.3 470.6 528.1 471.9 528.3 473.2 528.8 474.4 M447 454.2 448.3 454.1 449.3 454.9 449.6 456.2 M453.6 447.8 454.5 446.9 454.8 445.6 454.5 444.3 453.4 443.8 M521 517.7 520 516.8 520 515.5 518.8 515.1 M434 466.1 434.7 465 436 464.8 436.8 465.8 M514.3 459.2 514.9 460.3 513.9 461.2 512.7 461 511.6 460.3 M442 508.9 441.5 510.1 440.4 510.8 439.6 511.8 M521.1 475.8 522.4 476 523.6 476.5 524.8 476.9 M493.2 425.8 494 424.7 495.3 424.5 M426.2 486.1 425 486.7 423.9 486.1 423.2 485 M506.6 474.3 506.1 473.1 505.6 471.9 505.2 470.7 M514.6 484.7 515.2 483.5 516 482.6 515.8 481.3 516.8 480.4 M518 468.8 518.9 469.7 519 471 520.2 471.6 M485.2 501.6 483.9 501.5 482.8 500.9 481.9 500 480.6 499.8 M488.3 540.2 487.3 539.4 486.3 538.5 M513.8 463.7 513.1 462.6 513.9 461.6 M463.4 493 462.6 494.1 461.7 495 M551 501.2 551.8 502.2 552.5 503.3 553.1 504.4 554.4 504.8 M501.3 488.4 500.4 489.3 499.2 489.8 497.9 489.6 497.4 488.4 M448.4 481.7 449.7 481.5 451 481.9 451.5 483.1 M523.4 440 522.3 439.2 521.2 439.9 520.9 441.1 M502.3 518.7 501.8 517.5 502.4 516.3 503.1 515.2 M448.1 517 447.5 515.9 448.3 514.9 M440.8 492.8 441.8 492.1 442.7 491.1 443.3 489.9 443.5 488.7 M478.4 470.4 478.8 469.1 478.6 467.8 477.7 466.9 M472.3 451.8 472.3 453.1 471.4 454.1 470.2 454.4 468.9 454.3 M527.7 468.6 526.6 469.5 527 470.7 528.2 471.3 M467 493.3 467.4 492.1 467.7 490.8 467.9 489.5 467.9 488.2 M463.4 486.9 462.7 485.8 462.4 484.5 462.6 483.2 M464.7 530 465.6 530.9 466.9 530.5 468.1 531.1 468.7 532.2 M488.9 498.8 489.9 499.6 489.5 500.8 M510 494 508.8 493.7 507.5 494 506.9 495.1 M541.2 480.3 539.9 480.4 538.6 480.2 537.3 480.5 M501.6 514.8 500.5 514.1 500.2 512.9 500.5 511.6 501 510.4 M555.8 478.9 554.5 478.7 553.2 478.7 551.9 478.8 550.7 479.3 M493.2 428.3 493.8 427.1 495.1 426.8 495.8 427.9 M442.3 444.2 442.6 443 442.3 441.7 441.4 440.8 M501.9 494.4 501.4 493.2 502.3 492.3 502.2 491 500.9 490.6 M439.4 510.1 440 511.2 439.6 512.5 438.4 513 437.2 513.4 M440 450.4 438.7 450 437.5 449.5 436.4 448.9 435.1 448.8 M485.8 449.1 484.6 448.9 483.7 447.9 483.9 446.7 M432.3 452.1 433.3 452.8 434.5 452.3 434.6 451 M510.7 492.3 509.6 491.7 508.4 491 507.2 491.3 M442.3 453.2 442 454.4 442.5 455.6 443.4 456.6 444.6 457 M452.9 459.3 454.2 459.5 455.4 459.3 456.6 458.7 M478 524 477 523.2 476.5 522 M548.5 472 547.3 471.5 546.6 470.3 545.4 469.8 544.2 470.1 M498 449.5 497.9 450.8 498.2 452.1 498.6 453.4 499.7 454.1 M445.4 489.1 446.3 488.1 446.2 486.8 445.7 485.6 444.9 484.6 M437.1 462 438.2 462.8 439.3 462.2 M471.8 481.6 472.3 482.8 472.7 484.1 M461.8 499.8 461.6 501.1 462 502.4 463 503.1 463.5 504.4 M489 500.6 489.1 499.3 488 498.6 M459 462 458 462.7 456.9 463.4 455.7 463.9 456 465.2 M512.4 516.7 511.7 515.6 511.8 514.3 512.6 513.3 513.9 513.3 M496.3 480.6 495 480.2 493.7 480.2 493 481.3 492.9 482.6 M470.5 449.2 470.5 450.5 471.7 451 472.2 449.7 472.7 448.6 M506.6 528.2 505.3 528.2 504.1 528.4 503.3 527.4 M500.4 462.4 501.6 462.7 501.8 464 500.8 464.9 M460.7 509.7 461.3 510.9 460.8 512.1 459.6 511.8 458.8 510.8 M453 475.3 454.2 475.8 455.4 476.1 456 477.2 455.4 478.4 M516.8 464.1 515.9 463.1 515 462.2 515.3 461 516.3 460.1 M509.6 454.1 508.3 454 507.1 454.1 505.8 454.3 504.5 454.6 M536.2 523.8 535 524.4 533.9 525.2 533 526.1 M483 539.5 483.2 538.3 483 537 482.2 536 M447.3 443.5 447.9 442.3 447.2 441.3 447.1 440 M482.5 508.9 481.8 507.8 481.5 506.6 482.5 505.7 482.7 504.5 M427.4 466.5 428.2 467.5 427.2 468.4 M467 434.2 465.7 434.3 465.3 433.1 466 432 M495.5 429.6 496.7 430 497.5 431 497.5 432.3 M523.3 451.9 523.4 450.6 524.5 449.9 M468.9 443.9 467.6 444 466.6 444.9 466.1 446.1 466.6 447.3 M470.4 428.9 470.3 427.6 471 426.5 472.3 426.2 473.4 426.8 M447.5 434.8 446.9 433.7 448 433.1 448.8 434.2 448.2 435.4 M538.7 489.1 538.5 487.8 537.3 487.4 M486.1 480 485.9 481.3 484.8 482.1 483.5 482.4 482.2 482.5 M533.7 468.6 535 468.8 535.5 467.6 535.2 466.4 534.2 465.6 M486.1 496.6 485.9 497.9 484.6 498.1 483.4 498.5 482.4 499.4 M473 524.1 474.2 523.6 475.4 523 M492.2 426.8 493.5 426.4 494.5 427.2 M463.9 486.8 464.8 487.7 465 488.9 464.2 489.9 464.5 491.2 M433.4 452.5 433.7 451.3 434.5 450.3 435.8 450.5 M522.7 436.3 523.9 436.8 525.1 437.2 M512.5 430.7 513.1 431.9 514 432.9 515 433.7 M475.8 530.5 476.3 531.7 475.3 532.5 474 532.5 M523.5 451.4 524.3 452.4 524.4 453.7 524.1 454.9 M476.9 460.8 475.6 460.7 474.3 460.7 473.2 461.3 M425.1 472.3 425.7 473.4 424.8 474.3 M449.2 465.5 448.9 464.2 449.8 463.3 451 462.8 452 463.7 M436 493.7 435 492.8 435.2 491.5 436.1 490.5 437.3 490.2" stroke="#6a583a" stroke-width="1.25" fill="none" stroke-linecap="round"/>
<path d="M463.4 466.3 464.6 466.7 465.1 467.9 465 469.2 M454.9 492 455.9 492.9 457.2 492.9 457.9 491.8 M500.4 519 501.6 518.6 502.6 517.8 503.9 517.4 M429.5 461.8 428.2 461.8 427 461.4 425.7 461.8 M493.1 453.5 493.6 452.3 493 451.2 M441.8 455.6 440.6 456.2 439.7 455.3 439.8 454 M554 479.9 555.2 479.2 556.3 478.7 557.2 477.7 M457 502.5 456.9 501.2 457.5 500.1 458.6 499.3 459.8 498.7 M463.7 491.1 464.8 491.8 465.8 492.7 465.6 494 M542.9 484.8 543.2 483.5 542.4 482.5 541.3 481.8 M520.8 446.1 521.3 447.3 522.6 447.6 523.8 447.1 M519.7 505.2 520.9 505.1 522.2 504.8 523.1 503.8 M489 455.6 489.3 456.9 488.8 458.1 488.3 459.3 M458.7 438.1 459.7 437.3 460 436.1 460.6 434.9 460.2 433.6 M535.1 518.6 534 519.3 532.8 518.9 532.6 517.6 531.3 517.3 M485.1 501.2 484.1 502.1 483.9 503.4 484.5 504.5 485.5 505.3 M531.3 517.4 530.3 516.7 529.1 516.1 528.5 514.9 529 513.7 M532.5 474.9 533.7 474.5 534.1 473.3 533.7 472 M495.5 524.8 495.1 523.6 494 523 492.7 523 M484.5 439.5 485.4 440.4 486.4 441.3 487.7 441.3 M551.3 494.9 551.8 493.7 551.9 492.4 553 491.6 554.2 491.9 M483.3 429 482.7 427.8 481.5 427.3 480.2 427.3 479.1 428.1 M510.3 518.9 509.6 520 508.9 521.1 508.3 522.2 507.1 522.8 M457.6 459.6 456.3 459.8 455.9 458.6 M438.9 481.3 437.6 481.2 436.3 481.5 435.1 482 M483.4 488.8 482.4 489.7 481.9 490.9 482.3 492.1 482.6 493.4 M441.6 458 441.7 456.7 441.4 455.4 440.8 454.3 M490.1 441.1 491.1 441.9 491.9 442.9 492.2 444.2 491.3 445.2 M523.6 443.5 523.1 442.2 522.8 441 522.6 439.7 M471.9 425.1 473.1 425.7 474 426.5 475.2 425.9 M509.3 516.2 510.5 515.7 511.8 515.3 511.5 514.1 510.2 514.2 M468.8 450 469.7 449.1 470.8 449.8 471.1 451.1 470.7 452.3 M437.5 471.1 438.8 471.4 439.5 472.5 440.4 473.4 M528.7 455 527.5 455.3 526.3 455.9 525.1 456.4 524.2 457.3 M516.5 461.1 517.3 460.1 516.9 458.8 515.9 458.1 514.7 458.7 M503.5 509.5 504.6 508.8 505.9 508.6 506.4 509.7 505.7 510.9 M448.7 519.6 447.8 520.5 447.3 521.7 446.8 522.9 M458.2 521.7 457.5 520.6 456.5 519.8 456.5 518.5 M476.5 489.3 475.2 489.2 474.1 490 M466 447.8 465.6 446.5 466.1 445.3 466.7 444.2 467.5 443.1 M515.8 430.5 516.9 429.8 518.2 430 M536.1 517.9 535.8 516.6 535.1 515.6 534.2 514.6 M549 458.5 548.9 459.8 549.1 461.1 M511.5 425 511.7 423.7 511.7 422.4 M492 520.2 493 519.3 493.3 518.1 494.4 517.4 M550.9 494.2 552.1 494.6 553.1 495.4 554.3 496 M439 501.3 438.1 500.5 437.8 499.2 M499.9 529.4 499.1 530.4 497.8 530.1 496.5 529.9 M485 531.1 485.6 532.2 485.9 533.5 485.3 534.7 484 534.8 M465.1 462.7 463.9 463 463 462 463.8 461 M553.7 490.6 553.3 491.9 553.1 493.2 553.2 494.5 552.7 495.7 M445.4 526.7 445 527.9 444.1 528.8 443.3 529.8 442 529.4 M429.4 457.7 429.7 456.4 430.6 455.6 431.8 455 M474.8 527.4 476.1 527.4 476.2 528.7 475 529.2 474.4 528.1 M441.7 508.5 442 509.8 441.3 510.9 440.1 511.4 438.8 511.3 M428.2 464 427.2 464.8 427.2 466.1 428.3 466.8 M526.8 463.8 525.6 463.3 524.5 464 523.7 465 523.3 466.2 M474.4 492.6 473.6 491.6 474 490.4 475.3 490.1 M495.9 435.2 496.5 436.4 497.1 437.5 498.3 438 M491.1 455.5 491.2 454.2 491.5 452.9 491 451.7 489.8 451.3 M458.3 512.9 457.6 511.7 457.4 510.5 457.9 509.3 M435.3 514.9 434 514.7 432.9 515.4 M536.3 480.5 537.3 481.3 538.6 481.6 539.6 480.7 540.1 479.5 M533.7 513.8 534.1 515.1 534.4 516.3 534.2 517.6 M514.3 448.5 513.7 449.7 513 450.8 512.1 451.7 510.9 452.3 M533 499.7 532.5 498.5 531.6 497.5 531.1 496.4 530.9 495.1 M508.4 426.9 509.2 427.9 508.5 428.9 507.3 429.5 M522.5 477.1 522.1 478.3 523.1 479.1 524.4 479.3 525.5 478.7 M533.8 469.1 534.9 468.3 535.7 467.4 535.1 466.2 M490.5 420.6 491.3 419.6 490.8 418.4 490 417.4 M502.3 427.7 503.6 427.5 504.8 428 505.3 429.2 M548 453.6 546.7 453.3 545.9 452.3 546.5 451.2 M463.1 498.3 464.2 497.7 465.4 498.2 465.8 499.5 M465.5 532.3 464.4 532.9 464.7 534.2 466 534.5 M492.2 421.3 491.6 420.1 491.5 418.8 492.3 417.8 M464.7 468 464.4 466.8 463.4 465.8 463.4 464.5 464.7 464.5 M511.2 537.6 512.4 538.2 513.7 538 514.9 537.6 M501.7 466.1 502.9 466.6 503.7 467.7 M511.3 429.1 510.8 427.9 509.9 426.9 508.6 426.8 M433.1 487.3 433.8 486.2 434.9 485.4 435.8 484.6 M504 437.1 504.9 438 506.2 438.4 M516.9 430.1 518.1 429.5 518.7 428.4 518.2 427.2 M492.3 442.2 491.3 443 490.7 444.1 490.3 445.4 M452.8 447.2 453.9 446.5 454.8 445.6 455.4 444.5 M481.6 455.5 482.2 456.7 481.4 457.7 M468.5 439.1 467.2 438.8 466.9 437.5 465.6 437.7 M528.8 516.4 529.1 517.6 528.3 518.7 527.1 519.2 525.8 519.2 M529.2 442.9 530.1 443.8 531.4 444 532.1 442.9 533.4 442.4 M531.7 491.7 530.5 491.1 530.8 489.9 531.7 488.9 M549.7 493.4 548.5 493.8 548.4 495.1 549.4 495.9 M454.6 450.8 455.8 451.2 457 451.6 457.5 452.8 M499.6 485.9 500.8 485.6 501.9 486.3 502.3 487.6 503.4 488.3 M511.4 426.7 510.6 425.7 509.3 425.5 508.1 425.9 M492.7 501.5 492.5 500.2 491.6 499.3 490.4 499.8 M479.3 503.4 480.3 504.2 481.1 505.3 481.4 506.5 M547.1 492.8 546.9 494.1 545.6 494.3 544.8 493.3 M534.2 525.7 535.3 524.9 536.5 524.5 537.7 525.1 538 526.3 M505.8 427 506.5 425.9 507.2 424.8 M535.1 463.5 533.9 463 533.1 461.9 532.2 461 M480.6 517.6 479.4 517.2 478.8 516 479.9 515.3 481.2 515.4 M483.6 532.7 484.9 532.5 486 531.8 486.7 530.7 M555.6 479.6 556.9 479.7 558 479 M470.6 423.3 469.5 422.6 469.4 421.3 469.9 420.1 M497 439.2 496.4 440.3 495.1 440.2 493.9 440.7 M486.3 486.3 485 485.9 484 486.7 484.1 488 M499.5 441.4 499.6 442.7 500.3 443.8 501.6 443.4 502.5 442.5 M531.4 469.4 531.6 470.7 530.5 471.4 529.2 471.5 M463.5 509.5 462.2 509.8 461.8 511.1 M462.2 517 461.2 516.2 460.4 515.2 459.9 514 460 512.7 M467.1 441.1 466.4 439.9 467.1 438.8 468.2 438.2 M519.5 480.1 518.3 479.8 517.1 480.3 517 481.6 518.2 482 M471.9 462.4 471.6 463.7 472.5 464.7 473.7 465.2 M554.3 468.8 554 467.5 554.4 466.3 555.6 465.8 M477.3 534.8 477.5 533.5 478 532.3 478.9 531.4 480.1 530.9 M497.5 426 497.5 424.7 497.6 423.4 497.5 422.1 M514.9 479.3 514 480.2 514.2 481.5 M508.2 514.9 507.8 513.7 507.4 512.4 506.9 511.2 506.7 509.9 M426.1 488.3 427.3 488.7 428.4 489.4 429.5 490.1 430.8 489.8 M488.7 541.6 490 541.5 490.5 540.3 490.5 539 489.8 537.8 M495.2 456.6 495.5 455.3 496.2 454.2 496.5 453 M530.8 454.1 531.7 453.2 532.5 452.1 M478.6 426.1 477.8 425 477.3 423.8 478.1 422.8 M499.9 469.1 499.1 468 499.6 466.8 500.7 466.1 501.9 466.5 M497.9 424.1 499.2 424.6 500.4 424.8 501.3 425.8 502.4 426.5 M446.9 506.1 446.4 504.9 446 503.7 446.3 502.4 M507.4 472.2 506.6 471.1 505.4 470.8 504.2 471.4 503.8 472.7 M504.3 423.7 503.8 424.9 502.6 425.5 M500.5 456.3 500.8 457.5 501.6 458.6 502.7 459.3 503.9 458.8 M519.3 481.9 519.3 480.6 518.3 479.7 518.9 478.6 520.2 478.2 M487.9 432.4 487.6 433.6 488.4 434.7 M434.7 454.1 435.5 455.2 436.6 455.9 437.6 455 437.7 453.7 M531.3 472.3 530.9 471 529.6 470.8 528.7 471.7 527.4 471.4 M442.7 463.2 443 461.9 444.3 461.7 444.9 462.8 443.9 463.7 M498 514.8 499.1 514.2 500.3 514.7 501 515.8 501.6 516.9 M526.7 443.5 527.4 442.3 528.2 441.3 528.9 440.2 M511.4 530.9 510.4 531.8 509.3 532.3 M476.1 504.2 475.1 505 474.6 506.2 474.8 507.5 475.9 508.1 M539.4 494.4 538.2 493.8 536.9 493.6 535.9 494.4 M492.8 464.2 491.9 465.2 490.6 465.1 489.5 464.4 489.1 463.2" stroke="#54452e" stroke-width="1.25" fill="none" stroke-linecap="round"/>
<path d="M522.5 478.1 523.8 478 525 478.3 525.9 479.2 M497.4 430.7 498.5 431.3 499.8 431.6 M473 459.6 474.2 459.4 475.5 459.6 476.6 460.3 M540.7 495.7 540.8 494.4 542.1 494.4 543.1 495.2 M475 478 474 477.2 472.7 477.1 471.6 477.8 470.3 478.1 M490 521.7 489.1 520.7 489.4 519.4 M470.2 480.9 471.5 481.1 472.8 481.2 474 480.7 M530.9 451.6 530.1 452.6 530.2 453.9 531 454.9 M486.3 537.5 485.8 538.7 485.8 540 484.7 540.7 M432.6 513.8 433.5 512.9 433.6 511.6 432.3 511.2 431.7 512.3 M548.5 496.2 549.5 496.9 550.8 497.3 551.9 496.7 553 497.5 M510.2 531.9 511.5 532 512.7 531.6 514 531.7 M503 517.2 502.7 516 502.6 514.7 501.8 513.6 M545.7 505.1 544.4 505.1 543.1 505.1 541.8 505 M512.3 505.2 511.1 504.9 510.4 503.8 511 502.7 512.1 501.9 M468.4 533.8 469.2 532.8 470.1 531.9 471 530.9 471.8 529.9 M525.6 434.7 526.9 434.5 527.9 433.6 529.1 433.9 M510.5 459 510.3 457.7 510.5 456.5 510.6 455.2 M469.8 484.6 469.8 483.3 468.9 482.3 M526.2 504.2 524.9 504.2 524.7 502.9 524.6 501.6 524.5 500.3 M528.1 445.2 528.1 443.9 528.4 442.7 529.2 441.7 529.9 440.6 M531.3 480.2 531.7 479 532.2 477.8 532.3 476.5 M519.1 510.3 518.4 509.3 517.1 509.2 515.8 509.1 M488.3 520.9 489.1 519.8 490.3 519.4 491.6 519.8 492.9 519.8 M503.1 455.6 504 454.6 505.1 455.2 505.4 456.5 505 457.7 M527.1 475 525.8 475.1 524.5 475 523.8 473.9 523.6 472.6 M542.5 496.3 543.5 497.1 544.8 497.5 545.3 496.3 544.2 495.5 M481.1 485 481 483.7 480.4 482.5 479.6 481.5 478.6 480.6 M541.3 466.6 540.1 466.2 539.6 465 539.9 463.7 M429.1 471.2 427.8 471.2 427.6 469.9 M537.7 458.5 537.9 457.2 537.7 455.9 M510.7 503.9 509.7 504.8 509 505.8 508.3 507 508.2 508.3 M506.3 436.7 505 436.6 503.7 436.7 M437.7 448.9 438.5 449.9 438.5 451.2 438.4 452.5 438.3 453.8 M489.1 461.1 488.1 461.9 488.4 463.2 489.3 464.2 489.7 465.4 M525.6 495.1 524.4 495.4 523.1 495.7 M465.2 445.1 464 445.6 463 446.3 461.7 446.5 M489.9 442 490.9 441.2 492.1 440.7 493.4 440.3 494.4 441.1 M524.7 438.8 523.7 439.7 523.3 440.9 523.7 442.2 524.1 443.4 M440.7 461 440.2 462.2 439.2 462.9 439.3 464.2 M498.1 516.1 499.4 516.3 499.9 517.4 499.1 518.4 498.7 519.7 M495.5 472.2 496.2 473.3 497.5 473.5 498.6 472.8 M475.6 523.4 475.1 524.5 473.9 525 472.8 524.4 472.8 523.1 M503 532.7 502.8 531.4 501.6 530.9 500.3 530.9 M485.9 496.5 486.4 495.3 487 494.2 487.8 493.2 488.8 492.3 M439 489 439.4 487.7 439.7 486.5 M430.6 479.8 431.2 480.9 432.5 481 433.8 480.6 434.2 479.3 M521.1 453.8 519.9 454.4 518.7 453.9 M497.1 464.7 496.6 465.9 495.5 466.7 494.3 466.3 M477.9 430.2 478.6 431.3 478.9 432.6 478.7 433.9 M517.6 498.5 518.8 499 519.8 499.9 519.6 501.2 M534.4 470.5 535.6 470 536.6 469.3 537.8 468.7 539.1 469 M440.2 469.1 439.2 468.2 438 468.1 436.8 468.8 M464.2 458.4 463.3 459.3 462.1 459.8 461.3 458.8 M491 423.6 491.1 422.3 491.3 421.1 492.4 420.3 M543.1 506.4 543.3 505.1 542.6 504 541.3 504.1 540.3 503.3 M485 422.2 485.7 421.1 485.1 420 483.8 420 482.9 421 M459.7 504.8 458.5 504.3 458.2 503 457.1 502.3 M502.6 439.9 503.5 440.9 503 442.1 M510.2 537.1 510.5 538.3 511.3 539.3 512.6 539.1 M479 479 479.9 480 481.1 480.5 482.4 480.8 483.6 481.3 M466.5 492 467.2 490.9 468.5 491.2 469.5 492.1 M472.5 513.5 472.3 514.7 471 514.7 470.8 513.4 471.5 512.4 M518 517.1 517.4 518.3 516.8 519.4 516.4 520.6 M470.2 498.7 470 497.4 469 496.6 M492.2 521 491.1 521.6 490.7 522.9 490.6 524.2 491.1 525.4 M435.9 506.2 434.6 506.1 433.8 505.1 434.1 503.8 M492.2 506.3 492.5 507.5 493.8 507.6 494.9 506.9 494.8 505.6 M483 432.1 482.3 433.2 481 433.6 M530 482.5 529.3 483.6 528 483.7 527 482.8 M546.4 469.9 546.8 468.7 547.9 468 547.7 466.7 546.9 465.6 M495.4 530.4 494.9 529.2 493.6 528.8 492.6 529.7 492.4 530.9 M480.8 431.3 479.6 431.7 478.4 431.2 477.9 429.9 478.4 428.7 M461.3 449.7 460.5 448.6 461 447.4 M450.8 432.5 449.6 432.3 449.6 431 450.9 431.1 451.5 432.2 M500.5 496.7 500.2 498 499.7 499.2 499.4 500.4 498.5 501.5 M541.3 517.6 542.6 517.7 543.8 518.3 544.9 517.7 M515.1 460.2 514.2 461.2 514.9 462.3 516.2 462.1 M523.6 494 524.8 493.7 525.9 494.5 526.6 495.5 526.6 496.8 M463.9 507.7 462.8 507.1 461.9 506.2 460.9 505.3 M497.5 449.8 498.6 449.1 499.4 448.1 M517.6 534.8 518 536.1 519.2 536.6 520.3 535.9 M484.2 524.1 483.3 523.2 482.9 521.9 483.2 520.7 M429.5 494 430.7 493.4 431.6 492.5 M436.9 453 437.6 454.1 438.9 454.3 440.2 454.1 M431.3 499.4 431.5 500.6 431.5 501.9 430.7 502.9 M440.5 490.8 441.5 491.5 442.7 492 443.3 493.2 M520.5 500.8 521.3 499.8 522.6 499.6 523.9 499.4 525.1 499.9 M505.7 509.3 506.3 510.5 507.4 511 508.7 510.7 509.8 510 M449.1 433.3 450.2 432.7 451.2 431.8 451.8 430.7 452.2 429.5 M544.3 502.5 545.6 502.8 546 501.6 M511.7 456.7 512.8 456 514.1 456 515 456.9 M465.2 482.1 465.9 483.2 467.2 483.4 468.4 483.8 469 484.9 M490.1 450.1 489.1 449.2 488.5 448.1 488.8 446.9 M446.5 477.1 447.8 477.5 448.9 478.1 449 479.4 448.4 480.6 M541.4 469.8 540.2 469.3 538.9 469.3 538.1 470.3 538.1 471.6 M482.1 514.3 483.1 513.5 483.5 512.2 484.2 511.1 M450.7 481.8 451.8 482.4 451.8 483.7 450.7 484.5 449.4 484.4 M529.8 512.6 529.4 513.8 530.2 514.8 M458.2 495 457 495.3 456.6 496.6 457.5 497.5 458.7 498 M430.2 502.7 429 503 427.8 502.6 427.3 501.4 M549.1 476.5 550.4 476.2 551.6 475.9 552.9 476.2 M468.7 445.7 469.4 444.6 470.6 444.1 M426.8 486.1 425.7 485.5 425.4 484.2 425.4 482.9 426.2 481.9 M482.3 494.4 481.1 493.9 479.8 493.6 478.7 494.2 477.5 493.6 M526.7 471.2 525.9 470.2 525.6 468.9 524.6 468.1 M502.9 523.6 504 524.2 505.2 524.8 M462.9 535.1 464.2 535.3 464.4 536.6 463.6 537.6 M458.2 476.8 458.8 475.7 458.9 474.4 459.3 473.1 459.2 471.8 M460.6 520.7 461.8 521.3 463.1 521.1 464.2 521.9 M489.1 443.9 487.8 443.9 487.4 445.1 487.7 446.4 488.5 447.4 M508.6 441.1 508.1 439.9 507.1 439.1 M486.2 468.9 485.4 467.9 485 466.6 485 465.3 M431.4 454.2 432.7 454.4 434 454.5 435.1 455.2 M507 486.8 508 485.9 507.9 484.6 506.9 483.8 505.8 484.5 M509.4 445.9 510.7 445.8 511.3 447 510.8 448.2 M515.5 517.5 514.7 516.4 514.5 515.2 513.6 514.2 M530.8 510.3 530.8 511.6 530.1 512.7 528.8 512.4 M469.7 518.9 468.8 518 467.7 517.2 466.7 516.5 M511.2 518.6 512.4 518.1 512 516.9 510.7 516.5 M515.4 503.1 515.4 504.4 516.6 504.7 517.3 503.6 M422.7 484.3 422.7 485.6 423 486.8 423.2 488.1 424.3 488.9 M465.3 436 464.7 434.8 463.4 435 462.1 434.7 M504.6 459.6 503.6 460.4 503.9 461.7 505.2 461.9 506.5 462 M463.9 487 463.4 485.8 462.7 484.7 461.5 484.3 460.2 484.4 M475.2 524.8 476.4 524.5 477.5 523.7 477.4 522.4 M467.2 504.7 466.9 503.5 467.5 502.3 468.8 502.5 M507.9 521.1 508.5 522.3 508.6 523.6 507.7 524.5 M535.3 460.1 536.5 459.7 537.1 458.6 536.9 457.3 537.7 456.2 M512.5 497 511.3 496.6 510.7 495.4 M428.9 497.4 427.7 497.8 426.7 498.7 427.2 499.8 M523.1 526.1 522.6 524.9 521.6 524.1 M474.1 468.5 474.4 469.7 474.7 471 473.8 471.9 472.5 471.5 M490.7 506.3 489.5 506.9 488.4 506.2 488.8 505 M529.3 433.8 528.1 434.3 527.7 435.5 528 436.8 528.9 437.8 M500.4 453.2 499.1 453.1 497.8 453.2 497.7 454.5 499 454.7 M511.1 476.5 511.6 477.7 512.8 478.2 513.9 477.6 514 476.3 M522.7 453.3 524 453.3 525.2 453.6 526.4 454.2 M440 506.7 440.4 505.5 441.7 505.1 442.9 504.9 M550.2 486.7 551.4 487 551.9 485.8 550.8 485 M521.3 429.8 522.5 430.4 523.7 430.8 524.4 431.9 M447.3 483.8 447.1 482.6 445.9 481.9 445.5 480.7 445 479.5 M478.6 506.7 479.7 507.5 480 508.7 479.3 509.8 478.6 510.9 M452.2 431 453.4 431.4 453.5 432.7 M482.1 458.4 481.5 457.2 482.3 456.2 482.1 455 481.2 454 M540.5 520.1 540.4 518.8 540.7 517.5 541.4 516.4 M462.4 529.5 463.6 529.1 464.9 528.9 M505.8 447.2 504.9 446.3 503.8 447 503.5 448.3" stroke="#5e4e34" stroke-width="1.25" fill="none" stroke-linecap="round"/>
<path d="M525.3 459.7 525.4 458.5 525.3 457.2 524.6 456.1 524 454.9 M548.1 503.5 546.8 503.5 545.5 503.1 544.9 502 M524.1 526.6 525.3 526.1 526.5 525.6 527.8 525.3 529 525.9 M486.2 500 485 499.4 484.7 498.2 485.7 497.3 486.9 497.5 M428.5 501.6 428.5 502.9 429.3 504 430.5 504.5 M470 455.5 468.9 454.8 468.9 453.5 M444.1 451.3 444.8 450.2 446.1 450.6 446.3 451.9 445.3 452.7 M434.6 490.2 433.5 490.8 432.3 491.2 431.1 491.8 M462.8 529.9 463.9 529.2 465.2 528.9 466.2 528.1 467.3 527.4 M519.8 492.1 519.8 493.4 519.1 494.5 518.2 495.4 M512.4 447.9 512 449.2 510.7 449.6 509.7 448.7 M531.4 528.3 532.5 529 533.7 529.4 534.9 530.1 535.9 530.9 M444.2 512.6 445.5 512.5 446.6 513.1 447.8 513.8 448.6 514.7 M504.1 529.6 503.5 530.7 503 531.9 501.8 532.5 M496 447.4 494.7 447.2 494.1 448.3 495.1 449.1 496.4 448.7 M481.5 529.2 482.8 528.8 483.9 528.1 485.2 528.1 486.4 527.7 M447 449.7 446.8 448.4 445.7 447.6 444.4 447.8 443.7 448.9 M510.5 521.4 511.6 520.8 512.7 520 513.8 519.4 515.1 519 M463.3 453.8 462.4 454.7 461.8 455.9 461.8 457.2 M465.8 490.1 466.8 490.8 467.1 492.1 466.2 493 M470.8 432.8 471.2 434 470.7 435.3 469.5 435.5 M487.6 432.9 487.6 431.6 487.2 430.3 486.2 429.5 M457.2 438.7 458.5 439.1 459.6 438.5 459.9 437.2 459.6 436 M455.5 444.8 456.8 445.1 458 445.7 458.5 446.9 459.6 447.5 M541.2 500.6 540.1 500 538.8 500 537.5 500.3 M459.7 503.3 459.1 502.1 459.3 500.8 460.5 500.3 461.4 501.2 M432.1 505.6 431.5 504.5 431.7 503.2 431.1 502.1 430.3 501.1 M499.5 463.1 500.4 464 500.4 465.3 499.1 465.7 497.8 465.6 M552.4 483.3 551.4 484.2 550.6 485.1 550.4 486.4 M541.5 459.7 542.8 459.3 544 459.6 545.3 459.8 546.1 458.7 M539.3 521.1 538.7 522.3 539 523.6 M458.9 439.5 458 440.4 458.3 441.6 459.5 442 M493.5 473.2 492.3 472.8 491.9 474 492.4 475.2 493.6 475.7 M486.8 446.7 488.1 446.9 489.4 446.9 490.4 447.6 491.1 448.7 M544.8 488.3 546 487.6 546.3 486.3 547.6 486.3 M430.2 456.2 429.4 455.1 429.3 453.9 430.1 452.8 431.4 452.7 M466 441.9 467.2 441.4 467.9 440.3 468 439 467.9 437.7 M460 529.1 461.2 528.6 461.8 527.5 462.1 526.2 M478.6 488.6 477.3 488.7 476.5 487.7 476.8 486.4 477.7 485.4 M502.7 524.7 502.7 526 502.3 527.3 501.5 528.3 500.3 528.1 M545.1 514.3 545.6 513.1 546.9 513.1 M498.1 465.7 499.1 466.5 500.1 467.2 M491.3 435.4 492.6 435.4 493.5 434.5 M519.2 501 519.8 502.1 519.8 503.4 520.9 504.2 M439.8 453.2 440.2 454.4 439.5 455.5 440.1 456.6 M506 500.4 504.9 499.7 503.7 500.3 504.1 501.5 503.6 502.7 M455.9 529.2 456.2 528 456.3 526.7 M470 478 470.7 479.1 470.9 480.4 470.2 481.5 469 482.2 M478 523.8 477.6 525 477 526.2 476.6 527.4 M487.7 431.3 489 431.2 490.3 431.4 491.5 431.8 M443.6 458.1 444.9 458 445.8 457.1 445 456 443.9 456.7 M468.7 514.5 470 514.6 470.5 513.4 470 512.2 M437 493.4 437.9 494.3 437.6 495.5 436.6 496.3 435.4 495.7 M483 441.8 483.8 440.8 484.6 439.8 483.9 438.7 482.6 438.4 M473.1 439.9 471.8 439.6 470.8 438.8 470.2 437.7 470.7 436.5 M538.4 508.9 539.5 509.4 540.8 509.6 542 509.1 M471.8 520.5 472.8 521.4 474.1 521.4 474.9 520.4 M478.2 538.1 477 538.7 476.3 537.6 477.2 536.6 M488.7 457.9 489.7 457.1 489.2 456 488.1 455.2 M540.7 493.1 541 491.8 539.9 491.2 538.6 491.5 M484.3 503.1 483.3 502.2 482.3 501.3 481.2 500.7 479.9 500.6 M455 488.8 455.5 490 456.6 490.6 457.9 490.8 M494.6 482.1 495.9 482.2 497.2 482.1 498.4 482.5 499.7 482.9 M496 509.4 497 510.1 498.3 510 499.1 509 M444.9 463.6 443.7 463.4 443.1 464.6 M456.8 504 455.6 503.5 454.3 503.5 453 503.5 M449.8 449.9 450.5 451 449.5 451.9 448.3 451.4 448.2 450.1 M513.3 452.5 514.3 453.4 515.3 454.1 515.7 455.3 515.4 456.6 M443 438.9 442 439.6 441.3 440.8 441.1 442.1 441.1 443.4 M474.9 516.1 474.1 515.1 472.9 514.8 M491.5 439.7 490.9 438.6 490.3 437.4 489.8 436.2 489.9 434.9 M434.4 461.8 434.7 460.5 434.6 459.2 433.3 459.2 M519.5 484.7 520.4 483.7 521.7 483.5 522.5 484.6 M460.5 457.7 460 458.9 459.5 460.1 459.3 461.4 M450.5 465.4 450.6 464.1 449.9 463.1 449.2 462 M455.2 434.6 454.3 435.5 453.3 436.4 453 437.6 453.4 438.9 M483.5 482 482.2 481.7 481.4 482.7 480.4 483.5 M441.8 485.4 442.4 486.6 442.6 487.8 443.1 489 M458.9 458.1 458.8 459.4 459.6 460.5 M535.4 463 534.4 463.8 533.3 464.5 532.1 464.8 M471.2 425.7 470.2 426.6 469.5 427.7 469.5 429 469.8 430.3 M439.2 487.7 438.5 488.8 437.3 488.4 436.7 487.2 M499.8 468.7 499 469.7 497.7 469.8 M495.7 508.5 496.1 509.7 496.2 511 495.8 512.3 M474 496.7 475.3 496.3 476 497.3 476 498.6 M457.1 515.9 457.5 514.7 457.7 513.4 458.4 512.3 M449.6 494.2 450.3 493.1 451.6 493 452.7 493.8 453.2 495 M512.5 508 511.3 507.4 511.1 506.2 511.5 504.9 512.7 504.5 M500.6 462.4 500 461.3 499.6 460 499.3 458.7 M504.2 508 505.2 507.2 506.5 507.1 507.8 507.3 M472.5 443.3 471.6 442.4 470.4 443 470 444.2 M437 504.5 435.7 504.5 434.5 504.1 433.4 503.4 M433.5 494.6 434.7 494.1 436 494.1 437.2 494.3 438.5 494.7 M473.1 422.8 472 423.4 470.7 423.8 469.4 424 468.1 423.8 M514.8 486.5 516.1 486.4 517.3 485.7 518.4 485 M472.7 493.8 473.9 493.7 475 494.4 474.8 495.7 474 496.8 M486.6 455.9 487.3 457 487.1 458.3 487.3 459.6 488.1 460.5 M443.3 514.7 442.2 515.4 440.9 515.7 440.1 516.7 439.7 517.9 M478.2 499.7 478.7 498.5 480 498.5 481 499.3 M498.9 507.8 499.9 506.9 500 505.6 498.7 505.3 497.7 506.2 M427.8 503.2 428.7 502.1 429.5 501.1 430.5 500.3 431.6 499.7 M496.7 522.9 495.4 522.6 494.3 522.1 493.9 520.8 M461.1 524.7 460 525.5 459.2 526.5 458 526.9 M477 500.9 477.3 502.2 477.1 503.5 476.7 504.7 M548.3 497.6 548.8 496.4 548.5 495.1 547.6 494.2 546.3 494.3 M478 499.7 476.7 499.3 475.5 499 474.3 498.3 474.2 497 M499.1 487.4 500.3 487.9 500.7 489.1 502 489.4 502.8 488.4 M476.5 469.6 475.7 468.6 475.1 467.4 474.8 466.1 M478.8 468.1 480 468.4 481 469.2 481.3 470.5 M554.3 479.8 553.7 478.6 553.6 477.3 553.5 476 M502.2 517.8 501.2 518.6 500 519.2 500.1 520.5 501.2 521.1 M458.7 490.1 457.5 489.7 456.4 490.3 456.6 491.6 457 492.8 M474.3 538 474 536.8 472.7 536.6 472.1 537.8 472.7 538.9 M456.5 466.8 457.8 466.8 458.9 467.6 459 468.9 M496.8 425.2 495.5 425.2 494.7 426.2 494.6 427.5 M525.6 531.7 524.9 530.6 523.6 530.8 522.7 531.7 M453.8 515.3 453.5 514.1 452.7 513 451.5 513.3 450.7 512.3 M499.9 459.1 499.2 458 499.7 456.8 500.9 457.2 500.9 458.5 M509.3 505 509.3 506.3 509.9 507.5 510.2 508.7 510.8 509.9 M507.1 491 506.1 491.9 505.1 492.7 503.9 492.2 503.5 490.9 M468.8 486.3 469.9 485.7 469.5 484.4 468.5 483.6 M472.9 473.1 474.1 473.4 475.4 473.1 476.2 472 476.4 470.8 M532.2 491.1 531.3 490 530.1 490.4 528.8 490.3 M505.1 450.4 504.7 449.2 503.4 448.8 503.5 447.5 504.5 446.8 M476.9 505.7 475.8 506.4 475.9 507.7 477.1 508.1 M438.6 460.6 439.1 461.8 440.2 462.5 M486.5 475.1 485.7 476.1 486.7 476.9 487.8 476.3 487.4 475.1 M523.2 442.2 522.9 443.5 523 444.8 523.1 446.1 M473.9 475.2 474.5 474 475.7 473.5 476.8 472.9 M515.5 499.7 515.4 498.4 516.1 497.4 517.4 497.2 518.1 498.4 M489.1 452.6 487.8 452.5 486.9 451.6 486.2 450.6 M525.7 530.1 526.4 529 527.6 528.6 528.4 527.5 528.1 526.3 M498.5 457 497.6 457.9 496.7 458.9 496.4 460.1 M490.6 447.4 490.6 448.7 490.4 449.9 489.6 451 490.2 452.1 M492.7 521.4 493.7 520.5 494.2 519.3 493.5 518.2 M453.6 448.9 454.7 449.6 456 449.5 456.9 450.4 458.1 451 M490.1 424.5 488.9 424.8 488 423.8 488.8 422.8 490 422.4 M547.1 504.9 546.5 503.7 545.2 503.7 544.2 504.6 M496.3 450.7 496.3 452 496.7 453.3 497.2 454.5 M465.7 503 464.5 502.4 463.8 501.3 463.9 500 464 498.7 M468.9 519.2 469.3 517.9 470.4 517.2 471.1 516.1 471.5 514.9 M430.7 488.3 429.6 487.7 428.9 486.6 428.3 485.4 428.3 484.1 M510.3 493.1 511.3 494 512.4 493.3 512.1 492 M464.3 495.6 463.8 496.7 462.6 497.2 461.3 496.9 M463.4 443.8 462.3 443.1 461.1 442.6 460 441.9 460.7 440.8 M457 492.3 457.9 493.2 458.7 494.3 459.9 494.7 461.1 495.3 M450.5 526.3 450.7 525 450.1 523.9 448.9 524.3 449.1 525.6 M449.3 517 450 518 451.3 517.9 452.5 517.3 452.3 516 M442.4 508.9 443.1 510 442 510.7 441.8 512 M447.2 496.6 446.6 495.5 445.3 495.7 444.2 496.4" stroke="#4a4030" stroke-width="1.25" fill="none" stroke-linecap="round"/>
<path d="M514.7 452.4 514.6 451.1 514.6 449.8 514.5 448.5 M500 541.1 498.8 540.6 497.7 540 M498.2 499.5 497.9 500.8 498.1 502.1 499.3 502.6 499.6 503.9 M440.4 505 439.1 505 437.8 505 436.6 504.4 M501.1 471.6 499.9 472.1 499.1 473.2 499 474.4 M529.9 523.7 530.3 525 531.2 525.9 532.5 526.1 533.2 525.1 M470.2 531.5 468.9 531.7 467.8 530.9 467.8 529.6 M432.3 488.7 431 488.8 430.7 490 431.4 491.1 M497.3 541.3 496.9 540.1 495.9 539.3 494.8 538.6 M464.7 435.3 465.5 436.3 466.6 437.1 467.4 438.1 M518.1 455.4 518.4 454.1 519.3 453.2 520.6 453.3 521.9 453.4 M492.9 428.1 491.8 428.8 490.6 428.4 490.8 427.1 491.8 426.4 M457.9 468.4 459 467.8 459.5 466.6 458.7 465.5 M535.6 459.9 536.3 458.8 536 457.6 M486.9 526.8 486.7 525.5 487.3 524.3 488.6 524.4 489 525.6 M508.2 474.2 509.5 473.8 510.8 473.6 511.9 473 M509 439.3 510.3 439.7 511.5 440.2 512.6 440.8 M520.5 447.8 521.2 448.9 522 449.9 523.1 450.6 524 451.5 M457.3 491 456.5 490 457.3 489 457.3 487.7 M468.9 434.4 470.2 434.5 471 435.5 470.6 436.7 469.3 436.6 M506.7 469.9 506.8 471.2 507.5 472.3 508.3 473.3 509.5 473.8 M500.3 526.5 499.9 527.7 498.6 528.1 M485.4 487.1 484.8 488.3 483.6 488.5 483.5 489.8 M476.9 479.6 476.4 480.8 477.1 482 478.1 482.8 M543.7 466 544.6 465 545.9 464.9 546.5 466.1 M473 448.6 473.8 447.6 474.1 446.3 474.1 445 M503.3 485.9 502.9 487.1 503 488.4 503.9 489.3 505.1 489.8 M459.5 522.9 458.9 521.8 458 520.8 M519.6 516.7 520.4 517.7 521.7 517.8 522.9 517.3 M510.7 512.2 511.9 511.7 512.7 510.7 512.8 509.4 511.7 508.6 M507.7 462.7 508.1 464 509.2 464.7 510.1 465.6 511.3 466.2 M450.9 473.6 450 474.6 448.8 474.3 448.1 473.2 448.3 471.9 M527.3 481 528.6 480.7 528.5 479.4 527.2 479.1 M503.6 499.7 504.7 499 505.7 499.8 506 501.1 504.7 501.3 M544.1 488.4 542.8 488.6 541.5 488.8 540.3 488.5 539.3 487.6 M429.7 480.7 430.7 479.9 431.9 479.3 433.2 479.6 M511.1 518.4 512 517.5 512.8 516.5 513 515.2 512 514.3 M425.7 464.5 425.4 465.8 425.5 467.1 425.2 468.3 424.5 469.5 M447.9 513.3 447 512.3 445.9 511.6 445.2 510.6 M465.5 502.1 465.4 500.9 464.2 500.4 462.9 500.6 M524.5 524.3 525 525.6 525.7 526.6 527 526.5 527.7 525.3 M477.4 436.6 476.1 436.6 475.4 435.5 475.9 434.4 477 433.7 M458.2 531.4 459.4 530.8 459.8 529.6 459.3 528.4 458 528.3 M434.4 474.3 433.6 473.3 433.2 472.1 432.9 470.8 M441 510.6 441.7 509.5 441.7 508.2 441.9 506.9 442.3 505.7 M500.7 446.4 501.5 447.5 501.4 448.8 501.1 450 M520.1 506.8 519.2 505.7 518.1 505.2 M460.9 531.7 461.9 530.8 462.3 529.5 463.5 530.1 463.9 531.3 M482 430.9 483 431.8 484.2 432.3 M475.1 501.6 475.6 502.8 475 503.9 474.2 504.9 M514.6 431.8 515.6 431 516.7 430.2 517.9 429.9 M494.7 462.8 494.4 464.1 493.9 465.3 M478.9 504.8 478.1 503.8 477.6 502.6 477.3 501.3 477.5 500 M461.4 449.1 460.7 450.2 459.5 450.6 458.2 450.3 M491.2 462.7 490.2 463.5 489.1 462.8 M525.9 499.8 525.7 501.1 525.2 502.3 524.1 503 M537.9 471 538.3 469.8 539.4 469.1 539.5 467.8 M436.8 467.5 436.2 466.4 436.6 465.1 437.7 464.4 M522.2 517.3 523.5 517.4 524.6 518.1 525.3 519.2 524.9 520.4 M491.2 436.5 492.5 436.2 493.7 436.8 494.4 435.7 M547 455 546.6 456.2 547.4 457.3 548.5 458 M459.2 512.5 458.4 513.6 458 514.8 458.6 515.9 459.6 516.8 M459.3 529.3 460.5 528.9 460.8 527.7 459.7 526.9 458.5 527.4 M472.6 493.1 472 494.2 472.8 495.2 474.1 495 M552.6 465.6 552.3 466.9 551.9 468.1 552.1 469.4 553.4 469.6 M521.6 429 520.9 430.1 520.4 431.3 519.4 432.1 M478.2 453.7 477 453.2 475.7 453.1 474.4 452.9 M471.1 492.2 470.4 493.2 470.1 494.5 470.3 495.8 471 496.9 M457.1 428.1 455.8 428 455.4 426.7 455.9 425.5 457.2 425.6 M509.4 450.5 508.1 450.4 507.5 449.2 507.9 448 509.2 448.1 M508.9 538.8 509.3 540.1 508.2 540.8 506.9 540.5 M434.7 500.1 433.4 500 432.2 500.4 431.9 501.7 430.7 502.2 M428.9 483.8 429.1 485.1 429.4 486.3 428.6 487.3 M493.1 533.5 492 534.2 492.1 535.4 493 536.3 493.6 537.5 M433.7 470.4 432.9 469.4 433.8 468.4 434.9 469 435.6 470 M514.8 433.8 515.5 432.7 515.2 431.4 514.1 430.7 M532.1 482.9 533.2 483.5 533.5 484.8 532.4 485.5 M549.6 495 550.8 495.6 551.9 495 552.5 493.8 552.4 492.6 M516.4 448 515.3 447.3 514.3 446.4 514.2 445.1 M469.1 476.4 468.6 477.5 469.1 478.7 469.1 480 469.5 481.3 M446.7 489.9 447.9 490.2 448.2 491.5 447.1 492.1 445.8 491.9 M524 488.7 523.5 489.9 524 491.2 525 491.9 M547.9 477.1 549.2 477.2 550.5 477.2 M517.2 466.1 518 465 519.2 465.2 520.3 466 521.5 466.4 M490.6 512.5 491.8 512 493 512.3 493.4 513.5 M491.1 528.3 492.1 529 493 530 493.8 531 M514.2 426.7 512.9 426.7 512 425.9 511.7 424.6 M502.5 511.2 501.2 511.1 500.4 510 499.3 509.3 M481.5 505 482.1 506.2 481.6 507.4 480.3 507.2 M444.2 450.5 445.2 451.3 444.5 452.4 443.3 451.9 M463.1 483.3 463.7 482.2 465 482.5 466.2 482.1 M445.1 461.7 444.2 462.7 443.9 463.9 442.7 464.6 441.8 465.5 M492.5 507.1 491.9 505.9 491.6 504.7 491 503.5 M464.3 481.8 463.8 480.6 462.6 480.1 M461.3 472.7 461.4 471.4 462.1 470.3 462.8 469.2 464 468.6 M513.7 425 514.9 424.5 516.2 424.9 516.8 426.1 M492.7 465.7 491.4 465.9 490.8 464.7 490.8 463.4 491.4 462.3 M492.2 497.5 491 497.8 490.4 498.9 491 500.1 492.3 500.2 M540.2 456.6 541.5 456.5 542.8 456.8 543.7 457.7 M526.9 489.8 525.6 489.6 524.9 488.5 523.7 488 522.7 488.7 M517.2 506 518.3 506.7 519.1 507.7 519.1 509 518.3 510 M431.5 509.4 431.4 510.7 431.3 512 431.9 513.1 433.1 513.6 M476 479 476.9 478.1 477.9 477.2 M553.7 487.2 554 488.5 553.8 489.8 552.8 490.5 551.5 490.3 M513.8 533.3 514.7 532.4 515.8 531.7 516.8 530.9 M520.8 444.2 522.1 444.2 523 443.3 523.6 442.2 524.2 441 M487.3 443.1 487 441.8 485.7 441.5 484.6 442.1 483.3 442.2 M522.6 485.3 521.5 484.6 521.5 483.3 522.2 482.3 522.7 481.1 M447.1 473.1 447.8 472 448.3 470.8 449.3 469.9 449.9 468.8 M450.2 435.9 451.4 436.3 452.2 435.2 451.9 433.9 M466.4 523.9 465.2 524.5 464.8 525.7 M472.1 448.4 470.8 448.2 469.5 448.3 468.3 447.8 467.5 446.8 M550 503.3 550.5 502.1 549.7 501.1 548.5 500.6 547.8 501.7 M507.4 434.6 507.5 435.9 506.3 436.5 505.2 435.9 504.8 434.7 M478 529.5 479 528.7 479.3 527.4 479 526.2 478.6 524.9 M454.9 498.1 454.9 499.4 454.9 500.7 455.3 501.9 455.9 503.1 M470 499.4 470 498.1 470.9 497.1 M504.1 511.8 503.4 512.8 502.1 513.1 500.8 513 499.5 512.7 M463.2 500.7 463.9 499.6 463.9 498.3 464.4 497.2 M527.9 515.8 527.2 516.9 526.1 517.7 524.9 517.4 524 516.4 M545.7 471 546.9 471.1 548.2 470.6 549.2 469.8 M529.6 456.6 528.7 455.7 528.1 454.6 M536.7 467.4 537.5 466.5 538 465.3 537.4 464.1 537.7 462.9 M475 454.6 474 455.4 472.7 455.7 471.6 456.4 470.3 456.3 M509.8 502.5 511.1 502.5 512.4 502.3 M515.5 455.1 515.2 453.8 514 453.4 512.7 453.3 M437.3 452.7 438.2 451.8 439.5 451.5 440.7 451.9 441.6 452.9 M501.7 509.5 501 508.4 501.2 507.2 501.5 505.9 502.5 505.1 M471.6 510.2 472.2 511.3 473.1 512.2 474.2 512.9 475.3 513.6 M445.9 485 446 486.3 444.8 486.9 443.7 486.2 M497.6 487.5 496.9 488.7 496.2 489.7 495.5 490.8 495.2 492.1 M504.7 440.5 503.8 441.4 502.9 442.4 501.7 442.7 500.4 442.8 M445.3 473.9 444.1 473.5 442.8 473.7 442.2 474.9 M549.5 465.7 549.3 464.5 550.2 463.5 551.4 463.3 M476.9 498.5 478.1 498.3 479.1 497.4 480 496.4 M423.1 474.8 423 476.1 423.6 477.2 424.7 478 424.6 479.3 M521.7 442.2 520.5 441.6 519.6 440.6 519.2 439.4 519.4 438.1 M531.7 477 530.9 478.1 529.7 478.5 528.5 478.9" stroke="#2e2820" stroke-width="1.25" fill="none" stroke-linecap="round"/></g>
<path d="M469.8 527 h0.01 M446.5 437.1 h0.01 M512.9 442.2 h0.01 M532.6 503.6 h0.01 M455.4 464 h0.01 M462.9 472.5 h0.01 M520.1 489.2 h0.01 M447.2 514.3 h0.01 M445.2 507.7 h0.01 M491.6 514 h0.01 M522.6 529.8 h0.01 M458 503.6 h0.01 M485.5 495.9 h0.01 M536.1 463.3 h0.01 M451.4 495.7 h0.01 M496.9 498.3 h0.01 M440 520.7 h0.01 M543.4 490 h0.01 M462.2 527.6 h0.01 M500.1 453.9 h0.01 M536.8 484.8 h0.01 M509.6 500.3 h0.01 M493.4 480.9 h0.01 M432.6 498.5 h0.01 M481.1 530.6 h0.01 M505.4 529.4 h0.01 M506.3 459.9 h0.01 M481.4 495.8 h0.01 M491.4 523.4 h0.01 M545.8 456.1 h0.01 M433.1 494.5 h0.01 M489.3 429.4 h0.01 M497 424.2 h0.01 M517.8 524.2 h0.01 M506.8 501.6 h0.01 M477.1 497.5 h0.01 M512.3 477.3 h0.01 M535 448.1 h0.01 M481.1 446.2 h0.01 M523.9 480.2 h0.01 M464.4 528.1 h0.01 M484.2 490.9 h0.01 M499 489 h0.01 M485.9 501.7 h0.01 M516.1 457 h0.01 M470.6 430 h0.01 M424.8 470.3 h0.01 M527.1 521.7 h0.01 M460.9 532.5 h0.01 M485.2 477.8 h0.01 M522.9 479 h0.01 M500.5 422.8 h0.01 M491.7 501.4 h0.01 M537.5 469.5 h0.01 M491.5 524.5 h0.01 M521.8 482.1 h0.01 M456.5 463 h0.01 M518.9 492 h0.01 M425.6 470.2 h0.01 M428.8 498.4 h0.01 M483 458.7 h0.01 M525.4 519.2 h0.01 M431.1 473.7 h0.01 M437.2 449.2 h0.01 M506.9 433.9 h0.01 M502.2 477.3 h0.01 M505.2 442.2 h0.01 M521.1 445.9 h0.01 M448.7 503.9 h0.01 M495.1 541.2 h0.01 M507.3 524 h0.01 M526.1 466.8 h0.01 M465.3 484.5 h0.01 M488.8 525.6 h0.01 M483.2 436.8 h0.01 M495.6 480.7 h0.01 M514 475.1 h0.01 M454.8 457.8 h0.01 M490.1 479.6 h0.01 M498.4 433.1 h0.01 M510.1 439.6 h0.01 M455 503.2 h0.01 M522.3 459.8 h0.01 M497.2 498.3 h0.01 M465 533.4 h0.01 M492 482 h0.01 M491.5 441.8 h0.01 M460.6 500 h0.01 M553 483.1 h0.01 M448.7 526.4 h0.01 M471 495.3 h0.01 M514.5 494.7 h0.01 M426.2 499.8 h0.01 M431.7 494.4 h0.01 M498.1 459.4 h0.01 M498.2 479.5 h0.01 M466 430.4 h0.01 M435.4 506.4 h0.01 M456.1 464.3 h0.01 M530.9 465.6 h0.01 M484.1 456.9 h0.01 M451.9 490.1 h0.01 M447.4 493.8 h0.01 M445.5 482.2 h0.01 M459.6 451.2 h0.01 M537.2 513.3 h0.01 M495.3 506.8 h0.01 M520.5 516.2 h0.01 M429.1 482.6 h0.01 M517.4 475.3 h0.01 M470.3 449.5 h0.01 M454.4 483.1 h0.01 M457.1 522.4 h0.01 M475 504.8 h0.01 M452.3 520.4 h0.01 M456.2 463.1 h0.01 M520.6 444.5 h0.01 M450 479.2 h0.01 M525.9 472.8 h0.01 M481.5 449.8 h0.01 M468 459.3 h0.01 M535.4 495.8 h0.01 M485.6 455.3 h0.01 M439.1 508.6 h0.01 M497.4 453.8 h0.01 M461.6 461 h0.01 M455.6 513.3 h0.01 M510 533.4 h0.01 M448.4 474 h0.01 M431.8 468.6 h0.01 M482.8 467.3 h0.01 M442.6 459.5 h0.01 M512.2 537.4 h0.01 M487.5 494.2 h0.01 M453.1 525.1 h0.01 M485 492.7 h0.01 M505.6 453.6 h0.01 M435.8 483.3 h0.01 M482.9 431.5 h0.01 M479.4 439.5 h0.01 M537.9 508.3 h0.01 M429.7 459.4 h0.01 M478.1 519 h0.01 M543.9 499 h0.01 M521.4 515.6 h0.01 M440.8 509.3 h0.01 M432.7 468.3 h0.01 M500.3 469.4 h0.01 M477.2 484.4 h0.01 M521.9 488.2 h0.01 M456.9 518.9 h0.01 M425.7 484.4 h0.01 M444.2 472.3 h0.01 M426.3 486.2 h0.01 M502.7 452.6 h0.01 M507 528.3 h0.01 M437.8 485.3 h0.01 M478.3 522.4 h0.01 M430.6 480.4 h0.01 M478.1 461.5 h0.01 M484.6 524.1 h0.01 M529 488.4 h0.01 M490.3 526.3 h0.01 M483.7 432 h0.01 M499 484.4 h0.01 M461 468.6 h0.01 M530.1 489.2 h0.01 M457.1 450.5 h0.01 M436.8 484.9 h0.01 M481.8 513.9 h0.01" stroke="#f4f4f0" stroke-width="1.3" stroke-linecap="round" fill="none" opacity="0.8"/>
<path d="M424 497 425.1 495.9 426.6 495.9 427.9 496.7 428 498.2 429.4 498.7 M557 488 556.3 486.7 555.3 485.6 553.9 485 552.4 485 M432 442 432.9 443.2 433.6 444.5 434.5 445.8 435.5 446.9 M553 452 553.7 450.7 555.2 451 555.7 452.4 M436 520 436.2 518.5 437.5 517.7 438.5 516.6" stroke="#4a4030" stroke-width="1.2" fill="none" stroke-linecap="round"/>
</g>
<text x="2.6" y="36" font-size="38.5" font-weight="700" text-anchor="start" fill="#161616" stroke="#161616" stroke-width="0.35" textLength="29.8" lengthAdjust="spacingAndGlyphs">A</text>
<text x="101" y="26.1" font-size="22" font-weight="700" text-anchor="middle" fill="#161616" stroke="#161616" stroke-width="0.35" letter-spacing="0.15">t = 0 s</text>
<text x="297.5" y="26" font-size="22" font-weight="700" text-anchor="middle" fill="#161616" stroke="#161616" stroke-width="0.35" letter-spacing="0.15">150 s</text>
<text x="494.5" y="26" font-size="22" font-weight="700" text-anchor="middle" fill="#161616" stroke="#161616" stroke-width="0.35" letter-spacing="0.15">300 s</text>
<text x="100" y="215" font-size="22" font-weight="700" text-anchor="middle" fill="#161616" stroke="#161616" stroke-width="0.35" letter-spacing="0.15">t = 0 s</text>
<text x="297.3" y="209.3" font-size="22" font-weight="700" text-anchor="middle" fill="#161616" stroke="#161616" stroke-width="0.35" letter-spacing="0.15">150 s</text>
<text x="494.3" y="209.3" font-size="22" font-weight="700" text-anchor="middle" fill="#161616" stroke="#161616" stroke-width="0.35" letter-spacing="0.15">300 s</text>
<text x="100" y="405" font-size="22" font-weight="700" text-anchor="middle" fill="#161616" stroke="#161616" stroke-width="0.35" letter-spacing="0.15">t = 0 s</text>
<text x="296.7" y="404.3" font-size="22.4" font-weight="700" text-anchor="middle" fill="#161616" stroke="#161616" stroke-width="0.35" >25s</text>
<text x="494.3" y="404.3" font-size="22.4" font-weight="700" text-anchor="middle" fill="#161616" stroke="#161616" stroke-width="0.35" >50s</text>
<text x="4.2" y="181.7" font-size="22.5" font-weight="700" text-anchor="start" fill="#161616" stroke="#161616" stroke-width="0.35" textLength="89.8" lengthAdjust="spacingAndGlyphs">T = 10°C</text>
<text x="4.2" y="371.4" font-size="22.5" font-weight="700" text-anchor="start" fill="#161616" stroke="#161616" stroke-width="0.35" textLength="89.8" lengthAdjust="spacingAndGlyphs">T = 25°C</text>
<text x="4.2" y="559.6" font-size="22.5" font-weight="700" text-anchor="start" fill="#161616" stroke="#161616" stroke-width="0.35" textLength="89.8" lengthAdjust="spacingAndGlyphs">T = 35°C</text>
</g>
<g id="panelB">
<text x="620.6" y="34.2" font-size="37.2" font-weight="700" fill="#111">B</text>
<rect x="752.5" y="36.3" width="169.2" height="169.2" fill="#fff" stroke="#8a8a8a" stroke-width="1.1"/>
<rect x="932.5" y="36.3" width="169.2" height="169.2" fill="#fff" stroke="#8a8a8a" stroke-width="1.1"/>
<rect x="1112.5" y="36.3" width="169.2" height="169.2" fill="#fff" stroke="#8a8a8a" stroke-width="1.1"/>
<rect x="752.5" y="216.4" width="169.2" height="169.2" fill="#fff" stroke="#8a8a8a" stroke-width="1.1"/>
<rect x="932.5" y="216.4" width="169.2" height="169.2" fill="#fff" stroke="#8a8a8a" stroke-width="1.1"/>
<rect x="1112.5" y="216.4" width="169.2" height="169.2" fill="#fff" stroke="#8a8a8a" stroke-width="1.1"/>
<rect x="752.5" y="396.5" width="169.2" height="169.2" fill="#fff" stroke="#8a8a8a" stroke-width="1.1"/>
<rect x="932.5" y="396.5" width="169.2" height="169.2" fill="#fff" stroke="#8a8a8a" stroke-width="1.1"/>
<rect x="1112.5" y="396.5" width="169.2" height="169.2" fill="#fff" stroke="#8a8a8a" stroke-width="1.1"/>
<g filter="url(#rough)">
<path d="M821.3 114.5 L821.8 112.7 L824.1 111.1 L825.8 110.1 L827.7 108.3 L829.4 105.7 L831.9 104.7 L834.7 104 L837.3 103.8 L840.2 103.2 L843.3 103.6 L845.8 104.5 L848.4 105.4 L850.8 106.1 L853.2 106.9 L856.2 110 L858.2 112.1 L860.8 113.9 L861.4 115.2 L862.9 117.2 L863.3 120.1 L863.9 122.9 L863.3 126.2 L861.6 130.1 L861.3 131.8 L859.9 133.9 L858.7 135.9 L857.7 138.5 L853.4 139.4 L850.4 139.1 L847.8 139.6 L845.9 140.9 L843.5 142.9 L841.2 144.5 L839.9 146.1 L835.7 144.9 L833.1 143.1 L831.1 141.6 L830.3 138.8 L830 136.5 L829.8 133.1 L828.6 129.6 L825.8 126.4 L823.8 125.3 L823.3 122.2 L823.4 120 L822.4 117.2 Z" fill="#5f6cae" stroke="#5f6cae" stroke-width="0.6" stroke-linejoin="round"/><path d="M821.3 114.5 L821.8 112.7 L824.1 111.1 L825.8 110.1 L827.7 108.3 L829.4 105.7 L831.9 104.7 L834.7 104 L837.3 103.8 L840.2 103.2 L843.3 103.6 L845.8 104.5 L848.4 105.4 L850.8 106.1 L853.2 106.9 L856.2 110 L858.2 112.1 L860.8 113.9 L861.4 115.2 L862.9 117.2 L863.3 120.1 L863.9 122.9 L863.3 126.2 L861.6 130.1 L861.3 131.8 L859.9 133.9 L858.7 135.9 L857.7 138.5 L853.4 139.4 L850.4 139.1 L847.8 139.6 L845.9 140.9 L843.5 142.9 L841.2 144.5 L839.9 146.1 L835.7 144.9 L833.1 143.1 L831.1 141.6 L830.3 138.8 L830 136.5 L829.8 133.1 L828.6 129.6 L825.8 126.4 L823.8 125.3 L823.3 122.2 L823.4 120 L822.4 117.2 Z" fill="none" stroke="#5f6cae" stroke-width="3.2" stroke-linecap="round" stroke-dasharray="0.01 2.9"/>
<path d="M821.3 294.5 L822.5 293.5 L824 291.3 L825.9 289.9 L827.8 288.1 L829.2 286.2 L832 284.8 L834.6 284.4 L837.1 283.5 L840.8 282.7 L842.9 284.3 L845.1 284.6 L848.5 285.9 L851.2 286.4 L854.1 287.1 L856.1 290 L858.4 291.9 L860.4 293.7 L861.7 296.1 L862.6 297.6 L862.9 300.5 L863.3 302.7 L863.4 307.2 L861.7 310.4 L860.7 312.4 L860.1 314.6 L859.3 316.2 L858.3 318.4 L853.6 318.8 L850.9 319 L847.9 319.9 L845.9 320.8 L843.6 322.5 L841.2 324.5 L840 325.9 L835.6 325.2 L833.7 323.8 L831.7 321.7 L830.2 318.8 L829.7 316.4 L829.9 312.7 L828.9 309.4 L826.6 307 L823.8 305.6 L824.3 302.9 L823.4 299.5 L822.4 297 Z" fill="#80b1b0" stroke="#80b1b0" stroke-width="0.6" stroke-linejoin="round"/><path d="M821.3 294.5 L822.5 293.5 L824 291.3 L825.9 289.9 L827.8 288.1 L829.2 286.2 L832 284.8 L834.6 284.4 L837.1 283.5 L840.8 282.7 L842.9 284.3 L845.1 284.6 L848.5 285.9 L851.2 286.4 L854.1 287.1 L856.1 290 L858.4 291.9 L860.4 293.7 L861.7 296.1 L862.6 297.6 L862.9 300.5 L863.3 302.7 L863.4 307.2 L861.7 310.4 L860.7 312.4 L860.1 314.6 L859.3 316.2 L858.3 318.4 L853.6 318.8 L850.9 319 L847.9 319.9 L845.9 320.8 L843.6 322.5 L841.2 324.5 L840 325.9 L835.6 325.2 L833.7 323.8 L831.7 321.7 L830.2 318.8 L829.7 316.4 L829.9 312.7 L828.9 309.4 L826.6 307 L823.8 305.6 L824.3 302.9 L823.4 299.5 L822.4 297 Z" fill="none" stroke="#80b1b0" stroke-width="3.2" stroke-linecap="round" stroke-dasharray="0.01 2.9"/>
<path d="M821.1 474.9 L822.5 473.4 L823.7 472 L825.6 469.9 L827.4 468.1 L829.8 465.8 L832.1 465.6 L834.2 464.7 L837.8 463.8 L840.2 462.8 L842.7 463.9 L844.9 464.5 L848.1 465.4 L851.1 466.6 L853.7 467.5 L855.8 470.1 L857.9 472 L860.2 473.1 L861.4 475.4 L862.7 477.4 L862.9 480.4 L863.4 483 L862.8 486.5 L861.8 490.2 L861.1 492.1 L860 494.7 L859.1 496.9 L857.5 498.8 L853.9 499.6 L850.5 499.1 L848.3 500 L845.3 501.6 L843.5 502.8 L841.8 504.5 L839.6 505.6 L835.5 505.3 L833.2 503.3 L831.1 502.1 L831.2 499.5 L829.4 496.3 L829.7 492.5 L829.3 489.2 L826.1 487.3 L824.4 485 L824.1 483 L823.9 480.2 L822.3 477.3 Z" fill="#c6bf3b" stroke="#c6bf3b" stroke-width="0.6" stroke-linejoin="round"/><path d="M821.1 474.9 L822.5 473.4 L823.7 472 L825.6 469.9 L827.4 468.1 L829.8 465.8 L832.1 465.6 L834.2 464.7 L837.8 463.8 L840.2 462.8 L842.7 463.9 L844.9 464.5 L848.1 465.4 L851.1 466.6 L853.7 467.5 L855.8 470.1 L857.9 472 L860.2 473.1 L861.4 475.4 L862.7 477.4 L862.9 480.4 L863.4 483 L862.8 486.5 L861.8 490.2 L861.1 492.1 L860 494.7 L859.1 496.9 L857.5 498.8 L853.9 499.6 L850.5 499.1 L848.3 500 L845.3 501.6 L843.5 502.8 L841.8 504.5 L839.6 505.6 L835.5 505.3 L833.2 503.3 L831.1 502.1 L831.2 499.5 L829.4 496.3 L829.7 492.5 L829.3 489.2 L826.1 487.3 L824.4 485 L824.1 483 L823.9 480.2 L822.3 477.3 Z" fill="none" stroke="#c6bf3b" stroke-width="3.2" stroke-linecap="round" stroke-dasharray="0.01 2.9"/>
<path d="M992.9 135.3 L994.3 130.9 L996.4 128.8 L996.4 125.4 L995.8 122.7 L996.1 120.2 L997.1 117.7 L999.9 115.6 L1004 114.7 L1007.4 112.5 L1009.2 111.4 L1010.8 110.4 L1014.6 110.1 L1018.3 110.7 L1021.5 110.2 L1025.7 109.7 L1026 113.6 L1026.9 116 L1030.8 117.2 L1033.2 120.6 L1035.2 122.7 L1037.4 125.4 L1037.4 129.1 L1038.6 131.4 L1038.8 135.1 L1041.3 137.1 L1040 140.1 L1040.3 144.2 L1037.4 146.6 L1034.1 149.4 L1030.5 152.2 L1028.7 152.4 L1026.9 153.2 L1023.4 153.4 L1020 153.5 L1017 154.3 L1014.1 154.9 L1011.3 154.7 L1008.5 154.3 L1005.6 153.4 L1002.8 152.2 L1001 151.4 L999 148.3 L998.3 143.3 L996.9 141.4 L995.4 139.4 L994.4 137.9 Z" fill="#5f6cae" stroke="#5f6cae" stroke-width="0.6" stroke-linejoin="round"/><path d="M992.9 135.3 L994.3 130.9 L996.4 128.8 L996.4 125.4 L995.8 122.7 L996.1 120.2 L997.1 117.7 L999.9 115.6 L1004 114.7 L1007.4 112.5 L1009.2 111.4 L1010.8 110.4 L1014.6 110.1 L1018.3 110.7 L1021.5 110.2 L1025.7 109.7 L1026 113.6 L1026.9 116 L1030.8 117.2 L1033.2 120.6 L1035.2 122.7 L1037.4 125.4 L1037.4 129.1 L1038.6 131.4 L1038.8 135.1 L1041.3 137.1 L1040 140.1 L1040.3 144.2 L1037.4 146.6 L1034.1 149.4 L1030.5 152.2 L1028.7 152.4 L1026.9 153.2 L1023.4 153.4 L1020 153.5 L1017 154.3 L1014.1 154.9 L1011.3 154.7 L1008.5 154.3 L1005.6 153.4 L1002.8 152.2 L1001 151.4 L999 148.3 L998.3 143.3 L996.9 141.4 L995.4 139.4 L994.4 137.9 Z" fill="none" stroke="#5f6cae" stroke-width="3.2" stroke-linecap="round" stroke-dasharray="0.01 2.9"/>
<path d="M1159.1 122.8 L1160.5 120.9 L1162.5 119.1 L1164.3 117.4 L1166.2 115.8 L1168.9 113.4 L1170.3 112 L1173.4 111.3 L1175.4 110.8 L1179.6 110.4 L1182.4 110.4 L1184.2 111.2 L1186.8 111 L1189 110.5 L1190.4 113.4 L1192.3 116.5 L1195.5 117 L1199.5 119 L1201.6 121.2 L1202.8 124.5 L1203 127.5 L1205.9 130.9 L1205.5 133.2 L1206.3 136.2 L1206 138.4 L1206.5 140.5 L1206.3 144.8 L1204.8 149.7 L1201.9 152.5 L1199.7 154.6 L1195 155.5 L1190.7 156.2 L1188.5 155.2 L1186.3 154.2 L1183.3 154.7 L1180.6 154.6 L1178.2 152.8 L1176 150.9 L1172.6 149.7 L1170.8 148.2 L1168.3 146.2 L1166.6 143.8 L1163.5 142.6 L1161.2 141.1 L1161.7 136.3 L1161.5 133 L1159.6 130.8 L1159.7 127.2 Z" fill="#5f6cae" stroke="#5f6cae" stroke-width="0.6" stroke-linejoin="round"/><path d="M1159.1 122.8 L1160.5 120.9 L1162.5 119.1 L1164.3 117.4 L1166.2 115.8 L1168.9 113.4 L1170.3 112 L1173.4 111.3 L1175.4 110.8 L1179.6 110.4 L1182.4 110.4 L1184.2 111.2 L1186.8 111 L1189 110.5 L1190.4 113.4 L1192.3 116.5 L1195.5 117 L1199.5 119 L1201.6 121.2 L1202.8 124.5 L1203 127.5 L1205.9 130.9 L1205.5 133.2 L1206.3 136.2 L1206 138.4 L1206.5 140.5 L1206.3 144.8 L1204.8 149.7 L1201.9 152.5 L1199.7 154.6 L1195 155.5 L1190.7 156.2 L1188.5 155.2 L1186.3 154.2 L1183.3 154.7 L1180.6 154.6 L1178.2 152.8 L1176 150.9 L1172.6 149.7 L1170.8 148.2 L1168.3 146.2 L1166.6 143.8 L1163.5 142.6 L1161.2 141.1 L1161.7 136.3 L1161.5 133 L1159.6 130.8 L1159.7 127.2 Z" fill="none" stroke="#5f6cae" stroke-width="3.2" stroke-linecap="round" stroke-dasharray="0.01 2.9"/>
<path d="M994.7 267.2 L994.7 265.2 L996.1 262.6 L997.1 260.8 L1001 259.1 L1004.8 258.2 L1006.6 258 L1009.6 258.6 L1011.7 257.6 L1014.8 257.3 L1018.3 258.4 L1021.4 259.3 L1022.7 261.2 L1024.6 262.9 L1025.3 264.9 L1026.5 267.2 L1027.8 269.8 L1028 272.3 L1031.2 275.6 L1032.4 279.9 L1034.2 282.4 L1034.7 283.8 L1036.1 285.9 L1036.7 290.9 L1037.4 294.5 L1036.3 297.5 L1034 300.3 L1032.6 302.6 L1030.9 304 L1027.4 305.7 L1024.3 304.9 L1020.7 304.9 L1017.5 304.5 L1014.3 304 L1010.6 304.5 L1008.1 305.7 L1005.6 305.4 L1002.9 305 L1000.2 304.2 L998 303.3 L995.1 300.9 L993.7 297.3 L992.7 294 L992.8 290.1 L992.4 287.7 L993.2 285 L993 281.8 L992.8 279.8 L993.4 276.7 L993.3 273.9 L993.7 270 Z" fill="#80b1b0" stroke="#80b1b0" stroke-width="0.6" stroke-linejoin="round"/><path d="M994.7 267.2 L994.7 265.2 L996.1 262.6 L997.1 260.8 L1001 259.1 L1004.8 258.2 L1006.6 258 L1009.6 258.6 L1011.7 257.6 L1014.8 257.3 L1018.3 258.4 L1021.4 259.3 L1022.7 261.2 L1024.6 262.9 L1025.3 264.9 L1026.5 267.2 L1027.8 269.8 L1028 272.3 L1031.2 275.6 L1032.4 279.9 L1034.2 282.4 L1034.7 283.8 L1036.1 285.9 L1036.7 290.9 L1037.4 294.5 L1036.3 297.5 L1034 300.3 L1032.6 302.6 L1030.9 304 L1027.4 305.7 L1024.3 304.9 L1020.7 304.9 L1017.5 304.5 L1014.3 304 L1010.6 304.5 L1008.1 305.7 L1005.6 305.4 L1002.9 305 L1000.2 304.2 L998 303.3 L995.1 300.9 L993.7 297.3 L992.7 294 L992.8 290.1 L992.4 287.7 L993.2 285 L993 281.8 L992.8 279.8 L993.4 276.7 L993.3 273.9 L993.7 270 Z" fill="none" stroke="#80b1b0" stroke-width="3.2" stroke-linecap="round" stroke-dasharray="0.01 2.9"/>
<path d="M1033.9 282 L1036.5 282.8 L1040.5 283.4 L1042.6 282.9 L1046 279.8" fill="none" stroke="#80b1b0" stroke-width="4.8" stroke-linejoin="round" stroke-linecap="round" stroke-dasharray="0.01 3.5"/><path d="M1033.9 282 L1036.5 282.8 L1040.5 283.4 L1042.6 282.9 L1046 279.8" fill="none" stroke="#80b1b0" stroke-width="3.3" stroke-linejoin="round" stroke-linecap="round"/>
<circle cx="1046.3" cy="279.6" r="3.3" fill="#80b1b0"/>
<path d="M995.8 301.8 L994.5 305.8 L992.2 306.8 L991.9 310.7 L990.5 311.9 L988.5 315.3 L991.9 318.6 L995 321.4 L996.2 325.7 L998.2 330" fill="none" stroke="#80b1b0" stroke-width="4.8" stroke-linejoin="round" stroke-linecap="round" stroke-dasharray="0.01 3.5"/><path d="M995.8 301.8 L994.5 305.8 L992.2 306.8 L991.9 310.7 L990.5 311.9 L988.5 315.3 L991.9 318.6 L995 321.4 L996.2 325.7 L998.2 330" fill="none" stroke="#80b1b0" stroke-width="3.3" stroke-linejoin="round" stroke-linecap="round"/>
<path d="M1185.4 277.4 L1188.2 275.2 L1189.9 274.1 L1191.6 272.3 L1193.5 270.8 L1196.3 269.3 L1198.4 267.6 L1201.1 265.7 L1202.6 262.7 L1203.7 260 L1206.1 258.8 L1210.5 257.7 L1214.1 259.6 L1215.5 261.9 L1218 263.3 L1221.1 265 L1224.5 267.1 L1225.6 271.5 L1227.1 275 L1228.7 278.1 L1229.5 280.8 L1228.6 283.8 L1228.3 288.5 L1228.9 292.1 L1228.2 295.8 L1225.9 297.4 L1223.1 299.4 L1220.4 300.8 L1217 302.3 L1213.5 304.5 L1209.9 305.9 L1206.6 306 L1202.5 306 L1200 304.2 L1197.8 303.1 L1196.8 299.7 L1195.2 297.3 L1191.6 295.1 L1190 293.4 L1188.9 290.7 L1189.3 286.8 L1185.8 284.9 L1186 282.6 L1184.9 280.5 Z" fill="#80b1b0" stroke="#80b1b0" stroke-width="0.6" stroke-linejoin="round"/><path d="M1185.4 277.4 L1188.2 275.2 L1189.9 274.1 L1191.6 272.3 L1193.5 270.8 L1196.3 269.3 L1198.4 267.6 L1201.1 265.7 L1202.6 262.7 L1203.7 260 L1206.1 258.8 L1210.5 257.7 L1214.1 259.6 L1215.5 261.9 L1218 263.3 L1221.1 265 L1224.5 267.1 L1225.6 271.5 L1227.1 275 L1228.7 278.1 L1229.5 280.8 L1228.6 283.8 L1228.3 288.5 L1228.9 292.1 L1228.2 295.8 L1225.9 297.4 L1223.1 299.4 L1220.4 300.8 L1217 302.3 L1213.5 304.5 L1209.9 305.9 L1206.6 306 L1202.5 306 L1200 304.2 L1197.8 303.1 L1196.8 299.7 L1195.2 297.3 L1191.6 295.1 L1190 293.4 L1188.9 290.7 L1189.3 286.8 L1185.8 284.9 L1186 282.6 L1184.9 280.5 Z" fill="none" stroke="#80b1b0" stroke-width="3.2" stroke-linecap="round" stroke-dasharray="0.01 2.9"/>
<path d="M1207.9 260.3 L1203.9 257.6 L1201.8 254.6 L1199.7 253.7 L1198.2 252.5 L1193.9 250.2 L1191.6 248.4 L1189.3 248.3 L1186.2 246.7 L1183.5 247.1 L1180.1 246.1 L1177 244.5" fill="none" stroke="#80b1b0" stroke-width="5" stroke-linejoin="round" stroke-linecap="round" stroke-dasharray="0.01 3.5"/><path d="M1207.9 260.3 L1203.9 257.6 L1201.8 254.6 L1199.7 253.7 L1198.2 252.5 L1193.9 250.2 L1191.6 248.4 L1189.3 248.3 L1186.2 246.7 L1183.5 247.1 L1180.1 246.1 L1177 244.5" fill="none" stroke="#80b1b0" stroke-width="3.4" stroke-linejoin="round" stroke-linecap="round"/>
<path d="M1191.9 248.2 L1193.7 245.6 L1193.5 243.7 L1196 241.4 L1196.2 238.2 L1196.4 234.5 L1197.2 232.3 L1194.9 232.3 L1193 230.7" fill="none" stroke="#80b1b0" stroke-width="5" stroke-linejoin="round" stroke-linecap="round" stroke-dasharray="0.01 3.5"/><path d="M1191.9 248.2 L1193.7 245.6 L1193.5 243.7 L1196 241.4 L1196.2 238.2 L1196.4 234.5 L1197.2 232.3 L1194.9 232.3 L1193 230.7" fill="none" stroke="#80b1b0" stroke-width="3.4" stroke-linejoin="round" stroke-linecap="round"/>
<path d="M1208 305.3 L1208 309.5 L1207.5 311 L1207.7 313.2 L1206.8 315.9 L1205.6 318.3 L1202.7 321.1 L1201.1 322.7 L1198.8 323.2" fill="none" stroke="#80b1b0" stroke-width="5" stroke-linejoin="round" stroke-linecap="round" stroke-dasharray="0.01 3.5"/><path d="M1208 305.3 L1208 309.5 L1207.5 311 L1207.7 313.2 L1206.8 315.9 L1205.6 318.3 L1202.7 321.1 L1201.1 322.7 L1198.8 323.2" fill="none" stroke="#80b1b0" stroke-width="3.4" stroke-linejoin="round" stroke-linecap="round"/>
<ellipse cx="1199.2" cy="327.7" rx="4.6" ry="5" fill="#80b1b0"/>
<path d="M1008.4 456.7 L1010.3 453.2 L1012.7 450.6 L1013.8 448.2 L1016.2 445.3 L1018.8 445.3 L1021.4 445.3 L1024.1 446 L1026.5 446.8 L1029.1 446.5 L1031.7 446.7 L1033 448 L1035 450.4 L1036.8 453.3 L1037.3 456 L1039.1 459.3 L1040 463 L1041 466.2 L1042.7 468.4 L1044.3 470.4 L1046.5 472.8 L1046.7 475.7 L1048.4 479.6 L1048.8 481.1 L1048.8 484.2 L1049.5 486.6 L1048.3 489 L1047.8 491.9 L1046.7 494.4 L1047.6 496.8 L1048.8 500.3 L1050.4 503.8 L1051.3 506 L1048.9 508.6 L1046 510.4 L1044.2 512.1 L1042.6 514.6 L1039.4 513.9 L1036.9 512.3 L1034.9 515.7 L1033.6 518.2 L1033.2 521.6 L1031.7 524.2 L1030.4 526.7 L1028.8 528.8 L1028.2 531.3 L1027.2 533.9 L1025.3 535.5 L1023.1 535.9 L1020.4 533.8 L1017.7 532.6 L1017.3 529.2 L1016.6 527.3 L1016.2 524 L1016.4 520.8 L1016.8 517.3 L1014.6 516.7 L1011.7 515.6 L1008.9 513.8 L1005.6 512.6 L1005.1 509.8 L1004.6 506.6 L1002.6 504.7 L999.7 502.1 L1000.7 500.2 L1002.2 496.4 L1001 494.4 L1000.1 492 L1002 488.2 L1003.5 485 L1004.9 482.6 L1005.7 479.3 L1008.4 477.5 L1010.3 475.8 L1012.7 475.1 L1015 472.8 L1016.8 471.6 L1018.8 470.5 L1016.6 467 L1013.5 465.3 L1011.4 463.3 L1010.3 460.2 Z" fill="#c6bf3b" stroke="#c6bf3b" stroke-width="0.6" stroke-linejoin="round"/><path d="M1008.4 456.7 L1010.3 453.2 L1012.7 450.6 L1013.8 448.2 L1016.2 445.3 L1018.8 445.3 L1021.4 445.3 L1024.1 446 L1026.5 446.8 L1029.1 446.5 L1031.7 446.7 L1033 448 L1035 450.4 L1036.8 453.3 L1037.3 456 L1039.1 459.3 L1040 463 L1041 466.2 L1042.7 468.4 L1044.3 470.4 L1046.5 472.8 L1046.7 475.7 L1048.4 479.6 L1048.8 481.1 L1048.8 484.2 L1049.5 486.6 L1048.3 489 L1047.8 491.9 L1046.7 494.4 L1047.6 496.8 L1048.8 500.3 L1050.4 503.8 L1051.3 506 L1048.9 508.6 L1046 510.4 L1044.2 512.1 L1042.6 514.6 L1039.4 513.9 L1036.9 512.3 L1034.9 515.7 L1033.6 518.2 L1033.2 521.6 L1031.7 524.2 L1030.4 526.7 L1028.8 528.8 L1028.2 531.3 L1027.2 533.9 L1025.3 535.5 L1023.1 535.9 L1020.4 533.8 L1017.7 532.6 L1017.3 529.2 L1016.6 527.3 L1016.2 524 L1016.4 520.8 L1016.8 517.3 L1014.6 516.7 L1011.7 515.6 L1008.9 513.8 L1005.6 512.6 L1005.1 509.8 L1004.6 506.6 L1002.6 504.7 L999.7 502.1 L1000.7 500.2 L1002.2 496.4 L1001 494.4 L1000.1 492 L1002 488.2 L1003.5 485 L1004.9 482.6 L1005.7 479.3 L1008.4 477.5 L1010.3 475.8 L1012.7 475.1 L1015 472.8 L1016.8 471.6 L1018.8 470.5 L1016.6 467 L1013.5 465.3 L1011.4 463.3 L1010.3 460.2 Z" fill="none" stroke="#c6bf3b" stroke-width="3.2" stroke-linecap="round" stroke-dasharray="0.01 2.9"/>
<ellipse cx="1021.8" cy="456.1" rx="3.3" ry="1.5" fill="#fff" transform="rotate(-22 1021.8 456.1)"/>
<path d="M1036.7 452.8 L1038.3 451.8 L1039.5 450.4 L1043.2 447.2 L1045.6 443.6" fill="none" stroke="#c6bf3b" stroke-width="6.2" stroke-linejoin="round" stroke-linecap="round" stroke-dasharray="0.01 3.5"/><path d="M1036.7 452.8 L1038.3 451.8 L1039.5 450.4 L1043.2 447.2 L1045.6 443.6" fill="none" stroke="#c6bf3b" stroke-width="4.2" stroke-linejoin="round" stroke-linecap="round"/>
<path d="M1047 478 L1049 475.5 L1051.1 473.1 L1054.2 472.2 L1056.2 469.5 L1059.1 466.9 L1061.4 465.2 L1063.9 463.1 L1067.3 461.9 L1069.1 459.1 L1071.6 456 L1072.4 453.4 L1074.7 451.5 L1076.8 447.5" fill="none" stroke="#c6bf3b" stroke-width="6.2" stroke-linejoin="round" stroke-linecap="round" stroke-dasharray="0.01 3.5"/><path d="M1047 478 L1049 475.5 L1051.1 473.1 L1054.2 472.2 L1056.2 469.5 L1059.1 466.9 L1061.4 465.2 L1063.9 463.1 L1067.3 461.9 L1069.1 459.1 L1071.6 456 L1072.4 453.4 L1074.7 451.5 L1076.8 447.5" fill="none" stroke="#c6bf3b" stroke-width="4.2" stroke-linejoin="round" stroke-linecap="round"/>
<path d="M1048.6 472.2 L1051 468.3 L1053.4 465.9 L1053.7 462.8 L1055.7 460.5 L1059.1 463.6 L1056.7 468" fill="none" stroke="#c6bf3b" stroke-width="6.2" stroke-linejoin="round" stroke-linecap="round" stroke-dasharray="0.01 3.5"/><path d="M1048.6 472.2 L1051 468.3 L1053.4 465.9 L1053.7 462.8 L1055.7 460.5 L1059.1 463.6 L1056.7 468" fill="none" stroke="#c6bf3b" stroke-width="4.2" stroke-linejoin="round" stroke-linecap="round"/>
<path d="M1049.3 481.5 L1052 481.4 L1056.4 478.9 L1058.2 479.3 L1062 477.8 L1060.6 473.8" fill="none" stroke="#c6bf3b" stroke-width="6.2" stroke-linejoin="round" stroke-linecap="round" stroke-dasharray="0.01 3.5"/><path d="M1049.3 481.5 L1052 481.4 L1056.4 478.9 L1058.2 479.3 L1062 477.8 L1060.6 473.8" fill="none" stroke="#c6bf3b" stroke-width="4.2" stroke-linejoin="round" stroke-linecap="round"/>
<path d="M1052.1 474.7 L1054.9 473.6 L1057.7 471.9" fill="none" stroke="#c6bf3b" stroke-width="6.2" stroke-linejoin="round" stroke-linecap="round" stroke-dasharray="0.01 3.5"/><path d="M1052.1 474.7 L1054.9 473.6 L1057.7 471.9" fill="none" stroke="#c6bf3b" stroke-width="4.2" stroke-linejoin="round" stroke-linecap="round"/>
<path d="M1002.6 482.5 L999.7 479.5 L997.8 479.6 L994.6 478.5 L992.3 477.2 L990.2 478.9 L986.8 480 L986.1 482.1 L982.7 482.5 L985.1 484.8 L985.7 488.5 L988.1 487.4 L991.2 488.7 L993.3 491.1 L993 492.8 L993.4 495.3 L993 498.2" fill="none" stroke="#c6bf3b" stroke-width="6.2" stroke-linejoin="round" stroke-linecap="round" stroke-dasharray="0.01 3.5"/><path d="M1002.6 482.5 L999.7 479.5 L997.8 479.6 L994.6 478.5 L992.3 477.2 L990.2 478.9 L986.8 480 L986.1 482.1 L982.7 482.5 L985.1 484.8 L985.7 488.5 L988.1 487.4 L991.2 488.7 L993.3 491.1 L993 492.8 L993.4 495.3 L993 498.2" fill="none" stroke="#c6bf3b" stroke-width="4.2" stroke-linejoin="round" stroke-linecap="round"/>
<path d="M999.5 488.8 L997.3 486.5" fill="none" stroke="#c6bf3b" stroke-width="6.2" stroke-linejoin="round" stroke-linecap="round" stroke-dasharray="0.01 3.5"/><path d="M999.5 488.8 L997.3 486.5" fill="none" stroke="#c6bf3b" stroke-width="4.2" stroke-linejoin="round" stroke-linecap="round"/>
<path d="M1050.4 500.8 L1052 504.8 L1052.5 507.3 L1051.8 509.5 L1051.3 512.8 L1054.7 513.8" fill="none" stroke="#c6bf3b" stroke-width="6.2" stroke-linejoin="round" stroke-linecap="round" stroke-dasharray="0.01 3.5"/><path d="M1050.4 500.8 L1052 504.8 L1052.5 507.3 L1051.8 509.5 L1051.3 512.8 L1054.7 513.8" fill="none" stroke="#c6bf3b" stroke-width="4.2" stroke-linejoin="round" stroke-linecap="round"/>
<path d="M1045.3 516.3 L1046.4 516.9" fill="none" stroke="#c6bf3b" stroke-width="6.2" stroke-linejoin="round" stroke-linecap="round" stroke-dasharray="0.01 3.5"/><path d="M1045.3 516.3 L1046.4 516.9" fill="none" stroke="#c6bf3b" stroke-width="4.2" stroke-linejoin="round" stroke-linecap="round"/>
<path d="M1032.7 518 L1032.7 521.6 L1034.7 526.2 L1034.4 529.1 L1036.3 532.3 L1036.6 536.3 L1037.3 539.9 L1039.2 543" fill="none" stroke="#c6bf3b" stroke-width="6.2" stroke-linejoin="round" stroke-linecap="round" stroke-dasharray="0.01 3.5"/><path d="M1032.7 518 L1032.7 521.6 L1034.7 526.2 L1034.4 529.1 L1036.3 532.3 L1036.6 536.3 L1037.3 539.9 L1039.2 543" fill="none" stroke="#c6bf3b" stroke-width="4.2" stroke-linejoin="round" stroke-linecap="round"/>
<path d="M1037.7 515.9 L1037.5 517.9 L1038.4 521.6 L1039.3 523.9 L1039.7 527.4" fill="none" stroke="#c6bf3b" stroke-width="6.2" stroke-linejoin="round" stroke-linecap="round" stroke-dasharray="0.01 3.5"/><path d="M1037.7 515.9 L1037.5 517.9 L1038.4 521.6 L1039.3 523.9 L1039.7 527.4" fill="none" stroke="#c6bf3b" stroke-width="4.2" stroke-linejoin="round" stroke-linecap="round"/>
<path d="M1024.3 534.6 L1026.5 537.7" fill="none" stroke="#c6bf3b" stroke-width="6.2" stroke-linejoin="round" stroke-linecap="round" stroke-dasharray="0.01 3.5"/><path d="M1024.3 534.6 L1026.5 537.7" fill="none" stroke="#c6bf3b" stroke-width="4.2" stroke-linejoin="round" stroke-linecap="round"/>
<path d="M1001.3 503.1 L1000.8 500.1" fill="none" stroke="#c6bf3b" stroke-width="6.2" stroke-linejoin="round" stroke-linecap="round" stroke-dasharray="0.01 3.5"/><path d="M1001.3 503.1 L1000.8 500.1" fill="none" stroke="#c6bf3b" stroke-width="4.2" stroke-linejoin="round" stroke-linecap="round"/>
<path d="M1166.6 481.2 L1168.6 479.3 L1171.1 477.1 L1172.7 475.3 L1175 473.5 L1176.9 472.8 L1179.8 471.4 L1182.6 470.9 L1186 471.3 L1188.5 470.7 L1192 472 L1195.7 473.7 L1198.1 474.4 L1200.3 474.7 L1203.1 475.8 L1206.1 478 L1208 480.1 L1209.7 481.6 L1211.9 484 L1211.7 487 L1211.8 489.8 L1212.5 493.7 L1212.4 496.2 L1212.5 500.2 L1209.4 500.6 L1207.2 501.7 L1205.1 503.4 L1202.8 502.3 L1200.4 500.9 L1197.9 499.6 L1195.7 497.7 L1193.9 495.9 L1192.1 494 L1189.7 493.4 L1187.2 493 L1184.5 492.6 L1181.1 492 L1178 491.3 L1174.9 489.6 L1171 487.8 L1169.7 485.9 L1167.9 483.5 Z" fill="#c6bf3b" stroke="#c6bf3b" stroke-width="0.6" stroke-linejoin="round"/><path d="M1166.6 481.2 L1168.6 479.3 L1171.1 477.1 L1172.7 475.3 L1175 473.5 L1176.9 472.8 L1179.8 471.4 L1182.6 470.9 L1186 471.3 L1188.5 470.7 L1192 472 L1195.7 473.7 L1198.1 474.4 L1200.3 474.7 L1203.1 475.8 L1206.1 478 L1208 480.1 L1209.7 481.6 L1211.9 484 L1211.7 487 L1211.8 489.8 L1212.5 493.7 L1212.4 496.2 L1212.5 500.2 L1209.4 500.6 L1207.2 501.7 L1205.1 503.4 L1202.8 502.3 L1200.4 500.9 L1197.9 499.6 L1195.7 497.7 L1193.9 495.9 L1192.1 494 L1189.7 493.4 L1187.2 493 L1184.5 492.6 L1181.1 492 L1178 491.3 L1174.9 489.6 L1171 487.8 L1169.7 485.9 L1167.9 483.5 Z" fill="none" stroke="#c6bf3b" stroke-width="3.2" stroke-linecap="round" stroke-dasharray="0.01 2.9"/>
<path d="M1213.4 472.3 L1216.3 470.5 L1218.4 468.6 L1220.6 469.2 L1223.1 469.7 L1223.9 472.5 L1225.3 474.2 L1226 476.9 L1227 480.3 L1228.2 484.2 L1230 487.3 L1231.7 490.9 L1232.4 493.2 L1232.8 497.1 L1233 499.6 L1233.5 503 L1233.5 506.7 L1231.2 509.1 L1228.6 510.6 L1225.5 510.4 L1222.7 509.2 L1220.3 506.8 L1218.4 504.4 L1215.6 502.6 L1213.4 500.8 L1213.3 498.1 L1213.4 494.6 L1213.2 492 L1213.2 489.5 L1213.3 486.7 L1212.5 483.4 L1213 480.9 L1213 478.2 L1213.1 474.6 Z" fill="#c6bf3b" stroke="#c6bf3b" stroke-width="0.6" stroke-linejoin="round"/><path d="M1213.4 472.3 L1216.3 470.5 L1218.4 468.6 L1220.6 469.2 L1223.1 469.7 L1223.9 472.5 L1225.3 474.2 L1226 476.9 L1227 480.3 L1228.2 484.2 L1230 487.3 L1231.7 490.9 L1232.4 493.2 L1232.8 497.1 L1233 499.6 L1233.5 503 L1233.5 506.7 L1231.2 509.1 L1228.6 510.6 L1225.5 510.4 L1222.7 509.2 L1220.3 506.8 L1218.4 504.4 L1215.6 502.6 L1213.4 500.8 L1213.3 498.1 L1213.4 494.6 L1213.2 492 L1213.2 489.5 L1213.3 486.7 L1212.5 483.4 L1213 480.9 L1213 478.2 L1213.1 474.6 Z" fill="none" stroke="#c6bf3b" stroke-width="3.2" stroke-linecap="round" stroke-dasharray="0.01 2.9"/>
<path d="M1151.7 470.4 L1155.8 472.1 L1158.4 474.7 L1160.6 475.6 L1164.6 477.6 L1166.6 478.8 L1170.4 480.9" fill="none" stroke="#c6bf3b" stroke-width="6.4" stroke-linejoin="round" stroke-linecap="round" stroke-dasharray="0.01 3.5"/><path d="M1151.7 470.4 L1155.8 472.1 L1158.4 474.7 L1160.6 475.6 L1164.6 477.6 L1166.6 478.8 L1170.4 480.9" fill="none" stroke="#c6bf3b" stroke-width="4.4" stroke-linejoin="round" stroke-linecap="round"/>
<path d="M1192.6 455.9 L1191.5 460.7 L1191.7 463.9 L1192.9 467.4 L1194.1 471.1" fill="none" stroke="#c6bf3b" stroke-width="6.4" stroke-linejoin="round" stroke-linecap="round" stroke-dasharray="0.01 3.5"/><path d="M1192.6 455.9 L1191.5 460.7 L1191.7 463.9 L1192.9 467.4 L1194.1 471.1" fill="none" stroke="#c6bf3b" stroke-width="4.4" stroke-linejoin="round" stroke-linecap="round"/>
<path d="M1193 457 L1195.8 458.4 L1199.1 459.4 L1198.3 462.8 L1199.1 467 L1200.7 470.5 L1200.9 473.6" fill="none" stroke="#c6bf3b" stroke-width="6.4" stroke-linejoin="round" stroke-linecap="round" stroke-dasharray="0.01 3.5"/><path d="M1193 457 L1195.8 458.4 L1199.1 459.4 L1198.3 462.8 L1199.1 467 L1200.7 470.5 L1200.9 473.6" fill="none" stroke="#c6bf3b" stroke-width="4.4" stroke-linejoin="round" stroke-linecap="round"/>
<path d="M1204.6 463.7 L1204.6 467.5 L1206 468.9 L1205.7 472.4" fill="none" stroke="#c6bf3b" stroke-width="6.4" stroke-linejoin="round" stroke-linecap="round" stroke-dasharray="0.01 3.5"/><path d="M1204.6 463.7 L1204.6 467.5 L1206 468.9 L1205.7 472.4" fill="none" stroke="#c6bf3b" stroke-width="4.4" stroke-linejoin="round" stroke-linecap="round"/>
<path d="M1217.2 467.8 L1217.8 464.5 L1218.6 461.3 L1222.1 460.2 L1226 460.5 L1227 460.3 L1229.1 457.8 L1228.6 454.1 L1229.9 450.3 L1229.1 447.4 L1229 443.7 L1227.6 441 L1225.5 439.4 L1223.7 439 L1219.4 438.8 L1214.9 437.4 L1213.7 435.5 L1210.5 432.9 L1207.7 433.8 L1204.3 433.3 L1202.4 436 L1201 438.8 L1201.5 440.4 L1200.5 444.1 L1200.8 446.9 L1202.1 450.4" fill="none" stroke="#c6bf3b" stroke-width="6.4" stroke-linejoin="round" stroke-linecap="round" stroke-dasharray="0.01 3.5"/><path d="M1217.2 467.8 L1217.8 464.5 L1218.6 461.3 L1222.1 460.2 L1226 460.5 L1227 460.3 L1229.1 457.8 L1228.6 454.1 L1229.9 450.3 L1229.1 447.4 L1229 443.7 L1227.6 441 L1225.5 439.4 L1223.7 439 L1219.4 438.8 L1214.9 437.4 L1213.7 435.5 L1210.5 432.9 L1207.7 433.8 L1204.3 433.3 L1202.4 436 L1201 438.8 L1201.5 440.4 L1200.5 444.1 L1200.8 446.9 L1202.1 450.4" fill="none" stroke="#c6bf3b" stroke-width="4.4" stroke-linejoin="round" stroke-linecap="round"/>
<path d="M1211.5 450.4 L1214.2 449.4 L1217.6 450 L1220.7 449.6 L1224 448.7" fill="none" stroke="#c6bf3b" stroke-width="6.4" stroke-linejoin="round" stroke-linecap="round" stroke-dasharray="0.01 3.5"/><path d="M1211.5 450.4 L1214.2 449.4 L1217.6 450 L1220.7 449.6 L1224 448.7" fill="none" stroke="#c6bf3b" stroke-width="4.4" stroke-linejoin="round" stroke-linecap="round"/>
<path d="M1228.3 463 L1233.3 462.7 L1236.3 464.2 L1238.9 460.5 L1241.5 457.9 L1243.3 455.4 L1247 455.5 L1250.2 456.1 L1252.3 458.4 L1253.7 459.8 L1254.8 461.3 L1257.1 465.2 L1261.3 466.6 L1263.6 467.6 L1267.5 469.7 L1269.4 470.3 L1271.4 472.5 L1273.9 474 L1277.5 475.8 L1280.7 476.5" fill="none" stroke="#c6bf3b" stroke-width="6.4" stroke-linejoin="round" stroke-linecap="round" stroke-dasharray="0.01 3.5"/><path d="M1228.3 463 L1233.3 462.7 L1236.3 464.2 L1238.9 460.5 L1241.5 457.9 L1243.3 455.4 L1247 455.5 L1250.2 456.1 L1252.3 458.4 L1253.7 459.8 L1254.8 461.3 L1257.1 465.2 L1261.3 466.6 L1263.6 467.6 L1267.5 469.7 L1269.4 470.3 L1271.4 472.5 L1273.9 474 L1277.5 475.8 L1280.7 476.5" fill="none" stroke="#c6bf3b" stroke-width="4.4" stroke-linejoin="round" stroke-linecap="round"/>
<path d="M1244 456.1 L1244.1 461 L1244.9 463.9 L1244.9 467.2 L1244.3 469.7 L1241.6 473.1 L1238.6 474.8" fill="none" stroke="#c6bf3b" stroke-width="6.4" stroke-linejoin="round" stroke-linecap="round" stroke-dasharray="0.01 3.5"/><path d="M1244 456.1 L1244.1 461 L1244.9 463.9 L1244.9 467.2 L1244.3 469.7 L1241.6 473.1 L1238.6 474.8" fill="none" stroke="#c6bf3b" stroke-width="4.4" stroke-linejoin="round" stroke-linecap="round"/>
<path d="M1250.6 459.3 L1250.9 461.8 L1251.6 464.3 L1252 466.9 L1254 468.3 L1257.7 471 L1260.5 469.9" fill="none" stroke="#c6bf3b" stroke-width="6.4" stroke-linejoin="round" stroke-linecap="round" stroke-dasharray="0.01 3.5"/><path d="M1250.6 459.3 L1250.9 461.8 L1251.6 464.3 L1252 466.9 L1254 468.3 L1257.7 471 L1260.5 469.9" fill="none" stroke="#c6bf3b" stroke-width="4.4" stroke-linejoin="round" stroke-linecap="round"/>
<path d="M1246.6 460.1 L1248.4 462.5 L1248.4 466.3" fill="none" stroke="#c6bf3b" stroke-width="6.4" stroke-linejoin="round" stroke-linecap="round" stroke-dasharray="0.01 3.5"/><path d="M1246.6 460.1 L1248.4 462.5 L1248.4 466.3" fill="none" stroke="#c6bf3b" stroke-width="4.4" stroke-linejoin="round" stroke-linecap="round"/>
<path d="M1233.2 489.9 L1237.3 491.2 L1240.3 491.9 L1244.2 492.5 L1247.3 491.7 L1249.4 492.2 L1252.7 491.5 L1254.9 488.2" fill="none" stroke="#c6bf3b" stroke-width="6.4" stroke-linejoin="round" stroke-linecap="round" stroke-dasharray="0.01 3.5"/><path d="M1233.2 489.9 L1237.3 491.2 L1240.3 491.9 L1244.2 492.5 L1247.3 491.7 L1249.4 492.2 L1252.7 491.5 L1254.9 488.2" fill="none" stroke="#c6bf3b" stroke-width="4.4" stroke-linejoin="round" stroke-linecap="round"/>
<path d="M1234.1 500.7 L1236.5 502.2 L1239.2 502.1 L1242.3 504.1 L1246 504.3 L1246.3 507.8 L1250.2 511.3 L1252.2 512.3 L1253.6 514.3 L1253.7 516.5 L1249.3 519.6 L1245.9 522.3" fill="none" stroke="#c6bf3b" stroke-width="6.4" stroke-linejoin="round" stroke-linecap="round" stroke-dasharray="0.01 3.5"/><path d="M1234.1 500.7 L1236.5 502.2 L1239.2 502.1 L1242.3 504.1 L1246 504.3 L1246.3 507.8 L1250.2 511.3 L1252.2 512.3 L1253.6 514.3 L1253.7 516.5 L1249.3 519.6 L1245.9 522.3" fill="none" stroke="#c6bf3b" stroke-width="4.4" stroke-linejoin="round" stroke-linecap="round"/>
<path d="M1176 491.6 L1175.5 495.6 L1176 498.1 L1175.6 500.8 L1177.2 503.3 L1173.3 503.9 L1170.6 505.2 L1168.1 508.2 L1169 510.7 L1171.2 513.7 L1172.7 514.4 L1176.5 515.9 L1179.2 517.6 L1181.3 517.6 L1182.8 520.5 L1185.2 523.2 L1185 526.1 L1184.5 529.1 L1187.6 529.5 L1190.1 531.7 L1192.1 532.5 L1195.1 534.3 L1197.8 537.1 L1198.7 538.6 L1198.9 542.9 L1198.3 546.5 L1198.7 550 L1197.7 551.8 L1196.4 557.3 L1196.5 560" fill="none" stroke="#c6bf3b" stroke-width="6.4" stroke-linejoin="round" stroke-linecap="round" stroke-dasharray="0.01 3.5"/><path d="M1176 491.6 L1175.5 495.6 L1176 498.1 L1175.6 500.8 L1177.2 503.3 L1173.3 503.9 L1170.6 505.2 L1168.1 508.2 L1169 510.7 L1171.2 513.7 L1172.7 514.4 L1176.5 515.9 L1179.2 517.6 L1181.3 517.6 L1182.8 520.5 L1185.2 523.2 L1185 526.1 L1184.5 529.1 L1187.6 529.5 L1190.1 531.7 L1192.1 532.5 L1195.1 534.3 L1197.8 537.1 L1198.7 538.6 L1198.9 542.9 L1198.3 546.5 L1198.7 550 L1197.7 551.8 L1196.4 557.3 L1196.5 560" fill="none" stroke="#c6bf3b" stroke-width="4.4" stroke-linejoin="round" stroke-linecap="round"/>
<path d="M1184.2 494.9 L1185.5 498.4 L1185.8 503.5 L1185.9 506.1 L1185.5 509.5 L1181.9 509.3 L1180.2 510.6" fill="none" stroke="#c6bf3b" stroke-width="6.4" stroke-linejoin="round" stroke-linecap="round" stroke-dasharray="0.01 3.5"/><path d="M1184.2 494.9 L1185.5 498.4 L1185.8 503.5 L1185.9 506.1 L1185.5 509.5 L1181.9 509.3 L1180.2 510.6" fill="none" stroke="#c6bf3b" stroke-width="4.4" stroke-linejoin="round" stroke-linecap="round"/>
<path d="M1186.6 503.7 L1190.2 505.6 L1192.5 508.6 L1191.6 510.9 L1191.2 513.7 L1187.5 516.2" fill="none" stroke="#c6bf3b" stroke-width="6.4" stroke-linejoin="round" stroke-linecap="round" stroke-dasharray="0.01 3.5"/><path d="M1186.6 503.7 L1190.2 505.6 L1192.5 508.6 L1191.6 510.9 L1191.2 513.7 L1187.5 516.2" fill="none" stroke="#c6bf3b" stroke-width="4.4" stroke-linejoin="round" stroke-linecap="round"/>
<path d="M1197.7 500.2 L1199.6 503.8 L1200.3 507.2 L1199.1 508.7 L1197.2 511.3" fill="none" stroke="#c6bf3b" stroke-width="6.4" stroke-linejoin="round" stroke-linecap="round" stroke-dasharray="0.01 3.5"/><path d="M1197.7 500.2 L1199.6 503.8 L1200.3 507.2 L1199.1 508.7 L1197.2 511.3" fill="none" stroke="#c6bf3b" stroke-width="4.4" stroke-linejoin="round" stroke-linecap="round"/>
<path d="M1185.9 522 L1188.4 520.5 L1191.9 520.2 L1195.7 519 L1198.6 520.6 L1201 519.1 L1203.8 519.9 L1206.7 519.8 L1208.6 520.8 L1211.9 522.3 L1214.3 522 L1217.9 523.5" fill="none" stroke="#c6bf3b" stroke-width="6.4" stroke-linejoin="round" stroke-linecap="round" stroke-dasharray="0.01 3.5"/><path d="M1185.9 522 L1188.4 520.5 L1191.9 520.2 L1195.7 519 L1198.6 520.6 L1201 519.1 L1203.8 519.9 L1206.7 519.8 L1208.6 520.8 L1211.9 522.3 L1214.3 522 L1217.9 523.5" fill="none" stroke="#c6bf3b" stroke-width="4.4" stroke-linejoin="round" stroke-linecap="round"/>
<path d="M1198.7 534.8 L1202.9 533.8 L1205.2 532.1 L1208.6 533.5 L1209.7 534.6 L1209.4 538.1" fill="none" stroke="#c6bf3b" stroke-width="6.4" stroke-linejoin="round" stroke-linecap="round" stroke-dasharray="0.01 3.5"/><path d="M1198.7 534.8 L1202.9 533.8 L1205.2 532.1 L1208.6 533.5 L1209.7 534.6 L1209.4 538.1" fill="none" stroke="#c6bf3b" stroke-width="4.4" stroke-linejoin="round" stroke-linecap="round"/>
</g>
<text x="835.7" y="23" font-size="23.5" text-anchor="middle" fill="#1c1c1c" textLength="46" lengthAdjust="spacingAndGlyphs">t = 1</text>
<text x="1017.1" y="23" font-size="23.5" text-anchor="middle" fill="#1c1c1c" textLength="75.5" lengthAdjust="spacingAndGlyphs">t = 300</text>
<text x="1197.2" y="23" font-size="23.5" text-anchor="middle" fill="#1c1c1c" textLength="75.5" lengthAdjust="spacingAndGlyphs">t = 600</text>
<text x="640" y="125.8" font-size="24.6" text-anchor="start" fill="#1c1c1c" textLength="100" lengthAdjust="spacingAndGlyphs">T = 0.021</text>
<text x="640" y="305.9" font-size="24.6" text-anchor="start" fill="#1c1c1c" textLength="102.7" lengthAdjust="spacingAndGlyphs">T = 0.030</text>
<text x="653.2" y="486.7" font-size="24.6" text-anchor="start" fill="#1c1c1c" textLength="90" lengthAdjust="spacingAndGlyphs">T = 0.09</text>
<text transform="translate(622 301.2) rotate(-90)" font-size="25" text-anchor="middle" fill="#1c1c1c" textLength="135.5" lengthAdjust="spacingAndGlyphs">Temperature</text>
<text x="1293" y="398.2" font-size="24.5" fill="#1c1c1c"><tspan font-style="italic">L</tspan><tspan dy="7.8" font-size="24">worm</tspan></text>
<text x="1291.3" y="487.1" font-size="26.6" text-anchor="start" fill="#1c1c1c" textLength="14.2" lengthAdjust="spacingAndGlyphs">0</text>
<text x="1291.3" y="567.3" font-size="24.5" fill="#1c1c1c">-<tspan font-style="italic">L</tspan><tspan dy="7.8" font-size="24">worm</tspan></text>
<text x="1074" y="597.9" font-size="24.5" fill="#1c1c1c">-<tspan font-style="italic">L</tspan><tspan dy="7.8" font-size="24">worm</tspan></text>
<text x="1192.5" y="598.7" font-size="26.6" text-anchor="start" fill="#1c1c1c" textLength="14.2" lengthAdjust="spacingAndGlyphs">0</text>
<text x="1249" y="597.9" font-size="24.5" fill="#1c1c1c"><tspan font-style="italic">L</tspan><tspan dy="7.8" font-size="24">worm</tspan></text>
</g>
<g id="panelC">
<rect x="1449.5" y="35.7" width="314.7" height="217.5" fill="#fff"/>
<clipPath id="clipC"><rect x="1449.5" y="35.7" width="314.7" height="217.5"/></clipPath>
<g clip-path="url(#clipC)">
<path d="M1449.5 204.3 L1450.6 202.9 L1451.6 202.2 L1452.7 201.1 L1453.7 200.5 L1454.8 200.4 L1455.8 199.5 L1456.9 199.4 L1457.9 199.3 L1459 199.2 L1460 198.3 L1461.1 198.3 L1462.1 197.9 L1463.2 197.8 L1464.3 198.2 L1465.3 198.8 L1466.4 198.7 L1467.4 199.2 L1468.5 199.5 L1469.5 199.4 L1470.6 199.3 L1471.6 199.5 L1472.7 199.3 L1473.7 199.6 L1474.8 199.4 L1475.8 199.6 L1476.9 198.9 L1478 198.7 L1479 199 L1480.1 199.4 L1481.1 199.1 L1482.2 199.2 L1483.2 199.1 L1484.3 198.1 L1485.3 198.3 L1486.4 198 L1487.4 197.7 L1488.5 196.9 L1489.5 196.3 L1490.6 195.4 L1491.7 194.3 L1492.7 193.7 L1493.8 193.1 L1494.8 192.8 L1495.9 192.5 L1496.9 192.2 L1498 192 L1499 191.6 L1500.1 191.6 L1501.1 191.7 L1502.2 191.8 L1503.2 192.1 L1504.3 191.4 L1505.4 192.1 L1506.4 191.7 L1507.5 191.5 L1508.5 190.8 L1509.6 191.5 L1510.6 191.6 L1511.7 191.7 L1512.7 191.6 L1513.8 191.6 L1514.8 191.4 L1515.9 191.4 L1516.9 191.6 L1518 191.4 L1519.1 191.3 L1520.1 192.6 L1521.2 192.3 L1522.2 191.6 L1523.3 192.2 L1524.3 191.9 L1525.4 192.2 L1526.4 191.9 L1527.5 191.8 L1528.5 191.8 L1529.6 192 L1530.6 192 L1531.7 191.9 L1532.8 191.9 L1533.8 191.5 L1534.9 191.6 L1535.9 192 L1537 191.4 L1538 191.7 L1539.1 191.6 L1540.1 192.1 L1541.2 192 L1542.2 191.7 L1543.3 191.7 L1544.3 192.1 L1545.4 191.9 L1546.5 190.9 L1547.5 190.8 L1548.6 190.9 L1549.6 190.7 L1550.7 190.5 L1551.7 190.4 L1552.8 190.4 L1553.8 189.6 L1554.9 189.9 L1555.9 190.5 L1557 190.4 L1558 190.3 L1559.1 189.6 L1560.2 189.4 L1561.2 189.6 L1562.3 188.9 L1563.3 188.5 L1564.4 188.8 L1565.4 188.5 L1566.5 188 L1567.5 188.2 L1568.6 188 L1569.6 188.3 L1570.7 188.1 L1571.7 187.2 L1572.8 186.7 L1573.9 186.8 L1574.9 186.5 L1576 187 L1577 187.2 L1578.1 186.9 L1579.1 186.9 L1580.2 187.1 L1581.2 187.1 L1582.3 186.7 L1583.3 186.1 L1584.4 185.9 L1585.4 186.3 L1586.5 186.2 L1587.6 185.6 L1588.6 185.6 L1589.7 185.1 L1590.7 184.6 L1591.8 183.8 L1592.8 183.8 L1593.9 183.4 L1594.9 183.1 L1596 182.8 L1597 182.5 L1598.1 182.9 L1599.1 183.2 L1600.2 182.7 L1601.3 182.9 L1602.3 183 L1603.4 182.8 L1604.4 182.4 L1605.5 181.9 L1606.5 181.9 L1607.6 182.2 L1608.6 182.4 L1609.7 182.9 L1610.7 182.7 L1611.8 182.7 L1612.8 183.4 L1613.9 183.5 L1615 183.7 L1616 184.2 L1617.1 184.1 L1618.1 183.7 L1619.2 183.4 L1620.2 183.5 L1621.3 183.6 L1622.3 183.7 L1623.4 183.9 L1624.4 184 L1625.5 184.1 L1626.5 184.3 L1627.6 184.1 L1628.7 184 L1629.7 184.4 L1630.8 184.2 L1631.8 184.1 L1632.9 183.3 L1633.9 182.9 L1635 182.7 L1636 183.1 L1637.1 183.1 L1638.1 183 L1639.2 183.1 L1640.2 182.5 L1641.3 182.2 L1642.4 182.3 L1643.4 181.7 L1644.5 181.6 L1645.5 181 L1646.6 181.7 L1647.6 182.3 L1648.7 181.6 L1649.7 181.8 L1650.8 181.8 L1651.8 182 L1652.9 181.9 L1653.9 181.7 L1655 181.7 L1656.1 181.8 L1657.1 181.6 L1658.2 181.7 L1659.2 182.1 L1660.3 182.4 L1661.3 182.5 L1662.4 183 L1663.4 183 L1664.5 182.5 L1665.5 183.2 L1666.6 182.7 L1667.6 182.8 L1668.7 182.3 L1669.8 182.1 L1670.8 181.7 L1671.9 181.4 L1672.9 180.9 L1674 180.3 L1675 180.2 L1676.1 180.3 L1677.1 180.4 L1678.2 180.3 L1679.2 179.9 L1680.3 179.9 L1681.3 179.9 L1682.4 179.2 L1683.5 179.8 L1684.5 179.9 L1685.6 179.7 L1686.6 179.4 L1687.7 179.3 L1688.7 179.2 L1689.8 178.9 L1690.8 178.3 L1691.9 177.1 L1692.9 177 L1694 176.9 L1695 176.9 L1696.1 177.2 L1697.2 177.2 L1698.2 176.5 L1699.3 175.8 L1700.3 175.2 L1701.4 174.6 L1702.4 174.8 L1703.5 174.7 L1704.5 175.1 L1705.6 175.1 L1706.6 174.6 L1707.7 174.4 L1708.7 174 L1709.8 174.1 L1710.9 173.1 L1711.9 173 L1713 172.5 L1714 172.1 L1715.1 172.7 L1716.1 172.5 L1717.2 172.8 L1718.2 171.8 L1719.3 172 L1720.3 172.1 L1721.4 171.6 L1722.4 171.5 L1723.5 170.8 L1724.6 170.7 L1725.6 170.6 L1726.7 171 L1727.7 170.5 L1728.8 170.9 L1729.8 170.8 L1730.9 170.6 L1731.9 170.4 L1733 170.8 L1734 170.4 L1735.1 170.5 L1736.1 170.4 L1737.2 170 L1738.3 170 L1739.3 169.5 L1740.4 169.8 L1741.4 169.7 L1742.5 170 L1743.5 169.5 L1744.6 169.8 L1745.6 169.3 L1746.7 168.8 L1747.7 168.8 L1748.8 168.8 L1749.9 167.8 L1750.9 167.5 L1752 167.7 L1753 167.4 L1754.1 167.3 L1755.1 167.4 L1756.2 167 L1757.2 166.4 L1758.3 166 L1759.3 166.2 L1760.4 166.7 L1761.4 166.6 L1762.5 166.8 L1763.6 166.6 L1764.6 166.6 L1764.6 206.4 L1763.6 206 L1762.5 206 L1761.4 205.7 L1760.4 205.9 L1759.3 205.4 L1758.3 205 L1757.2 205.6 L1756.2 205.7 L1755.1 205.8 L1754.1 206 L1753 205.5 L1752 205.9 L1750.9 205.7 L1749.9 205.9 L1748.8 206.3 L1747.7 205.7 L1746.7 205.6 L1745.6 205.9 L1744.6 205.9 L1743.5 205.6 L1742.5 206.1 L1741.4 206.2 L1740.4 206.3 L1739.3 205.8 L1738.3 205.7 L1737.2 205.4 L1736.1 205.7 L1735.1 205.2 L1734 205.1 L1733 205.4 L1731.9 205.1 L1730.9 204.9 L1729.8 205.4 L1728.8 205.3 L1727.7 205.2 L1726.7 205.2 L1725.6 204.9 L1724.6 204.9 L1723.5 205 L1722.4 205.5 L1721.4 206 L1720.3 206.1 L1719.3 205.8 L1718.2 205.6 L1717.2 206 L1716.1 205.5 L1715.1 205.8 L1714 205.9 L1713 206 L1711.9 206.1 L1710.9 205.9 L1709.8 206.6 L1708.7 206.4 L1707.7 206.5 L1706.6 206.5 L1705.6 206.6 L1704.5 206.5 L1703.5 206.4 L1702.4 206.5 L1701.4 206.4 L1700.3 206.7 L1699.3 206.7 L1698.2 206.9 L1697.2 207.1 L1696.1 206.9 L1695 206.2 L1694 206.4 L1692.9 206.4 L1691.9 206.1 L1690.8 206.5 L1689.8 207 L1688.7 207.4 L1687.7 207.2 L1686.6 206.6 L1685.6 206.9 L1684.5 206.8 L1683.5 206.8 L1682.4 206.4 L1681.3 207.2 L1680.3 207 L1679.2 206.7 L1678.2 206.6 L1677.1 206.7 L1676.1 206.4 L1675 206.2 L1674 206.2 L1672.9 206.3 L1671.9 206.5 L1670.8 206.5 L1669.8 207 L1668.7 206.9 L1667.6 206.9 L1666.6 207.2 L1665.5 208 L1664.5 207.6 L1663.4 207.9 L1662.4 207.8 L1661.3 207.9 L1660.3 207.8 L1659.2 207.5 L1658.2 207.8 L1657.1 207.9 L1656.1 207.9 L1655 208.1 L1653.9 207.7 L1652.9 207.6 L1651.8 207 L1650.8 206.7 L1649.7 206.6 L1648.7 207 L1647.6 207.4 L1646.6 206.9 L1645.5 206.2 L1644.5 206.7 L1643.4 206.2 L1642.4 207 L1641.3 206.9 L1640.2 206.6 L1639.2 206.9 L1638.1 206.6 L1637.1 206.9 L1636 206.5 L1635 206.4 L1633.9 206.1 L1632.9 206.2 L1631.8 206.5 L1630.8 206.6 L1629.7 207 L1628.7 207 L1627.6 206.8 L1626.5 207.2 L1625.5 207 L1624.4 206.4 L1623.4 206.6 L1622.3 206.5 L1621.3 206.4 L1620.2 206.5 L1619.2 206.4 L1618.1 205.9 L1617.1 206.1 L1616 206.6 L1615 206.5 L1613.9 206.6 L1612.8 206.7 L1611.8 206.4 L1610.7 206.3 L1609.7 206.3 L1608.6 206.3 L1607.6 206.2 L1606.5 206.2 L1605.5 206.5 L1604.4 206.8 L1603.4 206.8 L1602.3 206.8 L1601.3 207.3 L1600.2 207.2 L1599.1 207.1 L1598.1 206.8 L1597 206.6 L1596 206.8 L1594.9 207.5 L1593.9 207.5 L1592.8 208.1 L1591.8 208.2 L1590.7 208.3 L1589.7 208.2 L1588.6 208.2 L1587.6 208 L1586.5 208.1 L1585.4 208.2 L1584.4 207.7 L1583.3 207 L1582.3 207.2 L1581.2 207.3 L1580.2 206.9 L1579.1 206.8 L1578.1 206.6 L1577 206.6 L1576 206.6 L1574.9 206.7 L1573.9 206.5 L1572.8 206.8 L1571.7 206.6 L1570.7 207 L1569.6 206.8 L1568.6 206.4 L1567.5 206.5 L1566.5 206.5 L1565.4 206.2 L1564.4 206.4 L1563.3 206.7 L1562.3 206.7 L1561.2 206.9 L1560.2 206.3 L1559.1 206.2 L1558 206.6 L1557 206.5 L1555.9 206.1 L1554.9 205.7 L1553.8 205.2 L1552.8 205 L1551.7 204.7 L1550.7 204.5 L1549.6 204.4 L1548.6 205 L1547.5 204.5 L1546.5 204.8 L1545.4 205.5 L1544.3 205 L1543.3 204.8 L1542.2 205.1 L1541.2 205.2 L1540.1 205 L1539.1 205.2 L1538 205.4 L1537 205.3 L1535.9 205.3 L1534.9 204.4 L1533.8 203.9 L1532.8 204.5 L1531.7 204.4 L1530.6 204.3 L1529.6 204.1 L1528.5 203.9 L1527.5 204 L1526.4 203.9 L1525.4 204.3 L1524.3 204.2 L1523.3 204.2 L1522.2 203.9 L1521.2 204.2 L1520.1 204.5 L1519.1 204.1 L1518 204.6 L1516.9 204.8 L1515.9 204.7 L1514.8 204.2 L1513.8 204.5 L1512.7 204.3 L1511.7 204.1 L1510.6 203.6 L1509.6 204 L1508.5 203.5 L1507.5 203.9 L1506.4 203.6 L1505.4 203.6 L1504.3 203 L1503.2 203.5 L1502.2 203.4 L1501.1 203 L1500.1 202.8 L1499 202.2 L1498 202.7 L1496.9 202.6 L1495.9 202.6 L1494.8 202.2 L1493.8 202.1 L1492.7 201.9 L1491.7 201.9 L1490.6 202.2 L1489.5 202.4 L1488.5 202.7 L1487.4 203.1 L1486.4 203.6 L1485.3 204 L1484.3 203.7 L1483.2 204.5 L1482.2 204.3 L1481.1 203.8 L1480.1 203.8 L1479 203.5 L1478 203.4 L1476.9 203.5 L1475.8 203.8 L1474.8 204.2 L1473.7 204.3 L1472.7 204 L1471.6 204.1 L1470.6 204.3 L1469.5 204.5 L1468.5 204.6 L1467.4 204.4 L1466.4 204 L1465.3 203.6 L1464.3 203.5 L1463.2 202.9 L1462.1 202.5 L1461.1 202.7 L1460 202.7 L1459 203 L1457.9 203.1 L1456.9 203.3 L1455.8 203.3 L1454.8 203.6 L1453.7 203.2 L1452.7 203.2 L1451.6 203.8 L1450.6 203.8 L1449.5 204.5 Z" fill="#cfe5e0" fill-opacity="0.75" stroke="none"/><path d="M1449.5 204.5 L1450.6 203.8 L1451.6 203.8 L1452.7 203.2 L1453.7 203.2 L1454.8 203.6 L1455.8 203.3 L1456.9 203.3 L1457.9 203.1 L1459 203 L1460 202.7 L1461.1 202.7 L1462.1 202.5 L1463.2 202.9 L1464.3 203.5 L1465.3 203.6 L1466.4 204 L1467.4 204.4 L1468.5 204.6 L1469.5 204.5 L1470.6 204.3 L1471.6 204.1 L1472.7 204 L1473.7 204.3 L1474.8 204.2 L1475.8 203.8 L1476.9 203.5 L1478 203.4 L1479 203.5 L1480.1 203.8 L1481.1 203.8 L1482.2 204.3 L1483.2 204.5 L1484.3 203.7 L1485.3 204 L1486.4 203.6 L1487.4 203.1 L1488.5 202.7 L1489.5 202.4 L1490.6 202.2 L1491.7 201.9 L1492.7 201.9 L1493.8 202.1 L1494.8 202.2 L1495.9 202.6 L1496.9 202.6 L1498 202.7 L1499 202.2 L1500.1 202.8 L1501.1 203 L1502.2 203.4 L1503.2 203.5 L1504.3 203 L1505.4 203.6 L1506.4 203.6 L1507.5 203.9 L1508.5 203.5 L1509.6 204 L1510.6 203.6 L1511.7 204.1 L1512.7 204.3 L1513.8 204.5 L1514.8 204.2 L1515.9 204.7 L1516.9 204.8 L1518 204.6 L1519.1 204.1 L1520.1 204.5 L1521.2 204.2 L1522.2 203.9 L1523.3 204.2 L1524.3 204.2 L1525.4 204.3 L1526.4 203.9 L1527.5 204 L1528.5 203.9 L1529.6 204.1 L1530.6 204.3 L1531.7 204.4 L1532.8 204.5 L1533.8 203.9 L1534.9 204.4 L1535.9 205.3 L1537 205.3 L1538 205.4 L1539.1 205.2 L1540.1 205 L1541.2 205.2 L1542.2 205.1 L1543.3 204.8 L1544.3 205 L1545.4 205.5 L1546.5 204.8 L1547.5 204.5 L1548.6 205 L1549.6 204.4 L1550.7 204.5 L1551.7 204.7 L1552.8 205 L1553.8 205.2 L1554.9 205.7 L1555.9 206.1 L1557 206.5 L1558 206.6 L1559.1 206.2 L1560.2 206.3 L1561.2 206.9 L1562.3 206.7 L1563.3 206.7 L1564.4 206.4 L1565.4 206.2 L1566.5 206.5 L1567.5 206.5 L1568.6 206.4 L1569.6 206.8 L1570.7 207 L1571.7 206.6 L1572.8 206.8 L1573.9 206.5 L1574.9 206.7 L1576 206.6 L1577 206.6 L1578.1 206.6 L1579.1 206.8 L1580.2 206.9 L1581.2 207.3 L1582.3 207.2 L1583.3 207 L1584.4 207.7 L1585.4 208.2 L1586.5 208.1 L1587.6 208 L1588.6 208.2 L1589.7 208.2 L1590.7 208.3 L1591.8 208.2 L1592.8 208.1 L1593.9 207.5 L1594.9 207.5 L1596 206.8 L1597 206.6 L1598.1 206.8 L1599.1 207.1 L1600.2 207.2 L1601.3 207.3 L1602.3 206.8 L1603.4 206.8 L1604.4 206.8 L1605.5 206.5 L1606.5 206.2 L1607.6 206.2 L1608.6 206.3 L1609.7 206.3 L1610.7 206.3 L1611.8 206.4 L1612.8 206.7 L1613.9 206.6 L1615 206.5 L1616 206.6 L1617.1 206.1 L1618.1 205.9 L1619.2 206.4 L1620.2 206.5 L1621.3 206.4 L1622.3 206.5 L1623.4 206.6 L1624.4 206.4 L1625.5 207 L1626.5 207.2 L1627.6 206.8 L1628.7 207 L1629.7 207 L1630.8 206.6 L1631.8 206.5 L1632.9 206.2 L1633.9 206.1 L1635 206.4 L1636 206.5 L1637.1 206.9 L1638.1 206.6 L1639.2 206.9 L1640.2 206.6 L1641.3 206.9 L1642.4 207 L1643.4 206.2 L1644.5 206.7 L1645.5 206.2 L1646.6 206.9 L1647.6 207.4 L1648.7 207 L1649.7 206.6 L1650.8 206.7 L1651.8 207 L1652.9 207.6 L1653.9 207.7 L1655 208.1 L1656.1 207.9 L1657.1 207.9 L1658.2 207.8 L1659.2 207.5 L1660.3 207.8 L1661.3 207.9 L1662.4 207.8 L1663.4 207.9 L1664.5 207.6 L1665.5 208 L1666.6 207.2 L1667.6 206.9 L1668.7 206.9 L1669.8 207 L1670.8 206.5 L1671.9 206.5 L1672.9 206.3 L1674 206.2 L1675 206.2 L1676.1 206.4 L1677.1 206.7 L1678.2 206.6 L1679.2 206.7 L1680.3 207 L1681.3 207.2 L1682.4 206.4 L1683.5 206.8 L1684.5 206.8 L1685.6 206.9 L1686.6 206.6 L1687.7 207.2 L1688.7 207.4 L1689.8 207 L1690.8 206.5 L1691.9 206.1 L1692.9 206.4 L1694 206.4 L1695 206.2 L1696.1 206.9 L1697.2 207.1 L1698.2 206.9 L1699.3 206.7 L1700.3 206.7 L1701.4 206.4 L1702.4 206.5 L1703.5 206.4 L1704.5 206.5 L1705.6 206.6 L1706.6 206.5 L1707.7 206.5 L1708.7 206.4 L1709.8 206.6 L1710.9 205.9 L1711.9 206.1 L1713 206 L1714 205.9 L1715.1 205.8 L1716.1 205.5 L1717.2 206 L1718.2 205.6 L1719.3 205.8 L1720.3 206.1 L1721.4 206 L1722.4 205.5 L1723.5 205 L1724.6 204.9 L1725.6 204.9 L1726.7 205.2 L1727.7 205.2 L1728.8 205.3 L1729.8 205.4 L1730.9 204.9 L1731.9 205.1 L1733 205.4 L1734 205.1 L1735.1 205.2 L1736.1 205.7 L1737.2 205.4 L1738.3 205.7 L1739.3 205.8 L1740.4 206.3 L1741.4 206.2 L1742.5 206.1 L1743.5 205.6 L1744.6 205.9 L1745.6 205.9 L1746.7 205.6 L1747.7 205.7 L1748.8 206.3 L1749.9 205.9 L1750.9 205.7 L1752 205.9 L1753 205.5 L1754.1 206 L1755.1 205.8 L1756.2 205.7 L1757.2 205.6 L1758.3 205 L1759.3 205.4 L1760.4 205.9 L1761.4 205.7 L1762.5 206 L1763.6 206 L1764.6 206.4" fill="none" stroke="#b5d6d0" stroke-width="0.9"/><path d="M1449.5 204.3 L1450.6 202.9 L1451.6 202.2 L1452.7 201.1 L1453.7 200.5 L1454.8 200.4 L1455.8 199.5 L1456.9 199.4 L1457.9 199.3 L1459 199.2 L1460 198.3 L1461.1 198.3 L1462.1 197.9 L1463.2 197.8 L1464.3 198.2 L1465.3 198.8 L1466.4 198.7 L1467.4 199.2 L1468.5 199.5 L1469.5 199.4 L1470.6 199.3 L1471.6 199.5 L1472.7 199.3 L1473.7 199.6 L1474.8 199.4 L1475.8 199.6 L1476.9 198.9 L1478 198.7 L1479 199 L1480.1 199.4 L1481.1 199.1 L1482.2 199.2 L1483.2 199.1 L1484.3 198.1 L1485.3 198.3 L1486.4 198 L1487.4 197.7 L1488.5 196.9 L1489.5 196.3 L1490.6 195.4 L1491.7 194.3 L1492.7 193.7 L1493.8 193.1 L1494.8 192.8 L1495.9 192.5 L1496.9 192.2 L1498 192 L1499 191.6 L1500.1 191.6 L1501.1 191.7 L1502.2 191.8 L1503.2 192.1 L1504.3 191.4 L1505.4 192.1 L1506.4 191.7 L1507.5 191.5 L1508.5 190.8 L1509.6 191.5 L1510.6 191.6 L1511.7 191.7 L1512.7 191.6 L1513.8 191.6 L1514.8 191.4 L1515.9 191.4 L1516.9 191.6 L1518 191.4 L1519.1 191.3 L1520.1 192.6 L1521.2 192.3 L1522.2 191.6 L1523.3 192.2 L1524.3 191.9 L1525.4 192.2 L1526.4 191.9 L1527.5 191.8 L1528.5 191.8 L1529.6 192 L1530.6 192 L1531.7 191.9 L1532.8 191.9 L1533.8 191.5 L1534.9 191.6 L1535.9 192 L1537 191.4 L1538 191.7 L1539.1 191.6 L1540.1 192.1 L1541.2 192 L1542.2 191.7 L1543.3 191.7 L1544.3 192.1 L1545.4 191.9 L1546.5 190.9 L1547.5 190.8 L1548.6 190.9 L1549.6 190.7 L1550.7 190.5 L1551.7 190.4 L1552.8 190.4 L1553.8 189.6 L1554.9 189.9 L1555.9 190.5 L1557 190.4 L1558 190.3 L1559.1 189.6 L1560.2 189.4 L1561.2 189.6 L1562.3 188.9 L1563.3 188.5 L1564.4 188.8 L1565.4 188.5 L1566.5 188 L1567.5 188.2 L1568.6 188 L1569.6 188.3 L1570.7 188.1 L1571.7 187.2 L1572.8 186.7 L1573.9 186.8 L1574.9 186.5 L1576 187 L1577 187.2 L1578.1 186.9 L1579.1 186.9 L1580.2 187.1 L1581.2 187.1 L1582.3 186.7 L1583.3 186.1 L1584.4 185.9 L1585.4 186.3 L1586.5 186.2 L1587.6 185.6 L1588.6 185.6 L1589.7 185.1 L1590.7 184.6 L1591.8 183.8 L1592.8 183.8 L1593.9 183.4 L1594.9 183.1 L1596 182.8 L1597 182.5 L1598.1 182.9 L1599.1 183.2 L1600.2 182.7 L1601.3 182.9 L1602.3 183 L1603.4 182.8 L1604.4 182.4 L1605.5 181.9 L1606.5 181.9 L1607.6 182.2 L1608.6 182.4 L1609.7 182.9 L1610.7 182.7 L1611.8 182.7 L1612.8 183.4 L1613.9 183.5 L1615 183.7 L1616 184.2 L1617.1 184.1 L1618.1 183.7 L1619.2 183.4 L1620.2 183.5 L1621.3 183.6 L1622.3 183.7 L1623.4 183.9 L1624.4 184 L1625.5 184.1 L1626.5 184.3 L1627.6 184.1 L1628.7 184 L1629.7 184.4 L1630.8 184.2 L1631.8 184.1 L1632.9 183.3 L1633.9 182.9 L1635 182.7 L1636 183.1 L1637.1 183.1 L1638.1 183 L1639.2 183.1 L1640.2 182.5 L1641.3 182.2 L1642.4 182.3 L1643.4 181.7 L1644.5 181.6 L1645.5 181 L1646.6 181.7 L1647.6 182.3 L1648.7 181.6 L1649.7 181.8 L1650.8 181.8 L1651.8 182 L1652.9 181.9 L1653.9 181.7 L1655 181.7 L1656.1 181.8 L1657.1 181.6 L1658.2 181.7 L1659.2 182.1 L1660.3 182.4 L1661.3 182.5 L1662.4 183 L1663.4 183 L1664.5 182.5 L1665.5 183.2 L1666.6 182.7 L1667.6 182.8 L1668.7 182.3 L1669.8 182.1 L1670.8 181.7 L1671.9 181.4 L1672.9 180.9 L1674 180.3 L1675 180.2 L1676.1 180.3 L1677.1 180.4 L1678.2 180.3 L1679.2 179.9 L1680.3 179.9 L1681.3 179.9 L1682.4 179.2 L1683.5 179.8 L1684.5 179.9 L1685.6 179.7 L1686.6 179.4 L1687.7 179.3 L1688.7 179.2 L1689.8 178.9 L1690.8 178.3 L1691.9 177.1 L1692.9 177 L1694 176.9 L1695 176.9 L1696.1 177.2 L1697.2 177.2 L1698.2 176.5 L1699.3 175.8 L1700.3 175.2 L1701.4 174.6 L1702.4 174.8 L1703.5 174.7 L1704.5 175.1 L1705.6 175.1 L1706.6 174.6 L1707.7 174.4 L1708.7 174 L1709.8 174.1 L1710.9 173.1 L1711.9 173 L1713 172.5 L1714 172.1 L1715.1 172.7 L1716.1 172.5 L1717.2 172.8 L1718.2 171.8 L1719.3 172 L1720.3 172.1 L1721.4 171.6 L1722.4 171.5 L1723.5 170.8 L1724.6 170.7 L1725.6 170.6 L1726.7 171 L1727.7 170.5 L1728.8 170.9 L1729.8 170.8 L1730.9 170.6 L1731.9 170.4 L1733 170.8 L1734 170.4 L1735.1 170.5 L1736.1 170.4 L1737.2 170 L1738.3 170 L1739.3 169.5 L1740.4 169.8 L1741.4 169.7 L1742.5 170 L1743.5 169.5 L1744.6 169.8 L1745.6 169.3 L1746.7 168.8 L1747.7 168.8 L1748.8 168.8 L1749.9 167.8 L1750.9 167.5 L1752 167.7 L1753 167.4 L1754.1 167.3 L1755.1 167.4 L1756.2 167 L1757.2 166.4 L1758.3 166 L1759.3 166.2 L1760.4 166.7 L1761.4 166.6 L1762.5 166.8 L1763.6 166.6 L1764.6 166.6" fill="none" stroke="#b5d6d0" stroke-width="0.9"/>
<path d="M1449.5 205.8 L1450.6 204.9 L1451.6 204.1 L1452.7 202.7 L1453.7 202.3 L1454.8 202.4 L1455.8 202.1 L1456.9 202.8 L1457.9 203.2 L1459 202.4 L1460 202.6 L1461.1 202.5 L1462.1 202.5 L1463.2 202.7 L1464.3 202.7 L1465.3 203 L1466.4 202.7 L1467.4 202.4 L1468.5 202.2 L1469.5 202.4 L1470.6 202.9 L1471.6 202.9 L1472.7 203.1 L1473.7 202.9 L1474.8 203.3 L1475.8 203.4 L1476.9 203.2 L1478 203 L1479 202.9 L1480.1 203.1 L1481.1 203.2 L1482.2 202.5 L1483.2 202.2 L1484.3 202.4 L1485.3 201.9 L1486.4 201.9 L1487.4 201.9 L1488.5 202.1 L1489.5 201.7 L1490.6 201.6 L1491.7 201.7 L1492.7 201.9 L1493.8 202.2 L1494.8 202.1 L1495.9 202.1 L1496.9 201.6 L1498 201.8 L1499 201.9 L1500.1 201.6 L1501.1 201.4 L1502.2 201.6 L1503.2 201.2 L1504.3 201.1 L1505.4 200.9 L1506.4 200.8 L1507.5 200.6 L1508.5 200.8 L1509.6 200.9 L1510.6 200.6 L1511.7 200.6 L1512.7 200.6 L1513.8 200.3 L1514.8 200.4 L1515.9 200.3 L1516.9 201 L1518 201.1 L1519.1 200.9 L1520.1 201.1 L1521.2 201.2 L1522.2 201.1 L1523.3 201.1 L1524.3 200.9 L1525.4 200.8 L1526.4 200.8 L1527.5 200.5 L1528.5 200.5 L1529.6 200.7 L1530.6 200.6 L1531.7 200.3 L1532.8 200.4 L1533.8 200.6 L1534.9 200.7 L1535.9 200.5 L1537 200.3 L1538 199.8 L1539.1 199.8 L1540.1 199.8 L1541.2 200.3 L1542.2 199.9 L1543.3 199.6 L1544.3 199.6 L1545.4 199.7 L1546.5 200.4 L1547.5 200 L1548.6 200.2 L1549.6 199.6 L1550.7 199.4 L1551.7 199 L1552.8 199 L1553.8 198.7 L1554.9 199 L1555.9 198.6 L1557 198.6 L1558 198.9 L1559.1 198.9 L1560.2 198.9 L1561.2 198.6 L1562.3 198.5 L1563.3 198.6 L1564.4 198.3 L1565.4 198.1 L1566.5 197.7 L1567.5 197.2 L1568.6 196.6 L1569.6 196.3 L1570.7 195.6 L1571.7 196 L1572.8 195.8 L1573.9 195.3 L1574.9 195.4 L1576 195.2 L1577 194.8 L1578.1 195 L1579.1 194.8 L1580.2 194.3 L1581.2 194.1 L1582.3 193.4 L1583.3 192.5 L1584.4 192.4 L1585.4 192.5 L1586.5 192.2 L1587.6 192.1 L1588.6 192.3 L1589.7 192.1 L1590.7 191.9 L1591.8 191.7 L1592.8 191.1 L1593.9 190.6 L1594.9 190.2 L1596 190.1 L1597 189.7 L1598.1 189.5 L1599.1 189.2 L1600.2 189.2 L1601.3 189.8 L1602.3 189.3 L1603.4 189.2 L1604.4 189.2 L1605.5 188.9 L1606.5 188.7 L1607.6 188.6 L1608.6 187.9 L1609.7 187.7 L1610.7 187.5 L1611.8 187.6 L1612.8 187.4 L1613.9 187.1 L1615 187 L1616 186.7 L1617.1 186.8 L1618.1 186.5 L1619.2 186.6 L1620.2 186.5 L1621.3 186.5 L1622.3 186.2 L1623.4 185.9 L1624.4 185.7 L1625.5 185.9 L1626.5 185.8 L1627.6 185.5 L1628.7 185.2 L1629.7 185.1 L1630.8 185.4 L1631.8 185.5 L1632.9 185.6 L1633.9 185.7 L1635 185.5 L1636 185.5 L1637.1 185.5 L1638.1 185.3 L1639.2 185.4 L1640.2 185.5 L1641.3 185.5 L1642.4 186 L1643.4 186.3 L1644.5 186.7 L1645.5 187 L1646.6 187 L1647.6 187 L1648.7 187 L1649.7 186.9 L1650.8 187.2 L1651.8 186.8 L1652.9 186.5 L1653.9 187 L1655 187.2 L1656.1 187.4 L1657.1 187.5 L1658.2 187.4 L1659.2 187.5 L1660.3 188.2 L1661.3 187.5 L1662.4 187.4 L1663.4 186.1 L1664.5 185.1 L1665.5 183.8 L1666.6 182.5 L1667.6 182.3 L1668.7 181.7 L1669.8 181.4 L1670.8 180.7 L1671.9 180.5 L1672.9 179.8 L1674 180 L1675 179.3 L1676.1 179 L1677.1 178.8 L1678.2 178.2 L1679.2 178.1 L1680.3 177.6 L1681.3 177.1 L1682.4 176.9 L1683.5 176.5 L1684.5 176.4 L1685.6 175.9 L1686.6 176 L1687.7 176.2 L1688.7 176.4 L1689.8 176.6 L1690.8 177.1 L1691.9 177.3 L1692.9 177.7 L1694 177.9 L1695 178.1 L1696.1 177.7 L1697.2 177.3 L1698.2 176.5 L1699.3 175.8 L1700.3 174.7 L1701.4 173.9 L1702.4 173.4 L1703.5 173.5 L1704.5 173.4 L1705.6 173.7 L1706.6 173.7 L1707.7 173.4 L1708.7 173.3 L1709.8 173.2 L1710.9 173.1 L1711.9 172.6 L1713 172.5 L1714 172 L1715.1 171.9 L1716.1 171.6 L1717.2 171.7 L1718.2 172 L1719.3 171.5 L1720.3 171.5 L1721.4 171.3 L1722.4 170.9 L1723.5 170.6 L1724.6 170.4 L1725.6 170.7 L1726.7 170.7 L1727.7 170.6 L1728.8 170.2 L1729.8 170 L1730.9 169.9 L1731.9 170 L1733 170 L1734 169.7 L1735.1 169.8 L1736.1 169.9 L1737.2 169.6 L1738.3 169.1 L1739.3 169 L1740.4 169 L1741.4 169.2 L1742.5 169.2 L1743.5 169.4 L1744.6 169.3 L1745.6 169 L1746.7 168.8 L1747.7 168.4 L1748.8 168.7 L1749.9 169 L1750.9 168.5 L1752 168.2 L1753 168.3 L1754.1 168.1 L1755.1 168.2 L1756.2 168 L1757.2 167.8 L1758.3 167.3 L1759.3 167.4 L1760.4 167.5 L1761.4 167.1 L1762.5 167 L1763.6 166.4 L1764.6 166.6 L1764.6 217 L1763.6 217.1 L1762.5 217.1 L1761.4 217.1 L1760.4 217 L1759.3 217.2 L1758.3 217.1 L1757.2 216.7 L1756.2 216.7 L1755.1 216.9 L1754.1 216.8 L1753 216.6 L1752 216.9 L1750.9 216.6 L1749.9 216.8 L1748.8 217 L1747.7 216.6 L1746.7 216.8 L1745.6 216.8 L1744.6 216.7 L1743.5 216.7 L1742.5 216.3 L1741.4 216.2 L1740.4 216.4 L1739.3 216 L1738.3 216.1 L1737.2 216.3 L1736.1 216.6 L1735.1 216.8 L1734 216.9 L1733 216.9 L1731.9 216.8 L1730.9 217 L1729.8 216.7 L1728.8 216.6 L1727.7 216.1 L1726.7 216.3 L1725.6 216.4 L1724.6 216.9 L1723.5 217.1 L1722.4 216.8 L1721.4 216.7 L1720.3 216.6 L1719.3 216.2 L1718.2 216.5 L1717.2 216.6 L1716.1 216.6 L1715.1 216.6 L1714 216.7 L1713 216.5 L1711.9 216.5 L1710.9 216.4 L1709.8 216.3 L1708.7 216.7 L1707.7 216.7 L1706.6 216.4 L1705.6 216.6 L1704.5 216.7 L1703.5 216.8 L1702.4 216.8 L1701.4 216.9 L1700.3 216.9 L1699.3 216.7 L1698.2 216.7 L1697.2 216.5 L1696.1 216.6 L1695 216.5 L1694 216.3 L1692.9 216.5 L1691.9 216.3 L1690.8 216.1 L1689.8 216.4 L1688.7 216.3 L1687.7 216.1 L1686.6 216.1 L1685.6 216.1 L1684.5 216 L1683.5 215.9 L1682.4 216.1 L1681.3 215.8 L1680.3 215.9 L1679.2 216.2 L1678.2 216.1 L1677.1 216.2 L1676.1 215.8 L1675 216.4 L1674 216.6 L1672.9 216.6 L1671.9 216.8 L1670.8 216.8 L1669.8 216.5 L1668.7 216.7 L1667.6 216.8 L1666.6 216.7 L1665.5 216.7 L1664.5 216.8 L1663.4 216.6 L1662.4 216.5 L1661.3 216.6 L1660.3 216.5 L1659.2 216.6 L1658.2 216.5 L1657.1 216.6 L1656.1 216.6 L1655 216.4 L1653.9 216.3 L1652.9 216.1 L1651.8 215.9 L1650.8 215.7 L1649.7 215.5 L1648.7 215.3 L1647.6 215.7 L1646.6 215.3 L1645.5 215.5 L1644.5 215.3 L1643.4 215.4 L1642.4 215.4 L1641.3 215.3 L1640.2 215.5 L1639.2 215.3 L1638.1 215.1 L1637.1 214.9 L1636 215.2 L1635 215.3 L1633.9 215.3 L1632.9 214.9 L1631.8 214.9 L1630.8 215 L1629.7 214.9 L1628.7 214.9 L1627.6 214.5 L1626.5 214.5 L1625.5 214.2 L1624.4 214.6 L1623.4 214.8 L1622.3 214.9 L1621.3 214.9 L1620.2 214.4 L1619.2 214.5 L1618.1 214.7 L1617.1 215 L1616 215 L1615 214.6 L1613.9 214.4 L1612.8 214.5 L1611.8 214.4 L1610.7 214.3 L1609.7 214.2 L1608.6 214.3 L1607.6 214.6 L1606.5 214.7 L1605.5 214.6 L1604.4 214.6 L1603.4 214.4 L1602.3 214.1 L1601.3 213.6 L1600.2 213.4 L1599.1 213.1 L1598.1 213.1 L1597 212.9 L1596 213 L1594.9 213.1 L1593.9 213.1 L1592.8 212.9 L1591.8 212.7 L1590.7 212.3 L1589.7 212.2 L1588.6 212.1 L1587.6 212 L1586.5 212.1 L1585.4 212.3 L1584.4 212 L1583.3 212.1 L1582.3 212 L1581.2 212.2 L1580.2 211.7 L1579.1 211.6 L1578.1 211.2 L1577 211 L1576 211 L1574.9 210.7 L1573.9 210.6 L1572.8 210.5 L1571.7 210 L1570.7 210 L1569.6 209.8 L1568.6 209.1 L1567.5 209 L1566.5 208.7 L1565.4 208.9 L1564.4 208.8 L1563.3 208.9 L1562.3 209.1 L1561.2 209.6 L1560.2 209.8 L1559.1 209.8 L1558 209.4 L1557 209.5 L1555.9 209.2 L1554.9 209.1 L1553.8 208.9 L1552.8 208.9 L1551.7 208.8 L1550.7 208.9 L1549.6 208.8 L1548.6 208.7 L1547.5 208.2 L1546.5 208.2 L1545.4 207.9 L1544.3 208.2 L1543.3 208.4 L1542.2 208.4 L1541.2 208.2 L1540.1 208.4 L1539.1 208 L1538 207.9 L1537 207.5 L1535.9 207.6 L1534.9 207.4 L1533.8 207.2 L1532.8 206.9 L1531.7 206.9 L1530.6 207 L1529.6 207 L1528.5 207 L1527.5 206.8 L1526.4 206.8 L1525.4 206.7 L1524.3 206.5 L1523.3 206.6 L1522.2 206.4 L1521.2 206.1 L1520.1 205.7 L1519.1 205.7 L1518 205.3 L1516.9 205.4 L1515.9 205.6 L1514.8 205.7 L1513.8 205.5 L1512.7 205.8 L1511.7 205.8 L1510.6 206.2 L1509.6 206 L1508.5 205.8 L1507.5 205.9 L1506.4 205.8 L1505.4 205.6 L1504.3 205.4 L1503.2 205.2 L1502.2 204.7 L1501.1 205 L1500.1 205.3 L1499 205.6 L1498 205.6 L1496.9 205.5 L1495.9 205.4 L1494.8 205.3 L1493.8 205 L1492.7 205.3 L1491.7 205.6 L1490.6 205.4 L1489.5 205.5 L1488.5 205.2 L1487.4 205.1 L1486.4 204.7 L1485.3 204.7 L1484.3 204.6 L1483.2 204.3 L1482.2 204.3 L1481.1 204.1 L1480.1 204.1 L1479 204.1 L1478 204 L1476.9 204.1 L1475.8 204.4 L1474.8 204.2 L1473.7 204.3 L1472.7 204.4 L1471.6 204.2 L1470.6 204.2 L1469.5 204.6 L1468.5 204.5 L1467.4 204.6 L1466.4 204.8 L1465.3 204.7 L1464.3 204.4 L1463.2 204.5 L1462.1 204.6 L1461.1 204.6 L1460 204.5 L1459 204.7 L1457.9 205.1 L1456.9 205 L1455.8 204.7 L1454.8 204.3 L1453.7 204.2 L1452.7 204.4 L1451.6 205.1 L1450.6 205.8 L1449.5 205.6 Z" fill="#a9a1d4" fill-opacity="0.55" stroke="none"/><path d="M1449.5 205.6 L1450.6 205.8 L1451.6 205.1 L1452.7 204.4 L1453.7 204.2 L1454.8 204.3 L1455.8 204.7 L1456.9 205 L1457.9 205.1 L1459 204.7 L1460 204.5 L1461.1 204.6 L1462.1 204.6 L1463.2 204.5 L1464.3 204.4 L1465.3 204.7 L1466.4 204.8 L1467.4 204.6 L1468.5 204.5 L1469.5 204.6 L1470.6 204.2 L1471.6 204.2 L1472.7 204.4 L1473.7 204.3 L1474.8 204.2 L1475.8 204.4 L1476.9 204.1 L1478 204 L1479 204.1 L1480.1 204.1 L1481.1 204.1 L1482.2 204.3 L1483.2 204.3 L1484.3 204.6 L1485.3 204.7 L1486.4 204.7 L1487.4 205.1 L1488.5 205.2 L1489.5 205.5 L1490.6 205.4 L1491.7 205.6 L1492.7 205.3 L1493.8 205 L1494.8 205.3 L1495.9 205.4 L1496.9 205.5 L1498 205.6 L1499 205.6 L1500.1 205.3 L1501.1 205 L1502.2 204.7 L1503.2 205.2 L1504.3 205.4 L1505.4 205.6 L1506.4 205.8 L1507.5 205.9 L1508.5 205.8 L1509.6 206 L1510.6 206.2 L1511.7 205.8 L1512.7 205.8 L1513.8 205.5 L1514.8 205.7 L1515.9 205.6 L1516.9 205.4 L1518 205.3 L1519.1 205.7 L1520.1 205.7 L1521.2 206.1 L1522.2 206.4 L1523.3 206.6 L1524.3 206.5 L1525.4 206.7 L1526.4 206.8 L1527.5 206.8 L1528.5 207 L1529.6 207 L1530.6 207 L1531.7 206.9 L1532.8 206.9 L1533.8 207.2 L1534.9 207.4 L1535.9 207.6 L1537 207.5 L1538 207.9 L1539.1 208 L1540.1 208.4 L1541.2 208.2 L1542.2 208.4 L1543.3 208.4 L1544.3 208.2 L1545.4 207.9 L1546.5 208.2 L1547.5 208.2 L1548.6 208.7 L1549.6 208.8 L1550.7 208.9 L1551.7 208.8 L1552.8 208.9 L1553.8 208.9 L1554.9 209.1 L1555.9 209.2 L1557 209.5 L1558 209.4 L1559.1 209.8 L1560.2 209.8 L1561.2 209.6 L1562.3 209.1 L1563.3 208.9 L1564.4 208.8 L1565.4 208.9 L1566.5 208.7 L1567.5 209 L1568.6 209.1 L1569.6 209.8 L1570.7 210 L1571.7 210 L1572.8 210.5 L1573.9 210.6 L1574.9 210.7 L1576 211 L1577 211 L1578.1 211.2 L1579.1 211.6 L1580.2 211.7 L1581.2 212.2 L1582.3 212 L1583.3 212.1 L1584.4 212 L1585.4 212.3 L1586.5 212.1 L1587.6 212 L1588.6 212.1 L1589.7 212.2 L1590.7 212.3 L1591.8 212.7 L1592.8 212.9 L1593.9 213.1 L1594.9 213.1 L1596 213 L1597 212.9 L1598.1 213.1 L1599.1 213.1 L1600.2 213.4 L1601.3 213.6 L1602.3 214.1 L1603.4 214.4 L1604.4 214.6 L1605.5 214.6 L1606.5 214.7 L1607.6 214.6 L1608.6 214.3 L1609.7 214.2 L1610.7 214.3 L1611.8 214.4 L1612.8 214.5 L1613.9 214.4 L1615 214.6 L1616 215 L1617.1 215 L1618.1 214.7 L1619.2 214.5 L1620.2 214.4 L1621.3 214.9 L1622.3 214.9 L1623.4 214.8 L1624.4 214.6 L1625.5 214.2 L1626.5 214.5 L1627.6 214.5 L1628.7 214.9 L1629.7 214.9 L1630.8 215 L1631.8 214.9 L1632.9 214.9 L1633.9 215.3 L1635 215.3 L1636 215.2 L1637.1 214.9 L1638.1 215.1 L1639.2 215.3 L1640.2 215.5 L1641.3 215.3 L1642.4 215.4 L1643.4 215.4 L1644.5 215.3 L1645.5 215.5 L1646.6 215.3 L1647.6 215.7 L1648.7 215.3 L1649.7 215.5 L1650.8 215.7 L1651.8 215.9 L1652.9 216.1 L1653.9 216.3 L1655 216.4 L1656.1 216.6 L1657.1 216.6 L1658.2 216.5 L1659.2 216.6 L1660.3 216.5 L1661.3 216.6 L1662.4 216.5 L1663.4 216.6 L1664.5 216.8 L1665.5 216.7 L1666.6 216.7 L1667.6 216.8 L1668.7 216.7 L1669.8 216.5 L1670.8 216.8 L1671.9 216.8 L1672.9 216.6 L1674 216.6 L1675 216.4 L1676.1 215.8 L1677.1 216.2 L1678.2 216.1 L1679.2 216.2 L1680.3 215.9 L1681.3 215.8 L1682.4 216.1 L1683.5 215.9 L1684.5 216 L1685.6 216.1 L1686.6 216.1 L1687.7 216.1 L1688.7 216.3 L1689.8 216.4 L1690.8 216.1 L1691.9 216.3 L1692.9 216.5 L1694 216.3 L1695 216.5 L1696.1 216.6 L1697.2 216.5 L1698.2 216.7 L1699.3 216.7 L1700.3 216.9 L1701.4 216.9 L1702.4 216.8 L1703.5 216.8 L1704.5 216.7 L1705.6 216.6 L1706.6 216.4 L1707.7 216.7 L1708.7 216.7 L1709.8 216.3 L1710.9 216.4 L1711.9 216.5 L1713 216.5 L1714 216.7 L1715.1 216.6 L1716.1 216.6 L1717.2 216.6 L1718.2 216.5 L1719.3 216.2 L1720.3 216.6 L1721.4 216.7 L1722.4 216.8 L1723.5 217.1 L1724.6 216.9 L1725.6 216.4 L1726.7 216.3 L1727.7 216.1 L1728.8 216.6 L1729.8 216.7 L1730.9 217 L1731.9 216.8 L1733 216.9 L1734 216.9 L1735.1 216.8 L1736.1 216.6 L1737.2 216.3 L1738.3 216.1 L1739.3 216 L1740.4 216.4 L1741.4 216.2 L1742.5 216.3 L1743.5 216.7 L1744.6 216.7 L1745.6 216.8 L1746.7 216.8 L1747.7 216.6 L1748.8 217 L1749.9 216.8 L1750.9 216.6 L1752 216.9 L1753 216.6 L1754.1 216.8 L1755.1 216.9 L1756.2 216.7 L1757.2 216.7 L1758.3 217.1 L1759.3 217.2 L1760.4 217 L1761.4 217.1 L1762.5 217.1 L1763.6 217.1 L1764.6 217" fill="none" stroke="#a898d0" stroke-width="0.9"/><path d="M1449.5 205.8 L1450.6 204.9 L1451.6 204.1 L1452.7 202.7 L1453.7 202.3 L1454.8 202.4 L1455.8 202.1 L1456.9 202.8 L1457.9 203.2 L1459 202.4 L1460 202.6 L1461.1 202.5 L1462.1 202.5 L1463.2 202.7 L1464.3 202.7 L1465.3 203 L1466.4 202.7 L1467.4 202.4 L1468.5 202.2 L1469.5 202.4 L1470.6 202.9 L1471.6 202.9 L1472.7 203.1 L1473.7 202.9 L1474.8 203.3 L1475.8 203.4 L1476.9 203.2 L1478 203 L1479 202.9 L1480.1 203.1 L1481.1 203.2 L1482.2 202.5 L1483.2 202.2 L1484.3 202.4 L1485.3 201.9 L1486.4 201.9 L1487.4 201.9 L1488.5 202.1 L1489.5 201.7 L1490.6 201.6 L1491.7 201.7 L1492.7 201.9 L1493.8 202.2 L1494.8 202.1 L1495.9 202.1 L1496.9 201.6 L1498 201.8 L1499 201.9 L1500.1 201.6 L1501.1 201.4 L1502.2 201.6 L1503.2 201.2 L1504.3 201.1 L1505.4 200.9 L1506.4 200.8 L1507.5 200.6 L1508.5 200.8 L1509.6 200.9 L1510.6 200.6 L1511.7 200.6 L1512.7 200.6 L1513.8 200.3 L1514.8 200.4 L1515.9 200.3 L1516.9 201 L1518 201.1 L1519.1 200.9 L1520.1 201.1 L1521.2 201.2 L1522.2 201.1 L1523.3 201.1 L1524.3 200.9 L1525.4 200.8 L1526.4 200.8 L1527.5 200.5 L1528.5 200.5 L1529.6 200.7 L1530.6 200.6 L1531.7 200.3 L1532.8 200.4 L1533.8 200.6 L1534.9 200.7 L1535.9 200.5 L1537 200.3 L1538 199.8 L1539.1 199.8 L1540.1 199.8 L1541.2 200.3 L1542.2 199.9 L1543.3 199.6 L1544.3 199.6 L1545.4 199.7 L1546.5 200.4 L1547.5 200 L1548.6 200.2 L1549.6 199.6 L1550.7 199.4 L1551.7 199 L1552.8 199 L1553.8 198.7 L1554.9 199 L1555.9 198.6 L1557 198.6 L1558 198.9 L1559.1 198.9 L1560.2 198.9 L1561.2 198.6 L1562.3 198.5 L1563.3 198.6 L1564.4 198.3 L1565.4 198.1 L1566.5 197.7 L1567.5 197.2 L1568.6 196.6 L1569.6 196.3 L1570.7 195.6 L1571.7 196 L1572.8 195.8 L1573.9 195.3 L1574.9 195.4 L1576 195.2 L1577 194.8 L1578.1 195 L1579.1 194.8 L1580.2 194.3 L1581.2 194.1 L1582.3 193.4 L1583.3 192.5 L1584.4 192.4 L1585.4 192.5 L1586.5 192.2 L1587.6 192.1 L1588.6 192.3 L1589.7 192.1 L1590.7 191.9 L1591.8 191.7 L1592.8 191.1 L1593.9 190.6 L1594.9 190.2 L1596 190.1 L1597 189.7 L1598.1 189.5 L1599.1 189.2 L1600.2 189.2 L1601.3 189.8 L1602.3 189.3 L1603.4 189.2 L1604.4 189.2 L1605.5 188.9 L1606.5 188.7 L1607.6 188.6 L1608.6 187.9 L1609.7 187.7 L1610.7 187.5 L1611.8 187.6 L1612.8 187.4 L1613.9 187.1 L1615 187 L1616 186.7 L1617.1 186.8 L1618.1 186.5 L1619.2 186.6 L1620.2 186.5 L1621.3 186.5 L1622.3 186.2 L1623.4 185.9 L1624.4 185.7 L1625.5 185.9 L1626.5 185.8 L1627.6 185.5 L1628.7 185.2 L1629.7 185.1 L1630.8 185.4 L1631.8 185.5 L1632.9 185.6 L1633.9 185.7 L1635 185.5 L1636 185.5 L1637.1 185.5 L1638.1 185.3 L1639.2 185.4 L1640.2 185.5 L1641.3 185.5 L1642.4 186 L1643.4 186.3 L1644.5 186.7 L1645.5 187 L1646.6 187 L1647.6 187 L1648.7 187 L1649.7 186.9 L1650.8 187.2 L1651.8 186.8 L1652.9 186.5 L1653.9 187 L1655 187.2 L1656.1 187.4 L1657.1 187.5 L1658.2 187.4 L1659.2 187.5 L1660.3 188.2 L1661.3 187.5 L1662.4 187.4 L1663.4 186.1 L1664.5 185.1 L1665.5 183.8 L1666.6 182.5 L1667.6 182.3 L1668.7 181.7 L1669.8 181.4 L1670.8 180.7 L1671.9 180.5 L1672.9 179.8 L1674 180 L1675 179.3 L1676.1 179 L1677.1 178.8 L1678.2 178.2 L1679.2 178.1 L1680.3 177.6 L1681.3 177.1 L1682.4 176.9 L1683.5 176.5 L1684.5 176.4 L1685.6 175.9 L1686.6 176 L1687.7 176.2 L1688.7 176.4 L1689.8 176.6 L1690.8 177.1 L1691.9 177.3 L1692.9 177.7 L1694 177.9 L1695 178.1 L1696.1 177.7 L1697.2 177.3 L1698.2 176.5 L1699.3 175.8 L1700.3 174.7 L1701.4 173.9 L1702.4 173.4 L1703.5 173.5 L1704.5 173.4 L1705.6 173.7 L1706.6 173.7 L1707.7 173.4 L1708.7 173.3 L1709.8 173.2 L1710.9 173.1 L1711.9 172.6 L1713 172.5 L1714 172 L1715.1 171.9 L1716.1 171.6 L1717.2 171.7 L1718.2 172 L1719.3 171.5 L1720.3 171.5 L1721.4 171.3 L1722.4 170.9 L1723.5 170.6 L1724.6 170.4 L1725.6 170.7 L1726.7 170.7 L1727.7 170.6 L1728.8 170.2 L1729.8 170 L1730.9 169.9 L1731.9 170 L1733 170 L1734 169.7 L1735.1 169.8 L1736.1 169.9 L1737.2 169.6 L1738.3 169.1 L1739.3 169 L1740.4 169 L1741.4 169.2 L1742.5 169.2 L1743.5 169.4 L1744.6 169.3 L1745.6 169 L1746.7 168.8 L1747.7 168.4 L1748.8 168.7 L1749.9 169 L1750.9 168.5 L1752 168.2 L1753 168.3 L1754.1 168.1 L1755.1 168.2 L1756.2 168 L1757.2 167.8 L1758.3 167.3 L1759.3 167.4 L1760.4 167.5 L1761.4 167.1 L1762.5 167 L1763.6 166.4 L1764.6 166.6" fill="none" stroke="#a898d0" stroke-width="0.9"/>
<path d="M1449.5 210.5 L1450.6 197.2 L1451.6 189.3 L1452.7 183.4 L1453.7 180.5 L1454.8 177.3 L1455.8 173.5 L1456.9 171.6 L1457.9 169.3 L1459 168.6 L1460 166.7 L1461.1 163.9 L1462.1 161.1 L1463.2 160.8 L1464.3 159.4 L1465.3 158.6 L1466.4 157.1 L1467.4 154.1 L1468.5 152.2 L1469.5 150 L1470.6 150 L1471.6 149.5 L1472.7 148.6 L1473.7 147.1 L1474.8 145.1 L1475.8 144.9 L1476.9 143.7 L1478 142.6 L1479 142.1 L1480.1 140.5 L1481.1 139.6 L1482.2 138.2 L1483.2 136.1 L1484.3 135.3 L1485.3 133.8 L1486.4 133 L1487.4 131.8 L1488.5 130 L1489.5 129.5 L1490.6 129.5 L1491.7 129.3 L1492.7 127.3 L1493.8 127.3 L1494.8 126.3 L1495.9 125.9 L1496.9 125.6 L1498 124.9 L1499 124.2 L1500.1 123.4 L1501.1 122.1 L1502.2 122.5 L1503.2 122.7 L1504.3 122.4 L1505.4 122 L1506.4 120.8 L1507.5 120.4 L1508.5 119.6 L1509.6 119.3 L1510.6 118.8 L1511.7 117.5 L1512.7 116.7 L1513.8 116 L1514.8 116.2 L1515.9 116 L1516.9 114.8 L1518 114.7 L1519.1 114.7 L1520.1 113.4 L1521.2 113 L1522.2 112.3 L1523.3 111.2 L1524.3 109.1 L1525.4 108.7 L1526.4 109.2 L1527.5 108.6 L1528.5 108.4 L1529.6 107.7 L1530.6 107.5 L1531.7 107.3 L1532.8 107.1 L1533.8 108.4 L1534.9 106.7 L1535.9 106.6 L1537 107.3 L1538 106.1 L1539.1 106 L1540.1 105.3 L1541.2 105.3 L1542.2 103.6 L1543.3 103.6 L1544.3 102.7 L1545.4 102.3 L1546.5 101.9 L1547.5 102.2 L1548.6 103.3 L1549.6 102.7 L1550.7 104 L1551.7 103.3 L1552.8 102.5 L1553.8 103.6 L1554.9 103.8 L1555.9 103.9 L1557 103.7 L1558 103.1 L1559.1 101.5 L1560.2 101.1 L1561.2 100.4 L1562.3 99.8 L1563.3 99 L1564.4 98 L1565.4 96.9 L1566.5 95.8 L1567.5 96.2 L1568.6 96.4 L1569.6 95.7 L1570.7 95.5 L1571.7 94.9 L1572.8 94.7 L1573.9 94.4 L1574.9 92.6 L1576 93.1 L1577 92 L1578.1 91 L1579.1 90.3 L1580.2 90.6 L1581.2 90.5 L1582.3 90.5 L1583.3 90.7 L1584.4 90.9 L1585.4 90.6 L1586.5 91 L1587.6 89.5 L1588.6 89.4 L1589.7 89.2 L1590.7 89.4 L1591.8 87.9 L1592.8 88 L1593.9 86.7 L1594.9 85.3 L1596 84.8 L1597 85.3 L1598.1 85.7 L1599.1 86.2 L1600.2 85.4 L1601.3 84.8 L1602.3 83.5 L1603.4 83.1 L1604.4 83 L1605.5 82 L1606.5 82.9 L1607.6 81.6 L1608.6 82 L1609.7 82.5 L1610.7 82.1 L1611.8 81.8 L1612.8 82.4 L1613.9 82.1 L1615 81.1 L1616 80.4 L1617.1 80 L1618.1 79.9 L1619.2 79.1 L1620.2 78.4 L1621.3 78.2 L1622.3 78.1 L1623.4 79.1 L1624.4 78.2 L1625.5 76.9 L1626.5 76.2 L1627.6 76 L1628.7 74.9 L1629.7 74 L1630.8 72.9 L1631.8 73.8 L1632.9 75.1 L1633.9 74.1 L1635 73.1 L1636 72.8 L1637.1 73.4 L1638.1 72.5 L1639.2 71.6 L1640.2 70.9 L1641.3 69.6 L1642.4 69.2 L1643.4 69.2 L1644.5 67.7 L1645.5 67.6 L1646.6 69.2 L1647.6 70.4 L1648.7 69.9 L1649.7 70.1 L1650.8 69 L1651.8 67.7 L1652.9 67.2 L1653.9 67.8 L1655 66.9 L1656.1 66.4 L1657.1 66.7 L1658.2 65.8 L1659.2 65.4 L1660.3 65.2 L1661.3 64.8 L1662.4 64.7 L1663.4 65.8 L1664.5 66.2 L1665.5 65.9 L1666.6 65.5 L1667.6 65.9 L1668.7 65.5 L1669.8 65.1 L1670.8 64.1 L1671.9 63 L1672.9 62.1 L1674 60.9 L1675 60.3 L1676.1 59.9 L1677.1 60.6 L1678.2 60.8 L1679.2 60.2 L1680.3 59.4 L1681.3 59.7 L1682.4 59.4 L1683.5 59.4 L1684.5 60.2 L1685.6 61.3 L1686.6 59.6 L1687.7 60 L1688.7 60.6 L1689.8 61.1 L1690.8 60.7 L1691.9 60.7 L1692.9 60.2 L1694 59.8 L1695 59 L1696.1 59.4 L1697.2 58.5 L1698.2 57.1 L1699.3 56.4 L1700.3 55.9 L1701.4 55.5 L1702.4 55.4 L1703.5 55.2 L1704.5 54.9 L1705.6 54.2 L1706.6 53.2 L1707.7 51.3 L1708.7 52.1 L1709.8 51.2 L1710.9 50.9 L1711.9 50.6 L1713 51.3 L1714 49.7 L1715.1 48.6 L1716.1 48.6 L1717.2 48.3 L1718.2 48.8 L1719.3 48.1 L1720.3 48.1 L1721.4 47.3 L1722.4 48.4 L1723.5 47.4 L1724.6 47.1 L1725.6 47.6 L1726.7 47.6 L1727.7 47.9 L1728.8 48.1 L1729.8 47.4 L1730.9 46.3 L1731.9 46.3 L1733 46.6 L1734 46.5 L1735.1 46.2 L1736.1 45.9 L1737.2 45.7 L1738.3 45.8 L1739.3 46.3 L1740.4 46.1 L1741.4 46.7 L1742.5 46.4 L1743.5 45.3 L1744.6 44 L1745.6 43.7 L1746.7 43.8 L1747.7 43.5 L1748.8 44.6 L1749.9 44.8 L1750.9 45.2 L1752 45.7 L1753 44.6 L1754.1 45.4 L1755.1 45.9 L1756.2 45.6 L1757.2 45.5 L1758.3 45.9 L1759.3 45.8 L1760.4 45.3 L1761.4 45.2 L1762.5 45.6 L1763.6 46.2 L1764.6 45.9 L1764.6 80.4 L1763.6 81.1 L1762.5 81.2 L1761.4 80.5 L1760.4 80.6 L1759.3 81.4 L1758.3 81.4 L1757.2 81.1 L1756.2 80.9 L1755.1 80.9 L1754.1 81.1 L1753 80.5 L1752 81.5 L1750.9 81 L1749.9 80.8 L1748.8 81.2 L1747.7 80.1 L1746.7 80.3 L1745.6 79.8 L1744.6 79.9 L1743.5 80.2 L1742.5 81.4 L1741.4 82 L1740.4 81.2 L1739.3 80.6 L1738.3 80.2 L1737.2 80.1 L1736.1 80 L1735.1 80.3 L1734 80.7 L1733 80.7 L1731.9 80.8 L1730.9 80.5 L1729.8 81.5 L1728.8 82.2 L1727.7 82.1 L1726.7 81.9 L1725.6 81.9 L1724.6 82.3 L1723.5 83.4 L1722.4 84.9 L1721.4 84.5 L1720.3 85.2 L1719.3 84.5 L1718.2 84.4 L1717.2 84.3 L1716.1 84.4 L1715.1 84.7 L1714 86.1 L1713 86.9 L1711.9 86.9 L1710.9 86.4 L1709.8 86.2 L1708.7 87.5 L1707.7 87.4 L1706.6 89.3 L1705.6 90.2 L1704.5 90.9 L1703.5 91.5 L1702.4 91 L1701.4 91 L1700.3 91.5 L1699.3 91.8 L1698.2 91.4 L1697.2 93.6 L1696.1 94.4 L1695 94.3 L1694 95.7 L1692.9 96.4 L1691.9 96.3 L1690.8 96.9 L1689.8 96.8 L1688.7 96.8 L1687.7 96.9 L1686.6 96.3 L1685.6 97.8 L1684.5 97 L1683.5 96.1 L1682.4 96 L1681.3 95.8 L1680.3 96 L1679.2 96.7 L1678.2 97.3 L1677.1 97.4 L1676.1 97.1 L1675 97.5 L1674 97 L1672.9 97.9 L1671.9 98.1 L1670.8 98.7 L1669.8 99.7 L1668.7 100.9 L1667.6 101.2 L1666.6 100.6 L1665.5 102 L1664.5 101.7 L1663.4 100.9 L1662.4 99.2 L1661.3 98.5 L1660.3 98.8 L1659.2 98.8 L1658.2 99.3 L1657.1 99.4 L1656.1 99.8 L1655 100.4 L1653.9 100.8 L1652.9 100.8 L1651.8 101.5 L1650.8 102.3 L1649.7 104 L1648.7 104 L1647.6 104.5 L1646.6 103.8 L1645.5 102.4 L1644.5 102.5 L1643.4 103.4 L1642.4 103.2 L1641.3 102.9 L1640.2 104.3 L1639.2 105.3 L1638.1 105.7 L1637.1 106.3 L1636 106.1 L1635 106.6 L1633.9 107.1 L1632.9 107.9 L1631.8 106.9 L1630.8 106.6 L1629.7 107.6 L1628.7 108.4 L1627.6 109 L1626.5 109.2 L1625.5 109.4 L1624.4 110.1 L1623.4 110.8 L1622.3 110.5 L1621.3 110.4 L1620.2 110.7 L1619.2 112.3 L1618.1 113.2 L1617.1 113.2 L1616 114.6 L1615 114.7 L1613.9 115 L1612.8 115.5 L1611.8 115.3 L1610.7 114.9 L1609.7 115 L1608.6 114 L1607.6 113.5 L1606.5 114.2 L1605.5 113 L1604.4 112.9 L1603.4 113.2 L1602.3 113.7 L1601.3 114.6 L1600.2 115.6 L1599.1 116.2 L1598.1 115.7 L1597 115.1 L1596 114.6 L1594.9 115 L1593.9 116.7 L1592.8 118.4 L1591.8 118.2 L1590.7 119.4 L1589.7 120.2 L1588.6 120.1 L1587.6 120 L1586.5 120.6 L1585.4 120.1 L1584.4 120.3 L1583.3 120 L1582.3 120 L1581.2 120.3 L1580.2 120.3 L1579.1 119.3 L1578.1 119.3 L1577 120.3 L1576 120 L1574.9 120 L1573.9 121.5 L1572.8 121.7 L1571.7 121.3 L1570.7 121.8 L1569.6 122.4 L1568.6 123.1 L1567.5 122.5 L1566.5 122.6 L1565.4 123.3 L1564.4 123 L1563.3 123.4 L1562.3 123.3 L1561.2 124.2 L1560.2 125.9 L1559.1 126 L1558 127.8 L1557 129.1 L1555.9 129.2 L1554.9 130 L1553.8 129.7 L1552.8 128.9 L1551.7 129.1 L1550.7 129.2 L1549.6 128.6 L1548.6 127.7 L1547.5 126.8 L1546.5 127 L1545.4 127.3 L1544.3 127.8 L1543.3 128.8 L1542.2 129.7 L1541.2 131.5 L1540.1 131.1 L1539.1 131.5 L1538 131.7 L1537 132.2 L1535.9 131.8 L1534.9 131.6 L1533.8 132.6 L1532.8 131.8 L1531.7 132.2 L1530.6 132.3 L1529.6 132.7 L1528.5 133.3 L1527.5 134 L1526.4 135.1 L1525.4 134.8 L1524.3 135.6 L1523.3 136.5 L1522.2 136.7 L1521.2 137.5 L1520.1 137.1 L1519.1 138.2 L1518 138.5 L1516.9 138.2 L1515.9 139.9 L1514.8 140.2 L1513.8 140.3 L1512.7 140.9 L1511.7 141.7 L1510.6 142.2 L1509.6 142.3 L1508.5 142.3 L1507.5 142.9 L1506.4 143.7 L1505.4 144.3 L1504.3 145.1 L1503.2 145.7 L1502.2 146 L1501.1 144.8 L1500.1 145.7 L1499 146.1 L1498 145.9 L1496.9 145.8 L1495.9 146.6 L1494.8 146.2 L1493.8 146.7 L1492.7 146.1 L1491.7 147.3 L1490.6 147.8 L1489.5 147.4 L1488.5 148.2 L1487.4 150 L1486.4 151.4 L1485.3 151.6 L1484.3 152.6 L1483.2 153.7 L1482.2 155.5 L1481.1 156.7 L1480.1 157.1 L1479 158.5 L1478 158.4 L1476.9 159.4 L1475.8 159.3 L1474.8 160 L1473.7 160.7 L1472.7 161.8 L1471.6 162.4 L1470.6 163.7 L1469.5 163.7 L1468.5 165.7 L1467.4 166.9 L1466.4 168 L1465.3 169.6 L1464.3 169.7 L1463.2 171.1 L1462.1 170 L1461.1 172.5 L1460 174.4 L1459 176.8 L1457.9 177.5 L1456.9 179.2 L1455.8 179.7 L1454.8 182.6 L1453.7 185.4 L1452.7 188.1 L1451.6 192.8 L1450.6 199.4 L1449.5 210.7 Z" fill="#f4f1cf" fill-opacity="1" stroke="none"/><path d="M1449.5 210.7 L1450.6 199.4 L1451.6 192.8 L1452.7 188.1 L1453.7 185.4 L1454.8 182.6 L1455.8 179.7 L1456.9 179.2 L1457.9 177.5 L1459 176.8 L1460 174.4 L1461.1 172.5 L1462.1 170 L1463.2 171.1 L1464.3 169.7 L1465.3 169.6 L1466.4 168 L1467.4 166.9 L1468.5 165.7 L1469.5 163.7 L1470.6 163.7 L1471.6 162.4 L1472.7 161.8 L1473.7 160.7 L1474.8 160 L1475.8 159.3 L1476.9 159.4 L1478 158.4 L1479 158.5 L1480.1 157.1 L1481.1 156.7 L1482.2 155.5 L1483.2 153.7 L1484.3 152.6 L1485.3 151.6 L1486.4 151.4 L1487.4 150 L1488.5 148.2 L1489.5 147.4 L1490.6 147.8 L1491.7 147.3 L1492.7 146.1 L1493.8 146.7 L1494.8 146.2 L1495.9 146.6 L1496.9 145.8 L1498 145.9 L1499 146.1 L1500.1 145.7 L1501.1 144.8 L1502.2 146 L1503.2 145.7 L1504.3 145.1 L1505.4 144.3 L1506.4 143.7 L1507.5 142.9 L1508.5 142.3 L1509.6 142.3 L1510.6 142.2 L1511.7 141.7 L1512.7 140.9 L1513.8 140.3 L1514.8 140.2 L1515.9 139.9 L1516.9 138.2 L1518 138.5 L1519.1 138.2 L1520.1 137.1 L1521.2 137.5 L1522.2 136.7 L1523.3 136.5 L1524.3 135.6 L1525.4 134.8 L1526.4 135.1 L1527.5 134 L1528.5 133.3 L1529.6 132.7 L1530.6 132.3 L1531.7 132.2 L1532.8 131.8 L1533.8 132.6 L1534.9 131.6 L1535.9 131.8 L1537 132.2 L1538 131.7 L1539.1 131.5 L1540.1 131.1 L1541.2 131.5 L1542.2 129.7 L1543.3 128.8 L1544.3 127.8 L1545.4 127.3 L1546.5 127 L1547.5 126.8 L1548.6 127.7 L1549.6 128.6 L1550.7 129.2 L1551.7 129.1 L1552.8 128.9 L1553.8 129.7 L1554.9 130 L1555.9 129.2 L1557 129.1 L1558 127.8 L1559.1 126 L1560.2 125.9 L1561.2 124.2 L1562.3 123.3 L1563.3 123.4 L1564.4 123 L1565.4 123.3 L1566.5 122.6 L1567.5 122.5 L1568.6 123.1 L1569.6 122.4 L1570.7 121.8 L1571.7 121.3 L1572.8 121.7 L1573.9 121.5 L1574.9 120 L1576 120 L1577 120.3 L1578.1 119.3 L1579.1 119.3 L1580.2 120.3 L1581.2 120.3 L1582.3 120 L1583.3 120 L1584.4 120.3 L1585.4 120.1 L1586.5 120.6 L1587.6 120 L1588.6 120.1 L1589.7 120.2 L1590.7 119.4 L1591.8 118.2 L1592.8 118.4 L1593.9 116.7 L1594.9 115 L1596 114.6 L1597 115.1 L1598.1 115.7 L1599.1 116.2 L1600.2 115.6 L1601.3 114.6 L1602.3 113.7 L1603.4 113.2 L1604.4 112.9 L1605.5 113 L1606.5 114.2 L1607.6 113.5 L1608.6 114 L1609.7 115 L1610.7 114.9 L1611.8 115.3 L1612.8 115.5 L1613.9 115 L1615 114.7 L1616 114.6 L1617.1 113.2 L1618.1 113.2 L1619.2 112.3 L1620.2 110.7 L1621.3 110.4 L1622.3 110.5 L1623.4 110.8 L1624.4 110.1 L1625.5 109.4 L1626.5 109.2 L1627.6 109 L1628.7 108.4 L1629.7 107.6 L1630.8 106.6 L1631.8 106.9 L1632.9 107.9 L1633.9 107.1 L1635 106.6 L1636 106.1 L1637.1 106.3 L1638.1 105.7 L1639.2 105.3 L1640.2 104.3 L1641.3 102.9 L1642.4 103.2 L1643.4 103.4 L1644.5 102.5 L1645.5 102.4 L1646.6 103.8 L1647.6 104.5 L1648.7 104 L1649.7 104 L1650.8 102.3 L1651.8 101.5 L1652.9 100.8 L1653.9 100.8 L1655 100.4 L1656.1 99.8 L1657.1 99.4 L1658.2 99.3 L1659.2 98.8 L1660.3 98.8 L1661.3 98.5 L1662.4 99.2 L1663.4 100.9 L1664.5 101.7 L1665.5 102 L1666.6 100.6 L1667.6 101.2 L1668.7 100.9 L1669.8 99.7 L1670.8 98.7 L1671.9 98.1 L1672.9 97.9 L1674 97 L1675 97.5 L1676.1 97.1 L1677.1 97.4 L1678.2 97.3 L1679.2 96.7 L1680.3 96 L1681.3 95.8 L1682.4 96 L1683.5 96.1 L1684.5 97 L1685.6 97.8 L1686.6 96.3 L1687.7 96.9 L1688.7 96.8 L1689.8 96.8 L1690.8 96.9 L1691.9 96.3 L1692.9 96.4 L1694 95.7 L1695 94.3 L1696.1 94.4 L1697.2 93.6 L1698.2 91.4 L1699.3 91.8 L1700.3 91.5 L1701.4 91 L1702.4 91 L1703.5 91.5 L1704.5 90.9 L1705.6 90.2 L1706.6 89.3 L1707.7 87.4 L1708.7 87.5 L1709.8 86.2 L1710.9 86.4 L1711.9 86.9 L1713 86.9 L1714 86.1 L1715.1 84.7 L1716.1 84.4 L1717.2 84.3 L1718.2 84.4 L1719.3 84.5 L1720.3 85.2 L1721.4 84.5 L1722.4 84.9 L1723.5 83.4 L1724.6 82.3 L1725.6 81.9 L1726.7 81.9 L1727.7 82.1 L1728.8 82.2 L1729.8 81.5 L1730.9 80.5 L1731.9 80.8 L1733 80.7 L1734 80.7 L1735.1 80.3 L1736.1 80 L1737.2 80.1 L1738.3 80.2 L1739.3 80.6 L1740.4 81.2 L1741.4 82 L1742.5 81.4 L1743.5 80.2 L1744.6 79.9 L1745.6 79.8 L1746.7 80.3 L1747.7 80.1 L1748.8 81.2 L1749.9 80.8 L1750.9 81 L1752 81.5 L1753 80.5 L1754.1 81.1 L1755.1 80.9 L1756.2 80.9 L1757.2 81.1 L1758.3 81.4 L1759.3 81.4 L1760.4 80.6 L1761.4 80.5 L1762.5 81.2 L1763.6 81.1 L1764.6 80.4" fill="none" stroke="#e7e39c" stroke-width="0.9"/><path d="M1449.5 210.5 L1450.6 197.2 L1451.6 189.3 L1452.7 183.4 L1453.7 180.5 L1454.8 177.3 L1455.8 173.5 L1456.9 171.6 L1457.9 169.3 L1459 168.6 L1460 166.7 L1461.1 163.9 L1462.1 161.1 L1463.2 160.8 L1464.3 159.4 L1465.3 158.6 L1466.4 157.1 L1467.4 154.1 L1468.5 152.2 L1469.5 150 L1470.6 150 L1471.6 149.5 L1472.7 148.6 L1473.7 147.1 L1474.8 145.1 L1475.8 144.9 L1476.9 143.7 L1478 142.6 L1479 142.1 L1480.1 140.5 L1481.1 139.6 L1482.2 138.2 L1483.2 136.1 L1484.3 135.3 L1485.3 133.8 L1486.4 133 L1487.4 131.8 L1488.5 130 L1489.5 129.5 L1490.6 129.5 L1491.7 129.3 L1492.7 127.3 L1493.8 127.3 L1494.8 126.3 L1495.9 125.9 L1496.9 125.6 L1498 124.9 L1499 124.2 L1500.1 123.4 L1501.1 122.1 L1502.2 122.5 L1503.2 122.7 L1504.3 122.4 L1505.4 122 L1506.4 120.8 L1507.5 120.4 L1508.5 119.6 L1509.6 119.3 L1510.6 118.8 L1511.7 117.5 L1512.7 116.7 L1513.8 116 L1514.8 116.2 L1515.9 116 L1516.9 114.8 L1518 114.7 L1519.1 114.7 L1520.1 113.4 L1521.2 113 L1522.2 112.3 L1523.3 111.2 L1524.3 109.1 L1525.4 108.7 L1526.4 109.2 L1527.5 108.6 L1528.5 108.4 L1529.6 107.7 L1530.6 107.5 L1531.7 107.3 L1532.8 107.1 L1533.8 108.4 L1534.9 106.7 L1535.9 106.6 L1537 107.3 L1538 106.1 L1539.1 106 L1540.1 105.3 L1541.2 105.3 L1542.2 103.6 L1543.3 103.6 L1544.3 102.7 L1545.4 102.3 L1546.5 101.9 L1547.5 102.2 L1548.6 103.3 L1549.6 102.7 L1550.7 104 L1551.7 103.3 L1552.8 102.5 L1553.8 103.6 L1554.9 103.8 L1555.9 103.9 L1557 103.7 L1558 103.1 L1559.1 101.5 L1560.2 101.1 L1561.2 100.4 L1562.3 99.8 L1563.3 99 L1564.4 98 L1565.4 96.9 L1566.5 95.8 L1567.5 96.2 L1568.6 96.4 L1569.6 95.7 L1570.7 95.5 L1571.7 94.9 L1572.8 94.7 L1573.9 94.4 L1574.9 92.6 L1576 93.1 L1577 92 L1578.1 91 L1579.1 90.3 L1580.2 90.6 L1581.2 90.5 L1582.3 90.5 L1583.3 90.7 L1584.4 90.9 L1585.4 90.6 L1586.5 91 L1587.6 89.5 L1588.6 89.4 L1589.7 89.2 L1590.7 89.4 L1591.8 87.9 L1592.8 88 L1593.9 86.7 L1594.9 85.3 L1596 84.8 L1597 85.3 L1598.1 85.7 L1599.1 86.2 L1600.2 85.4 L1601.3 84.8 L1602.3 83.5 L1603.4 83.1 L1604.4 83 L1605.5 82 L1606.5 82.9 L1607.6 81.6 L1608.6 82 L1609.7 82.5 L1610.7 82.1 L1611.8 81.8 L1612.8 82.4 L1613.9 82.1 L1615 81.1 L1616 80.4 L1617.1 80 L1618.1 79.9 L1619.2 79.1 L1620.2 78.4 L1621.3 78.2 L1622.3 78.1 L1623.4 79.1 L1624.4 78.2 L1625.5 76.9 L1626.5 76.2 L1627.6 76 L1628.7 74.9 L1629.7 74 L1630.8 72.9 L1631.8 73.8 L1632.9 75.1 L1633.9 74.1 L1635 73.1 L1636 72.8 L1637.1 73.4 L1638.1 72.5 L1639.2 71.6 L1640.2 70.9 L1641.3 69.6 L1642.4 69.2 L1643.4 69.2 L1644.5 67.7 L1645.5 67.6 L1646.6 69.2 L1647.6 70.4 L1648.7 69.9 L1649.7 70.1 L1650.8 69 L1651.8 67.7 L1652.9 67.2 L1653.9 67.8 L1655 66.9 L1656.1 66.4 L1657.1 66.7 L1658.2 65.8 L1659.2 65.4 L1660.3 65.2 L1661.3 64.8 L1662.4 64.7 L1663.4 65.8 L1664.5 66.2 L1665.5 65.9 L1666.6 65.5 L1667.6 65.9 L1668.7 65.5 L1669.8 65.1 L1670.8 64.1 L1671.9 63 L1672.9 62.1 L1674 60.9 L1675 60.3 L1676.1 59.9 L1677.1 60.6 L1678.2 60.8 L1679.2 60.2 L1680.3 59.4 L1681.3 59.7 L1682.4 59.4 L1683.5 59.4 L1684.5 60.2 L1685.6 61.3 L1686.6 59.6 L1687.7 60 L1688.7 60.6 L1689.8 61.1 L1690.8 60.7 L1691.9 60.7 L1692.9 60.2 L1694 59.8 L1695 59 L1696.1 59.4 L1697.2 58.5 L1698.2 57.1 L1699.3 56.4 L1700.3 55.9 L1701.4 55.5 L1702.4 55.4 L1703.5 55.2 L1704.5 54.9 L1705.6 54.2 L1706.6 53.2 L1707.7 51.3 L1708.7 52.1 L1709.8 51.2 L1710.9 50.9 L1711.9 50.6 L1713 51.3 L1714 49.7 L1715.1 48.6 L1716.1 48.6 L1717.2 48.3 L1718.2 48.8 L1719.3 48.1 L1720.3 48.1 L1721.4 47.3 L1722.4 48.4 L1723.5 47.4 L1724.6 47.1 L1725.6 47.6 L1726.7 47.6 L1727.7 47.9 L1728.8 48.1 L1729.8 47.4 L1730.9 46.3 L1731.9 46.3 L1733 46.6 L1734 46.5 L1735.1 46.2 L1736.1 45.9 L1737.2 45.7 L1738.3 45.8 L1739.3 46.3 L1740.4 46.1 L1741.4 46.7 L1742.5 46.4 L1743.5 45.3 L1744.6 44 L1745.6 43.7 L1746.7 43.8 L1747.7 43.5 L1748.8 44.6 L1749.9 44.8 L1750.9 45.2 L1752 45.7 L1753 44.6 L1754.1 45.4 L1755.1 45.9 L1756.2 45.6 L1757.2 45.5 L1758.3 45.9 L1759.3 45.8 L1760.4 45.3 L1761.4 45.2 L1762.5 45.6 L1763.6 46.2 L1764.6 45.9" fill="none" stroke="#e7e39c" stroke-width="0.9"/>
<path d="M1449.5 204.6 L1450.6 203.6 L1451.6 203.3 L1452.7 202.5 L1453.7 202.2 L1454.8 202.2 L1455.8 201.7 L1456.9 201.6 L1457.9 201.6 L1459 201.4 L1460 201.1 L1461.1 201.2 L1462.1 201 L1463.2 201.3 L1464.3 201.4 L1465.3 201.5 L1466.4 201.8 L1467.4 202.1 L1468.5 202.4 L1469.5 202.3 L1470.6 202.2 L1471.6 202.1 L1472.7 202 L1473.7 202.2 L1474.8 202 L1475.8 201.7 L1476.9 201.4 L1478 201.4 L1479 201.3 L1480.1 201.6 L1481.1 201.5 L1482.2 201.8 L1483.2 201.9 L1484.3 201.3 L1485.3 201.6 L1486.4 201.1 L1487.4 200.8 L1488.5 200.6 L1489.5 200.2 L1490.6 199.9 L1491.7 199.4 L1492.7 199.3 L1493.8 199.3 L1494.8 199.3 L1495.9 199.4 L1496.9 199.2 L1498 199.2 L1499 198.7 L1500.1 199 L1501.1 199.2 L1502.2 199.4 L1503.2 199.9 L1504.3 199.2 L1505.4 199.8 L1506.4 199.8 L1507.5 199.8 L1508.5 199.3 L1509.6 199.7 L1510.6 199.3 L1511.7 199.5 L1512.7 199.5 L1513.8 199.6 L1514.8 199.3 L1515.9 199.6 L1516.9 199.6 L1518 199.4 L1519.1 198.9 L1520.1 199.5 L1521.2 199.1 L1522.2 198.9 L1523.3 199 L1524.3 199 L1525.4 199.1 L1526.4 198.6 L1527.5 198.5 L1528.5 198.6 L1529.6 198.6 L1530.6 198.6 L1531.7 198.6 L1532.8 198.8 L1533.8 198.2 L1534.9 198.6 L1535.9 199.5 L1537 199.4 L1538 199.3 L1539.1 199 L1540.1 198.9 L1541.2 198.8 L1542.2 198.6 L1543.3 198.3 L1544.3 198.3 L1545.4 198.3 L1546.5 197.7 L1547.5 197.5 L1548.6 197.8 L1549.6 197.1 L1550.7 196.9 L1551.7 197.1 L1552.8 197.4 L1553.8 197.3 L1554.9 197.5 L1555.9 197.7 L1557 197.9 L1558 197.9 L1559.1 197.5 L1560.2 197.5 L1561.2 197.8 L1562.3 197.5 L1563.3 197.3 L1564.4 197 L1565.4 196.6 L1566.5 196.5 L1567.5 196.5 L1568.6 196.5 L1569.6 196.7 L1570.7 196.4 L1571.7 195.9 L1572.8 195.9 L1573.9 195.9 L1574.9 195.9 L1576 196 L1577 196.1 L1578.1 196.1 L1579.1 196.2 L1580.2 196.2 L1581.2 196.5 L1582.3 196.2 L1583.3 196 L1584.4 196.2 L1585.4 196.6 L1586.5 196.3 L1587.6 195.8 L1588.6 195.8 L1589.7 195.8 L1590.7 195.7 L1591.8 195.3 L1592.8 195.4 L1593.9 195 L1594.9 194.9 L1596 194.5 L1597 194.3 L1598.1 194.3 L1599.1 194.5 L1600.2 194.6 L1601.3 194.5 L1602.3 194.3 L1603.4 194.2 L1604.4 194.4 L1605.5 194.2 L1606.5 194 L1607.6 194 L1608.6 194.1 L1609.7 194.2 L1610.7 194 L1611.8 193.9 L1612.8 194.2 L1613.9 194.1 L1615 194.2 L1616 194.4 L1617.1 194.1 L1618.1 193.9 L1619.2 194.2 L1620.2 194.2 L1621.3 194.1 L1622.3 194.3 L1623.4 194.3 L1624.4 194.2 L1625.5 194.7 L1626.5 194.6 L1627.6 194.4 L1628.7 194.3 L1629.7 194.7 L1630.8 194.6 L1631.8 194.8 L1632.9 194.6 L1633.9 194.5 L1635 194.5 L1636 194.7 L1637.1 194.9 L1638.1 194.6 L1639.2 194.9 L1640.2 194.8 L1641.3 194.7 L1642.4 194.8 L1643.4 194.2 L1644.5 194.3 L1645.5 193.8 L1646.6 194.5 L1647.6 195.1 L1648.7 194.9 L1649.7 194.8 L1650.8 194.9 L1651.8 195 L1652.9 195.5 L1653.9 195.7 L1655 195.9 L1656.1 195.9 L1657.1 195.7 L1658.2 195.7 L1659.2 195.6 L1660.3 195.8 L1661.3 195.9 L1662.4 195.8 L1663.4 195.9 L1664.5 195.5 L1665.5 195.6 L1666.6 194.9 L1667.6 195.1 L1668.7 194.7 L1669.8 194.8 L1670.8 194.3 L1671.9 194.2 L1672.9 194 L1674 193.8 L1675 193.9 L1676.1 194.1 L1677.1 194.6 L1678.2 194.1 L1679.2 194.3 L1680.3 194.3 L1681.3 194.2 L1682.4 193.6 L1683.5 194 L1684.5 193.9 L1685.6 193.9 L1686.6 193.7 L1687.7 194.1 L1688.7 194.1 L1689.8 193.7 L1690.8 193.2 L1691.9 192.8 L1692.9 193 L1694 192.9 L1695 192.9 L1696.1 193.2 L1697.2 193.5 L1698.2 193.2 L1699.3 193.1 L1700.3 193 L1701.4 192.6 L1702.4 192.8 L1703.5 192.6 L1704.5 192.6 L1705.6 192.5 L1706.6 192.3 L1707.7 192.2 L1708.7 192.1 L1709.8 192 L1710.9 191.5 L1711.9 191.6 L1713 191.3 L1714 191.2 L1715.1 191.3 L1716.1 191.1 L1717.2 191.3 L1718.2 191.1 L1719.3 191.3 L1720.3 191.4 L1721.4 191.3 L1722.4 191.1 L1723.5 190.9 L1724.6 190.6 L1725.6 190.7 L1726.7 191 L1727.7 190.9 L1728.8 190.8 L1729.8 191 L1730.9 190.8 L1731.9 190.7 L1733 191 L1734 190.8 L1735.1 191.1 L1736.1 191.3 L1737.2 191.1 L1738.3 191.5 L1739.3 191.4 L1740.4 191.6 L1741.4 191.3 L1742.5 191.4 L1743.5 191.2 L1744.6 191.5 L1745.6 191.5 L1746.7 191.1 L1747.7 190.8 L1748.8 191.2 L1749.9 190.9 L1750.9 190.5 L1752 190.6 L1753 190.1 L1754.1 190.4 L1755.1 190.3 L1756.2 190 L1757.2 189.6 L1758.3 189.3 L1759.3 189.6 L1760.4 190.1 L1761.4 190 L1762.5 190.3 L1763.6 190.2 L1764.6 190.5" fill="none" stroke="#7bb7aa" stroke-width="2.4" stroke-linejoin="round"/>
<path d="M1449.5 205.6 L1450.6 205.3 L1451.6 204.5 L1452.7 203.7 L1453.7 203.5 L1454.8 203.3 L1455.8 203 L1456.9 203.3 L1457.9 203.4 L1459 203.5 L1460 203.4 L1461.1 203.5 L1462.1 203.7 L1463.2 203.5 L1464.3 203.5 L1465.3 203.4 L1466.4 203 L1467.4 203.2 L1468.5 203.3 L1469.5 203.2 L1470.6 203.3 L1471.6 203.2 L1472.7 203.3 L1473.7 202.8 L1474.8 202.8 L1475.8 202.8 L1476.9 202.9 L1478 202.9 L1479 203.3 L1480.1 203.4 L1481.1 203.3 L1482.2 203.5 L1483.2 203.6 L1484.3 203.6 L1485.3 203.7 L1486.4 203.3 L1487.4 203.2 L1488.5 203.2 L1489.5 203.4 L1490.6 203.4 L1491.7 203.5 L1492.7 203.5 L1493.8 203.5 L1494.8 203.1 L1495.9 202.9 L1496.9 202.7 L1498 202.5 L1499 202.1 L1500.1 202.4 L1501.1 202.7 L1502.2 202.8 L1503.2 202.8 L1504.3 202.9 L1505.4 203.1 L1506.4 203 L1507.5 202.7 L1508.5 202.8 L1509.6 202.9 L1510.6 202.8 L1511.7 202.9 L1512.7 203 L1513.8 203 L1514.8 203.4 L1515.9 203.1 L1516.9 203.2 L1518 203.1 L1519.1 203.1 L1520.1 203.1 L1521.2 203.3 L1522.2 203 L1523.3 203 L1524.3 203 L1525.4 202.5 L1526.4 202.8 L1527.5 202.7 L1528.5 202.8 L1529.6 203.1 L1530.6 202.8 L1531.7 203.1 L1532.8 203.1 L1533.8 203.2 L1534.9 203.2 L1535.9 203.4 L1537 203.1 L1538 203.1 L1539.1 203.3 L1540.1 203.6 L1541.2 203.5 L1542.2 203.7 L1543.3 203.6 L1544.3 203.5 L1545.4 203.6 L1546.5 203.9 L1547.5 204 L1548.6 203.9 L1549.6 203.9 L1550.7 203.5 L1551.7 203.6 L1552.8 203.5 L1553.8 203.4 L1554.9 203.3 L1555.9 203.3 L1557 203.1 L1558 203.1 L1559.1 203.1 L1560.2 203.1 L1561.2 202.7 L1562.3 202.7 L1563.3 202.6 L1564.4 203.1 L1565.4 203.2 L1566.5 203.3 L1567.5 203.2 L1568.6 203.2 L1569.6 203.4 L1570.7 203.3 L1571.7 203.1 L1572.8 202.8 L1573.9 202.9 L1574.9 202.7 L1576 202.7 L1577 202.6 L1578.1 202.7 L1579.1 202.5 L1580.2 202 L1581.2 202.1 L1582.3 201.9 L1583.3 202.1 L1584.4 202.2 L1585.4 201.8 L1586.5 201.8 L1587.6 201.7 L1588.6 202 L1589.7 202 L1590.7 202.1 L1591.8 201.9 L1592.8 201.9 L1593.9 201.5 L1594.9 201.7 L1596 201.6 L1597 201.9 L1598.1 202 L1599.1 201.7 L1600.2 201.7 L1601.3 201.9 L1602.3 201.8 L1603.4 201.6 L1604.4 201.5 L1605.5 201.3 L1606.5 201.5 L1607.6 201.2 L1608.6 201.1 L1609.7 201.5 L1610.7 201.1 L1611.8 201.2 L1612.8 201.1 L1613.9 201.5 L1615 201.5 L1616 201.8 L1617.1 201.6 L1618.1 201.6 L1619.2 201.7 L1620.2 201.6 L1621.3 201.4 L1622.3 201.5 L1623.4 201.3 L1624.4 201.5 L1625.5 201.7 L1626.5 201.7 L1627.6 201.6 L1628.7 201.5 L1629.7 201.3 L1630.8 201.3 L1631.8 201.3 L1632.9 201.1 L1633.9 200.9 L1635 200.9 L1636 200.8 L1637.1 201.2 L1638.1 201.2 L1639.2 201.4 L1640.2 201.4 L1641.3 201.2 L1642.4 201.4 L1643.4 201.2 L1644.5 201.2 L1645.5 201.2 L1646.6 201.2 L1647.6 201.1 L1648.7 201.1 L1649.7 201.5 L1650.8 201.3 L1651.8 201.3 L1652.9 201.1 L1653.9 201 L1655 201.1 L1656.1 201.1 L1657.1 201 L1658.2 200.9 L1659.2 200.7 L1660.3 200.4 L1661.3 200.4 L1662.4 200.2 L1663.4 199.9 L1664.5 199.9 L1665.5 199.7 L1666.6 199.7 L1667.6 199.7 L1668.7 199.6 L1669.8 199.3 L1670.8 198.8 L1671.9 198.7 L1672.9 198.4 L1674 198.1 L1675 198 L1676.1 198.4 L1677.1 198.2 L1678.2 198 L1679.2 198.1 L1680.3 197.9 L1681.3 197.5 L1682.4 197.6 L1683.5 197.6 L1684.5 197.3 L1685.6 197.5 L1686.6 197.6 L1687.7 197.4 L1688.7 197.1 L1689.8 196.7 L1690.8 196.5 L1691.9 196 L1692.9 195.9 L1694 196.1 L1695 196.1 L1696.1 195.9 L1697.2 195.8 L1698.2 196 L1699.3 195.9 L1700.3 195.9 L1701.4 195.9 L1702.4 195.5 L1703.5 195.5 L1704.5 195.5 L1705.6 195.4 L1706.6 195.4 L1707.7 195 L1708.7 194.7 L1709.8 194.5 L1710.9 194.6 L1711.9 194.7 L1713 194.5 L1714 194.8 L1715.1 194.6 L1716.1 194.8 L1717.2 194.7 L1718.2 194.5 L1719.3 194.6 L1720.3 194.5 L1721.4 194.3 L1722.4 193.9 L1723.5 193.8 L1724.6 193.5 L1725.6 193.4 L1726.7 193.5 L1727.7 193.3 L1728.8 193.5 L1729.8 193.4 L1730.9 193.3 L1731.9 193.1 L1733 193.1 L1734 193.4 L1735.1 193.1 L1736.1 193.1 L1737.2 193.2 L1738.3 193.3 L1739.3 193.2 L1740.4 193.1 L1741.4 192.9 L1742.5 193 L1743.5 192.7 L1744.6 192.7 L1745.6 192.7 L1746.7 192.6 L1747.7 192.4 L1748.8 192.6 L1749.9 192.6 L1750.9 192.7 L1752 192.7 L1753 192.8 L1754.1 192.9 L1755.1 192.7 L1756.2 192.4 L1757.2 192.5 L1758.3 192.3 L1759.3 192.4 L1760.4 192.5 L1761.4 192.5 L1762.5 192.3 L1763.6 192.2 L1764.6 192.4" fill="none" stroke="#373795" stroke-width="2.2" stroke-linejoin="round"/>
<path d="M1449.5 210.2 L1450.6 197.9 L1451.6 191.2 L1452.7 185.6 L1453.7 182.9 L1454.8 179.9 L1455.8 176.6 L1456.9 175.3 L1457.9 172.8 L1459 172 L1460 169.7 L1461.1 167.2 L1462.1 164.9 L1463.2 165.3 L1464.3 164.2 L1465.3 163.6 L1466.4 162.3 L1467.4 160.4 L1468.5 159.2 L1469.5 157.3 L1470.6 157.2 L1471.6 156.6 L1472.7 155.8 L1473.7 154.3 L1474.8 152.6 L1475.8 152.2 L1476.9 151.8 L1478 150.4 L1479 150.2 L1480.1 149 L1481.1 148.5 L1482.2 147.5 L1483.2 145.5 L1484.3 144.8 L1485.3 143.9 L1486.4 143.4 L1487.4 142.2 L1488.5 140.7 L1489.5 139.8 L1490.6 139.9 L1491.7 139 L1492.7 137.5 L1493.8 137.4 L1494.8 136.8 L1495.9 136.6 L1496.9 136.2 L1498 136 L1499 135.9 L1500.1 134.8 L1501.1 134.2 L1502.2 134.7 L1503.2 134.5 L1504.3 134.1 L1505.4 133.8 L1506.4 132.9 L1507.5 132.3 L1508.5 131.3 L1509.6 131.3 L1510.6 130.9 L1511.7 130.3 L1512.7 129.7 L1513.8 129.3 L1514.8 129.1 L1515.9 128.5 L1516.9 127.1 L1518 127 L1519.1 127.3 L1520.1 126.6 L1521.2 126.5 L1522.2 125.5 L1523.3 124.5 L1524.3 123.1 L1525.4 122.7 L1526.4 123.4 L1527.5 122.2 L1528.5 121.5 L1529.6 120.6 L1530.6 120.4 L1531.7 120.4 L1532.8 120.2 L1533.8 121 L1534.9 120.2 L1535.9 120.3 L1537 120.3 L1538 119.8 L1539.1 120 L1540.1 119.2 L1541.2 119.2 L1542.2 117.7 L1543.3 116.9 L1544.3 116.4 L1545.4 116.1 L1546.5 116 L1547.5 116.1 L1548.6 116.9 L1549.6 116.9 L1550.7 117.1 L1551.7 117 L1552.8 116.6 L1553.8 117.2 L1554.9 117.4 L1555.9 117.3 L1557 117 L1558 116 L1559.1 114.2 L1560.2 114 L1561.2 113.4 L1562.3 113.2 L1563.3 112.8 L1564.4 111.6 L1565.4 111.4 L1566.5 110.9 L1567.5 110.8 L1568.6 110.9 L1569.6 110.2 L1570.7 110.1 L1571.7 109.2 L1572.8 109.7 L1573.9 109.2 L1574.9 108.2 L1576 108.4 L1577 108 L1578.1 107 L1579.1 106.6 L1580.2 106.9 L1581.2 106.8 L1582.3 106.4 L1583.3 106.5 L1584.4 106.4 L1585.4 106 L1586.5 106.4 L1587.6 105.1 L1588.6 105.1 L1589.7 104.8 L1590.7 104.4 L1591.8 103.3 L1592.8 103.3 L1593.9 101.9 L1594.9 100.7 L1596 100.2 L1597 100.8 L1598.1 101.3 L1599.1 101.2 L1600.2 100.7 L1601.3 100.1 L1602.3 99.3 L1603.4 98.9 L1604.4 98.7 L1605.5 98.3 L1606.5 99.2 L1607.6 98.3 L1608.6 98.9 L1609.7 99.6 L1610.7 99.6 L1611.8 99.3 L1612.8 99.5 L1613.9 99.2 L1615 98.6 L1616 97.8 L1617.1 97.2 L1618.1 97.1 L1619.2 96.6 L1620.2 95.6 L1621.3 95.4 L1622.3 95.1 L1623.4 95.9 L1624.4 95.3 L1625.5 93.8 L1626.5 93.2 L1627.6 93.1 L1628.7 92.3 L1629.7 91.5 L1630.8 90.7 L1631.8 91.3 L1632.9 91.8 L1633.9 91.2 L1635 90.8 L1636 90.4 L1637.1 91 L1638.1 90.4 L1639.2 89.3 L1640.2 88.6 L1641.3 87.2 L1642.4 87 L1643.4 87 L1644.5 86.1 L1645.5 85.7 L1646.6 87 L1647.6 87.8 L1648.7 87.6 L1649.7 87.7 L1650.8 86.6 L1651.8 85.7 L1652.9 84.9 L1653.9 85.1 L1655 85.1 L1656.1 84.6 L1657.1 84.6 L1658.2 84.2 L1659.2 83.9 L1660.3 83.4 L1661.3 83.2 L1662.4 83.5 L1663.4 84.9 L1664.5 85.2 L1665.5 85.6 L1666.6 84.8 L1667.6 85.1 L1668.7 84.9 L1669.8 84.2 L1670.8 83.4 L1671.9 82.4 L1672.9 81.9 L1674 80.7 L1675 80.8 L1676.1 79.9 L1677.1 80.4 L1678.2 80.3 L1679.2 79.7 L1680.3 79.1 L1681.3 78.9 L1682.4 78.9 L1683.5 79.2 L1684.5 80 L1685.6 80.5 L1686.6 79.1 L1687.7 79.5 L1688.7 79.7 L1689.8 80 L1690.8 79.4 L1691.9 78.9 L1692.9 78.6 L1694 78.6 L1695 78 L1696.1 78.1 L1697.2 77.2 L1698.2 75.7 L1699.3 75.7 L1700.3 75 L1701.4 74.7 L1702.4 74.4 L1703.5 74.6 L1704.5 73.9 L1705.6 73.4 L1706.6 72.2 L1707.7 70.5 L1708.7 70.7 L1709.8 69.7 L1710.9 69.8 L1711.9 69.8 L1713 70 L1714 69.3 L1715.1 68.2 L1716.1 67.9 L1717.2 67.5 L1718.2 67.6 L1719.3 67.4 L1720.3 67.7 L1721.4 67.2 L1722.4 67.9 L1723.5 66.1 L1724.6 65.1 L1725.6 65 L1726.7 64.9 L1727.7 64.9 L1728.8 64.6 L1729.8 64.3 L1730.9 63.1 L1731.9 63.2 L1733 64.1 L1734 63.8 L1735.1 63.3 L1736.1 63.6 L1737.2 62.9 L1738.3 62.8 L1739.3 63.1 L1740.4 62.9 L1741.4 63.3 L1742.5 63.3 L1743.5 62.1 L1744.6 61.2 L1745.6 60.8 L1746.7 60.9 L1747.7 60.9 L1748.8 61.7 L1749.9 61.7 L1750.9 62.2 L1752 62.6 L1753 61.8 L1754.1 62.3 L1755.1 62.3 L1756.2 62.4 L1757.2 62 L1758.3 62.2 L1759.3 62.1 L1760.4 62.1 L1761.4 62.3 L1762.5 62.8 L1763.6 63.4 L1764.6 62.9" fill="none" stroke="#c5bd35" stroke-width="2.8" stroke-linejoin="round"/>
</g>
<rect x="1449.5" y="35.7" width="314.7" height="217.5" fill="none" stroke="#444444" stroke-width="1.25"/>
<path d="M1525.1 253.2 v-3.6 M1525.1 35.7 v3.6 M1600.8 253.2 v-3.6 M1600.8 35.7 v3.6 M1676.4 253.2 v-3.6 M1676.4 35.7 v3.6 M1752 253.2 v-3.6 M1752 35.7 v3.6 M1449.5 166.4 h3.6 M1764.2 166.4 h-3.6 M1449.5 79.6 h3.6 M1764.2 79.6 h-3.6" stroke="#444444" stroke-width="1.1" fill="none"/>
<text x="1449.5" y="282.8" font-size="23" text-anchor="middle" fill="#444444">0</text>
<text x="1525.1" y="282.8" font-size="23" text-anchor="middle" fill="#444444">60</text>
<text x="1600.8" y="282.8" font-size="23" text-anchor="middle" fill="#444444">120</text>
<text x="1676.4" y="282.8" font-size="23" text-anchor="middle" fill="#444444">180</text>
<text x="1750.4" y="282.8" font-size="23" text-anchor="middle" fill="#444444">240</text>
<text x="1443.9" y="262.4" font-size="23" text-anchor="end" fill="#444444">0</text>
<text x="1443.9" y="175.6" font-size="23" text-anchor="end" fill="#444444">2</text>
<text x="1443.9" y="88.8" font-size="23" text-anchor="end" fill="#444444">4</text>
<text x="1607.2" y="312" font-size="25.8" text-anchor="middle" fill="#444444">Time</text>
<text transform="translate(1422.5 145.6) rotate(-90)" font-size="25.4" text-anchor="middle" fill="#444444">Blob radius</text>
<text x="1365.6" y="36" font-size="37.2" font-weight="700" fill="#111">C</text>
<text x="1665.8" y="105.4" font-size="20.4" text-anchor="start" fill="#c3bb3a" textLength="77.8" lengthAdjust="spacingAndGlyphs">T = 0.09</text>
<text x="1582" y="177.2" font-size="20.7" text-anchor="start" fill="#6ca9a6" textLength="79.3" lengthAdjust="spacingAndGlyphs">T = 0.03</text>
<text x="1670.6" y="226.8" font-size="20" text-anchor="start" fill="#2c2a7e" textLength="87.9" lengthAdjust="spacingAndGlyphs">T = 0.021</text>
</g>
<g id="panelD">
<rect x="1449.5" y="331.7" width="314.7" height="216.7" fill="#fff"/>
<clipPath id="clipD"><rect x="1449.5" y="331.7" width="314.7" height="216.7"/></clipPath>
<g clip-path="url(#clipD)">
<path d="M1449.5 503.6 L1450.6 502.8 L1451.6 501.9 L1452.7 501.8 L1453.7 501.9 L1454.8 501.6 L1455.8 501.5 L1456.9 501.1 L1457.9 501.1 L1459 501.4 L1460 501.3 L1461.1 501.3 L1462.1 501.8 L1463.2 501.9 L1464.3 502.1 L1465.3 502.1 L1466.4 502.1 L1467.4 502.3 L1468.5 502.3 L1469.5 502.5 L1470.6 502.7 L1471.6 502.4 L1472.7 502.4 L1473.7 502.4 L1474.8 502.8 L1475.8 502.9 L1476.9 502.7 L1478 503.1 L1479 502.9 L1480.1 503 L1481.1 503 L1482.2 503.1 L1483.2 503.1 L1484.3 502.9 L1485.3 503 L1486.4 502.8 L1487.4 503 L1488.5 503.2 L1489.5 503 L1490.6 503.3 L1491.7 503.3 L1492.7 503.1 L1493.8 502.8 L1494.8 503.1 L1495.9 503 L1496.9 502.5 L1498 502.3 L1499 502.4 L1500.1 502.5 L1501.1 502.6 L1502.2 502.8 L1503.2 502.8 L1504.3 502.8 L1505.4 502.8 L1506.4 502.5 L1507.5 502.5 L1508.5 502.8 L1509.6 502.5 L1510.6 502.7 L1511.7 502.8 L1512.7 502.7 L1513.8 502.8 L1514.8 502.9 L1515.9 502.9 L1516.9 502.3 L1518 502.4 L1519.1 502.4 L1520.1 502.1 L1521.2 501.9 L1522.2 501.7 L1523.3 501.5 L1524.3 502 L1525.4 502.1 L1526.4 502 L1527.5 501.9 L1528.5 501.5 L1529.6 501.4 L1530.6 501.4 L1531.7 501.4 L1532.8 501.4 L1533.8 501.3 L1534.9 501.2 L1535.9 501.2 L1537 501.4 L1538 501.5 L1539.1 501.2 L1540.1 500.9 L1541.2 500.6 L1542.2 500.5 L1543.3 500.3 L1544.3 500.3 L1545.4 500.2 L1546.5 500.4 L1547.5 500.5 L1548.6 500.6 L1549.6 500.4 L1550.7 500.5 L1551.7 500.5 L1552.8 500.4 L1553.8 500.1 L1554.9 500.2 L1555.9 500.4 L1557 500.2 L1558 500.4 L1559.1 500.2 L1560.2 500.3 L1561.2 500.3 L1562.3 500.6 L1563.3 500.3 L1564.4 500.4 L1565.4 500.5 L1566.5 499.9 L1567.5 499.7 L1568.6 498.9 L1569.6 498.8 L1570.7 498.9 L1571.7 498.9 L1572.8 498.6 L1573.9 498.6 L1574.9 498.6 L1576 498.5 L1577 498.7 L1578.1 498.6 L1579.1 498.7 L1580.2 499 L1581.2 498.7 L1582.3 498.5 L1583.3 498.4 L1584.4 498.6 L1585.4 499 L1586.5 498.7 L1587.6 498.7 L1588.6 498.9 L1589.7 498.8 L1590.7 499 L1591.8 498.9 L1592.8 498.7 L1593.9 498.5 L1594.9 498.3 L1596 498.1 L1597 498.3 L1598.1 498.2 L1599.1 498.2 L1600.2 498.1 L1601.3 497.9 L1602.3 497.7 L1603.4 497.3 L1604.4 497.8 L1605.5 497.6 L1606.5 497.6 L1607.6 497 L1608.6 496.8 L1609.7 497.1 L1610.7 497 L1611.8 497 L1612.8 496.8 L1613.9 497 L1615 496.9 L1616 496.9 L1617.1 496.9 L1618.1 497 L1619.2 497.3 L1620.2 497.1 L1621.3 496.8 L1622.3 496.7 L1623.4 496.9 L1624.4 496.8 L1625.5 496.6 L1626.5 496.6 L1627.6 496.7 L1628.7 496.5 L1629.7 496.9 L1630.8 497.1 L1631.8 497.6 L1632.9 497.8 L1633.9 498 L1635 498.2 L1636 498.4 L1637.1 498 L1638.1 498.1 L1639.2 498.1 L1640.2 497.5 L1641.3 497.5 L1642.4 497.8 L1643.4 497.7 L1644.5 497.8 L1645.5 497.4 L1646.6 497.6 L1647.6 497.6 L1648.7 497.9 L1649.7 497.8 L1650.8 497.9 L1651.8 497.8 L1652.9 497.7 L1653.9 497.7 L1655 497.4 L1656.1 497.1 L1657.1 497 L1658.2 497.2 L1659.2 497.3 L1660.3 497.1 L1661.3 496.5 L1662.4 496.6 L1663.4 496.7 L1664.5 496.8 L1665.5 497 L1666.6 497.1 L1667.6 497 L1668.7 496.6 L1669.8 496.5 L1670.8 496.5 L1671.9 496.8 L1672.9 496.6 L1674 496.5 L1675 496.7 L1676.1 496.8 L1677.1 496.7 L1678.2 496.4 L1679.2 496.2 L1680.3 496 L1681.3 496.1 L1682.4 495.9 L1683.5 495.9 L1684.5 495.3 L1685.6 495.6 L1686.6 495.6 L1687.7 495.3 L1688.7 495.4 L1689.8 495 L1690.8 495.1 L1691.9 495 L1692.9 495.1 L1694 495.4 L1695 495.6 L1696.1 495 L1697.2 494.9 L1698.2 494.7 L1699.3 494.5 L1700.3 494.4 L1701.4 494.3 L1702.4 494.4 L1703.5 494.4 L1704.5 494.2 L1705.6 494.4 L1706.6 494.7 L1707.7 494.7 L1708.7 494.8 L1709.8 494.6 L1710.9 494.8 L1711.9 495 L1713 495 L1714 494.6 L1715.1 494.6 L1716.1 494.5 L1717.2 494.5 L1718.2 494.4 L1719.3 494.1 L1720.3 493.8 L1721.4 494.2 L1722.4 493.9 L1723.5 493.9 L1724.6 494 L1725.6 493.5 L1726.7 493.5 L1727.7 493.1 L1728.8 492.9 L1729.8 493.2 L1730.9 493.1 L1731.9 493 L1733 493 L1734 493.5 L1735.1 493.5 L1736.1 493.5 L1737.2 493.7 L1738.3 493.2 L1739.3 493.2 L1740.4 493.2 L1741.4 493.2 L1742.5 493.3 L1743.5 493.4 L1744.6 493.3 L1745.6 493.1 L1746.7 493.1 L1747.7 493 L1748.8 493.2 L1749.9 493 L1750.9 493.1 L1752 492.9 L1753 493 L1754.1 493 L1755.1 492.8 L1756.2 492.9 L1757.2 492.2 L1758.3 492.2 L1759.3 492.1 L1760.4 492.2 L1761.4 491.7 L1762.5 491.4 L1763.6 491.3 L1764.6 491.5 L1764.6 501.3 L1763.6 501.3 L1762.5 501 L1761.4 501 L1760.4 501.1 L1759.3 501.2 L1758.3 501.1 L1757.2 501.2 L1756.2 501.3 L1755.1 501.4 L1754.1 501.5 L1753 501.3 L1752 501.5 L1750.9 501.7 L1749.9 501.8 L1748.8 501.6 L1747.7 501.5 L1746.7 501.6 L1745.6 501.7 L1744.6 501.7 L1743.5 501.8 L1742.5 501.6 L1741.4 501.6 L1740.4 501.5 L1739.3 501.8 L1738.3 501.6 L1737.2 501.6 L1736.1 501.8 L1735.1 501.8 L1734 502 L1733 501.8 L1731.9 502 L1730.9 502 L1729.8 502.2 L1728.8 502.1 L1727.7 502 L1726.7 501.9 L1725.6 501.8 L1724.6 501.8 L1723.5 501.8 L1722.4 502.4 L1721.4 502.4 L1720.3 502.3 L1719.3 502.2 L1718.2 502.2 L1717.2 502.2 L1716.1 502.4 L1715.1 502.2 L1714 502.3 L1713 502.5 L1711.9 502 L1710.9 502.2 L1709.8 502.3 L1708.7 502.5 L1707.7 502.4 L1706.6 502.5 L1705.6 502.2 L1704.5 502.2 L1703.5 502.4 L1702.4 502.5 L1701.4 502.5 L1700.3 502.8 L1699.3 503 L1698.2 503 L1697.2 502.9 L1696.1 502.8 L1695 502.9 L1694 502.9 L1692.9 503 L1691.9 502.8 L1690.8 502.9 L1689.8 502.8 L1688.7 502.9 L1687.7 502.8 L1686.6 503 L1685.6 503.1 L1684.5 502.9 L1683.5 502.8 L1682.4 502.8 L1681.3 502.9 L1680.3 503 L1679.2 502.7 L1678.2 502.9 L1677.1 502.9 L1676.1 503.2 L1675 503.5 L1674 503.7 L1672.9 504.1 L1671.9 504.1 L1670.8 503.8 L1669.8 503.4 L1668.7 503.3 L1667.6 503.5 L1666.6 503.6 L1665.5 503.6 L1664.5 503.7 L1663.4 503.8 L1662.4 503.6 L1661.3 503.5 L1660.3 503.8 L1659.2 503.6 L1658.2 503.6 L1657.1 503.8 L1656.1 503.7 L1655 503.6 L1653.9 504.2 L1652.9 504.2 L1651.8 504.2 L1650.8 504 L1649.7 503.8 L1648.7 503.9 L1647.6 504 L1646.6 504.5 L1645.5 504.5 L1644.5 504.4 L1643.4 504.3 L1642.4 503.9 L1641.3 503.8 L1640.2 503.9 L1639.2 504.2 L1638.1 504.2 L1637.1 504 L1636 504 L1635 504.2 L1633.9 504.1 L1632.9 504.4 L1631.8 504.5 L1630.8 504.7 L1629.7 504.7 L1628.7 504.7 L1627.6 504.6 L1626.5 504.8 L1625.5 504.9 L1624.4 505 L1623.4 505.1 L1622.3 505.2 L1621.3 505.3 L1620.2 505.1 L1619.2 504.8 L1618.1 504.9 L1617.1 505 L1616 504.9 L1615 504.9 L1613.9 505.1 L1612.8 505.3 L1611.8 505.4 L1610.7 505.5 L1609.7 506.1 L1608.6 506 L1607.6 506.3 L1606.5 506.4 L1605.5 506.6 L1604.4 506.7 L1603.4 506.2 L1602.3 506.3 L1601.3 506.4 L1600.2 506.4 L1599.1 506.3 L1598.1 506.5 L1597 506.6 L1596 506.4 L1594.9 506.4 L1593.9 506.8 L1592.8 506.5 L1591.8 506.8 L1590.7 506.6 L1589.7 506.9 L1588.6 506.8 L1587.6 507 L1586.5 507 L1585.4 507.2 L1584.4 507 L1583.3 507 L1582.3 507.1 L1581.2 507 L1580.2 506.9 L1579.1 507.3 L1578.1 507.4 L1577 507.4 L1576 507.4 L1574.9 507.1 L1573.9 507.5 L1572.8 507.6 L1571.7 507.5 L1570.7 507.5 L1569.6 507.7 L1568.6 508 L1567.5 508.2 L1566.5 508.5 L1565.4 508.2 L1564.4 508.3 L1563.3 508.4 L1562.3 508.5 L1561.2 508.5 L1560.2 508.3 L1559.1 508.3 L1558 508.3 L1557 508.3 L1555.9 508.6 L1554.9 508.6 L1553.8 508.4 L1552.8 508.4 L1551.7 508.7 L1550.7 508.6 L1549.6 508.7 L1548.6 509 L1547.5 509.2 L1546.5 509 L1545.4 509.2 L1544.3 509 L1543.3 509.1 L1542.2 509.4 L1541.2 509.5 L1540.1 509.6 L1539.1 509.5 L1538 509.7 L1537 509.6 L1535.9 509.9 L1534.9 509.9 L1533.8 509.8 L1532.8 510.2 L1531.7 510.4 L1530.6 510.4 L1529.6 510.4 L1528.5 510.5 L1527.5 510.5 L1526.4 510.7 L1525.4 510.5 L1524.3 510.9 L1523.3 510.8 L1522.2 510.7 L1521.2 510.8 L1520.1 510.8 L1519.1 511 L1518 510.9 L1516.9 511 L1515.9 511 L1514.8 510.8 L1513.8 510.7 L1512.7 510.8 L1511.7 510.9 L1510.6 511.2 L1509.6 511.4 L1508.5 511.3 L1507.5 511.4 L1506.4 511.3 L1505.4 511.3 L1504.3 511.3 L1503.2 511.1 L1502.2 511.2 L1501.1 511.3 L1500.1 511.6 L1499 511.9 L1498 512.1 L1496.9 512.1 L1495.9 511.8 L1494.8 511.9 L1493.8 512.2 L1492.7 512.2 L1491.7 511.8 L1490.6 511.6 L1489.5 511.5 L1488.5 511.6 L1487.4 511.7 L1486.4 511.5 L1485.3 511.3 L1484.3 511.2 L1483.2 510.8 L1482.2 510.8 L1481.1 510.7 L1480.1 510.7 L1479 510.2 L1478 510.1 L1476.9 510.1 L1475.8 510 L1474.8 510.1 L1473.7 509.8 L1472.7 509.6 L1471.6 509.2 L1470.6 509.2 L1469.5 509.3 L1468.5 509.2 L1467.4 509 L1466.4 508.8 L1465.3 508.6 L1464.3 508.6 L1463.2 508.5 L1462.1 508.3 L1461.1 508.2 L1460 507.8 L1459 507.9 L1457.9 508.3 L1456.9 508.2 L1455.8 507.9 L1454.8 507.8 L1453.7 507.5 L1452.7 507.2 L1451.6 506.8 L1450.6 506.5 L1449.5 506.4 Z" fill="#c9e0a4" fill-opacity="0.8" stroke="none"/><path d="M1449.5 506.4 L1450.6 506.5 L1451.6 506.8 L1452.7 507.2 L1453.7 507.5 L1454.8 507.8 L1455.8 507.9 L1456.9 508.2 L1457.9 508.3 L1459 507.9 L1460 507.8 L1461.1 508.2 L1462.1 508.3 L1463.2 508.5 L1464.3 508.6 L1465.3 508.6 L1466.4 508.8 L1467.4 509 L1468.5 509.2 L1469.5 509.3 L1470.6 509.2 L1471.6 509.2 L1472.7 509.6 L1473.7 509.8 L1474.8 510.1 L1475.8 510 L1476.9 510.1 L1478 510.1 L1479 510.2 L1480.1 510.7 L1481.1 510.7 L1482.2 510.8 L1483.2 510.8 L1484.3 511.2 L1485.3 511.3 L1486.4 511.5 L1487.4 511.7 L1488.5 511.6 L1489.5 511.5 L1490.6 511.6 L1491.7 511.8 L1492.7 512.2 L1493.8 512.2 L1494.8 511.9 L1495.9 511.8 L1496.9 512.1 L1498 512.1 L1499 511.9 L1500.1 511.6 L1501.1 511.3 L1502.2 511.2 L1503.2 511.1 L1504.3 511.3 L1505.4 511.3 L1506.4 511.3 L1507.5 511.4 L1508.5 511.3 L1509.6 511.4 L1510.6 511.2 L1511.7 510.9 L1512.7 510.8 L1513.8 510.7 L1514.8 510.8 L1515.9 511 L1516.9 511 L1518 510.9 L1519.1 511 L1520.1 510.8 L1521.2 510.8 L1522.2 510.7 L1523.3 510.8 L1524.3 510.9 L1525.4 510.5 L1526.4 510.7 L1527.5 510.5 L1528.5 510.5 L1529.6 510.4 L1530.6 510.4 L1531.7 510.4 L1532.8 510.2 L1533.8 509.8 L1534.9 509.9 L1535.9 509.9 L1537 509.6 L1538 509.7 L1539.1 509.5 L1540.1 509.6 L1541.2 509.5 L1542.2 509.4 L1543.3 509.1 L1544.3 509 L1545.4 509.2 L1546.5 509 L1547.5 509.2 L1548.6 509 L1549.6 508.7 L1550.7 508.6 L1551.7 508.7 L1552.8 508.4 L1553.8 508.4 L1554.9 508.6 L1555.9 508.6 L1557 508.3 L1558 508.3 L1559.1 508.3 L1560.2 508.3 L1561.2 508.5 L1562.3 508.5 L1563.3 508.4 L1564.4 508.3 L1565.4 508.2 L1566.5 508.5 L1567.5 508.2 L1568.6 508 L1569.6 507.7 L1570.7 507.5 L1571.7 507.5 L1572.8 507.6 L1573.9 507.5 L1574.9 507.1 L1576 507.4 L1577 507.4 L1578.1 507.4 L1579.1 507.3 L1580.2 506.9 L1581.2 507 L1582.3 507.1 L1583.3 507 L1584.4 507 L1585.4 507.2 L1586.5 507 L1587.6 507 L1588.6 506.8 L1589.7 506.9 L1590.7 506.6 L1591.8 506.8 L1592.8 506.5 L1593.9 506.8 L1594.9 506.4 L1596 506.4 L1597 506.6 L1598.1 506.5 L1599.1 506.3 L1600.2 506.4 L1601.3 506.4 L1602.3 506.3 L1603.4 506.2 L1604.4 506.7 L1605.5 506.6 L1606.5 506.4 L1607.6 506.3 L1608.6 506 L1609.7 506.1 L1610.7 505.5 L1611.8 505.4 L1612.8 505.3 L1613.9 505.1 L1615 504.9 L1616 504.9 L1617.1 505 L1618.1 504.9 L1619.2 504.8 L1620.2 505.1 L1621.3 505.3 L1622.3 505.2 L1623.4 505.1 L1624.4 505 L1625.5 504.9 L1626.5 504.8 L1627.6 504.6 L1628.7 504.7 L1629.7 504.7 L1630.8 504.7 L1631.8 504.5 L1632.9 504.4 L1633.9 504.1 L1635 504.2 L1636 504 L1637.1 504 L1638.1 504.2 L1639.2 504.2 L1640.2 503.9 L1641.3 503.8 L1642.4 503.9 L1643.4 504.3 L1644.5 504.4 L1645.5 504.5 L1646.6 504.5 L1647.6 504 L1648.7 503.9 L1649.7 503.8 L1650.8 504 L1651.8 504.2 L1652.9 504.2 L1653.9 504.2 L1655 503.6 L1656.1 503.7 L1657.1 503.8 L1658.2 503.6 L1659.2 503.6 L1660.3 503.8 L1661.3 503.5 L1662.4 503.6 L1663.4 503.8 L1664.5 503.7 L1665.5 503.6 L1666.6 503.6 L1667.6 503.5 L1668.7 503.3 L1669.8 503.4 L1670.8 503.8 L1671.9 504.1 L1672.9 504.1 L1674 503.7 L1675 503.5 L1676.1 503.2 L1677.1 502.9 L1678.2 502.9 L1679.2 502.7 L1680.3 503 L1681.3 502.9 L1682.4 502.8 L1683.5 502.8 L1684.5 502.9 L1685.6 503.1 L1686.6 503 L1687.7 502.8 L1688.7 502.9 L1689.8 502.8 L1690.8 502.9 L1691.9 502.8 L1692.9 503 L1694 502.9 L1695 502.9 L1696.1 502.8 L1697.2 502.9 L1698.2 503 L1699.3 503 L1700.3 502.8 L1701.4 502.5 L1702.4 502.5 L1703.5 502.4 L1704.5 502.2 L1705.6 502.2 L1706.6 502.5 L1707.7 502.4 L1708.7 502.5 L1709.8 502.3 L1710.9 502.2 L1711.9 502 L1713 502.5 L1714 502.3 L1715.1 502.2 L1716.1 502.4 L1717.2 502.2 L1718.2 502.2 L1719.3 502.2 L1720.3 502.3 L1721.4 502.4 L1722.4 502.4 L1723.5 501.8 L1724.6 501.8 L1725.6 501.8 L1726.7 501.9 L1727.7 502 L1728.8 502.1 L1729.8 502.2 L1730.9 502 L1731.9 502 L1733 501.8 L1734 502 L1735.1 501.8 L1736.1 501.8 L1737.2 501.6 L1738.3 501.6 L1739.3 501.8 L1740.4 501.5 L1741.4 501.6 L1742.5 501.6 L1743.5 501.8 L1744.6 501.7 L1745.6 501.7 L1746.7 501.6 L1747.7 501.5 L1748.8 501.6 L1749.9 501.8 L1750.9 501.7 L1752 501.5 L1753 501.3 L1754.1 501.5 L1755.1 501.4 L1756.2 501.3 L1757.2 501.2 L1758.3 501.1 L1759.3 501.2 L1760.4 501.1 L1761.4 501 L1762.5 501 L1763.6 501.3 L1764.6 501.3" fill="none" stroke="#86b93c" stroke-width="0.9"/><path d="M1449.5 503.6 L1450.6 502.8 L1451.6 501.9 L1452.7 501.8 L1453.7 501.9 L1454.8 501.6 L1455.8 501.5 L1456.9 501.1 L1457.9 501.1 L1459 501.4 L1460 501.3 L1461.1 501.3 L1462.1 501.8 L1463.2 501.9 L1464.3 502.1 L1465.3 502.1 L1466.4 502.1 L1467.4 502.3 L1468.5 502.3 L1469.5 502.5 L1470.6 502.7 L1471.6 502.4 L1472.7 502.4 L1473.7 502.4 L1474.8 502.8 L1475.8 502.9 L1476.9 502.7 L1478 503.1 L1479 502.9 L1480.1 503 L1481.1 503 L1482.2 503.1 L1483.2 503.1 L1484.3 502.9 L1485.3 503 L1486.4 502.8 L1487.4 503 L1488.5 503.2 L1489.5 503 L1490.6 503.3 L1491.7 503.3 L1492.7 503.1 L1493.8 502.8 L1494.8 503.1 L1495.9 503 L1496.9 502.5 L1498 502.3 L1499 502.4 L1500.1 502.5 L1501.1 502.6 L1502.2 502.8 L1503.2 502.8 L1504.3 502.8 L1505.4 502.8 L1506.4 502.5 L1507.5 502.5 L1508.5 502.8 L1509.6 502.5 L1510.6 502.7 L1511.7 502.8 L1512.7 502.7 L1513.8 502.8 L1514.8 502.9 L1515.9 502.9 L1516.9 502.3 L1518 502.4 L1519.1 502.4 L1520.1 502.1 L1521.2 501.9 L1522.2 501.7 L1523.3 501.5 L1524.3 502 L1525.4 502.1 L1526.4 502 L1527.5 501.9 L1528.5 501.5 L1529.6 501.4 L1530.6 501.4 L1531.7 501.4 L1532.8 501.4 L1533.8 501.3 L1534.9 501.2 L1535.9 501.2 L1537 501.4 L1538 501.5 L1539.1 501.2 L1540.1 500.9 L1541.2 500.6 L1542.2 500.5 L1543.3 500.3 L1544.3 500.3 L1545.4 500.2 L1546.5 500.4 L1547.5 500.5 L1548.6 500.6 L1549.6 500.4 L1550.7 500.5 L1551.7 500.5 L1552.8 500.4 L1553.8 500.1 L1554.9 500.2 L1555.9 500.4 L1557 500.2 L1558 500.4 L1559.1 500.2 L1560.2 500.3 L1561.2 500.3 L1562.3 500.6 L1563.3 500.3 L1564.4 500.4 L1565.4 500.5 L1566.5 499.9 L1567.5 499.7 L1568.6 498.9 L1569.6 498.8 L1570.7 498.9 L1571.7 498.9 L1572.8 498.6 L1573.9 498.6 L1574.9 498.6 L1576 498.5 L1577 498.7 L1578.1 498.6 L1579.1 498.7 L1580.2 499 L1581.2 498.7 L1582.3 498.5 L1583.3 498.4 L1584.4 498.6 L1585.4 499 L1586.5 498.7 L1587.6 498.7 L1588.6 498.9 L1589.7 498.8 L1590.7 499 L1591.8 498.9 L1592.8 498.7 L1593.9 498.5 L1594.9 498.3 L1596 498.1 L1597 498.3 L1598.1 498.2 L1599.1 498.2 L1600.2 498.1 L1601.3 497.9 L1602.3 497.7 L1603.4 497.3 L1604.4 497.8 L1605.5 497.6 L1606.5 497.6 L1607.6 497 L1608.6 496.8 L1609.7 497.1 L1610.7 497 L1611.8 497 L1612.8 496.8 L1613.9 497 L1615 496.9 L1616 496.9 L1617.1 496.9 L1618.1 497 L1619.2 497.3 L1620.2 497.1 L1621.3 496.8 L1622.3 496.7 L1623.4 496.9 L1624.4 496.8 L1625.5 496.6 L1626.5 496.6 L1627.6 496.7 L1628.7 496.5 L1629.7 496.9 L1630.8 497.1 L1631.8 497.6 L1632.9 497.8 L1633.9 498 L1635 498.2 L1636 498.4 L1637.1 498 L1638.1 498.1 L1639.2 498.1 L1640.2 497.5 L1641.3 497.5 L1642.4 497.8 L1643.4 497.7 L1644.5 497.8 L1645.5 497.4 L1646.6 497.6 L1647.6 497.6 L1648.7 497.9 L1649.7 497.8 L1650.8 497.9 L1651.8 497.8 L1652.9 497.7 L1653.9 497.7 L1655 497.4 L1656.1 497.1 L1657.1 497 L1658.2 497.2 L1659.2 497.3 L1660.3 497.1 L1661.3 496.5 L1662.4 496.6 L1663.4 496.7 L1664.5 496.8 L1665.5 497 L1666.6 497.1 L1667.6 497 L1668.7 496.6 L1669.8 496.5 L1670.8 496.5 L1671.9 496.8 L1672.9 496.6 L1674 496.5 L1675 496.7 L1676.1 496.8 L1677.1 496.7 L1678.2 496.4 L1679.2 496.2 L1680.3 496 L1681.3 496.1 L1682.4 495.9 L1683.5 495.9 L1684.5 495.3 L1685.6 495.6 L1686.6 495.6 L1687.7 495.3 L1688.7 495.4 L1689.8 495 L1690.8 495.1 L1691.9 495 L1692.9 495.1 L1694 495.4 L1695 495.6 L1696.1 495 L1697.2 494.9 L1698.2 494.7 L1699.3 494.5 L1700.3 494.4 L1701.4 494.3 L1702.4 494.4 L1703.5 494.4 L1704.5 494.2 L1705.6 494.4 L1706.6 494.7 L1707.7 494.7 L1708.7 494.8 L1709.8 494.6 L1710.9 494.8 L1711.9 495 L1713 495 L1714 494.6 L1715.1 494.6 L1716.1 494.5 L1717.2 494.5 L1718.2 494.4 L1719.3 494.1 L1720.3 493.8 L1721.4 494.2 L1722.4 493.9 L1723.5 493.9 L1724.6 494 L1725.6 493.5 L1726.7 493.5 L1727.7 493.1 L1728.8 492.9 L1729.8 493.2 L1730.9 493.1 L1731.9 493 L1733 493 L1734 493.5 L1735.1 493.5 L1736.1 493.5 L1737.2 493.7 L1738.3 493.2 L1739.3 493.2 L1740.4 493.2 L1741.4 493.2 L1742.5 493.3 L1743.5 493.4 L1744.6 493.3 L1745.6 493.1 L1746.7 493.1 L1747.7 493 L1748.8 493.2 L1749.9 493 L1750.9 493.1 L1752 492.9 L1753 493 L1754.1 493 L1755.1 492.8 L1756.2 492.9 L1757.2 492.2 L1758.3 492.2 L1759.3 492.1 L1760.4 492.2 L1761.4 491.7 L1762.5 491.4 L1763.6 491.3 L1764.6 491.5" fill="none" stroke="#86b93c" stroke-width="0.9"/>
<path d="M1449.5 504.1 L1450.6 504.5 L1451.6 504.6 L1452.7 504.5 L1453.7 504.6 L1454.8 504.6 L1455.8 504.8 L1456.9 504.6 L1457.9 504.3 L1459 504.4 L1460 504.6 L1461.1 504.8 L1462.1 504.7 L1463.2 504.7 L1464.3 504.9 L1465.3 504.7 L1466.4 504.6 L1467.4 504.5 L1468.5 504.9 L1469.5 505 L1470.6 504.9 L1471.6 505.1 L1472.7 505 L1473.7 504.8 L1474.8 504.7 L1475.8 504.9 L1476.9 505 L1478 504.9 L1479 504.8 L1480.1 504.7 L1481.1 504.6 L1482.2 504.7 L1483.2 504.8 L1484.3 505.3 L1485.3 505.2 L1486.4 504.8 L1487.4 505 L1488.5 505.1 L1489.5 505 L1490.6 505 L1491.7 505.2 L1492.7 505.3 L1493.8 505.5 L1494.8 505.1 L1495.9 505.2 L1496.9 505.1 L1498 504.7 L1499 504.4 L1500.1 504.2 L1501.1 504 L1502.2 504.3 L1503.2 504.4 L1504.3 504.6 L1505.4 504.7 L1506.4 504.2 L1507.5 504.6 L1508.5 504.5 L1509.6 504.8 L1510.6 504.5 L1511.7 504.3 L1512.7 504.4 L1513.8 504.1 L1514.8 504.1 L1515.9 504 L1516.9 504 L1518 504.1 L1519.1 504.2 L1520.1 504.3 L1521.2 504.2 L1522.2 504.2 L1523.3 503.8 L1524.3 503.9 L1525.4 504 L1526.4 504.2 L1527.5 504.3 L1528.5 504.5 L1529.6 504.6 L1530.6 504.3 L1531.7 504.3 L1532.8 504.2 L1533.8 504.1 L1534.9 503.9 L1535.9 503.7 L1537 503.5 L1538 503.6 L1539.1 503.6 L1540.1 503.7 L1541.2 503.7 L1542.2 503.8 L1543.3 503.8 L1544.3 503.7 L1545.4 503.7 L1546.5 503.6 L1547.5 503.6 L1548.6 503.3 L1549.6 503.3 L1550.7 503.4 L1551.7 503.3 L1552.8 503.4 L1553.8 503.5 L1554.9 503.4 L1555.9 503.5 L1557 504 L1558 503.7 L1559.1 503.4 L1560.2 503.6 L1561.2 503.6 L1562.3 503.3 L1563.3 503.5 L1564.4 503.5 L1565.4 503.5 L1566.5 503.4 L1567.5 503.5 L1568.6 503.2 L1569.6 503.1 L1570.7 502.8 L1571.7 502.8 L1572.8 503 L1573.9 502.8 L1574.9 502.9 L1576 502.7 L1577 502.7 L1578.1 502.6 L1579.1 502.5 L1580.2 502.2 L1581.2 501.9 L1582.3 502 L1583.3 501.9 L1584.4 501.5 L1585.4 501.3 L1586.5 501.4 L1587.6 501.3 L1588.6 501.3 L1589.7 501 L1590.7 500.9 L1591.8 500.8 L1592.8 500.4 L1593.9 500.6 L1594.9 500.7 L1596 500.9 L1597 501.1 L1598.1 500.8 L1599.1 500.7 L1600.2 500.3 L1601.3 500.6 L1602.3 500.7 L1603.4 500.4 L1604.4 500.1 L1605.5 500 L1606.5 499.8 L1607.6 499.8 L1608.6 499.8 L1609.7 499.8 L1610.7 499.6 L1611.8 499.7 L1612.8 499.6 L1613.9 499.4 L1615 499.6 L1616 499.7 L1617.1 499.6 L1618.1 499.6 L1619.2 499.6 L1620.2 499.3 L1621.3 499.2 L1622.3 499.3 L1623.4 499.1 L1624.4 498.7 L1625.5 499 L1626.5 499.1 L1627.6 499.1 L1628.7 499.2 L1629.7 498.8 L1630.8 498.8 L1631.8 498.9 L1632.9 498.8 L1633.9 499 L1635 499.1 L1636 499.1 L1637.1 498.6 L1638.1 499.1 L1639.2 499 L1640.2 498.7 L1641.3 498.6 L1642.4 498.3 L1643.4 498.3 L1644.5 498.3 L1645.5 498.4 L1646.6 498.5 L1647.6 498.3 L1648.7 498.5 L1649.7 498.5 L1650.8 498.6 L1651.8 498.8 L1652.9 499.1 L1653.9 499.1 L1655 499 L1656.1 498.9 L1657.1 498.7 L1658.2 498.7 L1659.2 498.8 L1660.3 498.7 L1661.3 498.5 L1662.4 498.7 L1663.4 498.9 L1664.5 499 L1665.5 498.7 L1666.6 498.5 L1667.6 498.6 L1668.7 498.5 L1669.8 498.3 L1670.8 498.1 L1671.9 498.2 L1672.9 498.2 L1674 497.9 L1675 497.5 L1676.1 497.3 L1677.1 497.5 L1678.2 497.5 L1679.2 497.5 L1680.3 497.5 L1681.3 497.7 L1682.4 497.7 L1683.5 497.7 L1684.5 497.4 L1685.6 497.2 L1686.6 497.2 L1687.7 497.2 L1688.7 497.3 L1689.8 497.3 L1690.8 497.1 L1691.9 497 L1692.9 496.6 L1694 496.6 L1695 496.7 L1696.1 497 L1697.2 496.9 L1698.2 497.2 L1699.3 496.9 L1700.3 497 L1701.4 497 L1702.4 497.2 L1703.5 497.2 L1704.5 497.3 L1705.6 497.1 L1706.6 497 L1707.7 497.1 L1708.7 497.4 L1709.8 497.3 L1710.9 497.3 L1711.9 497.4 L1713 497.2 L1714 497.1 L1715.1 497 L1716.1 497 L1717.2 497 L1718.2 497 L1719.3 497.2 L1720.3 497 L1721.4 496.8 L1722.4 497 L1723.5 496.9 L1724.6 496.6 L1725.6 496.5 L1726.7 496.2 L1727.7 496.2 L1728.8 496.1 L1729.8 496.3 L1730.9 496.4 L1731.9 496.6 L1733 496.7 L1734 496.5 L1735.1 496.3 L1736.1 496 L1737.2 495.9 L1738.3 496 L1739.3 495.9 L1740.4 495.8 L1741.4 495.5 L1742.5 495.1 L1743.5 494.9 L1744.6 495.1 L1745.6 495.2 L1746.7 495.2 L1747.7 495.3 L1748.8 495.1 L1749.9 495 L1750.9 494.8 L1752 494.8 L1753 494.9 L1754.1 495 L1755.1 495 L1756.2 494.8 L1757.2 494.5 L1758.3 494.3 L1759.3 494.3 L1760.4 494.2 L1761.4 494 L1762.5 493.8 L1763.6 493.7 L1764.6 494.1" fill="none" stroke="#9cc85c" stroke-width="0.8" stroke-linejoin="round"/>
<path d="M1449.5 505.8 L1450.6 505.8 L1451.6 506 L1452.7 506 L1453.7 506 L1454.8 506.1 L1455.8 506.5 L1456.9 506.6 L1457.9 506.6 L1459 506.7 L1460 507 L1461.1 507 L1462.1 507 L1463.2 507 L1464.3 507 L1465.3 507.2 L1466.4 507.4 L1467.4 507.4 L1468.5 507.5 L1469.5 507.5 L1470.6 507.1 L1471.6 507.1 L1472.7 507.2 L1473.7 507.6 L1474.8 507.7 L1475.8 507.7 L1476.9 507.9 L1478 508.1 L1479 508.6 L1480.1 508.5 L1481.1 508.7 L1482.2 508.6 L1483.2 508.5 L1484.3 508.6 L1485.3 508.5 L1486.4 508.6 L1487.4 508.7 L1488.5 508.8 L1489.5 508.9 L1490.6 508.7 L1491.7 508.5 L1492.7 508.7 L1493.8 508.5 L1494.8 508.7 L1495.9 508.9 L1496.9 508.7 L1498 508.9 L1499 508.6 L1500.1 508.6 L1501.1 508.4 L1502.2 508.3 L1503.2 508.1 L1504.3 508.1 L1505.4 508 L1506.4 508 L1507.5 507.8 L1508.5 507.9 L1509.6 507.8 L1510.6 507.6 L1511.7 507.6 L1512.7 507.6 L1513.8 507.8 L1514.8 507.8 L1515.9 507.8 L1516.9 507.9 L1518 508.1 L1519.1 508.1 L1520.1 508 L1521.2 508 L1522.2 507.8 L1523.3 508.2 L1524.3 507.9 L1525.4 507.9 L1526.4 508 L1527.5 508 L1528.5 507.9 L1529.6 507.6 L1530.6 507.7 L1531.7 507.6 L1532.8 507.8 L1533.8 507.7 L1534.9 507.7 L1535.9 507.7 L1537 507.4 L1538 507.1 L1539.1 506.8 L1540.1 507 L1541.2 506.7 L1542.2 506.7 L1543.3 506.7 L1544.3 506.8 L1545.4 506.7 L1546.5 506.5 L1547.5 506.5 L1548.6 506.5 L1549.6 506.5 L1550.7 506.5 L1551.7 506.3 L1552.8 506.3 L1553.8 506.3 L1554.9 506.3 L1555.9 506.4 L1557 506.4 L1558 506.5 L1559.1 506.4 L1560.2 506.2 L1561.2 506.2 L1562.3 505.8 L1563.3 505.9 L1564.4 505.8 L1565.4 505.6 L1566.5 505.7 L1567.5 505.7 L1568.6 505.4 L1569.6 505.4 L1570.7 505.3 L1571.7 505 L1572.8 505 L1573.9 505.2 L1574.9 505.3 L1576 505.1 L1577 505.1 L1578.1 505.2 L1579.1 505.5 L1580.2 505.3 L1581.2 504.9 L1582.3 505.1 L1583.3 505.4 L1584.4 505.2 L1585.4 505.1 L1586.5 505.1 L1587.6 505 L1588.6 505.1 L1589.7 504.9 L1590.7 504.6 L1591.8 504.5 L1592.8 504.5 L1593.9 504.2 L1594.9 504.2 L1596 504 L1597 504.1 L1598.1 503.9 L1599.1 503.7 L1600.2 503.4 L1601.3 503.4 L1602.3 503.4 L1603.4 503.5 L1604.4 503.3 L1605.5 503.2 L1606.5 503 L1607.6 503.1 L1608.6 503.3 L1609.7 503.3 L1610.7 503.3 L1611.8 503.5 L1612.8 503.3 L1613.9 503.1 L1615 503.1 L1616 502.9 L1617.1 502.8 L1618.1 503 L1619.2 503.1 L1620.2 503.1 L1621.3 503 L1622.3 502.8 L1623.4 502.8 L1624.4 502.6 L1625.5 502.8 L1626.5 502.8 L1627.6 502.5 L1628.7 502.5 L1629.7 502.3 L1630.8 502.7 L1631.8 502.9 L1632.9 503 L1633.9 502.8 L1635 502.5 L1636 502.6 L1637.1 502.8 L1638.1 502.9 L1639.2 503 L1640.2 502.8 L1641.3 502.8 L1642.4 502.5 L1643.4 502.3 L1644.5 502.4 L1645.5 502.4 L1646.6 502.4 L1647.6 502.2 L1648.7 502 L1649.7 502.1 L1650.8 501.9 L1651.8 501.9 L1652.9 501.9 L1653.9 501.8 L1655 501.7 L1656.1 501.8 L1657.1 501.9 L1658.2 501.7 L1659.2 501.7 L1660.3 501.8 L1661.3 501.7 L1662.4 502 L1663.4 501.9 L1664.5 502.1 L1665.5 502.2 L1666.6 502.4 L1667.6 502.4 L1668.7 502.2 L1669.8 502.2 L1670.8 502.3 L1671.9 501.9 L1672.9 502 L1674 501.7 L1675 501.7 L1676.1 501.9 L1677.1 501.5 L1678.2 501.6 L1679.2 501.4 L1680.3 501.2 L1681.3 501.4 L1682.4 501.4 L1683.5 501.4 L1684.5 501.3 L1685.6 501.3 L1686.6 501.5 L1687.7 501.4 L1688.7 501.2 L1689.8 501.2 L1690.8 501.1 L1691.9 501.2 L1692.9 501.1 L1694 501 L1695 501 L1696.1 500.7 L1697.2 500.6 L1698.2 500.4 L1699.3 500.3 L1700.3 500.3 L1701.4 500.6 L1702.4 500.4 L1703.5 500.1 L1704.5 500.1 L1705.6 500.2 L1706.6 500.2 L1707.7 500 L1708.7 500 L1709.8 500.2 L1710.9 500.2 L1711.9 500.4 L1713 500.4 L1714 500.5 L1715.1 500.6 L1716.1 500.3 L1717.2 500.1 L1718.2 500.4 L1719.3 500.5 L1720.3 500.5 L1721.4 500.5 L1722.4 500.7 L1723.5 500.5 L1724.6 500.7 L1725.6 500.5 L1726.7 500.3 L1727.7 500.3 L1728.8 500.4 L1729.8 500.3 L1730.9 500.2 L1731.9 500.5 L1733 500.6 L1734 500.4 L1735.1 500.4 L1736.1 500.4 L1737.2 500.4 L1738.3 500.5 L1739.3 500.5 L1740.4 499.9 L1741.4 500.1 L1742.5 499.7 L1743.5 499.6 L1744.6 499.5 L1745.6 499.5 L1746.7 499.5 L1747.7 499.2 L1748.8 499.1 L1749.9 499.1 L1750.9 499.1 L1752 499.1 L1753 499.3 L1754.1 499.3 L1755.1 499.4 L1756.2 499.2 L1757.2 499.1 L1758.3 499.4 L1759.3 499.4 L1760.4 499.2 L1761.4 499.3 L1762.5 499.5 L1763.6 499.2 L1764.6 499.2" fill="none" stroke="#9cc85c" stroke-width="0.8" stroke-linejoin="round"/>
<path d="M1449.5 505.3 L1450.6 505.2 L1451.6 505.1 L1452.7 505.3 L1453.7 505.6 L1454.8 505.7 L1455.8 505.6 L1456.9 505.5 L1457.9 505.8 L1459 506.1 L1460 506 L1461.1 505.9 L1462.1 505.7 L1463.2 505.6 L1464.3 505.8 L1465.3 505.9 L1466.4 505.5 L1467.4 505.7 L1468.5 505.9 L1469.5 506.2 L1470.6 506.2 L1471.6 506.3 L1472.7 506.4 L1473.7 506.5 L1474.8 506.5 L1475.8 506.4 L1476.9 506.3 L1478 506.4 L1479 506.8 L1480.1 506.7 L1481.1 507 L1482.2 507.1 L1483.2 507.4 L1484.3 507.4 L1485.3 507.6 L1486.4 507.5 L1487.4 507 L1488.5 507 L1489.5 506.8 L1490.6 507.1 L1491.7 507.1 L1492.7 507 L1493.8 507 L1494.8 506.9 L1495.9 506.9 L1496.9 507 L1498 506.9 L1499 507 L1500.1 506.7 L1501.1 506.8 L1502.2 506.6 L1503.2 506.6 L1504.3 506.5 L1505.4 506.6 L1506.4 506.4 L1507.5 506.4 L1508.5 506.2 L1509.6 506.1 L1510.6 506.2 L1511.7 506.3 L1512.7 506.2 L1513.8 506.1 L1514.8 505.9 L1515.9 506 L1516.9 505.9 L1518 505.9 L1519.1 505.9 L1520.1 505.9 L1521.2 505.9 L1522.2 506 L1523.3 506.2 L1524.3 506.3 L1525.4 506.1 L1526.4 505.8 L1527.5 505.6 L1528.5 505.5 L1529.6 505.3 L1530.6 505.2 L1531.7 505.2 L1532.8 505.1 L1533.8 504.8 L1534.9 504.9 L1535.9 505.1 L1537 504.7 L1538 504.7 L1539.1 504.6 L1540.1 504.5 L1541.2 504.7 L1542.2 504.3 L1543.3 504 L1544.3 504.1 L1545.4 504 L1546.5 504 L1547.5 504.2 L1548.6 504.3 L1549.6 504.2 L1550.7 504 L1551.7 503.9 L1552.8 504 L1553.8 503.7 L1554.9 503.9 L1555.9 503.8 L1557 503.6 L1558 503.7 L1559.1 504 L1560.2 504.2 L1561.2 504.1 L1562.3 503.9 L1563.3 503.6 L1564.4 503.8 L1565.4 503.8 L1566.5 503.6 L1567.5 503.6 L1568.6 504 L1569.6 503.8 L1570.7 503.3 L1571.7 503.1 L1572.8 503.3 L1573.9 503.3 L1574.9 503.3 L1576 502.8 L1577 502.7 L1578.1 502.7 L1579.1 502.4 L1580.2 502.4 L1581.2 502.1 L1582.3 502.3 L1583.3 502.4 L1584.4 502.3 L1585.4 502 L1586.5 501.9 L1587.6 501.9 L1588.6 502.3 L1589.7 502.4 L1590.7 502.4 L1591.8 502.5 L1592.8 502.3 L1593.9 502.3 L1594.9 502.2 L1596 502.1 L1597 502.1 L1598.1 502 L1599.1 501.9 L1600.2 501.7 L1601.3 501.8 L1602.3 501.8 L1603.4 502.1 L1604.4 501.7 L1605.5 501.5 L1606.5 501.5 L1607.6 501.6 L1608.6 501.8 L1609.7 501.7 L1610.7 501.7 L1611.8 501.3 L1612.8 501.2 L1613.9 501.4 L1615 501.8 L1616 501.5 L1617.1 501.5 L1618.1 501.7 L1619.2 501.6 L1620.2 501.9 L1621.3 501.2 L1622.3 501 L1623.4 500.9 L1624.4 501 L1625.5 501.3 L1626.5 501.3 L1627.6 501.6 L1628.7 501.4 L1629.7 501.7 L1630.8 501.8 L1631.8 501.5 L1632.9 501.1 L1633.9 501.3 L1635 501.5 L1636 501.3 L1637.1 501.1 L1638.1 501.2 L1639.2 501.3 L1640.2 501.3 L1641.3 501.5 L1642.4 501.5 L1643.4 501.2 L1644.5 501 L1645.5 500.6 L1646.6 500.6 L1647.6 500.6 L1648.7 500.7 L1649.7 500.7 L1650.8 500.9 L1651.8 501.1 L1652.9 500.9 L1653.9 500.6 L1655 500.4 L1656.1 500.2 L1657.1 500.1 L1658.2 500.2 L1659.2 500.2 L1660.3 500.3 L1661.3 500.4 L1662.4 500.7 L1663.4 500.9 L1664.5 500.8 L1665.5 500.7 L1666.6 500.7 L1667.6 500.3 L1668.7 500.2 L1669.8 500.1 L1670.8 499.8 L1671.9 500 L1672.9 500.3 L1674 500.1 L1675 500.2 L1676.1 499.9 L1677.1 499.8 L1678.2 499.6 L1679.2 499.5 L1680.3 499.8 L1681.3 499.7 L1682.4 499.8 L1683.5 499.9 L1684.5 499.9 L1685.6 499.7 L1686.6 499.5 L1687.7 499.3 L1688.7 499.6 L1689.8 499.7 L1690.8 500 L1691.9 500 L1692.9 499.8 L1694 499.9 L1695 499.7 L1696.1 499.6 L1697.2 499.4 L1698.2 499.5 L1699.3 499.6 L1700.3 499.7 L1701.4 499.3 L1702.4 499.1 L1703.5 499.1 L1704.5 499 L1705.6 499 L1706.6 498.9 L1707.7 499 L1708.7 499 L1709.8 499.2 L1710.9 499.2 L1711.9 498.9 L1713 498.8 L1714 498.8 L1715.1 498.8 L1716.1 498.8 L1717.2 498.7 L1718.2 498.8 L1719.3 498.7 L1720.3 498.6 L1721.4 498.8 L1722.4 498.9 L1723.5 499 L1724.6 499.1 L1725.6 498.9 L1726.7 499.2 L1727.7 499.2 L1728.8 499.2 L1729.8 499.1 L1730.9 499 L1731.9 498.7 L1733 498.6 L1734 498.5 L1735.1 498.6 L1736.1 498.5 L1737.2 498.3 L1738.3 498.3 L1739.3 498.4 L1740.4 498.5 L1741.4 498.6 L1742.5 498.7 L1743.5 498.4 L1744.6 498.2 L1745.6 498.2 L1746.7 497.8 L1747.7 497.9 L1748.8 497.7 L1749.9 497.5 L1750.9 497.7 L1752 497.9 L1753 497.9 L1754.1 497.7 L1755.1 497.4 L1756.2 497.5 L1757.2 497.3 L1758.3 497.3 L1759.3 497.3 L1760.4 497.3 L1761.4 497.3 L1762.5 497.5 L1763.6 497.6 L1764.6 497.7" fill="none" stroke="#79b033" stroke-width="2.2" stroke-linejoin="round"/>
<path d="M1449.5 505.1 L1450.6 505.3 L1451.6 505.2 L1452.7 505.3 L1453.7 505.2 L1454.8 505.1 L1455.8 505 L1456.9 505.1 L1457.9 505.1 L1459 505.1 L1460 505.1 L1461.1 505.1 L1462.1 505.2 L1463.2 505.2 L1464.3 505.2 L1465.3 505.3 L1466.4 505.3 L1467.4 505.1 L1468.5 505.1 L1469.5 505.1 L1470.6 505 L1471.6 505 L1472.7 504.9 L1473.7 505 L1474.8 504.9 L1475.8 504.9 L1476.9 505.3 L1478 505.2 L1479 505.1 L1480.1 504.8 L1481.1 504.9 L1482.2 504.9 L1483.2 504.8 L1484.3 504.9 L1485.3 504.7 L1486.4 504.6 L1487.4 504.7 L1488.5 504.8 L1489.5 504.8 L1490.6 504.5 L1491.7 504.2 L1492.7 504.5 L1493.8 504.7 L1494.8 504.6 L1495.9 504.6 L1496.9 504.6 L1498 504.5 L1499 504.5 L1500.1 504.4 L1501.1 504.3 L1502.2 504.4 L1503.2 504.2 L1504.3 504.3 L1505.4 504.1 L1506.4 504 L1507.5 504 L1508.5 504 L1509.6 504 L1510.6 504.2 L1511.7 504.2 L1512.7 504.1 L1513.8 504.3 L1514.8 504.4 L1515.9 504.2 L1516.9 504.1 L1518 504.2 L1519.1 504.1 L1520.1 504.1 L1521.2 503.9 L1522.2 503.9 L1523.3 503.9 L1524.3 504 L1525.4 503.9 L1526.4 503.9 L1527.5 503.9 L1528.5 503.9 L1529.6 503.9 L1530.6 503.8 L1531.7 503.9 L1532.8 504 L1533.8 504.1 L1534.9 503.9 L1535.9 503.9 L1537 503.7 L1538 503.6 L1539.1 503.6 L1540.1 503.4 L1541.2 503.3 L1542.2 503.3 L1543.3 503.4 L1544.3 503.3 L1545.4 503.5 L1546.5 503.5 L1547.5 503.5 L1548.6 503.4 L1549.6 503.3 L1550.7 503.3 L1551.7 503.1 L1552.8 503 L1553.8 502.9 L1554.9 503 L1555.9 502.9 L1557 503.2 L1558 503.2 L1559.1 503.1 L1560.2 502.8 L1561.2 502.9 L1562.3 502.6 L1563.3 502.3 L1564.4 502.1 L1565.4 502.4 L1566.5 502.3 L1567.5 502.3 L1568.6 502.2 L1569.6 502.2 L1570.7 502.3 L1571.7 502.3 L1572.8 502.1 L1573.9 502 L1574.9 502.1 L1576 502 L1577 501.9 L1578.1 501.8 L1579.1 501.8 L1580.2 501.9 L1581.2 502 L1582.3 502 L1583.3 502 L1584.4 502.2 L1585.4 502.3 L1586.5 502.1 L1587.6 502.1 L1588.6 502.2 L1589.7 502.1 L1590.7 501.9 L1591.8 501.6 L1592.8 501.6 L1593.9 501.7 L1594.9 501.7 L1596 501.7 L1597 501.7 L1598.1 501.6 L1599.1 501.6 L1600.2 501.6 L1601.3 501.6 L1602.3 501.6 L1603.4 501.6 L1604.4 501.7 L1605.5 501.8 L1606.5 501.9 L1607.6 501.7 L1608.6 501.7 L1609.7 502.1 L1610.7 501.9 L1611.8 501.9 L1612.8 502 L1613.9 501.9 L1615 502.3 L1616 502.4 L1617.1 502.2 L1618.1 501.8 L1619.2 501.5 L1620.2 501.6 L1621.3 501.6 L1622.3 501.5 L1623.4 501.6 L1624.4 501.4 L1625.5 501.5 L1626.5 501.5 L1627.6 501.6 L1628.7 501.6 L1629.7 501.6 L1630.8 501.4 L1631.8 501.6 L1632.9 501.6 L1633.9 501.4 L1635 501.6 L1636 501.5 L1637.1 501.5 L1638.1 501.6 L1639.2 501.6 L1640.2 501.4 L1641.3 501.2 L1642.4 501.1 L1643.4 501.1 L1644.5 501.2 L1645.5 501.2 L1646.6 500.9 L1647.6 500.8 L1648.7 501 L1649.7 501.2 L1650.8 501.3 L1651.8 501.2 L1652.9 501.2 L1653.9 501.2 L1655 501.1 L1656.1 501 L1657.1 500.9 L1658.2 500.7 L1659.2 500.9 L1660.3 500.8 L1661.3 500.7 L1662.4 500.9 L1663.4 500.7 L1664.5 500.8 L1665.5 501 L1666.6 500.6 L1667.6 500.4 L1668.7 500.3 L1669.8 500.1 L1670.8 500 L1671.9 500.1 L1672.9 500.1 L1674 499.9 L1675 499.9 L1676.1 499.9 L1677.1 500 L1678.2 499.9 L1679.2 500 L1680.3 500.1 L1681.3 500.3 L1682.4 500.4 L1683.5 500.4 L1684.5 500.3 L1685.6 500.4 L1686.6 500.5 L1687.7 500.4 L1688.7 500.4 L1689.8 500.2 L1690.8 500.3 L1691.9 500.3 L1692.9 500.2 L1694 500.1 L1695 500.1 L1696.1 500.1 L1697.2 500.3 L1698.2 500.3 L1699.3 500.2 L1700.3 500.1 L1701.4 500 L1702.4 500.2 L1703.5 500.1 L1704.5 500.2 L1705.6 500.2 L1706.6 500.5 L1707.7 500.5 L1708.7 500.6 L1709.8 500.4 L1710.9 500.4 L1711.9 500.2 L1713 500.2 L1714 500 L1715.1 500.1 L1716.1 499.8 L1717.2 500.3 L1718.2 501.2 L1719.3 501.7 L1720.3 501.8 L1721.4 501.9 L1722.4 502 L1723.5 502.1 L1724.6 502.1 L1725.6 502.2 L1726.7 502.1 L1727.7 502.4 L1728.8 502.2 L1729.8 502.3 L1730.9 502 L1731.9 502.1 L1733 502.2 L1734 502.2 L1735.1 502.2 L1736.1 502.1 L1737.2 502.1 L1738.3 502.2 L1739.3 502.1 L1740.4 502 L1741.4 502.2 L1742.5 502.4 L1743.5 502.4 L1744.6 502.1 L1745.6 502 L1746.7 501.9 L1747.7 502.4 L1748.8 503.3 L1749.9 503.6 L1750.9 503.6 L1752 503.7 L1753 503.4 L1754.1 503.6 L1755.1 503.4 L1756.2 503.3 L1757.2 503.5 L1758.3 503.4 L1759.3 503.5 L1760.4 503.4 L1761.4 503.5 L1762.5 503.6 L1763.6 503.2 L1764.6 503.3" fill="none" stroke="#2f3a96" stroke-width="2.0" stroke-linejoin="round"/>
<path d="M1449.5 504.6 L1450.2 497.2 L1450.8 489.3 L1451.5 483 L1452.2 476.9 L1452.9 471.9 L1453.5 467.4 L1454.2 463.3 L1454.9 459 L1455.5 454.4 L1456.2 451.2 L1456.9 447.2 L1457.5 444.4 L1458.2 441.2 L1458.9 438.2 L1459.6 436.4 L1460.2 435 L1460.9 433.4 L1461.6 431.7 L1462.2 429.9 L1462.9 430.1 L1463.6 429.9 L1464.2 429.1 L1464.9 427.9 L1465.6 427.3 L1466.3 427.4 L1466.9 426.9 L1467.6 426.3 L1468.3 425.2 L1468.9 424.6 L1469.6 423.6 L1470.3 423.3 L1470.9 422.7 L1471.6 422.2 L1472.3 422.2 L1473 422 L1473.6 420.8 L1474.3 419.9 L1475 419.7 L1475.6 419 L1476.3 419 L1477 418.7 L1477.6 418.5 L1478.3 417.9 L1479 418.1 L1479.7 417.6 L1480.3 417.5 L1481 417.6 L1481.7 417.4 L1482.3 416.7 L1483 416.6 L1483.7 415.9 L1484.3 415.8 L1485 415.5 L1485.7 415.1 L1486.4 414.6 L1487 414.1 L1487.7 414.1 L1488.4 413.2 L1489 413.2 L1489.7 413.4 L1490.4 412.4 L1491 411 L1491.7 411.2 L1492.4 410.9 L1493.1 410.8 L1493.7 410.4 L1494.4 409.3 L1495.1 409.1 L1495.7 409.8 L1496.4 408.9 L1497.1 408.2 L1497.7 407.6 L1498.4 407.3 L1499.1 407.9 L1499.8 407 L1500.4 407.3 L1501.1 407.6 L1501.8 406.6 L1502.4 406.4 L1502.4 430.4 L1501.8 430.5 L1501.1 431.1 L1500.4 430.7 L1499.8 430 L1499.1 431.1 L1498.4 431.4 L1497.7 431.3 L1497.1 431.8 L1496.4 432 L1495.7 432.6 L1495.1 432 L1494.4 431.6 L1493.7 432.2 L1493.1 432.8 L1492.4 432.6 L1491.7 432.6 L1491 432.1 L1490.4 432.8 L1489.7 433.2 L1489 432.7 L1488.4 432.8 L1487.7 433.5 L1487 433.6 L1486.4 433.8 L1485.7 433.6 L1485 434.1 L1484.3 434.3 L1483.7 434.3 L1483 434.6 L1482.3 434.8 L1481.7 434.8 L1481 434.8 L1480.3 434.4 L1479.7 434.3 L1479 434.1 L1478.3 433.4 L1477.6 433.2 L1477 433.5 L1476.3 433.7 L1475.6 434.3 L1475 435.2 L1474.3 435.5 L1473.6 436.2 L1473 437.2 L1472.3 437.5 L1471.6 437.5 L1470.9 437.6 L1470.3 437.8 L1469.6 437.9 L1468.9 439.4 L1468.3 439.5 L1467.6 440.4 L1466.9 441.2 L1466.3 442.3 L1465.6 441.5 L1464.9 441.9 L1464.2 442.8 L1463.6 443 L1462.9 443.2 L1462.2 443.1 L1461.6 444.2 L1460.9 445.2 L1460.2 446.1 L1459.6 447.1 L1458.9 448.3 L1458.2 450.6 L1457.5 453 L1456.9 455.5 L1456.2 459.1 L1455.5 462 L1454.9 466 L1454.2 469 L1453.5 472.6 L1452.9 476.3 L1452.2 480.7 L1451.5 486.3 L1450.8 491.7 L1450.2 498.3 L1449.5 504.7 Z" fill="#ead3c5" fill-opacity="1" stroke="none"/><path d="M1449.5 504.7 L1450.2 498.3 L1450.8 491.7 L1451.5 486.3 L1452.2 480.7 L1452.9 476.3 L1453.5 472.6 L1454.2 469 L1454.9 466 L1455.5 462 L1456.2 459.1 L1456.9 455.5 L1457.5 453 L1458.2 450.6 L1458.9 448.3 L1459.6 447.1 L1460.2 446.1 L1460.9 445.2 L1461.6 444.2 L1462.2 443.1 L1462.9 443.2 L1463.6 443 L1464.2 442.8 L1464.9 441.9 L1465.6 441.5 L1466.3 442.3 L1466.9 441.2 L1467.6 440.4 L1468.3 439.5 L1468.9 439.4 L1469.6 437.9 L1470.3 437.8 L1470.9 437.6 L1471.6 437.5 L1472.3 437.5 L1473 437.2 L1473.6 436.2 L1474.3 435.5 L1475 435.2 L1475.6 434.3 L1476.3 433.7 L1477 433.5 L1477.6 433.2 L1478.3 433.4 L1479 434.1 L1479.7 434.3 L1480.3 434.4 L1481 434.8 L1481.7 434.8 L1482.3 434.8 L1483 434.6 L1483.7 434.3 L1484.3 434.3 L1485 434.1 L1485.7 433.6 L1486.4 433.8 L1487 433.6 L1487.7 433.5 L1488.4 432.8 L1489 432.7 L1489.7 433.2 L1490.4 432.8 L1491 432.1 L1491.7 432.6 L1492.4 432.6 L1493.1 432.8 L1493.7 432.2 L1494.4 431.6 L1495.1 432 L1495.7 432.6 L1496.4 432 L1497.1 431.8 L1497.7 431.3 L1498.4 431.4 L1499.1 431.1 L1499.8 430 L1500.4 430.7 L1501.1 431.1 L1501.8 430.5 L1502.4 430.4" fill="none" stroke="#d9aa94" stroke-width="0.9"/><path d="M1449.5 504.6 L1450.2 497.2 L1450.8 489.3 L1451.5 483 L1452.2 476.9 L1452.9 471.9 L1453.5 467.4 L1454.2 463.3 L1454.9 459 L1455.5 454.4 L1456.2 451.2 L1456.9 447.2 L1457.5 444.4 L1458.2 441.2 L1458.9 438.2 L1459.6 436.4 L1460.2 435 L1460.9 433.4 L1461.6 431.7 L1462.2 429.9 L1462.9 430.1 L1463.6 429.9 L1464.2 429.1 L1464.9 427.9 L1465.6 427.3 L1466.3 427.4 L1466.9 426.9 L1467.6 426.3 L1468.3 425.2 L1468.9 424.6 L1469.6 423.6 L1470.3 423.3 L1470.9 422.7 L1471.6 422.2 L1472.3 422.2 L1473 422 L1473.6 420.8 L1474.3 419.9 L1475 419.7 L1475.6 419 L1476.3 419 L1477 418.7 L1477.6 418.5 L1478.3 417.9 L1479 418.1 L1479.7 417.6 L1480.3 417.5 L1481 417.6 L1481.7 417.4 L1482.3 416.7 L1483 416.6 L1483.7 415.9 L1484.3 415.8 L1485 415.5 L1485.7 415.1 L1486.4 414.6 L1487 414.1 L1487.7 414.1 L1488.4 413.2 L1489 413.2 L1489.7 413.4 L1490.4 412.4 L1491 411 L1491.7 411.2 L1492.4 410.9 L1493.1 410.8 L1493.7 410.4 L1494.4 409.3 L1495.1 409.1 L1495.7 409.8 L1496.4 408.9 L1497.1 408.2 L1497.7 407.6 L1498.4 407.3 L1499.1 407.9 L1499.8 407 L1500.4 407.3 L1501.1 407.6 L1501.8 406.6 L1502.4 406.4" fill="none" stroke="#d9aa94" stroke-width="0.9"/>
<path d="M1449.5 504.7 L1450.2 497.8 L1450.8 490.8 L1451.5 485.2 L1452.2 479.4 L1452.9 475 L1453.5 470.6 L1454.2 466.5 L1454.9 463 L1455.5 458.7 L1456.2 455.3 L1456.9 451.7 L1457.5 449.1 L1458.2 446.3 L1458.9 443.6 L1459.6 441.9 L1460.2 440.6 L1460.9 439.5 L1461.6 438 L1462.2 436.4 L1462.9 436.6 L1463.6 436.6 L1464.2 436.3 L1464.9 435.2 L1465.6 435 L1466.3 435.2 L1466.9 434.5 L1467.6 433.9 L1468.3 432.8 L1468.9 432.4 L1469.6 431.3 L1470.3 431.2 L1470.9 430.5 L1471.6 430.1 L1472.3 430.2 L1473 429.9 L1473.6 429 L1474.3 428.2 L1475 428 L1475.6 427.4 L1476.3 427 L1477 426.5 L1477.6 426.3 L1478.3 426.1 L1479 426.3 L1479.7 426.1 L1480.3 425.9 L1481 426 L1481.7 425.9 L1482.3 425.6 L1483 425.3 L1483.7 424.7 L1484.3 424.8 L1485 424.7 L1485.7 424.4 L1486.4 424.3 L1487 423.9 L1487.7 423.8 L1488.4 423.2 L1489 423.1 L1489.7 423.3 L1490.4 422.9 L1491 422.1 L1491.7 422.6 L1492.4 422.4 L1493.1 422.2 L1493.7 421.6 L1494.4 420.9 L1495.1 420.8 L1495.7 421.2 L1496.4 420.8 L1497.1 420.3 L1497.7 420 L1498.4 419.8 L1499.1 419.9 L1499.8 418.9 L1500.4 419.2 L1501.1 419.6 L1501.8 419 L1502.4 418.8" fill="none" stroke="#a63f1b" stroke-width="2.6" stroke-linejoin="round"/>
</g>
<rect x="1449.5" y="331.7" width="314.7" height="216.7" fill="none" stroke="#444444" stroke-width="1.25"/>
<path d="M1525.1 548.4 v-3.6 M1525.1 331.7 v3.6 M1600.8 548.4 v-3.6 M1600.8 331.7 v3.6 M1676.4 548.4 v-3.6 M1676.4 331.7 v3.6 M1752 548.4 v-3.6 M1752 331.7 v3.6 M1449.5 461.7 h3.6 M1764.2 461.7 h-3.6 M1449.5 375 h3.6 M1764.2 375 h-3.6" stroke="#444444" stroke-width="1.1" fill="none"/>
<text x="1449.5" y="578" font-size="23" text-anchor="middle" fill="#444444">0</text>
<text x="1525.1" y="578" font-size="23" text-anchor="middle" fill="#444444">60</text>
<text x="1600.8" y="578" font-size="23" text-anchor="middle" fill="#444444">120</text>
<text x="1676.4" y="578" font-size="23" text-anchor="middle" fill="#444444">180</text>
<text x="1750.4" y="578" font-size="23" text-anchor="middle" fill="#444444">240</text>
<text x="1443.9" y="557.6" font-size="23" text-anchor="end" fill="#444444">0</text>
<text x="1443.9" y="470.9" font-size="23" text-anchor="end" fill="#444444">2</text>
<text x="1443.9" y="384.2" font-size="23" text-anchor="end" fill="#444444">4</text>
<text x="1609" y="607.8" font-size="25.8" text-anchor="middle" fill="#444444">Time (s)</text>
<text transform="translate(1422.5 441.2) rotate(-90)" font-size="25.4" text-anchor="middle" fill="#444444">Blob radius</text>
<text x="1370.2" y="330.3" font-size="37.2" font-weight="700" fill="#111">D</text>
<text x="1453.5" y="404" font-size="20.4" text-anchor="start" fill="#a6401e" textLength="49.4" lengthAdjust="spacingAndGlyphs">35°C</text>
<text x="1636.6" y="491" font-size="20.4" text-anchor="start" fill="#7ab03c" textLength="48.6" lengthAdjust="spacingAndGlyphs">25°C</text>
<text x="1675.7" y="526.8" font-size="20.4" text-anchor="start" fill="#2c2a80" textLength="48.2" lengthAdjust="spacingAndGlyphs">10°C</text>
</g>
</svg>
</body></html>
